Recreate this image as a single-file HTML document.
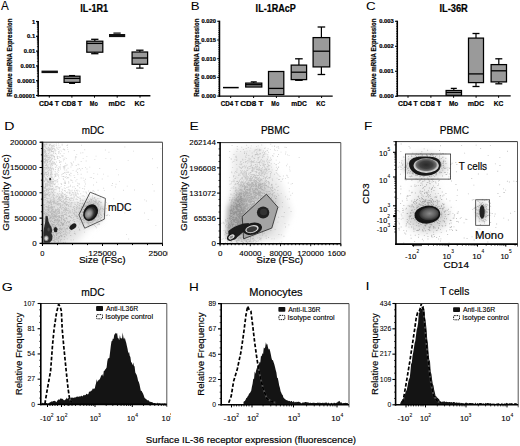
<!DOCTYPE html>
<html><head><meta charset="utf-8"><title>figure</title>
<style>
html,body{margin:0;padding:0;background:#fff;width:520px;height:446px;overflow:hidden}
svg{display:block}
text{font-family:"Liberation Sans",sans-serif;stroke:#000}
</style></head><body>
<svg width="520" height="446" viewBox="0 0 520 446">
<defs>
<radialGradient id="gD" cx="0.4" cy="0.6" r="0.5"><stop offset="0" stop-color="#b0b0b0"/><stop offset="0.5" stop-color="#8a8a8a"/><stop offset="0.85" stop-color="#4a4a4a"/><stop offset="1" stop-color="#2a2a2a"/></radialGradient><radialGradient id="gT" cx="0.5" cy="0.45" r="0.5"><stop offset="0" stop-color="#2a2a2a"/><stop offset="0.5" stop-color="#3e3e3e"/><stop offset="0.78" stop-color="#6a6a6a"/><stop offset="0.9" stop-color="#bdbdbd"/><stop offset="1" stop-color="#d6d6d6"/></radialGradient><radialGradient id="gN" cx="0.58" cy="0.45" r="0.5"><stop offset="0" stop-color="#8a8a8a"/><stop offset="0.6" stop-color="#5a5a5a"/><stop offset="0.9" stop-color="#333"/><stop offset="1" stop-color="#1a1a1a"/></radialGradient><clipPath id="hc3"><path d="M41.5 404.3L42.2 402.5L42.9 403.6L43.6 403.2L44.3 403.2L45.0 403.3L45.7 402.5L46.4 403.2L47.1 402.9L47.8 404.5L48.5 403.2L49.2 402.7L49.9 402.4L50.6 401.9L51.3 401.5L52.0 401.4L52.7 401.4L53.4 400.9L54.1 401.0L54.8 400.8L55.5 401.2L56.2 402.2L56.9 401.5L57.6 400.3L58.3 399.6L59.0 399.5L59.7 399.7L60.4 398.5L61.1 398.2L61.8 399.1L62.5 398.7L63.2 399.4L63.9 400.2L64.6 400.3L65.3 399.6L66.0 399.2L66.7 397.4L67.4 399.0L68.1 398.3L68.8 398.1L69.5 398.8L70.2 398.7L70.9 398.1L71.6 397.6L72.3 397.8L73.0 397.6L73.7 398.0L74.4 397.6L75.1 397.3L75.8 397.5L76.5 396.8L77.2 396.4L77.9 396.8L78.6 396.7L79.3 396.4L80.0 396.2L80.7 396.6L81.4 395.4L82.1 396.4L82.8 396.1L83.5 395.0L84.2 395.4L84.9 394.8L85.6 395.2L86.3 393.8L87.0 394.0L87.7 394.4L88.4 394.0L89.1 391.6L89.8 391.7L90.5 391.5L91.2 390.2L91.9 390.9L92.6 388.6L93.3 389.3L94.0 388.0L94.7 388.9L95.4 385.5L96.1 382.9L96.8 379.2L97.5 382.1L98.2 380.4L98.9 379.7L99.6 379.5L100.3 377.9L101.0 376.0L101.7 375.0L102.4 374.3L103.1 376.4L103.8 371.1L104.5 370.7L105.2 369.5L105.9 368.8L106.6 367.4L107.3 361.6L108.0 358.2L108.7 358.6L109.4 357.8L110.1 352.1L110.8 346.1L111.5 341.2L112.2 340.9L112.9 338.6L113.6 338.9L114.3 334.4L115.0 334.3L115.7 332.8L116.4 333.8L117.1 333.0L117.8 338.1L118.5 338.3L119.2 340.3L119.9 334.9L120.6 338.2L121.3 338.1L122.0 338.9L122.7 332.6L123.4 337.3L124.1 339.4L124.8 337.6L125.5 340.5L126.2 342.7L126.9 346.1L127.6 349.0L128.3 353.4L129.0 351.6L129.7 355.7L130.4 357.0L131.1 362.2L131.8 362.4L132.5 365.2L133.2 362.5L133.9 365.8L134.6 366.5L135.3 372.6L136.0 373.8L136.7 375.0L137.4 377.4L138.1 380.8L138.8 382.0L139.5 384.2L140.2 387.7L140.9 391.0L141.6 390.8L142.3 392.3L143.0 393.6L143.7 395.2L144.4 397.5L145.1 398.5L145.8 398.7L146.5 399.4L147.2 399.9L147.9 400.4L148.6 400.3L149.3 401.3L150.0 401.9L150.7 401.8L151.4 402.1L152.1 402.2L152.8 402.5L153.5 403.2L154.2 402.9L154.9 403.1L155.6 403.5L156.3 403.5L157.0 403.9L157.7 402.5L158.4 403.7L159.1 403.2L159.8 403.4L160.5 403.7L161.2 403.8L161.9 403.9L162.6 403.5L163.3 404.1L164.0 403.4L164.7 403.5L165.4 403.9L166.0 403.6L166.0 404.5L41.5 404.5Z"/></clipPath><clipPath id="hc4"><path d="M243.5 402.1L244.2 401.3L244.9 401.0L245.6 399.7L246.3 398.0L247.0 397.7L247.7 396.3L248.4 395.4L249.1 393.6L249.8 393.2L250.5 392.0L251.2 390.7L251.9 386.8L252.6 383.7L253.3 378.6L254.0 379.3L254.7 371.4L255.4 373.8L256.1 370.4L256.8 368.2L257.5 366.7L258.2 364.8L258.9 364.6L259.6 361.9L260.3 362.6L261.0 355.5L261.7 356.5L262.4 353.2L263.1 354.0L263.8 347.5L264.5 348.4L265.2 347.1L265.9 342.2L266.6 344.8L267.3 344.1L268.0 347.4L268.7 349.5L269.4 348.7L270.1 351.1L270.8 354.2L271.5 357.9L272.2 360.2L272.9 359.9L273.6 362.3L274.3 364.3L275.0 367.1L275.7 369.9L276.4 372.4L277.1 377.7L277.8 378.1L278.5 381.6L279.2 385.5L279.9 387.8L280.6 391.2L281.3 392.8L282.0 394.5L282.7 395.1L283.4 397.5L284.1 398.3L284.8 399.0L285.5 399.6L286.2 399.9L286.9 400.3L287.6 400.4L288.3 400.7L289.0 401.2L289.7 400.8L290.4 401.7L291.1 401.1L291.8 401.0L292.5 402.3L293.2 401.6L293.9 401.3L294.6 402.5L295.3 401.8L296.0 402.4L296.7 401.8L297.4 402.1L298.1 401.7L298.8 401.7L299.5 402.1L300.2 402.5L300.9 402.8L301.6 403.4L302.3 402.2L303.0 402.9L303.7 402.3L304.4 402.5L305.1 402.1L305.8 402.1L306.5 402.3L307.2 402.2L307.9 402.6L308.6 402.4L309.3 403.1L310.0 402.7L310.7 402.7L311.4 403.1L312.1 402.9L312.8 402.7L313.5 402.7L314.2 402.7L314.9 403.1L315.6 403.0L316.3 402.9L317.0 403.0L317.7 402.6L318.4 403.0L319.1 402.3L319.8 403.3L320.5 402.8L321.2 402.9L321.9 403.0L322.6 402.8L323.3 402.7L324.0 403.2L324.7 402.8L325.4 402.5L326.1 403.0L326.8 402.2L327.5 403.4L328.2 402.7L328.9 402.8L329.6 403.6L330.3 403.6L331.0 402.8L331.7 403.0L332.4 403.2L333.1 403.4L333.8 402.8L334.5 402.8L335.2 403.2L335.9 402.9L336.6 402.8L337.3 402.5L338.0 401.6L338.7 401.4L339.4 400.8L340.1 402.0L340.8 402.8L341.5 402.3L342.2 403.3L342.9 403.3L343.6 402.9L344.3 402.9L345.0 403.0L345.7 402.7L346.4 402.9L347.1 403.0L347.8 403.2L348.0 403.0L348.0 404.5L243.5 404.5Z"/></clipPath><clipPath id="hc5"><path d="M400.6 402.5L401.3 401.1L402.0 400.4L402.7 399.5L403.4 398.6L404.1 397.0L404.8 395.1L405.5 392.5L406.2 391.0L406.9 389.3L407.6 385.8L408.3 381.8L409.0 378.9L409.7 378.0L410.4 371.8L411.1 364.0L411.8 362.7L412.5 356.1L413.2 352.5L413.9 348.2L414.6 343.2L415.3 341.0L416.0 335.3L416.7 329.8L417.4 327.2L418.1 323.0L418.8 313.3L419.5 312.4L420.2 309.4L420.9 309.3L421.6 308.6L422.3 309.0L423.0 306.1L423.7 305.9L424.4 310.5L425.1 317.8L425.8 322.5L426.5 328.9L427.2 338.9L427.9 343.2L428.6 354.3L429.3 359.9L430.0 361.2L430.7 371.9L431.4 374.1L432.1 379.8L432.8 384.0L433.5 385.8L434.2 390.1L434.9 392.8L435.6 396.1L436.3 396.2L437.0 397.7L437.7 397.7L438.4 398.7L439.1 399.2L439.8 400.9L440.5 401.2L441.2 402.2L441.9 401.5L442.6 401.7L443.3 401.8L444.0 401.2L444.7 401.5L445.4 402.2L446.1 401.6L446.8 401.9L447.5 401.9L448.2 402.2L448.9 401.9L449.6 402.0L450.3 402.3L451.0 402.3L451.7 402.0L452.4 402.8L453.1 401.9L453.8 402.0L454.5 402.1L455.2 403.1L455.9 402.6L456.6 402.4L457.3 402.4L458.0 403.2L458.7 402.6L459.4 402.6L460.1 403.5L460.8 402.7L461.5 403.1L462.2 403.2L462.9 403.0L463.6 403.2L464.3 403.8L465.0 403.0L465.7 402.7L466.4 402.5L467.1 403.2L467.8 403.1L468.5 403.4L469.2 403.1L469.9 403.1L470.6 403.0L471.3 403.0L472.0 403.3L472.7 403.1L473.4 403.3L474.1 404.1L474.8 403.5L475.5 402.6L476.2 404.0L476.9 403.4L477.6 402.9L478.3 403.7L479.0 403.3L479.7 403.0L480.4 403.0L481.1 402.9L481.8 403.3L482.5 403.8L483.2 403.2L483.9 403.5L484.6 404.1L485.3 402.8L486.0 403.4L486.7 403.2L487.4 402.9L488.1 402.9L488.8 403.3L489.5 403.5L490.2 403.1L490.9 403.4L491.6 403.7L492.3 403.5L493.0 403.7L493.7 403.6L494.4 403.6L495.1 404.2L495.8 403.7L496.5 403.4L497.2 403.7L497.9 403.0L498.6 403.3L499.3 403.7L500.0 403.7L500.7 404.1L501.4 403.4L502.1 402.8L502.8 404.2L503.5 403.9L504.2 403.0L504.9 404.0L505.6 403.5L506.3 402.7L507.0 403.3L507.7 403.2L508.4 404.1L509.1 403.1L509.8 403.4L510.5 403.3L511.2 403.3L511.9 403.1L512.6 403.6L513.3 403.9L514.0 403.7L514.7 403.1L515.4 403.0L516.1 403.5L516.8 403.2L517.0 403.5L517.0 404.8L399.9 404.8Z"/></clipPath>
<filter id="bs" x="-5%" y="-5%" width="110%" height="110%"><feGaussianBlur stdDeviation="0.3"/></filter>
<filter id="bl2" x="-50%" y="-50%" width="200%" height="200%"><feGaussianBlur stdDeviation="2"/></filter>
<filter id="bl3" x="-50%" y="-50%" width="200%" height="200%"><feGaussianBlur stdDeviation="3"/></filter>
<filter id="bl4" x="-50%" y="-50%" width="200%" height="200%"><feGaussianBlur stdDeviation="4"/></filter>
<filter id="bl5" x="-50%" y="-50%" width="200%" height="200%"><feGaussianBlur stdDeviation="5"/></filter>
<clipPath id="cD"><rect x="42.5" y="142.2" width="120" height="101.3"/></clipPath>
<clipPath id="cE"><rect x="220.1" y="142.6" width="120.7" height="101.1"/></clipPath>
<clipPath id="cF"><rect x="396" y="141.6" width="121.5" height="102.5"/></clipPath>
<clipPath id="c3"><rect x="0" y="280" width="171" height="150"/></clipPath>
<clipPath id="c4"><rect x="172" y="280" width="178.5" height="150"/></clipPath>
<clipPath id="c1"><rect x="0" y="112" width="167.6" height="320"/></clipPath>
<clipPath id="c2"><rect x="172" y="112" width="174" height="320"/></clipPath>
</defs>
<text x="0.9" y="9.5" font-size="12" textLength="7.82" lengthAdjust="spacingAndGlyphs" fill="#000" stroke-width="0.02">A</text>
<text x="190.74" y="9.5" font-size="11.4" textLength="8.85" lengthAdjust="spacingAndGlyphs" fill="#000" stroke-width="0.02">B</text>
<text x="366.13" y="9.7" font-size="11.4" textLength="9.67" lengthAdjust="spacingAndGlyphs" fill="#000" stroke-width="0.02">C</text>
<text x="4.17" y="130.4" font-size="11.4" textLength="10.2" lengthAdjust="spacingAndGlyphs" fill="#000" stroke-width="0.02">D</text>
<text x="189.48" y="130.4" font-size="11.4" textLength="9.3" lengthAdjust="spacingAndGlyphs" fill="#000" stroke-width="0.02">E</text>
<text x="363.91" y="130.4" font-size="11.4" textLength="8.35" lengthAdjust="spacingAndGlyphs" fill="#000" stroke-width="0.02">F</text>
<text x="1.69" y="291.2" font-size="11.4" textLength="11.04" lengthAdjust="spacingAndGlyphs" fill="#000" stroke-width="0.02">G</text>
<text x="189.11" y="291.2" font-size="11.4" textLength="9.8" lengthAdjust="spacingAndGlyphs" fill="#000" stroke-width="0.02">H</text>
<text x="365.47" y="289.8" font-size="10.5" textLength="4.09" lengthAdjust="spacingAndGlyphs" fill="#000" stroke-width="0.02">I</text>
<line x1="38.2" y1="20.9" x2="38.2" y2="96.5" stroke="#000" stroke-width="1.5"/>
<line x1="37.5" y1="95.8" x2="150.4" y2="95.8" stroke="#000" stroke-width="1.4"/>
<line x1="36" y1="21.5" x2="38.2" y2="21.5" stroke="#000" stroke-width="1.2"/>
<text x="31.91" y="23.5" font-size="5.6" font-weight="bold" textLength="3.24" lengthAdjust="spacingAndGlyphs" fill="#000" stroke-width="0.2">1</text>
<line x1="36" y1="36.3" x2="38.2" y2="36.3" stroke="#000" stroke-width="1.2"/>
<text x="27.05" y="38.3" font-size="5.6" font-weight="bold" textLength="8.1" lengthAdjust="spacingAndGlyphs" fill="#000" stroke-width="0.2">0.1</text>
<line x1="36" y1="51.1" x2="38.2" y2="51.1" stroke="#000" stroke-width="1.2"/>
<text x="23.82" y="53.1" font-size="5.6" font-weight="bold" textLength="11.34" lengthAdjust="spacingAndGlyphs" fill="#000" stroke-width="0.2">0.01</text>
<line x1="36" y1="65.9" x2="38.2" y2="65.9" stroke="#000" stroke-width="1.2"/>
<text x="20.59" y="67.9" font-size="5.6" font-weight="bold" textLength="14.57" lengthAdjust="spacingAndGlyphs" fill="#000" stroke-width="0.2">0.001</text>
<line x1="36" y1="80.7" x2="38.2" y2="80.7" stroke="#000" stroke-width="1.2"/>
<text x="17.32" y="82.7" font-size="5.6" font-weight="bold" textLength="17.81" lengthAdjust="spacingAndGlyphs" fill="#000" stroke-width="0.2">0.0001</text>
<line x1="36" y1="95.5" x2="38.2" y2="95.5" stroke="#000" stroke-width="1.2"/>
<text x="14.09" y="97.5" font-size="5.6" font-weight="bold" textLength="21.05" lengthAdjust="spacingAndGlyphs" fill="#000" stroke-width="0.2">0.00001</text>
<line x1="36.9" y1="31.84" x2="38.2" y2="31.84" stroke="#000" stroke-width="0.7"/>
<line x1="36.9" y1="29.24" x2="38.2" y2="29.24" stroke="#000" stroke-width="0.7"/>
<line x1="36.9" y1="27.39" x2="38.2" y2="27.39" stroke="#000" stroke-width="0.7"/>
<line x1="36.9" y1="25.96" x2="38.2" y2="25.96" stroke="#000" stroke-width="0.7"/>
<line x1="36.9" y1="24.78" x2="38.2" y2="24.78" stroke="#000" stroke-width="0.7"/>
<line x1="36.9" y1="23.79" x2="38.2" y2="23.79" stroke="#000" stroke-width="0.7"/>
<line x1="36.9" y1="22.93" x2="38.2" y2="22.93" stroke="#000" stroke-width="0.7"/>
<line x1="36.9" y1="22.18" x2="38.2" y2="22.18" stroke="#000" stroke-width="0.7"/>
<line x1="36.9" y1="46.64" x2="38.2" y2="46.64" stroke="#000" stroke-width="0.7"/>
<line x1="36.9" y1="44.04" x2="38.2" y2="44.04" stroke="#000" stroke-width="0.7"/>
<line x1="36.9" y1="42.19" x2="38.2" y2="42.19" stroke="#000" stroke-width="0.7"/>
<line x1="36.9" y1="40.76" x2="38.2" y2="40.76" stroke="#000" stroke-width="0.7"/>
<line x1="36.9" y1="39.58" x2="38.2" y2="39.58" stroke="#000" stroke-width="0.7"/>
<line x1="36.9" y1="38.59" x2="38.2" y2="38.59" stroke="#000" stroke-width="0.7"/>
<line x1="36.9" y1="37.73" x2="38.2" y2="37.73" stroke="#000" stroke-width="0.7"/>
<line x1="36.9" y1="36.98" x2="38.2" y2="36.98" stroke="#000" stroke-width="0.7"/>
<line x1="36.9" y1="61.44" x2="38.2" y2="61.44" stroke="#000" stroke-width="0.7"/>
<line x1="36.9" y1="58.84" x2="38.2" y2="58.84" stroke="#000" stroke-width="0.7"/>
<line x1="36.9" y1="56.99" x2="38.2" y2="56.99" stroke="#000" stroke-width="0.7"/>
<line x1="36.9" y1="55.56" x2="38.2" y2="55.56" stroke="#000" stroke-width="0.7"/>
<line x1="36.9" y1="54.38" x2="38.2" y2="54.38" stroke="#000" stroke-width="0.7"/>
<line x1="36.9" y1="53.39" x2="38.2" y2="53.39" stroke="#000" stroke-width="0.7"/>
<line x1="36.9" y1="52.53" x2="38.2" y2="52.53" stroke="#000" stroke-width="0.7"/>
<line x1="36.9" y1="51.78" x2="38.2" y2="51.78" stroke="#000" stroke-width="0.7"/>
<line x1="36.9" y1="76.24" x2="38.2" y2="76.24" stroke="#000" stroke-width="0.7"/>
<line x1="36.9" y1="73.64" x2="38.2" y2="73.64" stroke="#000" stroke-width="0.7"/>
<line x1="36.9" y1="71.79" x2="38.2" y2="71.79" stroke="#000" stroke-width="0.7"/>
<line x1="36.9" y1="70.36" x2="38.2" y2="70.36" stroke="#000" stroke-width="0.7"/>
<line x1="36.9" y1="69.18" x2="38.2" y2="69.18" stroke="#000" stroke-width="0.7"/>
<line x1="36.9" y1="68.19" x2="38.2" y2="68.19" stroke="#000" stroke-width="0.7"/>
<line x1="36.9" y1="67.33" x2="38.2" y2="67.33" stroke="#000" stroke-width="0.7"/>
<line x1="36.9" y1="66.58" x2="38.2" y2="66.58" stroke="#000" stroke-width="0.7"/>
<line x1="36.9" y1="91.04" x2="38.2" y2="91.04" stroke="#000" stroke-width="0.7"/>
<line x1="36.9" y1="88.44" x2="38.2" y2="88.44" stroke="#000" stroke-width="0.7"/>
<line x1="36.9" y1="86.59" x2="38.2" y2="86.59" stroke="#000" stroke-width="0.7"/>
<line x1="36.9" y1="85.16" x2="38.2" y2="85.16" stroke="#000" stroke-width="0.7"/>
<line x1="36.9" y1="83.98" x2="38.2" y2="83.98" stroke="#000" stroke-width="0.7"/>
<line x1="36.9" y1="82.99" x2="38.2" y2="82.99" stroke="#000" stroke-width="0.7"/>
<line x1="36.9" y1="82.13" x2="38.2" y2="82.13" stroke="#000" stroke-width="0.7"/>
<line x1="36.9" y1="81.38" x2="38.2" y2="81.38" stroke="#000" stroke-width="0.7"/>
<line x1="49.3" y1="95.8" x2="49.3" y2="97.7" stroke="#000" stroke-width="1"/>
<line x1="71.9" y1="95.8" x2="71.9" y2="97.7" stroke="#000" stroke-width="1"/>
<line x1="94.5" y1="95.8" x2="94.5" y2="97.7" stroke="#000" stroke-width="1"/>
<line x1="117.2" y1="95.8" x2="117.2" y2="97.7" stroke="#000" stroke-width="1"/>
<line x1="140" y1="95.8" x2="140" y2="97.7" stroke="#000" stroke-width="1"/>
<text x="39.12" y="105.8" font-size="7.4" font-weight="bold" textLength="19.94" lengthAdjust="spacingAndGlyphs" fill="#000" stroke-width="0.2">CD4 T</text>
<text x="61.41" y="105.8" font-size="7.4" font-weight="bold" textLength="20.75" lengthAdjust="spacingAndGlyphs" fill="#000" stroke-width="0.2">CD8 T</text>
<text x="89.74" y="105.8" font-size="7.4" font-weight="bold" textLength="8.08" lengthAdjust="spacingAndGlyphs" fill="#000" stroke-width="0.2">Mo</text>
<text x="108.54" y="105.8" font-size="7.4" font-weight="bold" textLength="16.46" lengthAdjust="spacingAndGlyphs" fill="#000" stroke-width="0.2">mDC</text>
<text x="134.44" y="105.8" font-size="7.4" font-weight="bold" textLength="10.16" lengthAdjust="spacingAndGlyphs" fill="#000" stroke-width="0.2">KC</text>
<text x="80.31" y="11.8" font-size="10" font-weight="bold" textLength="27.83" lengthAdjust="spacingAndGlyphs" fill="#000" stroke-width="0.2">IL-1R1</text>
<text transform="translate(11.9 96.4) rotate(-90)" x="-0.4" y="0" font-size="6.5" font-weight="bold" textLength="78.17" lengthAdjust="spacingAndGlyphs" stroke-width="0.2">Relative mRNA Expression</text>
<rect x="41.5" y="70.6" width="16.4" height="2.5" fill="#111" stroke="none" stroke-width="1"/>
<line x1="72.05" y1="75.6" x2="72.05" y2="76.2" stroke="#000" stroke-width="1.2"/>
<line x1="69.05" y1="75.6" x2="75.05" y2="75.6" stroke="#000" stroke-width="1.3"/>
<line x1="72.05" y1="82.4" x2="72.05" y2="83.3" stroke="#000" stroke-width="1.2"/>
<line x1="69.05" y1="83.3" x2="75.05" y2="83.3" stroke="#000" stroke-width="1.3"/>
<rect x="64.1" y="76.2" width="15.9" height="6.2" fill="#9a9a9a" stroke="#000" stroke-width="1.25"/>
<line x1="64.1" y1="78.4" x2="80" y2="78.4" stroke="#000" stroke-width="1.3"/>
<line x1="94.8" y1="39.3" x2="94.8" y2="41.2" stroke="#000" stroke-width="1.2"/>
<line x1="91.15" y1="39.3" x2="98.45" y2="39.3" stroke="#000" stroke-width="1.3"/>
<line x1="94.8" y1="52.2" x2="94.8" y2="53.7" stroke="#000" stroke-width="1.2"/>
<line x1="91.15" y1="53.7" x2="98.45" y2="53.7" stroke="#000" stroke-width="1.3"/>
<rect x="86.8" y="41.2" width="16" height="11" fill="#9a9a9a" stroke="#000" stroke-width="1.25"/>
<line x1="86.8" y1="43.4" x2="102.8" y2="43.4" stroke="#000" stroke-width="1.3"/>
<rect x="109" y="34" width="16.2" height="3.1" fill="#111" stroke="none" stroke-width="1"/>
<line x1="139.85" y1="50.2" x2="139.85" y2="52" stroke="#000" stroke-width="1.2"/>
<line x1="136.15" y1="50.2" x2="143.55" y2="50.2" stroke="#000" stroke-width="1.3"/>
<line x1="139.85" y1="64.3" x2="139.85" y2="68.1" stroke="#000" stroke-width="1.2"/>
<line x1="136.15" y1="68.1" x2="143.55" y2="68.1" stroke="#000" stroke-width="1.3"/>
<rect x="132.1" y="52" width="15.5" height="12.3" fill="#9a9a9a" stroke="#000" stroke-width="1.25"/>
<line x1="132.1" y1="58" x2="147.6" y2="58" stroke="#000" stroke-width="1.3"/>
<line x1="113.4" y1="33.1" x2="120.7" y2="33.1" stroke="#000" stroke-width="1.2"/>
<line x1="219.5" y1="20.7" x2="219.5" y2="96.8" stroke="#000" stroke-width="1.5"/>
<line x1="218.8" y1="96.1" x2="332.7" y2="96.1" stroke="#000" stroke-width="1.4"/>
<line x1="217.3" y1="21.3" x2="219.5" y2="21.3" stroke="#000" stroke-width="1.2"/>
<text x="201.47" y="23.3" font-size="5.6" font-weight="bold" textLength="14.57" lengthAdjust="spacingAndGlyphs" fill="#000" stroke-width="0.2">0.020</text>
<line x1="217.3" y1="40" x2="219.5" y2="40" stroke="#000" stroke-width="1.2"/>
<text x="201.39" y="42" font-size="5.6" font-weight="bold" textLength="14.57" lengthAdjust="spacingAndGlyphs" fill="#000" stroke-width="0.2">0.015</text>
<line x1="217.3" y1="58.7" x2="219.5" y2="58.7" stroke="#000" stroke-width="1.2"/>
<text x="201.47" y="60.7" font-size="5.6" font-weight="bold" textLength="14.57" lengthAdjust="spacingAndGlyphs" fill="#000" stroke-width="0.2">0.010</text>
<line x1="217.3" y1="77.4" x2="219.5" y2="77.4" stroke="#000" stroke-width="1.2"/>
<text x="201.39" y="79.4" font-size="5.6" font-weight="bold" textLength="14.57" lengthAdjust="spacingAndGlyphs" fill="#000" stroke-width="0.2">0.005</text>
<line x1="217.3" y1="96.1" x2="219.5" y2="96.1" stroke="#000" stroke-width="1.2"/>
<text x="201.47" y="98.1" font-size="5.6" font-weight="bold" textLength="14.57" lengthAdjust="spacingAndGlyphs" fill="#000" stroke-width="0.2">0.000</text>
<line x1="218.2" y1="23.17" x2="219.5" y2="23.17" stroke="#000" stroke-width="0.7"/>
<line x1="218.2" y1="25.04" x2="219.5" y2="25.04" stroke="#000" stroke-width="0.7"/>
<line x1="218.2" y1="26.91" x2="219.5" y2="26.91" stroke="#000" stroke-width="0.7"/>
<line x1="218.2" y1="28.78" x2="219.5" y2="28.78" stroke="#000" stroke-width="0.7"/>
<line x1="218.2" y1="30.65" x2="219.5" y2="30.65" stroke="#000" stroke-width="0.7"/>
<line x1="218.2" y1="32.52" x2="219.5" y2="32.52" stroke="#000" stroke-width="0.7"/>
<line x1="218.2" y1="34.39" x2="219.5" y2="34.39" stroke="#000" stroke-width="0.7"/>
<line x1="218.2" y1="36.26" x2="219.5" y2="36.26" stroke="#000" stroke-width="0.7"/>
<line x1="218.2" y1="38.13" x2="219.5" y2="38.13" stroke="#000" stroke-width="0.7"/>
<line x1="218.2" y1="41.87" x2="219.5" y2="41.87" stroke="#000" stroke-width="0.7"/>
<line x1="218.2" y1="43.74" x2="219.5" y2="43.74" stroke="#000" stroke-width="0.7"/>
<line x1="218.2" y1="45.61" x2="219.5" y2="45.61" stroke="#000" stroke-width="0.7"/>
<line x1="218.2" y1="47.48" x2="219.5" y2="47.48" stroke="#000" stroke-width="0.7"/>
<line x1="218.2" y1="49.35" x2="219.5" y2="49.35" stroke="#000" stroke-width="0.7"/>
<line x1="218.2" y1="51.22" x2="219.5" y2="51.22" stroke="#000" stroke-width="0.7"/>
<line x1="218.2" y1="53.09" x2="219.5" y2="53.09" stroke="#000" stroke-width="0.7"/>
<line x1="218.2" y1="54.96" x2="219.5" y2="54.96" stroke="#000" stroke-width="0.7"/>
<line x1="218.2" y1="56.83" x2="219.5" y2="56.83" stroke="#000" stroke-width="0.7"/>
<line x1="218.2" y1="60.57" x2="219.5" y2="60.57" stroke="#000" stroke-width="0.7"/>
<line x1="218.2" y1="62.44" x2="219.5" y2="62.44" stroke="#000" stroke-width="0.7"/>
<line x1="218.2" y1="64.31" x2="219.5" y2="64.31" stroke="#000" stroke-width="0.7"/>
<line x1="218.2" y1="66.18" x2="219.5" y2="66.18" stroke="#000" stroke-width="0.7"/>
<line x1="218.2" y1="68.05" x2="219.5" y2="68.05" stroke="#000" stroke-width="0.7"/>
<line x1="218.2" y1="69.92" x2="219.5" y2="69.92" stroke="#000" stroke-width="0.7"/>
<line x1="218.2" y1="71.79" x2="219.5" y2="71.79" stroke="#000" stroke-width="0.7"/>
<line x1="218.2" y1="73.66" x2="219.5" y2="73.66" stroke="#000" stroke-width="0.7"/>
<line x1="218.2" y1="75.53" x2="219.5" y2="75.53" stroke="#000" stroke-width="0.7"/>
<line x1="218.2" y1="79.27" x2="219.5" y2="79.27" stroke="#000" stroke-width="0.7"/>
<line x1="218.2" y1="81.14" x2="219.5" y2="81.14" stroke="#000" stroke-width="0.7"/>
<line x1="218.2" y1="83.01" x2="219.5" y2="83.01" stroke="#000" stroke-width="0.7"/>
<line x1="218.2" y1="84.88" x2="219.5" y2="84.88" stroke="#000" stroke-width="0.7"/>
<line x1="218.2" y1="86.75" x2="219.5" y2="86.75" stroke="#000" stroke-width="0.7"/>
<line x1="218.2" y1="88.62" x2="219.5" y2="88.62" stroke="#000" stroke-width="0.7"/>
<line x1="218.2" y1="90.49" x2="219.5" y2="90.49" stroke="#000" stroke-width="0.7"/>
<line x1="218.2" y1="92.36" x2="219.5" y2="92.36" stroke="#000" stroke-width="0.7"/>
<line x1="218.2" y1="94.23" x2="219.5" y2="94.23" stroke="#000" stroke-width="0.7"/>
<line x1="230.7" y1="96.1" x2="230.7" y2="98" stroke="#000" stroke-width="1"/>
<line x1="253.6" y1="96.1" x2="253.6" y2="98" stroke="#000" stroke-width="1"/>
<line x1="276.4" y1="96.1" x2="276.4" y2="98" stroke="#000" stroke-width="1"/>
<line x1="299" y1="96.1" x2="299" y2="98" stroke="#000" stroke-width="1"/>
<line x1="321.6" y1="96.1" x2="321.6" y2="98" stroke="#000" stroke-width="1"/>
<text x="220.75" y="106.1" font-size="7.4" font-weight="bold" textLength="17.91" lengthAdjust="spacingAndGlyphs" fill="#000" stroke-width="0.2">CD4 T</text>
<text x="240.28" y="106.1" font-size="7.4" font-weight="bold" textLength="23.09" lengthAdjust="spacingAndGlyphs" fill="#000" stroke-width="0.2">CD8 T</text>
<text x="271.35" y="106.1" font-size="7.4" font-weight="bold" textLength="7.87" lengthAdjust="spacingAndGlyphs" fill="#000" stroke-width="0.2">Mo</text>
<text x="291.37" y="106.1" font-size="7.4" font-weight="bold" textLength="15.52" lengthAdjust="spacingAndGlyphs" fill="#000" stroke-width="0.2">mDC</text>
<text x="316.3" y="106.1" font-size="7.4" font-weight="bold" textLength="8.99" lengthAdjust="spacingAndGlyphs" fill="#000" stroke-width="0.2">KC</text>
<text x="255.61" y="11.8" font-size="10" font-weight="bold" textLength="40.26" lengthAdjust="spacingAndGlyphs" fill="#000" stroke-width="0.2">IL-1RAcP</text>
<text transform="translate(198.9 96.4) rotate(-90)" x="-0.4" y="0" font-size="6.5" font-weight="bold" textLength="78.17" lengthAdjust="spacingAndGlyphs" stroke-width="0.2">Relative mRNA Expression</text>
<line x1="223" y1="87.6" x2="238.7" y2="87.6" stroke="#000" stroke-width="1.5"/>
<line x1="253.75" y1="81.9" x2="253.75" y2="83.1" stroke="#000" stroke-width="1.2"/>
<line x1="250.75" y1="81.9" x2="256.75" y2="81.9" stroke="#000" stroke-width="1.3"/>
<rect x="245.7" y="83.1" width="16.1" height="3.9" fill="#9a9a9a" stroke="#000" stroke-width="1.25"/>
<line x1="245.7" y1="84.7" x2="261.8" y2="84.7" stroke="#000" stroke-width="1.3"/>
<rect x="268.5" y="71.5" width="15.3" height="23.1" fill="#9a9a9a" stroke="#000" stroke-width="1.25"/>
<line x1="268.5" y1="88.4" x2="283.8" y2="88.4" stroke="#000" stroke-width="1.3"/>
<line x1="298.9" y1="58.8" x2="298.9" y2="65.1" stroke="#000" stroke-width="1.2"/>
<line x1="295.1" y1="58.8" x2="302.7" y2="58.8" stroke="#000" stroke-width="1.3"/>
<line x1="298.9" y1="79.6" x2="298.9" y2="80.3" stroke="#000" stroke-width="1.2"/>
<line x1="295.1" y1="80.3" x2="302.7" y2="80.3" stroke="#000" stroke-width="1.3"/>
<rect x="291.2" y="65.1" width="15.4" height="14.5" fill="#9a9a9a" stroke="#000" stroke-width="1.25"/>
<line x1="291.2" y1="72.2" x2="306.6" y2="72.2" stroke="#000" stroke-width="1.3"/>
<line x1="321.4" y1="27" x2="321.4" y2="37.6" stroke="#000" stroke-width="1.2"/>
<line x1="317.6" y1="27" x2="325.2" y2="27" stroke="#000" stroke-width="1.3"/>
<line x1="321.4" y1="66.9" x2="321.4" y2="74.5" stroke="#000" stroke-width="1.2"/>
<line x1="317.6" y1="74.5" x2="325.2" y2="74.5" stroke="#000" stroke-width="1.3"/>
<rect x="313.1" y="37.6" width="16.6" height="29.3" fill="#9a9a9a" stroke="#000" stroke-width="1.25"/>
<line x1="313.1" y1="51.2" x2="329.7" y2="51.2" stroke="#000" stroke-width="1.3"/>
<line x1="397.3" y1="20.7" x2="397.3" y2="96.6" stroke="#000" stroke-width="1.5"/>
<line x1="396.6" y1="95.9" x2="510.7" y2="95.9" stroke="#000" stroke-width="1.4"/>
<line x1="395.1" y1="21.3" x2="397.3" y2="21.3" stroke="#000" stroke-width="1.2"/>
<text x="379.24" y="23.3" font-size="5.6" font-weight="bold" textLength="14.57" lengthAdjust="spacingAndGlyphs" fill="#000" stroke-width="0.2">0.003</text>
<line x1="395.1" y1="46.3" x2="397.3" y2="46.3" stroke="#000" stroke-width="1.2"/>
<text x="379.27" y="48.3" font-size="5.6" font-weight="bold" textLength="14.57" lengthAdjust="spacingAndGlyphs" fill="#000" stroke-width="0.2">0.002</text>
<line x1="395.1" y1="71.3" x2="397.3" y2="71.3" stroke="#000" stroke-width="1.2"/>
<text x="379.19" y="73.3" font-size="5.6" font-weight="bold" textLength="14.57" lengthAdjust="spacingAndGlyphs" fill="#000" stroke-width="0.2">0.001</text>
<line x1="395.1" y1="96.3" x2="397.3" y2="96.3" stroke="#000" stroke-width="1.2"/>
<text x="379.27" y="98.3" font-size="5.6" font-weight="bold" textLength="14.57" lengthAdjust="spacingAndGlyphs" fill="#000" stroke-width="0.2">0.000</text>
<line x1="396" y1="23.8" x2="397.3" y2="23.8" stroke="#000" stroke-width="0.7"/>
<line x1="396" y1="26.3" x2="397.3" y2="26.3" stroke="#000" stroke-width="0.7"/>
<line x1="396" y1="28.8" x2="397.3" y2="28.8" stroke="#000" stroke-width="0.7"/>
<line x1="396" y1="31.3" x2="397.3" y2="31.3" stroke="#000" stroke-width="0.7"/>
<line x1="396" y1="33.8" x2="397.3" y2="33.8" stroke="#000" stroke-width="0.7"/>
<line x1="396" y1="36.3" x2="397.3" y2="36.3" stroke="#000" stroke-width="0.7"/>
<line x1="396" y1="38.8" x2="397.3" y2="38.8" stroke="#000" stroke-width="0.7"/>
<line x1="396" y1="41.3" x2="397.3" y2="41.3" stroke="#000" stroke-width="0.7"/>
<line x1="396" y1="43.8" x2="397.3" y2="43.8" stroke="#000" stroke-width="0.7"/>
<line x1="396" y1="48.8" x2="397.3" y2="48.8" stroke="#000" stroke-width="0.7"/>
<line x1="396" y1="51.3" x2="397.3" y2="51.3" stroke="#000" stroke-width="0.7"/>
<line x1="396" y1="53.8" x2="397.3" y2="53.8" stroke="#000" stroke-width="0.7"/>
<line x1="396" y1="56.3" x2="397.3" y2="56.3" stroke="#000" stroke-width="0.7"/>
<line x1="396" y1="58.8" x2="397.3" y2="58.8" stroke="#000" stroke-width="0.7"/>
<line x1="396" y1="61.3" x2="397.3" y2="61.3" stroke="#000" stroke-width="0.7"/>
<line x1="396" y1="63.8" x2="397.3" y2="63.8" stroke="#000" stroke-width="0.7"/>
<line x1="396" y1="66.3" x2="397.3" y2="66.3" stroke="#000" stroke-width="0.7"/>
<line x1="396" y1="68.8" x2="397.3" y2="68.8" stroke="#000" stroke-width="0.7"/>
<line x1="396" y1="73.8" x2="397.3" y2="73.8" stroke="#000" stroke-width="0.7"/>
<line x1="396" y1="76.3" x2="397.3" y2="76.3" stroke="#000" stroke-width="0.7"/>
<line x1="396" y1="78.8" x2="397.3" y2="78.8" stroke="#000" stroke-width="0.7"/>
<line x1="396" y1="81.3" x2="397.3" y2="81.3" stroke="#000" stroke-width="0.7"/>
<line x1="396" y1="83.8" x2="397.3" y2="83.8" stroke="#000" stroke-width="0.7"/>
<line x1="396" y1="86.3" x2="397.3" y2="86.3" stroke="#000" stroke-width="0.7"/>
<line x1="396" y1="88.8" x2="397.3" y2="88.8" stroke="#000" stroke-width="0.7"/>
<line x1="396" y1="91.3" x2="397.3" y2="91.3" stroke="#000" stroke-width="0.7"/>
<line x1="396" y1="93.8" x2="397.3" y2="93.8" stroke="#000" stroke-width="0.7"/>
<line x1="408" y1="95.9" x2="408" y2="97.8" stroke="#000" stroke-width="1"/>
<line x1="430.9" y1="95.9" x2="430.9" y2="97.8" stroke="#000" stroke-width="1"/>
<line x1="453.6" y1="95.9" x2="453.6" y2="97.8" stroke="#000" stroke-width="1"/>
<line x1="476.1" y1="95.9" x2="476.1" y2="97.8" stroke="#000" stroke-width="1"/>
<line x1="498.6" y1="95.9" x2="498.6" y2="97.8" stroke="#000" stroke-width="1"/>
<text x="398.03" y="106.4" font-size="7.4" font-weight="bold" textLength="19.74" lengthAdjust="spacingAndGlyphs" fill="#000" stroke-width="0.2">CD4 T</text>
<text x="420.11" y="106.4" font-size="7.4" font-weight="bold" textLength="21.26" lengthAdjust="spacingAndGlyphs" fill="#000" stroke-width="0.2">CD8 T</text>
<text x="448.88" y="106.4" font-size="7.4" font-weight="bold" textLength="9.27" lengthAdjust="spacingAndGlyphs" fill="#000" stroke-width="0.2">Mo</text>
<text x="467.74" y="106.4" font-size="7.4" font-weight="bold" textLength="16.46" lengthAdjust="spacingAndGlyphs" fill="#000" stroke-width="0.2">mDC</text>
<text x="493.67" y="106.4" font-size="7.4" font-weight="bold" textLength="9.63" lengthAdjust="spacingAndGlyphs" fill="#000" stroke-width="0.2">KC</text>
<text x="439.4" y="11.8" font-size="10" font-weight="bold" textLength="28.4" lengthAdjust="spacingAndGlyphs" fill="#000" stroke-width="0.2">IL-36R</text>
<text transform="translate(375.8 96.4) rotate(-90)" x="-0.4" y="0" font-size="6.5" font-weight="bold" textLength="78.17" lengthAdjust="spacingAndGlyphs" stroke-width="0.2">Relative mRNA Expression</text>
<line x1="453.8" y1="88.4" x2="453.8" y2="90.5" stroke="#000" stroke-width="1.2"/>
<line x1="450.8" y1="88.4" x2="456.8" y2="88.4" stroke="#000" stroke-width="1.3"/>
<rect x="446.1" y="90.5" width="15.4" height="4.8" fill="#9a9a9a" stroke="#000" stroke-width="1.25"/>
<line x1="446.1" y1="92.5" x2="461.5" y2="92.5" stroke="#000" stroke-width="1.3"/>
<line x1="476" y1="33.5" x2="476" y2="38.1" stroke="#000" stroke-width="1.2"/>
<line x1="472.5" y1="33.5" x2="479.5" y2="33.5" stroke="#000" stroke-width="1.3"/>
<line x1="476" y1="82.6" x2="476" y2="86.5" stroke="#000" stroke-width="1.2"/>
<line x1="472.5" y1="86.5" x2="479.5" y2="86.5" stroke="#000" stroke-width="1.3"/>
<rect x="468.5" y="38.1" width="15" height="44.5" fill="#9a9a9a" stroke="#000" stroke-width="1.25"/>
<line x1="468.5" y1="73.9" x2="483.5" y2="73.9" stroke="#000" stroke-width="1.3"/>
<line x1="498.8" y1="58.8" x2="498.8" y2="64.6" stroke="#000" stroke-width="1.2"/>
<line x1="495.3" y1="58.8" x2="502.3" y2="58.8" stroke="#000" stroke-width="1.3"/>
<line x1="498.8" y1="81.9" x2="498.8" y2="83.8" stroke="#000" stroke-width="1.2"/>
<line x1="495.3" y1="83.8" x2="502.3" y2="83.8" stroke="#000" stroke-width="1.3"/>
<rect x="491.1" y="64.6" width="15.4" height="17.3" fill="#9a9a9a" stroke="#000" stroke-width="1.25"/>
<line x1="491.1" y1="70.8" x2="506.5" y2="70.8" stroke="#000" stroke-width="1.3"/>
<g clip-path="url(#c1)">
<g clip-path="url(#cD)">
<g filter="url(#bl3)"><rect x="40" y="140" width="12" height="110" fill="#ebebeb"/></g>
<g filter="url(#bl4)"><polygon points="43,243 43,190 60,195 80,205 96,198 102,212 88,226 75,243" fill="#e2e2e2"/></g>
<g filter="url(#bl3)"><polygon points="43,243 43,205 55,215 70,225 62,243" fill="#d2d2d2"/></g>
<g filter="url(#bl3)"><ellipse cx="91" cy="212" rx="12" ry="13" fill="#c8c8c8" transform="rotate(30 91 212)"/></g>
<path d="M45.5 165.0h0.9v0.9h-0.9zM47.5 230.7h0.9v0.9h-0.9zM47.9 189.6h0.9v0.9h-0.9zM47.9 170.4h0.9v0.9h-0.9zM43.7 187.3h0.9v0.9h-0.9zM57.3 222.5h0.9v0.9h-0.9zM63.4 242.4h0.9v0.9h-0.9zM62.8 158.4h0.9v0.9h-0.9zM56.4 146.7h0.9v0.9h-0.9zM44.2 194.4h0.9v0.9h-0.9zM70.2 235.1h0.9v0.9h-0.9zM59.3 167.3h0.9v0.9h-0.9zM44.1 161.7h0.9v0.9h-0.9zM51.4 162.5h0.9v0.9h-0.9zM52.2 157.8h0.9v0.9h-0.9zM43.7 231.4h0.9v0.9h-0.9zM59.5 197.0h0.9v0.9h-0.9zM43.8 230.5h0.9v0.9h-0.9zM64.5 202.8h0.9v0.9h-0.9zM55.7 181.5h0.9v0.9h-0.9zM48.8 157.4h0.9v0.9h-0.9zM50.0 180.6h0.9v0.9h-0.9zM49.8 202.0h0.9v0.9h-0.9zM49.9 206.8h0.9v0.9h-0.9zM47.6 157.5h0.9v0.9h-0.9zM55.6 166.5h0.9v0.9h-0.9zM44.7 152.0h0.9v0.9h-0.9zM55.1 164.0h0.9v0.9h-0.9zM51.2 172.6h0.9v0.9h-0.9zM64.4 209.3h0.9v0.9h-0.9zM43.6 227.8h0.9v0.9h-0.9zM50.1 233.8h0.9v0.9h-0.9zM46.6 156.9h0.9v0.9h-0.9zM59.3 236.2h0.9v0.9h-0.9zM45.8 160.5h0.9v0.9h-0.9zM43.8 207.2h0.9v0.9h-0.9zM54.8 180.3h0.9v0.9h-0.9zM47.4 166.5h0.9v0.9h-0.9zM49.7 231.0h0.9v0.9h-0.9zM49.9 197.7h0.9v0.9h-0.9zM54.1 218.3h0.9v0.9h-0.9zM48.9 179.9h0.9v0.9h-0.9zM46.3 154.6h0.9v0.9h-0.9zM64.9 208.8h0.9v0.9h-0.9zM52.4 195.3h0.9v0.9h-0.9zM67.2 177.1h0.9v0.9h-0.9zM49.4 211.5h0.9v0.9h-0.9zM47.9 194.8h0.9v0.9h-0.9zM44.8 234.3h0.9v0.9h-0.9zM48.2 236.8h0.9v0.9h-0.9zM54.1 156.1h0.9v0.9h-0.9zM51.9 224.8h0.9v0.9h-0.9zM44.6 205.9h0.9v0.9h-0.9zM49.0 194.2h0.9v0.9h-0.9zM64.5 165.1h0.9v0.9h-0.9zM46.5 179.0h0.9v0.9h-0.9zM51.8 177.3h0.9v0.9h-0.9zM50.8 200.3h0.9v0.9h-0.9zM51.1 169.7h0.9v0.9h-0.9zM59.4 187.2h0.9v0.9h-0.9zM58.4 194.4h0.9v0.9h-0.9zM45.5 233.0h0.9v0.9h-0.9zM53.2 201.0h0.9v0.9h-0.9zM48.5 231.2h0.9v0.9h-0.9zM51.2 235.7h0.9v0.9h-0.9zM56.6 185.8h0.9v0.9h-0.9zM44.2 238.5h0.9v0.9h-0.9zM46.1 214.8h0.9v0.9h-0.9zM45.8 162.8h0.9v0.9h-0.9zM51.4 163.8h0.9v0.9h-0.9zM49.9 227.3h0.9v0.9h-0.9zM46.2 190.7h0.9v0.9h-0.9zM58.5 209.0h0.9v0.9h-0.9zM49.5 239.6h0.9v0.9h-0.9zM50.6 205.8h0.9v0.9h-0.9zM47.5 183.9h0.9v0.9h-0.9zM44.1 224.8h0.9v0.9h-0.9zM55.9 153.7h0.9v0.9h-0.9zM48.1 223.4h0.9v0.9h-0.9zM48.1 146.9h0.9v0.9h-0.9zM45.8 144.2h0.9v0.9h-0.9zM50.0 199.6h0.9v0.9h-0.9zM48.7 202.0h0.9v0.9h-0.9zM52.9 210.9h0.9v0.9h-0.9zM44.0 173.7h0.9v0.9h-0.9zM51.1 196.7h0.9v0.9h-0.9zM52.6 208.9h0.9v0.9h-0.9zM59.2 161.6h0.9v0.9h-0.9zM52.0 146.2h0.9v0.9h-0.9zM52.1 239.5h0.9v0.9h-0.9zM58.8 147.3h0.9v0.9h-0.9zM61.1 174.4h0.9v0.9h-0.9zM53.7 205.7h0.9v0.9h-0.9zM51.7 174.0h0.9v0.9h-0.9zM65.7 222.9h0.9v0.9h-0.9zM59.1 206.9h0.9v0.9h-0.9zM53.2 151.9h0.9v0.9h-0.9zM48.1 206.2h0.9v0.9h-0.9zM47.0 223.6h0.9v0.9h-0.9zM49.7 215.3h0.9v0.9h-0.9zM52.3 232.7h0.9v0.9h-0.9zM51.1 144.9h0.9v0.9h-0.9zM46.2 163.9h0.9v0.9h-0.9zM57.8 237.9h0.9v0.9h-0.9zM58.4 208.8h0.9v0.9h-0.9zM50.7 180.8h0.9v0.9h-0.9zM55.2 180.4h0.9v0.9h-0.9zM66.7 196.9h0.9v0.9h-0.9zM64.2 167.3h0.9v0.9h-0.9zM50.0 188.5h0.9v0.9h-0.9zM57.2 218.5h0.9v0.9h-0.9zM55.4 172.6h0.9v0.9h-0.9zM54.9 219.5h0.9v0.9h-0.9zM48.6 169.5h0.9v0.9h-0.9zM54.0 226.6h0.9v0.9h-0.9zM50.0 161.2h0.9v0.9h-0.9zM56.5 231.7h0.9v0.9h-0.9zM61.4 215.9h0.9v0.9h-0.9zM47.6 225.9h0.9v0.9h-0.9zM46.7 179.8h0.9v0.9h-0.9zM45.3 194.8h0.9v0.9h-0.9zM45.5 196.5h0.9v0.9h-0.9zM55.6 233.0h0.9v0.9h-0.9zM48.6 207.5h0.9v0.9h-0.9zM53.1 227.6h0.9v0.9h-0.9zM49.9 182.2h0.9v0.9h-0.9zM44.9 160.9h0.9v0.9h-0.9zM44.7 219.0h0.9v0.9h-0.9zM59.1 187.3h0.9v0.9h-0.9zM49.5 227.7h0.9v0.9h-0.9zM48.1 181.5h0.9v0.9h-0.9zM46.3 215.3h0.9v0.9h-0.9zM46.8 181.4h0.9v0.9h-0.9zM44.9 219.2h0.9v0.9h-0.9zM60.0 157.2h0.9v0.9h-0.9zM51.9 225.8h0.9v0.9h-0.9zM51.0 154.7h0.9v0.9h-0.9zM57.6 242.3h0.9v0.9h-0.9zM45.9 200.4h0.9v0.9h-0.9zM44.6 218.2h0.9v0.9h-0.9zM53.4 234.8h0.9v0.9h-0.9zM64.7 220.1h0.9v0.9h-0.9zM44.7 190.2h0.9v0.9h-0.9zM46.0 174.0h0.9v0.9h-0.9zM54.7 215.1h0.9v0.9h-0.9zM52.5 148.0h0.9v0.9h-0.9zM59.3 232.2h0.9v0.9h-0.9zM48.6 167.2h0.9v0.9h-0.9zM44.7 165.2h0.9v0.9h-0.9zM57.4 193.2h0.9v0.9h-0.9zM58.8 160.1h0.9v0.9h-0.9zM52.9 191.3h0.9v0.9h-0.9zM48.0 210.1h0.9v0.9h-0.9zM44.8 195.6h0.9v0.9h-0.9zM45.8 194.5h0.9v0.9h-0.9zM63.1 160.4h0.9v0.9h-0.9zM46.8 237.6h0.9v0.9h-0.9zM58.0 240.5h0.9v0.9h-0.9zM50.3 193.5h0.9v0.9h-0.9zM61.3 234.9h0.9v0.9h-0.9zM50.0 174.1h0.9v0.9h-0.9zM67.3 148.9h0.9v0.9h-0.9zM51.1 189.3h0.9v0.9h-0.9zM55.2 219.3h0.9v0.9h-0.9zM55.2 228.3h0.9v0.9h-0.9zM54.2 216.7h0.9v0.9h-0.9zM47.7 159.2h0.9v0.9h-0.9zM44.0 159.0h0.9v0.9h-0.9zM46.2 202.6h0.9v0.9h-0.9zM58.4 237.1h0.9v0.9h-0.9zM44.6 194.3h0.9v0.9h-0.9zM53.5 240.0h0.9v0.9h-0.9zM51.1 223.6h0.9v0.9h-0.9zM46.8 223.4h0.9v0.9h-0.9zM53.8 207.4h0.9v0.9h-0.9zM55.8 186.1h0.9v0.9h-0.9zM51.4 212.3h0.9v0.9h-0.9zM63.4 176.1h0.9v0.9h-0.9zM49.1 163.4h0.9v0.9h-0.9zM46.7 220.1h0.9v0.9h-0.9zM54.9 215.9h0.9v0.9h-0.9zM44.4 239.3h0.9v0.9h-0.9zM49.6 183.6h0.9v0.9h-0.9zM60.9 195.2h0.9v0.9h-0.9zM53.3 150.8h0.9v0.9h-0.9zM54.3 198.7h0.9v0.9h-0.9zM54.0 146.2h0.9v0.9h-0.9zM47.5 206.1h0.9v0.9h-0.9zM48.4 149.7h0.9v0.9h-0.9zM45.9 164.7h0.9v0.9h-0.9zM56.7 231.2h0.9v0.9h-0.9zM52.2 188.2h0.9v0.9h-0.9zM53.2 224.0h0.9v0.9h-0.9zM48.2 205.0h0.9v0.9h-0.9zM51.1 210.9h0.9v0.9h-0.9zM45.0 183.3h0.9v0.9h-0.9zM49.0 182.3h0.9v0.9h-0.9zM49.1 180.7h0.9v0.9h-0.9zM54.4 218.7h0.9v0.9h-0.9zM52.5 180.8h0.9v0.9h-0.9zM61.4 221.7h0.9v0.9h-0.9zM54.4 214.4h0.9v0.9h-0.9zM59.3 198.7h0.9v0.9h-0.9zM50.7 210.8h0.9v0.9h-0.9zM46.7 184.8h0.9v0.9h-0.9zM50.4 171.8h0.9v0.9h-0.9zM50.8 185.8h0.9v0.9h-0.9zM53.2 187.5h0.9v0.9h-0.9zM62.7 201.1h0.9v0.9h-0.9zM46.0 232.3h0.9v0.9h-0.9zM53.9 149.6h0.9v0.9h-0.9zM53.6 162.3h0.9v0.9h-0.9zM50.7 226.1h0.9v0.9h-0.9zM53.1 190.2h0.9v0.9h-0.9zM46.4 188.6h0.9v0.9h-0.9zM73.5 197.5h0.9v0.9h-0.9zM54.3 174.3h0.9v0.9h-0.9zM54.4 220.3h0.9v0.9h-0.9zM59.1 216.4h0.9v0.9h-0.9zM57.7 187.3h0.9v0.9h-0.9zM46.9 211.4h0.9v0.9h-0.9zM63.3 207.4h0.9v0.9h-0.9zM43.5 190.5h0.9v0.9h-0.9zM56.7 239.7h0.9v0.9h-0.9zM44.0 173.2h0.9v0.9h-0.9zM50.7 220.4h0.9v0.9h-0.9zM54.0 162.0h0.9v0.9h-0.9zM43.6 174.8h0.9v0.9h-0.9zM44.5 191.6h0.9v0.9h-0.9zM52.9 208.7h0.9v0.9h-0.9zM48.5 220.0h0.9v0.9h-0.9zM49.3 156.6h0.9v0.9h-0.9zM65.3 207.0h0.9v0.9h-0.9zM44.2 156.2h0.9v0.9h-0.9zM47.2 170.9h0.9v0.9h-0.9zM53.2 144.8h0.9v0.9h-0.9zM48.6 158.9h0.9v0.9h-0.9zM55.7 143.7h0.9v0.9h-0.9zM44.1 169.5h0.9v0.9h-0.9zM47.3 160.8h0.9v0.9h-0.9zM60.8 183.4h0.9v0.9h-0.9zM45.2 224.9h0.9v0.9h-0.9zM46.7 235.8h0.9v0.9h-0.9zM45.4 209.9h0.9v0.9h-0.9zM47.2 209.4h0.9v0.9h-0.9zM59.2 220.4h0.9v0.9h-0.9zM55.4 238.8h0.9v0.9h-0.9zM45.1 153.8h0.9v0.9h-0.9zM52.9 145.5h0.9v0.9h-0.9zM70.4 234.9h0.9v0.9h-0.9zM58.9 204.2h0.9v0.9h-0.9zM49.5 210.9h0.9v0.9h-0.9zM46.6 238.7h0.9v0.9h-0.9zM61.7 176.2h0.9v0.9h-0.9zM43.6 144.1h0.9v0.9h-0.9zM56.4 212.5h0.9v0.9h-0.9zM47.2 228.5h0.9v0.9h-0.9zM43.7 176.3h0.9v0.9h-0.9zM51.0 155.6h0.9v0.9h-0.9zM50.5 173.0h0.9v0.9h-0.9zM54.3 236.2h0.9v0.9h-0.9zM45.9 233.2h0.9v0.9h-0.9zM53.5 228.7h0.9v0.9h-0.9zM45.9 167.1h0.9v0.9h-0.9zM46.5 223.2h0.9v0.9h-0.9zM52.0 163.7h0.9v0.9h-0.9zM46.2 237.3h0.9v0.9h-0.9zM46.7 213.4h0.9v0.9h-0.9zM72.9 194.5h0.9v0.9h-0.9zM48.5 197.9h0.9v0.9h-0.9zM61.2 150.7h0.9v0.9h-0.9zM45.9 219.7h0.9v0.9h-0.9zM51.2 173.9h0.9v0.9h-0.9zM64.0 171.9h0.9v0.9h-0.9zM57.3 180.5h0.9v0.9h-0.9zM58.7 213.0h0.9v0.9h-0.9zM44.5 144.9h0.9v0.9h-0.9zM51.2 214.5h0.9v0.9h-0.9zM59.1 216.2h0.9v0.9h-0.9zM46.2 189.7h0.9v0.9h-0.9zM59.2 187.6h0.9v0.9h-0.9zM47.9 173.1h0.9v0.9h-0.9zM47.7 164.4h0.9v0.9h-0.9zM45.1 159.7h0.9v0.9h-0.9zM52.5 189.4h0.9v0.9h-0.9zM44.8 217.0h0.9v0.9h-0.9zM49.9 169.9h0.9v0.9h-0.9zM52.7 193.5h0.9v0.9h-0.9zM46.4 154.8h0.9v0.9h-0.9zM44.9 190.2h0.9v0.9h-0.9zM49.5 148.9h0.9v0.9h-0.9zM55.8 229.9h0.9v0.9h-0.9zM44.9 179.6h0.9v0.9h-0.9zM43.9 149.6h0.9v0.9h-0.9zM43.8 224.5h0.9v0.9h-0.9zM51.6 188.1h0.9v0.9h-0.9zM58.3 174.6h0.9v0.9h-0.9zM50.8 181.9h0.9v0.9h-0.9zM44.8 150.5h0.9v0.9h-0.9zM46.2 238.8h0.9v0.9h-0.9zM52.3 207.8h0.9v0.9h-0.9zM53.8 200.1h0.9v0.9h-0.9zM46.4 198.0h0.9v0.9h-0.9zM50.2 201.2h0.9v0.9h-0.9zM53.9 159.0h0.9v0.9h-0.9zM70.4 225.0h0.9v0.9h-0.9zM43.7 197.4h0.9v0.9h-0.9zM65.1 183.0h0.9v0.9h-0.9zM46.5 179.9h0.9v0.9h-0.9zM47.9 211.8h0.9v0.9h-0.9zM48.1 153.0h0.9v0.9h-0.9zM61.3 235.8h0.9v0.9h-0.9zM50.0 167.5h0.9v0.9h-0.9zM50.4 228.2h0.9v0.9h-0.9zM44.6 146.7h0.9v0.9h-0.9zM50.0 161.7h0.9v0.9h-0.9zM61.1 235.6h0.9v0.9h-0.9zM50.7 159.6h0.9v0.9h-0.9zM49.1 195.3h0.9v0.9h-0.9zM67.9 186.5h0.9v0.9h-0.9zM45.3 178.0h0.9v0.9h-0.9zM64.3 218.2h0.9v0.9h-0.9zM62.3 224.1h0.9v0.9h-0.9zM55.8 221.4h0.9v0.9h-0.9zM46.3 188.4h0.9v0.9h-0.9zM45.8 193.6h0.9v0.9h-0.9zM45.9 156.3h0.9v0.9h-0.9zM48.4 147.5h0.9v0.9h-0.9zM61.0 155.4h0.9v0.9h-0.9zM62.8 178.3h0.9v0.9h-0.9zM57.0 170.7h0.9v0.9h-0.9zM49.9 175.7h0.9v0.9h-0.9zM45.7 218.7h0.9v0.9h-0.9zM47.3 232.1h0.9v0.9h-0.9zM54.4 173.7h0.9v0.9h-0.9zM67.6 167.8h0.9v0.9h-0.9zM45.1 186.6h0.9v0.9h-0.9zM50.3 237.0h0.9v0.9h-0.9zM44.8 214.4h0.9v0.9h-0.9zM45.5 155.5h0.9v0.9h-0.9zM59.6 212.7h0.9v0.9h-0.9zM58.9 151.6h0.9v0.9h-0.9zM49.9 237.2h0.9v0.9h-0.9zM49.8 235.2h0.9v0.9h-0.9zM57.8 149.0h0.9v0.9h-0.9zM50.8 188.7h0.9v0.9h-0.9zM49.8 216.9h0.9v0.9h-0.9zM46.6 224.5h0.9v0.9h-0.9zM49.6 221.5h0.9v0.9h-0.9zM44.7 188.1h0.9v0.9h-0.9zM50.8 238.0h0.9v0.9h-0.9zM55.9 237.4h0.9v0.9h-0.9zM49.6 180.2h0.9v0.9h-0.9zM50.2 181.3h0.9v0.9h-0.9zM46.4 156.4h0.9v0.9h-0.9zM49.4 218.6h0.9v0.9h-0.9zM56.1 210.3h0.9v0.9h-0.9zM46.8 165.5h0.9v0.9h-0.9zM58.5 170.4h0.9v0.9h-0.9zM45.4 219.3h0.9v0.9h-0.9zM57.4 174.9h0.9v0.9h-0.9zM43.6 161.1h0.9v0.9h-0.9zM61.3 212.8h0.9v0.9h-0.9zM43.5 145.7h0.9v0.9h-0.9zM48.6 200.7h0.9v0.9h-0.9zM70.8 202.0h0.9v0.9h-0.9zM47.6 213.8h0.9v0.9h-0.9zM51.1 240.4h0.9v0.9h-0.9zM47.8 167.9h0.9v0.9h-0.9zM47.7 203.5h0.9v0.9h-0.9zM58.4 238.4h0.9v0.9h-0.9zM44.1 195.0h0.9v0.9h-0.9zM62.0 213.4h0.9v0.9h-0.9zM51.3 175.4h0.9v0.9h-0.9zM49.4 149.9h0.9v0.9h-0.9zM55.4 176.0h0.9v0.9h-0.9zM58.4 145.3h0.9v0.9h-0.9zM55.3 186.3h0.9v0.9h-0.9zM52.8 214.0h0.9v0.9h-0.9zM44.2 167.0h0.9v0.9h-0.9zM50.9 233.1h0.9v0.9h-0.9zM55.8 145.0h0.9v0.9h-0.9zM61.7 144.8h0.9v0.9h-0.9zM57.0 158.0h0.9v0.9h-0.9zM51.4 176.2h0.9v0.9h-0.9zM52.0 151.0h0.9v0.9h-0.9zM51.0 210.7h0.9v0.9h-0.9zM44.2 204.8h0.9v0.9h-0.9zM52.7 168.6h0.9v0.9h-0.9zM47.6 238.7h0.9v0.9h-0.9zM47.3 207.1h0.9v0.9h-0.9zM45.6 143.7h0.9v0.9h-0.9zM44.0 149.0h0.9v0.9h-0.9zM53.1 221.9h0.9v0.9h-0.9zM49.8 160.1h0.9v0.9h-0.9zM44.5 228.4h0.9v0.9h-0.9zM55.0 166.9h0.9v0.9h-0.9zM64.7 183.0h0.9v0.9h-0.9zM50.6 193.4h0.9v0.9h-0.9zM43.6 187.0h0.9v0.9h-0.9zM57.0 214.4h0.9v0.9h-0.9zM44.6 174.3h0.9v0.9h-0.9zM45.5 237.3h0.9v0.9h-0.9zM52.4 147.7h0.9v0.9h-0.9zM44.1 193.3h0.9v0.9h-0.9zM53.9 238.6h0.9v0.9h-0.9zM50.3 154.9h0.9v0.9h-0.9zM45.9 183.5h0.9v0.9h-0.9zM55.6 205.4h0.9v0.9h-0.9zM55.6 200.6h0.9v0.9h-0.9zM54.6 225.0h0.9v0.9h-0.9zM43.6 213.0h0.9v0.9h-0.9zM46.4 189.9h0.9v0.9h-0.9zM55.6 196.8h0.9v0.9h-0.9zM47.0 185.6h0.9v0.9h-0.9zM49.6 147.9h0.9v0.9h-0.9zM47.9 180.8h0.9v0.9h-0.9zM47.2 159.7h0.9v0.9h-0.9zM44.9 239.5h0.9v0.9h-0.9zM55.7 189.3h0.9v0.9h-0.9zM67.5 171.6h0.9v0.9h-0.9zM51.4 171.3h0.9v0.9h-0.9zM62.9 176.0h0.9v0.9h-0.9zM64.0 236.0h0.9v0.9h-0.9zM49.8 224.0h0.9v0.9h-0.9zM50.6 180.6h0.9v0.9h-0.9zM47.5 149.2h0.9v0.9h-0.9zM67.4 210.0h0.9v0.9h-0.9zM53.9 241.6h0.9v0.9h-0.9zM45.0 223.9h0.9v0.9h-0.9zM46.6 240.5h0.9v0.9h-0.9zM52.5 230.2h0.9v0.9h-0.9zM44.2 162.5h0.9v0.9h-0.9zM44.1 171.6h0.9v0.9h-0.9zM48.8 235.6h0.9v0.9h-0.9zM46.3 143.5h0.9v0.9h-0.9zM44.3 155.8h0.9v0.9h-0.9zM52.4 201.3h0.9v0.9h-0.9zM46.9 185.7h0.9v0.9h-0.9zM51.6 209.5h0.9v0.9h-0.9zM46.8 182.6h0.9v0.9h-0.9zM64.7 233.8h0.9v0.9h-0.9zM62.0 215.0h0.9v0.9h-0.9zM49.8 232.8h0.9v0.9h-0.9zM47.3 193.4h0.9v0.9h-0.9zM62.4 156.1h0.9v0.9h-0.9zM66.9 145.1h0.9v0.9h-0.9zM50.5 239.3h0.9v0.9h-0.9zM44.9 158.5h0.9v0.9h-0.9zM58.3 151.0h0.9v0.9h-0.9zM54.2 202.2h0.9v0.9h-0.9zM53.1 153.2h0.9v0.9h-0.9zM54.1 223.7h0.9v0.9h-0.9zM57.6 156.2h0.9v0.9h-0.9zM46.0 206.0h0.9v0.9h-0.9zM48.8 229.7h0.9v0.9h-0.9zM44.6 194.0h0.9v0.9h-0.9zM53.2 199.3h0.9v0.9h-0.9zM45.2 216.3h0.9v0.9h-0.9zM64.3 185.1h0.9v0.9h-0.9zM52.2 221.1h0.9v0.9h-0.9zM51.2 207.0h0.9v0.9h-0.9zM57.7 194.5h0.9v0.9h-0.9zM69.3 189.7h0.9v0.9h-0.9zM54.7 171.0h0.9v0.9h-0.9zM47.0 174.2h0.9v0.9h-0.9zM51.5 183.7h0.9v0.9h-0.9zM52.2 238.2h0.9v0.9h-0.9zM59.5 149.7h0.9v0.9h-0.9zM67.0 147.2h0.9v0.9h-0.9zM49.4 161.0h0.9v0.9h-0.9zM63.1 173.1h0.9v0.9h-0.9zM55.2 225.5h0.9v0.9h-0.9zM55.2 175.5h0.9v0.9h-0.9zM60.1 239.5h0.9v0.9h-0.9zM69.0 230.3h0.9v0.9h-0.9zM45.5 172.0h0.9v0.9h-0.9zM44.3 171.5h0.9v0.9h-0.9zM44.8 150.6h0.9v0.9h-0.9zM66.0 218.2h0.9v0.9h-0.9zM50.4 157.1h0.9v0.9h-0.9zM44.9 172.3h0.9v0.9h-0.9zM49.6 217.5h0.9v0.9h-0.9zM46.3 148.2h0.9v0.9h-0.9zM64.9 241.8h0.9v0.9h-0.9zM58.6 220.2h0.9v0.9h-0.9zM70.1 230.7h0.9v0.9h-0.9zM55.5 232.2h0.9v0.9h-0.9zM44.8 230.3h0.9v0.9h-0.9zM44.8 214.7h0.9v0.9h-0.9zM50.7 169.1h0.9v0.9h-0.9zM47.4 202.1h0.9v0.9h-0.9zM44.5 161.8h0.9v0.9h-0.9zM46.5 225.1h0.9v0.9h-0.9zM46.4 194.1h0.9v0.9h-0.9zM43.9 208.6h0.9v0.9h-0.9zM50.9 151.0h0.9v0.9h-0.9zM57.2 231.4h0.9v0.9h-0.9zM50.7 147.6h0.9v0.9h-0.9zM49.9 181.2h0.9v0.9h-0.9zM50.4 201.7h0.9v0.9h-0.9zM51.1 176.4h0.9v0.9h-0.9zM50.5 204.3h0.9v0.9h-0.9zM49.6 224.7h0.9v0.9h-0.9zM50.9 239.8h0.9v0.9h-0.9zM46.0 155.1h0.9v0.9h-0.9zM48.1 172.3h0.9v0.9h-0.9zM69.5 203.9h0.9v0.9h-0.9zM44.0 151.0h0.9v0.9h-0.9zM49.3 148.9h0.9v0.9h-0.9zM54.1 231.0h0.9v0.9h-0.9zM52.9 155.2h0.9v0.9h-0.9zM43.6 190.8h0.9v0.9h-0.9zM51.9 183.5h0.9v0.9h-0.9zM44.3 234.9h0.9v0.9h-0.9zM54.0 158.5h0.9v0.9h-0.9zM51.5 192.0h0.9v0.9h-0.9zM52.7 151.0h0.9v0.9h-0.9zM46.6 168.7h0.9v0.9h-0.9zM48.0 174.6h0.9v0.9h-0.9zM45.3 150.8h0.9v0.9h-0.9zM55.2 150.7h0.9v0.9h-0.9zM66.6 171.9h0.9v0.9h-0.9zM44.9 232.7h0.9v0.9h-0.9zM51.4 168.1h0.9v0.9h-0.9zM63.2 219.6h0.9v0.9h-0.9zM51.9 213.4h0.9v0.9h-0.9zM45.0 240.2h0.9v0.9h-0.9zM52.4 229.6h0.9v0.9h-0.9zM52.7 178.5h0.9v0.9h-0.9zM55.0 215.9h0.9v0.9h-0.9zM44.1 181.1h0.9v0.9h-0.9zM51.6 198.9h0.9v0.9h-0.9zM44.8 238.2h0.9v0.9h-0.9zM48.9 179.1h0.9v0.9h-0.9zM52.3 155.0h0.9v0.9h-0.9zM52.3 161.0h0.9v0.9h-0.9zM51.6 210.3h0.9v0.9h-0.9zM45.2 151.5h0.9v0.9h-0.9zM61.8 193.3h0.9v0.9h-0.9zM59.0 208.8h0.9v0.9h-0.9zM58.5 146.9h0.9v0.9h-0.9zM56.9 233.1h0.9v0.9h-0.9zM59.2 196.2h0.9v0.9h-0.9zM56.4 237.3h0.9v0.9h-0.9zM49.9 183.7h0.9v0.9h-0.9zM45.6 215.0h0.9v0.9h-0.9zM55.5 216.8h0.9v0.9h-0.9zM55.5 149.8h0.9v0.9h-0.9zM49.8 240.7h0.9v0.9h-0.9zM43.9 220.7h0.9v0.9h-0.9zM46.7 188.8h0.9v0.9h-0.9zM46.5 204.4h0.9v0.9h-0.9zM58.4 211.8h0.9v0.9h-0.9zM44.9 214.6h0.9v0.9h-0.9zM54.2 184.0h0.9v0.9h-0.9zM69.5 192.2h0.9v0.9h-0.9zM47.5 166.7h0.9v0.9h-0.9zM44.7 186.8h0.9v0.9h-0.9zM47.8 227.0h0.9v0.9h-0.9zM64.8 177.0h0.9v0.9h-0.9zM56.1 233.6h0.9v0.9h-0.9zM47.2 198.4h0.9v0.9h-0.9zM51.2 208.1h0.9v0.9h-0.9zM52.7 156.2h0.9v0.9h-0.9zM51.0 209.6h0.9v0.9h-0.9zM46.1 206.5h0.9v0.9h-0.9zM73.6 175.2h0.9v0.9h-0.9zM57.7 169.0h0.9v0.9h-0.9zM43.9 211.2h0.9v0.9h-0.9zM52.3 148.4h0.9v0.9h-0.9zM46.1 224.1h0.9v0.9h-0.9zM48.4 174.8h0.9v0.9h-0.9zM48.9 150.7h0.9v0.9h-0.9zM47.1 200.6h0.9v0.9h-0.9zM59.2 187.5h0.9v0.9h-0.9zM58.8 215.7h0.9v0.9h-0.9zM58.3 217.7h0.9v0.9h-0.9zM51.8 151.1h0.9v0.9h-0.9zM48.9 205.3h0.9v0.9h-0.9zM53.5 232.1h0.9v0.9h-0.9zM44.7 220.4h0.9v0.9h-0.9zM44.4 212.8h0.9v0.9h-0.9zM61.2 195.9h0.9v0.9h-0.9zM52.5 206.8h0.9v0.9h-0.9zM51.7 181.1h0.9v0.9h-0.9zM51.0 177.2h0.9v0.9h-0.9zM54.7 188.8h0.9v0.9h-0.9zM49.3 144.0h0.9v0.9h-0.9zM70.9 164.5h0.9v0.9h-0.9zM44.9 149.7h0.9v0.9h-0.9zM45.7 232.7h0.9v0.9h-0.9zM58.0 152.8h0.9v0.9h-0.9zM62.4 155.1h0.9v0.9h-0.9zM44.9 154.6h0.9v0.9h-0.9zM52.2 192.3h0.9v0.9h-0.9zM50.4 174.5h0.9v0.9h-0.9zM48.5 214.5h0.9v0.9h-0.9zM57.2 179.0h0.9v0.9h-0.9zM44.8 156.4h0.9v0.9h-0.9zM52.2 186.0h0.9v0.9h-0.9zM46.8 225.4h0.9v0.9h-0.9zM56.7 155.8h0.9v0.9h-0.9zM50.3 225.2h0.9v0.9h-0.9zM56.4 204.2h0.9v0.9h-0.9zM62.9 241.9h0.9v0.9h-0.9zM60.5 207.5h0.9v0.9h-0.9zM47.0 179.7h0.9v0.9h-0.9zM59.0 236.0h0.9v0.9h-0.9zM52.5 182.2h0.9v0.9h-0.9zM46.1 212.8h0.9v0.9h-0.9zM46.2 223.0h0.9v0.9h-0.9zM57.0 209.0h0.9v0.9h-0.9zM45.9 189.2h0.9v0.9h-0.9zM53.3 183.0h0.9v0.9h-0.9zM48.8 161.4h0.9v0.9h-0.9zM49.3 189.1h0.9v0.9h-0.9zM62.1 223.3h0.9v0.9h-0.9zM47.1 238.0h0.9v0.9h-0.9zM66.0 207.8h0.9v0.9h-0.9zM50.8 225.6h0.9v0.9h-0.9zM66.6 217.9h0.9v0.9h-0.9zM54.9 226.3h0.9v0.9h-0.9zM56.1 210.3h0.9v0.9h-0.9zM44.1 176.4h0.9v0.9h-0.9zM49.4 157.9h0.9v0.9h-0.9zM70.2 179.6h0.9v0.9h-0.9zM50.3 228.5h0.9v0.9h-0.9zM52.5 211.1h0.9v0.9h-0.9zM60.0 164.3h0.9v0.9h-0.9zM44.5 238.5h0.9v0.9h-0.9zM61.2 219.0h0.9v0.9h-0.9zM53.4 193.8h0.9v0.9h-0.9zM43.7 186.9h0.9v0.9h-0.9zM56.8 193.4h0.9v0.9h-0.9zM55.8 173.3h0.9v0.9h-0.9zM46.2 242.3h0.9v0.9h-0.9zM56.2 165.4h0.9v0.9h-0.9zM57.0 156.2h0.9v0.9h-0.9zM60.5 228.6h0.9v0.9h-0.9zM45.0 185.5h0.9v0.9h-0.9zM55.1 153.0h0.9v0.9h-0.9zM58.5 177.6h0.9v0.9h-0.9zM47.8 235.8h0.9v0.9h-0.9zM50.3 157.0h0.9v0.9h-0.9zM51.3 158.3h0.9v0.9h-0.9zM45.6 237.8h0.9v0.9h-0.9zM48.9 161.4h0.9v0.9h-0.9zM61.4 208.3h0.9v0.9h-0.9zM58.1 143.4h0.9v0.9h-0.9zM53.0 168.2h0.9v0.9h-0.9zM47.5 191.7h0.9v0.9h-0.9zM51.4 188.5h0.9v0.9h-0.9zM50.7 242.5h0.9v0.9h-0.9zM51.9 149.2h0.9v0.9h-0.9zM58.6 165.9h0.9v0.9h-0.9zM59.0 162.0h0.9v0.9h-0.9zM73.1 239.4h0.9v0.9h-0.9zM59.9 228.6h0.9v0.9h-0.9zM44.4 174.2h0.9v0.9h-0.9zM43.6 186.8h0.9v0.9h-0.9zM50.0 184.9h0.9v0.9h-0.9zM44.9 149.9h0.9v0.9h-0.9zM50.4 207.6h0.9v0.9h-0.9zM63.6 152.9h0.9v0.9h-0.9zM57.1 173.5h0.9v0.9h-0.9zM48.3 218.7h0.9v0.9h-0.9zM54.0 211.4h0.9v0.9h-0.9zM48.2 172.3h0.9v0.9h-0.9zM50.8 235.8h0.9v0.9h-0.9zM48.9 177.5h0.9v0.9h-0.9zM45.6 206.4h0.9v0.9h-0.9zM53.8 176.7h0.9v0.9h-0.9zM44.4 228.4h0.9v0.9h-0.9zM52.5 179.3h0.9v0.9h-0.9zM46.8 209.2h0.9v0.9h-0.9zM50.7 182.9h0.9v0.9h-0.9zM44.7 211.9h0.9v0.9h-0.9zM60.6 161.3h0.9v0.9h-0.9zM62.2 189.5h0.9v0.9h-0.9zM58.9 196.4h0.9v0.9h-0.9zM50.4 166.2h0.9v0.9h-0.9zM56.0 161.5h0.9v0.9h-0.9zM61.2 184.2h0.9v0.9h-0.9zM50.9 178.9h0.9v0.9h-0.9zM49.9 144.4h0.9v0.9h-0.9zM52.3 224.0h0.9v0.9h-0.9zM49.4 186.7h0.9v0.9h-0.9zM44.1 197.1h0.9v0.9h-0.9zM58.5 229.2h0.9v0.9h-0.9zM55.5 174.8h0.9v0.9h-0.9zM46.5 232.1h0.9v0.9h-0.9zM48.7 208.7h0.9v0.9h-0.9zM61.4 223.1h0.9v0.9h-0.9zM75.4 191.7h0.9v0.9h-0.9zM53.7 188.9h0.9v0.9h-0.9zM43.8 190.9h0.9v0.9h-0.9zM55.8 219.9h0.9v0.9h-0.9zM59.0 156.5h0.9v0.9h-0.9zM47.2 181.1h0.9v0.9h-0.9zM47.5 239.1h0.9v0.9h-0.9zM52.8 240.2h0.9v0.9h-0.9zM56.7 210.8h0.9v0.9h-0.9zM43.7 179.9h0.9v0.9h-0.9zM47.5 150.2h0.9v0.9h-0.9zM55.1 174.9h0.9v0.9h-0.9zM59.9 233.0h0.9v0.9h-0.9zM52.5 205.9h0.9v0.9h-0.9zM56.4 164.8h0.9v0.9h-0.9zM43.8 158.5h0.9v0.9h-0.9zM64.3 180.6h0.9v0.9h-0.9zM63.2 148.4h0.9v0.9h-0.9zM47.9 187.7h0.9v0.9h-0.9zM49.8 181.1h0.9v0.9h-0.9zM50.1 180.4h0.9v0.9h-0.9zM61.4 192.6h0.9v0.9h-0.9zM51.5 222.8h0.9v0.9h-0.9zM66.6 209.7h0.9v0.9h-0.9zM77.0 206.2h0.9v0.9h-0.9zM70.0 199.9h0.9v0.9h-0.9zM62.3 204.9h0.9v0.9h-0.9zM88.3 223.6h0.9v0.9h-0.9zM70.2 192.7h0.9v0.9h-0.9zM57.6 203.4h0.9v0.9h-0.9zM71.0 197.8h0.9v0.9h-0.9zM67.0 228.3h0.9v0.9h-0.9zM62.9 219.0h0.9v0.9h-0.9zM60.0 206.4h0.9v0.9h-0.9zM59.9 231.2h0.9v0.9h-0.9zM58.5 204.7h0.9v0.9h-0.9zM56.6 238.7h0.9v0.9h-0.9zM57.6 218.9h0.9v0.9h-0.9zM61.5 224.3h0.9v0.9h-0.9zM63.3 224.6h0.9v0.9h-0.9zM69.8 195.2h0.9v0.9h-0.9zM47.0 241.4h0.9v0.9h-0.9zM59.2 211.6h0.9v0.9h-0.9zM78.1 193.6h0.9v0.9h-0.9zM53.5 222.1h0.9v0.9h-0.9zM55.7 216.2h0.9v0.9h-0.9zM75.2 192.5h0.9v0.9h-0.9zM57.3 196.0h0.9v0.9h-0.9zM58.3 204.4h0.9v0.9h-0.9zM64.7 233.3h0.9v0.9h-0.9zM74.9 233.6h0.9v0.9h-0.9zM51.8 238.2h0.9v0.9h-0.9zM49.6 216.1h0.9v0.9h-0.9zM48.6 222.8h0.9v0.9h-0.9zM51.5 225.9h0.9v0.9h-0.9zM51.7 206.9h0.9v0.9h-0.9zM65.7 198.8h0.9v0.9h-0.9zM51.1 223.6h0.9v0.9h-0.9zM63.5 209.6h0.9v0.9h-0.9zM66.9 197.0h0.9v0.9h-0.9zM53.0 226.3h0.9v0.9h-0.9zM63.6 210.3h0.9v0.9h-0.9zM82.1 215.7h0.9v0.9h-0.9zM66.0 212.3h0.9v0.9h-0.9zM54.2 216.1h0.9v0.9h-0.9zM61.2 217.3h0.9v0.9h-0.9zM50.7 220.1h0.9v0.9h-0.9zM65.3 203.5h0.9v0.9h-0.9zM72.6 202.4h0.9v0.9h-0.9zM51.9 232.1h0.9v0.9h-0.9zM59.4 225.7h0.9v0.9h-0.9zM75.6 223.7h0.9v0.9h-0.9zM55.9 195.6h0.9v0.9h-0.9zM64.3 208.0h0.9v0.9h-0.9zM49.4 217.6h0.9v0.9h-0.9zM52.0 224.1h0.9v0.9h-0.9zM55.7 212.9h0.9v0.9h-0.9zM88.1 190.5h0.9v0.9h-0.9zM57.1 229.1h0.9v0.9h-0.9zM55.6 221.7h0.9v0.9h-0.9zM55.2 203.3h0.9v0.9h-0.9zM60.0 234.8h0.9v0.9h-0.9zM69.9 223.6h0.9v0.9h-0.9zM64.3 205.5h0.9v0.9h-0.9zM86.7 210.1h0.9v0.9h-0.9zM64.6 203.1h0.9v0.9h-0.9zM79.4 219.0h0.9v0.9h-0.9zM65.3 209.8h0.9v0.9h-0.9zM69.3 199.0h0.9v0.9h-0.9zM44.7 221.4h0.9v0.9h-0.9zM60.5 205.4h0.9v0.9h-0.9zM61.2 218.2h0.9v0.9h-0.9zM59.1 219.4h0.9v0.9h-0.9zM72.6 200.2h0.9v0.9h-0.9zM57.4 167.4h0.9v0.9h-0.9zM56.7 219.8h0.9v0.9h-0.9zM58.9 190.8h0.9v0.9h-0.9zM59.3 220.2h0.9v0.9h-0.9zM66.9 227.4h0.9v0.9h-0.9zM46.7 229.0h0.9v0.9h-0.9zM50.8 217.1h0.9v0.9h-0.9zM65.5 210.2h0.9v0.9h-0.9zM63.7 212.0h0.9v0.9h-0.9zM57.5 210.4h0.9v0.9h-0.9zM55.1 211.5h0.9v0.9h-0.9zM52.0 208.9h0.9v0.9h-0.9zM61.3 231.9h0.9v0.9h-0.9zM76.2 205.3h0.9v0.9h-0.9zM49.3 236.7h0.9v0.9h-0.9zM80.3 199.3h0.9v0.9h-0.9zM72.1 209.2h0.9v0.9h-0.9zM56.6 216.3h0.9v0.9h-0.9zM71.4 215.1h0.9v0.9h-0.9zM44.4 238.2h0.9v0.9h-0.9zM46.5 216.0h0.9v0.9h-0.9zM57.1 207.5h0.9v0.9h-0.9zM58.1 240.6h0.9v0.9h-0.9zM55.8 215.2h0.9v0.9h-0.9zM63.2 210.2h0.9v0.9h-0.9zM67.9 226.1h0.9v0.9h-0.9zM45.0 233.8h0.9v0.9h-0.9zM54.1 214.8h0.9v0.9h-0.9zM48.1 229.7h0.9v0.9h-0.9zM45.5 233.5h0.9v0.9h-0.9zM49.9 220.7h0.9v0.9h-0.9zM61.9 195.5h0.9v0.9h-0.9zM69.1 191.8h0.9v0.9h-0.9zM68.8 216.1h0.9v0.9h-0.9zM50.1 228.4h0.9v0.9h-0.9zM52.5 218.0h0.9v0.9h-0.9zM51.0 206.1h0.9v0.9h-0.9zM67.4 191.4h0.9v0.9h-0.9zM76.9 184.9h0.9v0.9h-0.9zM56.2 231.3h0.9v0.9h-0.9zM52.6 237.2h0.9v0.9h-0.9zM74.4 218.9h0.9v0.9h-0.9zM66.1 204.0h0.9v0.9h-0.9zM74.6 194.5h0.9v0.9h-0.9zM63.6 166.1h0.9v0.9h-0.9zM76.8 196.9h0.9v0.9h-0.9zM76.9 202.6h0.9v0.9h-0.9zM60.8 229.2h0.9v0.9h-0.9zM79.3 212.0h0.9v0.9h-0.9zM64.0 221.8h0.9v0.9h-0.9zM63.0 217.3h0.9v0.9h-0.9zM50.9 231.5h0.9v0.9h-0.9zM58.5 237.4h0.9v0.9h-0.9zM71.3 194.0h0.9v0.9h-0.9zM46.2 219.2h0.9v0.9h-0.9zM69.8 190.6h0.9v0.9h-0.9zM66.2 234.6h0.9v0.9h-0.9zM65.3 230.7h0.9v0.9h-0.9zM60.8 199.2h0.9v0.9h-0.9zM69.8 212.2h0.9v0.9h-0.9zM52.8 217.9h0.9v0.9h-0.9zM63.1 215.4h0.9v0.9h-0.9zM70.1 216.8h0.9v0.9h-0.9zM54.1 214.8h0.9v0.9h-0.9zM72.5 219.9h0.9v0.9h-0.9zM70.3 205.4h0.9v0.9h-0.9zM59.2 215.3h0.9v0.9h-0.9zM71.7 202.4h0.9v0.9h-0.9zM50.9 233.7h0.9v0.9h-0.9zM54.6 216.2h0.9v0.9h-0.9zM88.9 201.1h0.9v0.9h-0.9zM52.0 216.2h0.9v0.9h-0.9zM53.5 200.1h0.9v0.9h-0.9zM58.7 229.8h0.9v0.9h-0.9zM49.7 208.5h0.9v0.9h-0.9zM76.3 214.9h0.9v0.9h-0.9zM82.7 207.0h0.9v0.9h-0.9zM53.6 197.7h0.9v0.9h-0.9zM76.1 198.5h0.9v0.9h-0.9zM75.3 194.8h0.9v0.9h-0.9zM71.9 192.0h0.9v0.9h-0.9zM75.9 216.0h0.9v0.9h-0.9zM51.6 218.6h0.9v0.9h-0.9zM60.0 221.7h0.9v0.9h-0.9zM45.4 220.1h0.9v0.9h-0.9zM45.0 230.6h0.9v0.9h-0.9zM73.8 196.7h0.9v0.9h-0.9zM53.9 220.0h0.9v0.9h-0.9zM89.4 204.8h0.9v0.9h-0.9zM62.9 215.0h0.9v0.9h-0.9zM54.3 213.8h0.9v0.9h-0.9zM71.6 193.6h0.9v0.9h-0.9zM83.6 202.9h0.9v0.9h-0.9zM67.8 215.9h0.9v0.9h-0.9zM47.4 221.2h0.9v0.9h-0.9zM66.5 201.4h0.9v0.9h-0.9zM78.5 211.5h0.9v0.9h-0.9zM52.7 217.0h0.9v0.9h-0.9zM74.2 211.5h0.9v0.9h-0.9zM63.7 219.1h0.9v0.9h-0.9zM48.8 188.3h0.9v0.9h-0.9zM57.4 219.8h0.9v0.9h-0.9zM52.9 211.3h0.9v0.9h-0.9zM65.6 231.8h0.9v0.9h-0.9zM63.3 210.6h0.9v0.9h-0.9zM75.8 195.0h0.9v0.9h-0.9zM70.5 206.3h0.9v0.9h-0.9zM66.9 204.0h0.9v0.9h-0.9zM72.8 207.1h0.9v0.9h-0.9zM67.5 192.6h0.9v0.9h-0.9zM74.4 203.6h0.9v0.9h-0.9zM55.4 230.1h0.9v0.9h-0.9zM73.2 217.3h0.9v0.9h-0.9zM49.2 227.3h0.9v0.9h-0.9zM74.3 220.9h0.9v0.9h-0.9zM58.3 232.5h0.9v0.9h-0.9zM45.2 224.6h0.9v0.9h-0.9zM46.1 229.2h0.9v0.9h-0.9zM48.1 226.7h0.9v0.9h-0.9zM57.7 222.1h0.9v0.9h-0.9zM66.4 214.8h0.9v0.9h-0.9zM71.0 179.8h0.9v0.9h-0.9zM47.8 215.1h0.9v0.9h-0.9zM49.2 195.5h0.9v0.9h-0.9zM70.1 210.5h0.9v0.9h-0.9zM61.1 215.7h0.9v0.9h-0.9zM43.6 204.1h0.9v0.9h-0.9zM84.1 209.8h0.9v0.9h-0.9zM51.7 233.9h0.9v0.9h-0.9zM65.0 214.3h0.9v0.9h-0.9zM64.4 236.5h0.9v0.9h-0.9zM78.9 229.6h0.9v0.9h-0.9zM56.5 201.9h0.9v0.9h-0.9zM74.1 221.3h0.9v0.9h-0.9zM53.1 227.0h0.9v0.9h-0.9zM75.5 211.8h0.9v0.9h-0.9zM52.8 234.1h0.9v0.9h-0.9zM57.7 207.9h0.9v0.9h-0.9zM84.8 191.6h0.9v0.9h-0.9zM65.8 201.0h0.9v0.9h-0.9zM63.3 203.7h0.9v0.9h-0.9zM88.9 195.7h0.9v0.9h-0.9zM66.3 192.0h0.9v0.9h-0.9zM52.2 207.0h0.9v0.9h-0.9zM70.8 217.1h0.9v0.9h-0.9zM47.8 223.5h0.9v0.9h-0.9zM75.5 211.3h0.9v0.9h-0.9zM76.5 179.2h0.9v0.9h-0.9zM55.1 208.7h0.9v0.9h-0.9zM54.5 212.3h0.9v0.9h-0.9zM64.1 214.0h0.9v0.9h-0.9zM62.2 206.8h0.9v0.9h-0.9zM50.3 235.8h0.9v0.9h-0.9zM68.8 209.6h0.9v0.9h-0.9zM56.8 218.7h0.9v0.9h-0.9zM57.2 228.0h0.9v0.9h-0.9zM58.7 210.7h0.9v0.9h-0.9zM65.7 228.1h0.9v0.9h-0.9zM47.3 231.2h0.9v0.9h-0.9zM69.1 212.4h0.9v0.9h-0.9zM59.8 217.0h0.9v0.9h-0.9zM54.2 227.4h0.9v0.9h-0.9zM45.6 240.0h0.9v0.9h-0.9zM47.8 237.6h0.9v0.9h-0.9zM66.3 217.3h0.9v0.9h-0.9zM50.4 234.9h0.9v0.9h-0.9zM62.8 216.1h0.9v0.9h-0.9zM74.7 223.9h0.9v0.9h-0.9zM74.4 206.4h0.9v0.9h-0.9zM80.7 173.8h0.9v0.9h-0.9zM58.4 235.9h0.9v0.9h-0.9zM49.0 225.2h0.9v0.9h-0.9zM74.2 190.6h0.9v0.9h-0.9zM65.7 209.8h0.9v0.9h-0.9zM75.5 193.8h0.9v0.9h-0.9zM76.3 212.3h0.9v0.9h-0.9zM72.2 186.5h0.9v0.9h-0.9zM70.6 216.8h0.9v0.9h-0.9zM68.0 205.4h0.9v0.9h-0.9zM66.8 238.4h0.9v0.9h-0.9zM64.8 198.5h0.9v0.9h-0.9zM64.7 182.1h0.9v0.9h-0.9zM73.9 208.0h0.9v0.9h-0.9zM55.9 214.3h0.9v0.9h-0.9zM82.8 195.3h0.9v0.9h-0.9zM60.7 186.2h0.9v0.9h-0.9zM73.8 213.0h0.9v0.9h-0.9zM60.9 238.9h0.9v0.9h-0.9zM59.0 190.5h0.9v0.9h-0.9zM86.4 215.0h0.9v0.9h-0.9zM58.3 209.6h0.9v0.9h-0.9zM53.4 226.8h0.9v0.9h-0.9zM58.2 214.9h0.9v0.9h-0.9zM87.9 213.1h0.9v0.9h-0.9zM64.5 220.6h0.9v0.9h-0.9zM73.2 199.3h0.9v0.9h-0.9zM50.0 232.9h0.9v0.9h-0.9zM66.2 205.1h0.9v0.9h-0.9zM70.1 184.8h0.9v0.9h-0.9zM83.6 228.7h0.9v0.9h-0.9zM53.6 215.7h0.9v0.9h-0.9zM69.2 201.7h0.9v0.9h-0.9zM65.6 217.3h0.9v0.9h-0.9zM49.7 201.6h0.9v0.9h-0.9zM61.8 196.4h0.9v0.9h-0.9zM58.8 210.2h0.9v0.9h-0.9zM69.2 211.2h0.9v0.9h-0.9zM68.5 226.2h0.9v0.9h-0.9zM56.7 211.9h0.9v0.9h-0.9zM45.9 232.5h0.9v0.9h-0.9zM79.8 211.5h0.9v0.9h-0.9zM65.2 197.9h0.9v0.9h-0.9zM74.2 210.0h0.9v0.9h-0.9zM78.9 190.7h0.9v0.9h-0.9zM55.7 233.9h0.9v0.9h-0.9zM71.7 214.8h0.9v0.9h-0.9zM59.1 217.2h0.9v0.9h-0.9zM61.2 196.9h0.9v0.9h-0.9zM61.0 217.3h0.9v0.9h-0.9zM62.0 204.4h0.9v0.9h-0.9zM75.4 215.9h0.9v0.9h-0.9zM63.5 212.4h0.9v0.9h-0.9zM60.2 205.0h0.9v0.9h-0.9zM58.7 230.0h0.9v0.9h-0.9zM66.1 222.3h0.9v0.9h-0.9zM51.3 213.9h0.9v0.9h-0.9zM56.0 235.1h0.9v0.9h-0.9zM61.4 211.3h0.9v0.9h-0.9zM55.2 215.2h0.9v0.9h-0.9zM60.6 217.7h0.9v0.9h-0.9zM54.7 209.5h0.9v0.9h-0.9zM86.0 192.8h0.9v0.9h-0.9zM77.9 202.1h0.9v0.9h-0.9zM67.4 232.6h0.9v0.9h-0.9zM61.4 236.2h0.9v0.9h-0.9zM88.3 193.9h0.9v0.9h-0.9zM65.9 234.7h0.9v0.9h-0.9zM61.0 215.1h0.9v0.9h-0.9zM65.6 217.8h0.9v0.9h-0.9zM65.7 224.8h0.9v0.9h-0.9zM78.9 207.8h0.9v0.9h-0.9zM87.2 201.6h0.9v0.9h-0.9zM51.4 205.5h0.9v0.9h-0.9zM70.3 227.5h0.9v0.9h-0.9zM50.0 217.3h0.9v0.9h-0.9zM83.8 196.2h0.9v0.9h-0.9zM58.0 176.2h0.9v0.9h-0.9zM61.3 229.3h0.9v0.9h-0.9zM73.1 218.9h0.9v0.9h-0.9zM77.1 216.0h0.9v0.9h-0.9zM48.7 237.5h0.9v0.9h-0.9zM57.8 241.2h0.9v0.9h-0.9zM45.3 225.5h0.9v0.9h-0.9zM63.6 226.9h0.9v0.9h-0.9zM60.8 205.5h0.9v0.9h-0.9zM57.8 212.9h0.9v0.9h-0.9zM53.8 235.1h0.9v0.9h-0.9zM57.4 223.5h0.9v0.9h-0.9zM53.0 202.5h0.9v0.9h-0.9zM68.3 215.8h0.9v0.9h-0.9zM80.2 200.3h0.9v0.9h-0.9zM60.6 221.9h0.9v0.9h-0.9zM57.0 212.7h0.9v0.9h-0.9zM67.9 189.3h0.9v0.9h-0.9zM50.6 207.2h0.9v0.9h-0.9zM60.2 240.7h0.9v0.9h-0.9zM49.5 202.3h0.9v0.9h-0.9zM70.4 212.5h0.9v0.9h-0.9zM63.2 222.7h0.9v0.9h-0.9zM60.1 225.1h0.9v0.9h-0.9zM66.4 195.1h0.9v0.9h-0.9zM59.0 212.5h0.9v0.9h-0.9zM69.1 221.3h0.9v0.9h-0.9zM65.5 203.8h0.9v0.9h-0.9zM60.2 200.1h0.9v0.9h-0.9zM73.8 221.0h0.9v0.9h-0.9zM76.6 220.6h0.9v0.9h-0.9zM48.9 228.9h0.9v0.9h-0.9zM52.6 212.8h0.9v0.9h-0.9zM80.6 208.3h0.9v0.9h-0.9zM79.0 205.2h0.9v0.9h-0.9zM53.1 232.5h0.9v0.9h-0.9zM47.8 207.1h0.9v0.9h-0.9zM54.3 221.7h0.9v0.9h-0.9zM56.0 216.8h0.9v0.9h-0.9zM62.4 217.7h0.9v0.9h-0.9zM46.6 225.7h0.9v0.9h-0.9zM47.5 219.0h0.9v0.9h-0.9zM73.0 213.2h0.9v0.9h-0.9zM53.8 200.8h0.9v0.9h-0.9zM61.1 214.8h0.9v0.9h-0.9zM69.5 215.9h0.9v0.9h-0.9zM71.8 212.4h0.9v0.9h-0.9zM58.0 232.6h0.9v0.9h-0.9zM62.5 198.0h0.9v0.9h-0.9zM52.1 200.7h0.9v0.9h-0.9zM83.0 204.3h0.9v0.9h-0.9zM69.8 216.1h0.9v0.9h-0.9zM62.0 223.5h0.9v0.9h-0.9zM70.6 197.2h0.9v0.9h-0.9zM67.8 222.3h0.9v0.9h-0.9zM84.0 188.6h0.9v0.9h-0.9zM78.5 183.4h0.9v0.9h-0.9zM60.9 220.2h0.9v0.9h-0.9zM46.6 235.2h0.9v0.9h-0.9zM65.0 220.8h0.9v0.9h-0.9zM63.8 238.9h0.9v0.9h-0.9zM94.4 197.3h0.9v0.9h-0.9zM63.2 231.1h0.9v0.9h-0.9zM53.9 201.1h0.9v0.9h-0.9zM63.3 233.9h0.9v0.9h-0.9zM51.6 229.0h0.9v0.9h-0.9zM57.6 221.1h0.9v0.9h-0.9zM66.1 214.6h0.9v0.9h-0.9zM60.0 206.8h0.9v0.9h-0.9zM71.5 217.8h0.9v0.9h-0.9zM55.5 226.3h0.9v0.9h-0.9zM56.0 224.2h0.9v0.9h-0.9zM45.4 240.6h0.9v0.9h-0.9zM52.6 228.3h0.9v0.9h-0.9zM69.8 220.1h0.9v0.9h-0.9zM61.1 222.6h0.9v0.9h-0.9zM70.6 239.6h0.9v0.9h-0.9zM57.5 210.8h0.9v0.9h-0.9zM64.9 211.3h0.9v0.9h-0.9zM48.6 236.3h0.9v0.9h-0.9zM77.7 217.8h0.9v0.9h-0.9zM75.2 214.8h0.9v0.9h-0.9zM64.8 190.7h0.9v0.9h-0.9zM49.4 207.0h0.9v0.9h-0.9zM73.7 195.8h0.9v0.9h-0.9zM82.6 208.9h0.9v0.9h-0.9zM65.6 208.5h0.9v0.9h-0.9zM77.0 216.2h0.9v0.9h-0.9zM59.7 227.3h0.9v0.9h-0.9zM62.0 225.0h0.9v0.9h-0.9zM67.1 199.2h0.9v0.9h-0.9zM43.7 218.3h0.9v0.9h-0.9zM73.3 192.7h0.9v0.9h-0.9zM77.9 197.0h0.9v0.9h-0.9zM48.2 209.1h0.9v0.9h-0.9zM45.7 216.7h0.9v0.9h-0.9zM66.2 209.3h0.9v0.9h-0.9zM54.1 206.4h0.9v0.9h-0.9zM71.7 189.7h0.9v0.9h-0.9zM63.9 220.0h0.9v0.9h-0.9zM56.3 219.6h0.9v0.9h-0.9zM87.4 212.3h0.9v0.9h-0.9zM63.7 228.4h0.9v0.9h-0.9zM53.0 216.3h0.9v0.9h-0.9zM63.2 223.5h0.9v0.9h-0.9zM49.5 203.4h0.9v0.9h-0.9zM66.6 228.5h0.9v0.9h-0.9zM55.3 216.5h0.9v0.9h-0.9zM56.6 202.5h0.9v0.9h-0.9zM82.0 206.9h0.9v0.9h-0.9zM72.3 182.2h0.9v0.9h-0.9zM71.6 197.8h0.9v0.9h-0.9zM68.3 221.1h0.9v0.9h-0.9zM67.8 212.2h0.9v0.9h-0.9zM79.5 196.5h0.9v0.9h-0.9zM61.8 228.3h0.9v0.9h-0.9zM84.3 185.8h0.9v0.9h-0.9zM50.6 226.6h0.9v0.9h-0.9zM58.9 210.1h0.9v0.9h-0.9zM45.5 214.3h0.9v0.9h-0.9zM57.9 224.2h0.9v0.9h-0.9zM68.2 197.1h0.9v0.9h-0.9zM79.4 229.7h0.9v0.9h-0.9zM54.0 212.2h0.9v0.9h-0.9zM57.7 202.7h0.9v0.9h-0.9zM53.1 229.3h0.9v0.9h-0.9zM47.7 207.9h0.9v0.9h-0.9zM62.7 195.9h0.9v0.9h-0.9zM63.3 223.5h0.9v0.9h-0.9zM62.3 197.2h0.9v0.9h-0.9zM54.1 236.7h0.9v0.9h-0.9zM49.9 212.0h0.9v0.9h-0.9zM45.4 227.9h0.9v0.9h-0.9zM84.5 205.3h0.9v0.9h-0.9zM45.9 234.0h0.9v0.9h-0.9zM80.7 177.6h0.9v0.9h-0.9zM69.2 232.6h0.9v0.9h-0.9zM57.6 225.7h0.9v0.9h-0.9zM48.1 218.4h0.9v0.9h-0.9zM74.5 192.5h0.9v0.9h-0.9zM82.8 177.7h0.9v0.9h-0.9zM50.8 203.6h0.9v0.9h-0.9zM58.4 224.9h0.9v0.9h-0.9zM74.6 201.9h0.9v0.9h-0.9zM66.0 196.6h0.9v0.9h-0.9zM86.0 191.7h0.9v0.9h-0.9zM55.2 241.2h0.9v0.9h-0.9zM68.5 206.1h0.9v0.9h-0.9zM47.0 216.9h0.9v0.9h-0.9zM87.2 216.9h0.9v0.9h-0.9zM53.2 227.2h0.9v0.9h-0.9zM60.5 207.6h0.9v0.9h-0.9zM60.3 194.6h0.9v0.9h-0.9zM85.0 183.5h0.9v0.9h-0.9zM57.9 211.1h0.9v0.9h-0.9zM61.8 212.1h0.9v0.9h-0.9zM69.1 215.2h0.9v0.9h-0.9zM81.0 210.0h0.9v0.9h-0.9zM61.2 218.6h0.9v0.9h-0.9zM74.5 209.7h0.9v0.9h-0.9zM68.2 196.9h0.9v0.9h-0.9zM58.4 187.5h0.9v0.9h-0.9zM62.9 207.2h0.9v0.9h-0.9zM62.3 201.5h0.9v0.9h-0.9zM51.0 213.3h0.9v0.9h-0.9zM76.6 201.5h0.9v0.9h-0.9zM45.4 208.9h0.9v0.9h-0.9zM76.1 190.2h0.9v0.9h-0.9zM73.5 206.0h0.9v0.9h-0.9zM60.9 217.3h0.9v0.9h-0.9zM52.8 212.0h0.9v0.9h-0.9zM59.3 223.7h0.9v0.9h-0.9zM67.7 208.2h0.9v0.9h-0.9zM70.9 194.9h0.9v0.9h-0.9zM65.4 213.3h0.9v0.9h-0.9zM73.9 233.1h0.9v0.9h-0.9zM55.3 210.1h0.9v0.9h-0.9zM64.8 229.3h0.9v0.9h-0.9zM71.2 229.7h0.9v0.9h-0.9zM63.8 202.4h0.9v0.9h-0.9zM75.9 207.3h0.9v0.9h-0.9zM70.3 206.0h0.9v0.9h-0.9zM62.5 223.0h0.9v0.9h-0.9zM44.5 227.3h0.9v0.9h-0.9zM74.8 204.0h0.9v0.9h-0.9zM91.9 212.9h0.9v0.9h-0.9zM55.8 209.1h0.9v0.9h-0.9zM62.9 199.9h0.9v0.9h-0.9zM59.0 228.0h0.9v0.9h-0.9zM66.2 221.9h0.9v0.9h-0.9zM69.7 225.0h0.9v0.9h-0.9zM77.4 189.8h0.9v0.9h-0.9zM50.2 237.9h0.9v0.9h-0.9zM80.9 209.1h0.9v0.9h-0.9zM65.3 195.5h0.9v0.9h-0.9zM75.9 208.8h0.9v0.9h-0.9zM70.6 205.4h0.9v0.9h-0.9zM50.7 200.5h0.9v0.9h-0.9zM53.6 210.7h0.9v0.9h-0.9zM56.5 234.3h0.9v0.9h-0.9zM61.4 208.9h0.9v0.9h-0.9zM75.8 195.8h0.9v0.9h-0.9zM46.5 237.4h0.9v0.9h-0.9zM67.6 225.0h0.9v0.9h-0.9zM69.3 223.8h0.9v0.9h-0.9zM68.7 199.6h0.9v0.9h-0.9zM67.6 210.5h0.9v0.9h-0.9zM80.2 217.1h0.9v0.9h-0.9zM67.9 202.0h0.9v0.9h-0.9zM72.3 197.8h0.9v0.9h-0.9zM68.8 222.0h0.9v0.9h-0.9zM83.5 222.3h0.9v0.9h-0.9zM77.4 168.8h0.9v0.9h-0.9zM58.9 197.0h0.9v0.9h-0.9zM58.6 203.2h0.9v0.9h-0.9zM50.4 220.8h0.9v0.9h-0.9zM57.4 216.0h0.9v0.9h-0.9zM53.8 210.8h0.9v0.9h-0.9zM67.9 213.2h0.9v0.9h-0.9zM44.3 213.5h0.9v0.9h-0.9zM79.2 202.9h0.9v0.9h-0.9zM65.3 203.9h0.9v0.9h-0.9zM53.5 232.0h0.9v0.9h-0.9zM52.6 209.7h0.9v0.9h-0.9zM48.4 210.2h0.9v0.9h-0.9zM55.5 213.3h0.9v0.9h-0.9zM62.1 192.2h0.9v0.9h-0.9zM59.9 206.3h0.9v0.9h-0.9zM45.0 216.1h0.9v0.9h-0.9zM58.8 229.4h0.9v0.9h-0.9zM51.3 216.2h0.9v0.9h-0.9zM63.9 202.8h0.9v0.9h-0.9zM84.4 181.5h0.9v0.9h-0.9zM69.5 193.7h0.9v0.9h-0.9zM58.2 216.6h0.9v0.9h-0.9zM45.0 242.0h0.9v0.9h-0.9zM70.7 223.9h0.9v0.9h-0.9zM52.8 224.7h0.9v0.9h-0.9zM62.8 214.4h0.9v0.9h-0.9zM54.5 192.1h0.9v0.9h-0.9zM63.1 196.4h0.9v0.9h-0.9zM78.8 214.1h0.9v0.9h-0.9zM53.8 239.8h0.9v0.9h-0.9zM57.9 220.6h0.9v0.9h-0.9zM52.3 232.0h0.9v0.9h-0.9zM72.5 202.4h0.9v0.9h-0.9zM49.7 218.1h0.9v0.9h-0.9zM48.4 214.9h0.9v0.9h-0.9zM45.3 239.6h0.9v0.9h-0.9zM45.1 231.0h0.9v0.9h-0.9zM67.7 208.0h0.9v0.9h-0.9zM92.8 189.9h0.9v0.9h-0.9zM50.1 230.7h0.9v0.9h-0.9zM73.4 211.9h0.9v0.9h-0.9zM65.0 201.5h0.9v0.9h-0.9zM58.7 220.8h0.9v0.9h-0.9zM59.2 217.0h0.9v0.9h-0.9zM53.7 241.0h0.9v0.9h-0.9zM85.2 213.7h0.9v0.9h-0.9zM66.6 219.4h0.9v0.9h-0.9zM66.0 197.5h0.9v0.9h-0.9zM55.0 210.8h0.9v0.9h-0.9zM63.8 182.5h0.9v0.9h-0.9zM72.5 224.9h0.9v0.9h-0.9zM63.8 187.5h0.9v0.9h-0.9zM67.0 221.1h0.9v0.9h-0.9zM70.3 197.9h0.9v0.9h-0.9zM79.7 200.5h0.9v0.9h-0.9zM89.3 200.5h0.9v0.9h-0.9zM73.8 215.6h0.9v0.9h-0.9zM74.2 231.4h0.9v0.9h-0.9zM45.1 231.2h0.9v0.9h-0.9zM60.6 228.2h0.9v0.9h-0.9zM52.3 213.2h0.9v0.9h-0.9zM55.0 229.6h0.9v0.9h-0.9zM73.6 209.4h0.9v0.9h-0.9zM52.4 215.0h0.9v0.9h-0.9zM60.4 214.7h0.9v0.9h-0.9zM47.1 160.9h0.9v0.9h-0.9zM54.7 175.9h0.9v0.9h-0.9zM60.4 203.9h0.9v0.9h-0.9zM57.3 148.4h0.9v0.9h-0.9zM107.5 175.7h0.9v0.9h-0.9zM59.0 188.5h0.9v0.9h-0.9zM104.9 149.6h0.9v0.9h-0.9zM77.0 172.1h0.9v0.9h-0.9zM64.5 165.7h0.9v0.9h-0.9zM113.3 198.4h0.9v0.9h-0.9zM51.1 146.4h0.9v0.9h-0.9zM61.9 173.5h0.9v0.9h-0.9zM49.1 145.1h0.9v0.9h-0.9zM69.2 198.3h0.9v0.9h-0.9zM46.4 172.2h0.9v0.9h-0.9zM70.4 175.4h0.9v0.9h-0.9zM78.9 197.9h0.9v0.9h-0.9zM61.1 184.2h0.9v0.9h-0.9zM44.3 162.3h0.9v0.9h-0.9zM65.6 199.7h0.9v0.9h-0.9zM66.1 158.2h0.9v0.9h-0.9zM63.0 178.9h0.9v0.9h-0.9zM54.6 149.2h0.9v0.9h-0.9zM56.4 187.7h0.9v0.9h-0.9zM93.4 172.9h0.9v0.9h-0.9zM51.8 181.7h0.9v0.9h-0.9zM77.6 202.4h0.9v0.9h-0.9zM62.6 193.3h0.9v0.9h-0.9zM75.3 198.7h0.9v0.9h-0.9zM48.1 157.1h0.9v0.9h-0.9zM51.8 167.5h0.9v0.9h-0.9zM53.6 202.0h0.9v0.9h-0.9zM63.2 178.8h0.9v0.9h-0.9zM56.1 179.7h0.9v0.9h-0.9zM59.9 166.6h0.9v0.9h-0.9zM44.6 187.7h0.9v0.9h-0.9zM49.9 161.3h0.9v0.9h-0.9zM55.2 169.0h0.9v0.9h-0.9zM45.9 174.5h0.9v0.9h-0.9zM65.7 171.7h0.9v0.9h-0.9zM73.7 186.3h0.9v0.9h-0.9zM54.8 152.7h0.9v0.9h-0.9zM53.7 147.7h0.9v0.9h-0.9zM70.6 173.2h0.9v0.9h-0.9zM48.6 149.0h0.9v0.9h-0.9zM50.9 191.2h0.9v0.9h-0.9zM86.7 194.7h0.9v0.9h-0.9zM81.0 144.8h0.9v0.9h-0.9zM43.7 190.3h0.9v0.9h-0.9zM49.3 184.5h0.9v0.9h-0.9zM93.0 184.6h0.9v0.9h-0.9zM62.4 195.3h0.9v0.9h-0.9zM48.9 179.5h0.9v0.9h-0.9zM54.1 180.3h0.9v0.9h-0.9zM67.8 204.6h0.9v0.9h-0.9zM49.1 156.5h0.9v0.9h-0.9zM53.6 163.8h0.9v0.9h-0.9zM66.5 187.0h0.9v0.9h-0.9zM69.7 203.3h0.9v0.9h-0.9zM45.1 199.4h0.9v0.9h-0.9zM57.5 158.1h0.9v0.9h-0.9zM64.9 181.8h0.9v0.9h-0.9zM64.0 149.0h0.9v0.9h-0.9zM80.3 152.5h0.9v0.9h-0.9zM75.9 169.7h0.9v0.9h-0.9zM44.9 177.3h0.9v0.9h-0.9zM53.4 203.5h0.9v0.9h-0.9zM103.2 187.8h0.9v0.9h-0.9zM97.6 189.8h0.9v0.9h-0.9zM86.4 156.2h0.9v0.9h-0.9zM44.6 199.4h0.9v0.9h-0.9zM55.9 143.5h0.9v0.9h-0.9zM58.3 200.8h0.9v0.9h-0.9zM43.7 145.6h0.9v0.9h-0.9zM58.4 198.2h0.9v0.9h-0.9zM45.9 185.6h0.9v0.9h-0.9zM80.2 169.5h0.9v0.9h-0.9zM75.7 171.2h0.9v0.9h-0.9zM60.5 161.5h0.9v0.9h-0.9zM46.6 159.5h0.9v0.9h-0.9zM96.2 181.8h0.9v0.9h-0.9zM52.9 145.8h0.9v0.9h-0.9zM75.4 180.6h0.9v0.9h-0.9zM51.4 204.1h0.9v0.9h-0.9zM55.4 173.9h0.9v0.9h-0.9zM53.9 144.4h0.9v0.9h-0.9zM70.8 199.7h0.9v0.9h-0.9zM46.0 152.9h0.9v0.9h-0.9zM74.9 188.1h0.9v0.9h-0.9zM66.5 145.1h0.9v0.9h-0.9zM50.4 167.8h0.9v0.9h-0.9zM51.5 147.5h0.9v0.9h-0.9zM48.8 169.7h0.9v0.9h-0.9zM66.4 197.2h0.9v0.9h-0.9zM92.3 197.7h0.9v0.9h-0.9zM119.1 181.2h0.9v0.9h-0.9zM54.4 184.4h0.9v0.9h-0.9zM110.3 158.4h0.9v0.9h-0.9zM46.8 189.0h0.9v0.9h-0.9zM75.6 165.2h0.9v0.9h-0.9zM48.5 155.2h0.9v0.9h-0.9zM103.5 197.9h0.9v0.9h-0.9zM50.7 163.0h0.9v0.9h-0.9zM44.7 162.4h0.9v0.9h-0.9zM65.2 193.8h0.9v0.9h-0.9zM56.8 156.4h0.9v0.9h-0.9zM68.9 189.5h0.9v0.9h-0.9zM75.1 156.3h0.9v0.9h-0.9zM74.9 157.5h0.9v0.9h-0.9zM44.9 168.7h0.9v0.9h-0.9zM50.6 154.3h0.9v0.9h-0.9zM94.4 159.2h0.9v0.9h-0.9zM57.0 201.0h0.9v0.9h-0.9zM59.9 203.3h0.9v0.9h-0.9zM60.7 182.9h0.9v0.9h-0.9zM43.7 167.5h0.9v0.9h-0.9zM69.1 192.8h0.9v0.9h-0.9zM51.4 172.9h0.9v0.9h-0.9zM60.6 183.2h0.9v0.9h-0.9zM63.7 159.1h0.9v0.9h-0.9zM75.8 156.5h0.9v0.9h-0.9zM44.9 192.5h0.9v0.9h-0.9zM44.8 193.9h0.9v0.9h-0.9zM66.3 169.6h0.9v0.9h-0.9zM55.7 202.9h0.9v0.9h-0.9zM44.0 152.6h0.9v0.9h-0.9zM50.3 193.9h0.9v0.9h-0.9zM66.5 177.8h0.9v0.9h-0.9zM53.2 181.1h0.9v0.9h-0.9zM43.8 187.6h0.9v0.9h-0.9zM74.3 177.0h0.9v0.9h-0.9zM45.6 164.8h0.9v0.9h-0.9zM53.9 157.1h0.9v0.9h-0.9zM54.0 202.6h0.9v0.9h-0.9zM49.5 182.8h0.9v0.9h-0.9zM48.2 184.5h0.9v0.9h-0.9zM82.4 152.3h0.9v0.9h-0.9zM55.4 174.2h0.9v0.9h-0.9zM76.4 189.7h0.9v0.9h-0.9zM62.9 201.6h0.9v0.9h-0.9zM60.1 146.7h0.9v0.9h-0.9zM48.0 182.4h0.9v0.9h-0.9zM58.2 169.9h0.9v0.9h-0.9zM59.6 153.4h0.9v0.9h-0.9zM105.4 158.2h0.9v0.9h-0.9zM48.6 153.4h0.9v0.9h-0.9zM77.3 196.2h0.9v0.9h-0.9zM44.0 190.7h0.9v0.9h-0.9zM86.8 171.5h0.9v0.9h-0.9zM63.8 194.4h0.9v0.9h-0.9zM57.5 199.1h0.9v0.9h-0.9zM80.7 161.1h0.9v0.9h-0.9zM50.8 172.3h0.9v0.9h-0.9zM64.1 199.2h0.9v0.9h-0.9zM50.4 163.9h0.9v0.9h-0.9zM54.8 183.3h0.9v0.9h-0.9zM63.0 167.4h0.9v0.9h-0.9zM48.7 188.3h0.9v0.9h-0.9zM46.6 193.8h0.9v0.9h-0.9zM73.0 161.5h0.9v0.9h-0.9zM71.9 180.4h0.9v0.9h-0.9zM70.5 162.3h0.9v0.9h-0.9zM71.1 203.5h0.9v0.9h-0.9zM64.0 194.1h0.9v0.9h-0.9zM85.0 166.9h0.9v0.9h-0.9zM58.0 197.7h0.9v0.9h-0.9zM53.6 155.9h0.9v0.9h-0.9zM77.4 168.6h0.9v0.9h-0.9zM70.3 172.7h0.9v0.9h-0.9zM53.4 161.7h0.9v0.9h-0.9zM50.3 164.9h0.9v0.9h-0.9zM54.1 195.2h0.9v0.9h-0.9zM61.6 188.7h0.9v0.9h-0.9zM64.9 187.9h0.9v0.9h-0.9zM48.7 150.7h0.9v0.9h-0.9zM44.4 201.6h0.9v0.9h-0.9zM77.0 182.7h0.9v0.9h-0.9zM59.9 153.2h0.9v0.9h-0.9zM76.6 193.7h0.9v0.9h-0.9zM84.3 149.3h0.9v0.9h-0.9zM57.2 181.5h0.9v0.9h-0.9zM79.8 202.7h0.9v0.9h-0.9zM58.8 199.7h0.9v0.9h-0.9zM74.3 189.7h0.9v0.9h-0.9zM67.2 144.4h0.9v0.9h-0.9zM76.3 153.9h0.9v0.9h-0.9zM57.1 156.8h0.9v0.9h-0.9zM71.3 163.1h0.9v0.9h-0.9zM49.1 184.8h0.9v0.9h-0.9zM45.3 197.0h0.9v0.9h-0.9zM77.4 185.5h0.9v0.9h-0.9zM54.2 148.4h0.9v0.9h-0.9zM90.8 199.1h0.9v0.9h-0.9zM69.3 174.7h0.9v0.9h-0.9zM44.8 188.0h0.9v0.9h-0.9zM51.8 165.0h0.9v0.9h-0.9zM65.5 165.4h0.9v0.9h-0.9zM48.0 192.4h0.9v0.9h-0.9zM52.8 194.6h0.9v0.9h-0.9zM84.1 204.4h0.9v0.9h-0.9zM44.5 143.8h0.9v0.9h-0.9zM50.7 171.3h0.9v0.9h-0.9zM53.7 197.9h0.9v0.9h-0.9zM46.6 148.1h0.9v0.9h-0.9zM43.7 196.4h0.9v0.9h-0.9zM62.4 195.7h0.9v0.9h-0.9zM47.1 176.1h0.9v0.9h-0.9zM68.0 151.3h0.9v0.9h-0.9zM55.1 202.4h0.9v0.9h-0.9zM45.0 184.3h0.9v0.9h-0.9zM44.2 154.9h0.9v0.9h-0.9zM95.2 193.0h0.9v0.9h-0.9zM44.8 146.3h0.9v0.9h-0.9zM68.2 182.7h0.9v0.9h-0.9zM51.8 189.2h0.9v0.9h-0.9zM58.3 197.4h0.9v0.9h-0.9zM71.4 190.5h0.9v0.9h-0.9zM45.1 157.8h0.9v0.9h-0.9zM49.2 168.6h0.9v0.9h-0.9zM69.7 186.1h0.9v0.9h-0.9zM52.3 185.7h0.9v0.9h-0.9zM68.9 174.1h0.9v0.9h-0.9zM47.8 167.1h0.9v0.9h-0.9zM44.8 199.3h0.9v0.9h-0.9zM79.3 187.3h0.9v0.9h-0.9zM51.8 145.1h0.9v0.9h-0.9zM48.1 201.4h0.9v0.9h-0.9zM52.9 181.7h0.9v0.9h-0.9zM47.9 166.9h0.9v0.9h-0.9zM66.5 164.9h0.9v0.9h-0.9zM59.6 199.5h0.9v0.9h-0.9zM45.6 185.4h0.9v0.9h-0.9zM64.6 172.5h0.9v0.9h-0.9zM47.9 190.3h0.9v0.9h-0.9zM44.2 145.7h0.9v0.9h-0.9zM91.0 177.2h0.9v0.9h-0.9zM78.4 164.4h0.9v0.9h-0.9zM89.8 177.2h0.9v0.9h-0.9zM82.7 157.9h0.9v0.9h-0.9zM47.3 155.6h0.9v0.9h-0.9zM45.2 179.7h0.9v0.9h-0.9zM85.7 160.6h0.9v0.9h-0.9zM58.4 151.6h0.9v0.9h-0.9zM65.1 190.6h0.9v0.9h-0.9zM50.7 148.9h0.9v0.9h-0.9zM51.2 159.3h0.9v0.9h-0.9zM57.3 204.1h0.9v0.9h-0.9zM77.6 163.8h0.9v0.9h-0.9zM64.4 167.6h0.9v0.9h-0.9zM52.7 196.6h0.9v0.9h-0.9zM99.3 168.1h0.9v0.9h-0.9zM59.6 203.1h0.9v0.9h-0.9zM58.0 168.0h0.9v0.9h-0.9zM81.6 195.5h0.9v0.9h-0.9zM80.4 203.1h0.9v0.9h-0.9zM79.1 183.5h0.9v0.9h-0.9zM95.6 155.7h0.9v0.9h-0.9zM47.3 201.4h0.9v0.9h-0.9zM43.5 199.5h0.9v0.9h-0.9zM53.3 162.9h0.9v0.9h-0.9zM76.9 204.2h0.9v0.9h-0.9zM65.0 196.3h0.9v0.9h-0.9zM51.3 202.0h0.9v0.9h-0.9zM44.8 152.3h0.9v0.9h-0.9zM49.9 143.9h0.9v0.9h-0.9zM50.5 179.5h0.9v0.9h-0.9zM73.8 150.0h0.9v0.9h-0.9zM61.7 143.8h0.9v0.9h-0.9zM45.1 167.4h0.9v0.9h-0.9zM52.2 162.5h0.9v0.9h-0.9zM54.7 163.1h0.9v0.9h-0.9zM74.8 159.4h0.9v0.9h-0.9zM56.4 147.5h0.9v0.9h-0.9zM63.7 168.6h0.9v0.9h-0.9zM44.8 194.9h0.9v0.9h-0.9zM86.5 168.6h0.9v0.9h-0.9zM61.0 194.3h0.9v0.9h-0.9zM73.4 194.2h0.9v0.9h-0.9zM55.3 158.9h0.9v0.9h-0.9zM52.5 191.7h0.9v0.9h-0.9zM56.7 156.5h0.9v0.9h-0.9zM64.5 180.7h0.9v0.9h-0.9zM53.0 197.5h0.9v0.9h-0.9zM64.4 169.7h0.9v0.9h-0.9zM57.7 183.7h0.9v0.9h-0.9zM51.9 185.4h0.9v0.9h-0.9zM50.1 186.2h0.9v0.9h-0.9zM49.9 200.8h0.9v0.9h-0.9zM83.6 180.2h0.9v0.9h-0.9zM50.9 150.0h0.9v0.9h-0.9zM64.2 166.7h0.9v0.9h-0.9zM53.0 147.8h0.9v0.9h-0.9zM49.4 192.0h0.9v0.9h-0.9zM60.1 161.6h0.9v0.9h-0.9zM65.7 176.2h0.9v0.9h-0.9zM78.9 168.0h0.9v0.9h-0.9zM89.3 166.7h0.9v0.9h-0.9zM53.7 190.4h0.9v0.9h-0.9zM70.7 197.3h0.9v0.9h-0.9zM52.3 154.6h0.9v0.9h-0.9zM50.7 203.0h0.9v0.9h-0.9zM68.2 181.3h0.9v0.9h-0.9zM65.9 204.4h0.9v0.9h-0.9zM68.2 177.3h0.9v0.9h-0.9zM59.4 193.1h0.9v0.9h-0.9zM70.5 166.5h0.9v0.9h-0.9zM44.9 203.7h0.9v0.9h-0.9zM45.9 159.9h0.9v0.9h-0.9zM48.0 192.6h0.9v0.9h-0.9zM93.2 178.0h0.9v0.9h-0.9zM46.4 183.6h0.9v0.9h-0.9zM52.8 178.5h0.9v0.9h-0.9zM59.7 197.6h0.9v0.9h-0.9zM45.5 172.8h0.9v0.9h-0.9zM57.4 185.9h0.9v0.9h-0.9zM66.6 202.7h0.9v0.9h-0.9zM50.4 149.3h0.9v0.9h-0.9zM47.1 194.1h0.9v0.9h-0.9zM45.7 158.9h0.9v0.9h-0.9zM75.9 164.9h0.9v0.9h-0.9zM76.9 191.4h0.9v0.9h-0.9zM60.1 168.5h0.9v0.9h-0.9zM45.4 178.5h0.9v0.9h-0.9zM53.5 184.1h0.9v0.9h-0.9zM46.2 178.4h0.9v0.9h-0.9zM48.8 202.5h0.9v0.9h-0.9zM66.6 163.9h0.9v0.9h-0.9zM47.7 181.1h0.9v0.9h-0.9zM50.7 169.9h0.9v0.9h-0.9zM46.4 168.0h0.9v0.9h-0.9zM44.9 160.5h0.9v0.9h-0.9zM118.1 174.4h0.9v0.9h-0.9zM55.4 186.8h0.9v0.9h-0.9zM51.6 182.9h0.9v0.9h-0.9zM61.0 201.0h0.9v0.9h-0.9zM76.9 192.8h0.9v0.9h-0.9zM49.9 167.1h0.9v0.9h-0.9zM78.1 183.4h0.9v0.9h-0.9zM59.9 197.3h0.9v0.9h-0.9zM77.4 173.8h0.9v0.9h-0.9zM45.5 147.4h0.9v0.9h-0.9zM57.5 204.5h0.9v0.9h-0.9zM64.3 149.5h0.9v0.9h-0.9zM50.7 163.8h0.9v0.9h-0.9zM52.9 169.3h0.9v0.9h-0.9zM57.6 174.7h0.9v0.9h-0.9zM62.8 149.0h0.9v0.9h-0.9zM64.4 201.9h0.9v0.9h-0.9zM74.4 201.7h0.9v0.9h-0.9zM68.4 182.4h0.9v0.9h-0.9zM48.7 147.9h0.9v0.9h-0.9zM72.6 169.9h0.9v0.9h-0.9zM57.8 172.2h0.9v0.9h-0.9zM66.0 173.9h0.9v0.9h-0.9zM97.2 173.7h0.9v0.9h-0.9zM82.8 191.4h0.9v0.9h-0.9zM124.4 146.5h0.9v0.9h-0.9zM49.4 152.2h0.9v0.9h-0.9zM152.0 183.9h0.9v0.9h-0.9zM144.1 212.6h0.9v0.9h-0.9zM53.0 178.8h0.9v0.9h-0.9zM82.3 188.1h0.9v0.9h-0.9zM133.0 150.7h0.9v0.9h-0.9zM153.7 190.5h0.9v0.9h-0.9zM86.4 212.9h0.9v0.9h-0.9zM75.7 214.4h0.9v0.9h-0.9zM92.4 190.6h0.9v0.9h-0.9zM65.2 162.8h0.9v0.9h-0.9zM145.9 200.6h0.9v0.9h-0.9zM93.2 220.7h0.9v0.9h-0.9zM152.0 158.3h0.9v0.9h-0.9zM116.2 168.9h0.9v0.9h-0.9zM72.8 192.3h0.9v0.9h-0.9zM115.0 186.5h0.9v0.9h-0.9zM128.2 238.5h0.9v0.9h-0.9zM62.8 166.3h0.9v0.9h-0.9zM115.6 183.8h0.9v0.9h-0.9zM80.3 193.3h0.9v0.9h-0.9zM126.1 234.2h0.9v0.9h-0.9zM155.4 225.2h0.9v0.9h-0.9zM84.1 231.7h0.9v0.9h-0.9zM127.7 159.9h0.9v0.9h-0.9zM156.9 167.3h0.9v0.9h-0.9zM124.4 212.6h0.9v0.9h-0.9zM151.5 209.7h0.9v0.9h-0.9zM160.5 148.3h0.9v0.9h-0.9zM47.0 162.0h0.9v0.9h-0.9zM111.5 185.1h0.9v0.9h-0.9zM52.4 162.7h0.9v0.9h-0.9zM112.0 183.0h0.9v0.9h-0.9zM134.1 189.5h0.9v0.9h-0.9zM147.8 219.1h0.9v0.9h-0.9zM101.8 178.5h0.9v0.9h-0.9zM68.2 171.8h0.9v0.9h-0.9zM85.1 178.8h0.9v0.9h-0.9zM64.0 190.1h0.9v0.9h-0.9zM55.9 230.2h0.9v0.9h-0.9zM108.5 151.8h0.9v0.9h-0.9zM81.8 168.1h0.9v0.9h-0.9zM61.2 190.9h0.9v0.9h-0.9zM64.5 157.6h0.9v0.9h-0.9zM126.8 185.7h0.9v0.9h-0.9zM123.1 189.8h0.9v0.9h-0.9zM103.0 173.7h0.9v0.9h-0.9zM93.7 190.9h0.9v0.9h-0.9zM83.6 225.9h0.9v0.9h-0.9zM72.1 164.5h0.9v0.9h-0.9zM83.8 221.7h0.9v0.9h-0.9zM144.2 199.4h0.9v0.9h-0.9zM99.0 224.2h0.9v0.9h-0.9zM88.4 222.6h0.9v0.9h-0.9zM83.6 217.4h0.9v0.9h-0.9zM71.9 209.3h0.9v0.9h-0.9zM92.4 216.3h0.9v0.9h-0.9zM84.5 217.7h0.9v0.9h-0.9zM93.2 204.5h0.9v0.9h-0.9zM92.6 214.4h0.9v0.9h-0.9zM81.3 216.9h0.9v0.9h-0.9zM103.1 213.5h0.9v0.9h-0.9zM98.6 223.0h0.9v0.9h-0.9zM96.9 220.5h0.9v0.9h-0.9zM82.7 206.2h0.9v0.9h-0.9zM88.1 212.9h0.9v0.9h-0.9zM87.2 206.2h0.9v0.9h-0.9zM88.1 216.1h0.9v0.9h-0.9zM83.1 205.9h0.9v0.9h-0.9zM94.0 218.5h0.9v0.9h-0.9zM92.6 214.7h0.9v0.9h-0.9zM93.6 218.8h0.9v0.9h-0.9zM87.5 211.0h0.9v0.9h-0.9zM100.0 201.8h0.9v0.9h-0.9zM92.3 224.4h0.9v0.9h-0.9zM71.8 210.8h0.9v0.9h-0.9zM86.5 221.6h0.9v0.9h-0.9zM90.6 215.0h0.9v0.9h-0.9zM97.8 216.7h0.9v0.9h-0.9zM88.9 224.8h0.9v0.9h-0.9zM89.2 214.4h0.9v0.9h-0.9zM86.4 221.8h0.9v0.9h-0.9zM95.7 201.6h0.9v0.9h-0.9zM87.9 218.1h0.9v0.9h-0.9zM86.8 210.3h0.9v0.9h-0.9zM85.8 211.1h0.9v0.9h-0.9zM94.9 212.1h0.9v0.9h-0.9zM87.3 214.4h0.9v0.9h-0.9zM79.3 223.6h0.9v0.9h-0.9zM95.4 199.0h0.9v0.9h-0.9zM86.1 212.3h0.9v0.9h-0.9zM93.5 207.0h0.9v0.9h-0.9zM93.6 220.2h0.9v0.9h-0.9zM99.4 209.0h0.9v0.9h-0.9zM98.3 215.2h0.9v0.9h-0.9zM87.0 209.2h0.9v0.9h-0.9zM89.8 216.7h0.9v0.9h-0.9zM82.0 219.1h0.9v0.9h-0.9zM102.7 209.2h0.9v0.9h-0.9zM94.1 212.3h0.9v0.9h-0.9zM100.8 202.1h0.9v0.9h-0.9zM88.8 214.1h0.9v0.9h-0.9zM76.7 218.0h0.9v0.9h-0.9zM101.7 208.1h0.9v0.9h-0.9zM91.7 219.8h0.9v0.9h-0.9zM91.9 197.5h0.9v0.9h-0.9zM91.4 199.0h0.9v0.9h-0.9zM95.5 202.3h0.9v0.9h-0.9zM94.7 208.6h0.9v0.9h-0.9zM79.9 212.1h0.9v0.9h-0.9zM98.6 211.4h0.9v0.9h-0.9zM87.3 211.5h0.9v0.9h-0.9zM87.7 217.1h0.9v0.9h-0.9zM103.1 208.7h0.9v0.9h-0.9zM97.4 203.2h0.9v0.9h-0.9zM88.6 203.3h0.9v0.9h-0.9zM78.0 226.8h0.9v0.9h-0.9zM92.1 195.5h0.9v0.9h-0.9zM94.8 210.8h0.9v0.9h-0.9zM90.4 222.2h0.9v0.9h-0.9zM82.3 215.4h0.9v0.9h-0.9zM85.5 206.2h0.9v0.9h-0.9zM82.2 212.0h0.9v0.9h-0.9zM92.5 218.0h0.9v0.9h-0.9zM96.7 220.5h0.9v0.9h-0.9zM98.2 205.7h0.9v0.9h-0.9zM85.9 217.3h0.9v0.9h-0.9zM92.6 213.8h0.9v0.9h-0.9zM94.9 219.7h0.9v0.9h-0.9zM87.4 221.7h0.9v0.9h-0.9zM90.0 209.6h0.9v0.9h-0.9zM105.9 201.9h0.9v0.9h-0.9zM92.4 214.8h0.9v0.9h-0.9zM97.2 224.4h0.9v0.9h-0.9zM88.0 216.8h0.9v0.9h-0.9zM91.3 213.6h0.9v0.9h-0.9zM79.0 228.8h0.9v0.9h-0.9zM90.8 204.7h0.9v0.9h-0.9zM99.3 218.3h0.9v0.9h-0.9zM105.7 208.0h0.9v0.9h-0.9zM99.4 212.3h0.9v0.9h-0.9zM95.8 212.6h0.9v0.9h-0.9zM91.4 222.6h0.9v0.9h-0.9zM86.8 205.4h0.9v0.9h-0.9zM89.9 208.3h0.9v0.9h-0.9zM95.3 200.8h0.9v0.9h-0.9zM85.5 215.4h0.9v0.9h-0.9zM97.5 208.8h0.9v0.9h-0.9zM84.1 215.0h0.9v0.9h-0.9zM78.5 204.5h0.9v0.9h-0.9zM83.9 209.5h0.9v0.9h-0.9zM79.3 219.3h0.9v0.9h-0.9zM81.4 210.8h0.9v0.9h-0.9zM98.9 216.4h0.9v0.9h-0.9zM89.6 215.7h0.9v0.9h-0.9zM92.5 209.5h0.9v0.9h-0.9zM99.1 201.1h0.9v0.9h-0.9zM99.8 218.9h0.9v0.9h-0.9zM87.5 213.2h0.9v0.9h-0.9zM100.3 218.9h0.9v0.9h-0.9zM93.7 197.9h0.9v0.9h-0.9zM91.0 200.4h0.9v0.9h-0.9zM94.1 197.0h0.9v0.9h-0.9zM81.0 205.9h0.9v0.9h-0.9zM85.5 219.3h0.9v0.9h-0.9zM90.2 216.0h0.9v0.9h-0.9zM95.3 211.8h0.9v0.9h-0.9zM88.4 212.9h0.9v0.9h-0.9zM90.1 217.3h0.9v0.9h-0.9zM97.8 209.9h0.9v0.9h-0.9zM100.9 214.8h0.9v0.9h-0.9zM96.4 213.0h0.9v0.9h-0.9zM99.9 196.7h0.9v0.9h-0.9zM88.2 209.3h0.9v0.9h-0.9zM88.9 221.5h0.9v0.9h-0.9zM93.2 209.2h0.9v0.9h-0.9zM88.9 211.0h0.9v0.9h-0.9zM87.5 207.8h0.9v0.9h-0.9zM102.6 208.6h0.9v0.9h-0.9zM89.6 219.9h0.9v0.9h-0.9zM84.2 210.1h0.9v0.9h-0.9zM94.4 204.8h0.9v0.9h-0.9zM103.9 190.2h0.9v0.9h-0.9zM91.6 208.0h0.9v0.9h-0.9zM99.6 198.2h0.9v0.9h-0.9zM87.9 199.2h0.9v0.9h-0.9zM87.6 217.6h0.9v0.9h-0.9zM86.2 217.0h0.9v0.9h-0.9zM90.0 198.6h0.9v0.9h-0.9zM103.9 218.0h0.9v0.9h-0.9zM82.9 215.2h0.9v0.9h-0.9zM102.5 206.5h0.9v0.9h-0.9zM83.9 217.1h0.9v0.9h-0.9zM89.4 200.6h0.9v0.9h-0.9zM96.9 203.6h0.9v0.9h-0.9zM95.4 201.9h0.9v0.9h-0.9zM93.0 204.2h0.9v0.9h-0.9zM79.5 218.2h0.9v0.9h-0.9zM93.5 202.7h0.9v0.9h-0.9zM83.8 203.9h0.9v0.9h-0.9zM109.0 205.3h0.9v0.9h-0.9zM89.5 213.4h0.9v0.9h-0.9zM92.3 209.6h0.9v0.9h-0.9zM83.0 218.0h0.9v0.9h-0.9zM87.6 207.0h0.9v0.9h-0.9zM82.0 203.0h0.9v0.9h-0.9zM97.9 208.5h0.9v0.9h-0.9zM89.2 212.2h0.9v0.9h-0.9zM94.9 205.5h0.9v0.9h-0.9zM86.2 213.9h0.9v0.9h-0.9zM87.5 224.7h0.9v0.9h-0.9zM100.0 207.9h0.9v0.9h-0.9zM84.2 212.3h0.9v0.9h-0.9zM78.4 221.4h0.9v0.9h-0.9zM93.8 207.4h0.9v0.9h-0.9zM83.0 206.0h0.9v0.9h-0.9zM87.9 204.3h0.9v0.9h-0.9zM97.4 214.7h0.9v0.9h-0.9zM85.3 215.5h0.9v0.9h-0.9zM97.1 210.9h0.9v0.9h-0.9zM86.2 212.2h0.9v0.9h-0.9zM101.4 220.8h0.9v0.9h-0.9zM100.3 217.9h0.9v0.9h-0.9zM87.7 202.1h0.9v0.9h-0.9zM89.5 211.8h0.9v0.9h-0.9zM85.2 212.6h0.9v0.9h-0.9zM92.4 216.9h0.9v0.9h-0.9zM99.0 210.3h0.9v0.9h-0.9zM80.9 207.3h0.9v0.9h-0.9zM97.4 208.6h0.9v0.9h-0.9zM81.7 199.4h0.9v0.9h-0.9zM85.0 211.6h0.9v0.9h-0.9zM78.5 207.6h0.9v0.9h-0.9zM105.7 215.1h0.9v0.9h-0.9zM91.4 204.6h0.9v0.9h-0.9zM92.7 208.7h0.9v0.9h-0.9zM86.3 204.9h0.9v0.9h-0.9zM98.5 204.3h0.9v0.9h-0.9zM76.3 216.7h0.9v0.9h-0.9zM91.2 208.5h0.9v0.9h-0.9zM106.4 214.9h0.9v0.9h-0.9zM88.3 203.9h0.9v0.9h-0.9zM91.1 212.4h0.9v0.9h-0.9zM95.7 199.9h0.9v0.9h-0.9zM85.3 208.4h0.9v0.9h-0.9zM91.2 208.2h0.9v0.9h-0.9zM97.7 215.8h0.9v0.9h-0.9zM92.4 213.0h0.9v0.9h-0.9zM93.6 210.5h0.9v0.9h-0.9zM88.6 217.6h0.9v0.9h-0.9zM93.2 213.0h0.9v0.9h-0.9zM91.4 215.5h0.9v0.9h-0.9zM101.2 217.1h0.9v0.9h-0.9zM96.1 211.2h0.9v0.9h-0.9zM89.3 209.6h0.9v0.9h-0.9zM73.9 214.0h0.9v0.9h-0.9zM96.0 208.8h0.9v0.9h-0.9zM96.3 214.4h0.9v0.9h-0.9zM84.6 219.4h0.9v0.9h-0.9zM77.0 217.7h0.9v0.9h-0.9zM83.0 209.0h0.9v0.9h-0.9zM97.5 202.7h0.9v0.9h-0.9zM83.5 211.3h0.9v0.9h-0.9zM87.8 210.8h0.9v0.9h-0.9zM92.5 219.4h0.9v0.9h-0.9zM99.6 209.0h0.9v0.9h-0.9zM90.9 210.2h0.9v0.9h-0.9zM90.3 216.8h0.9v0.9h-0.9zM87.2 208.3h0.9v0.9h-0.9zM102.4 210.6h0.9v0.9h-0.9zM98.5 223.7h0.9v0.9h-0.9zM90.3 222.1h0.9v0.9h-0.9zM81.2 216.1h0.9v0.9h-0.9zM85.5 213.5h0.9v0.9h-0.9zM95.1 204.9h0.9v0.9h-0.9zM85.9 215.6h0.9v0.9h-0.9zM97.2 212.1h0.9v0.9h-0.9zM93.5 213.2h0.9v0.9h-0.9zM93.0 208.0h0.9v0.9h-0.9zM95.6 211.6h0.9v0.9h-0.9zM94.5 210.4h0.9v0.9h-0.9zM85.0 213.9h0.9v0.9h-0.9zM88.7 221.6h0.9v0.9h-0.9zM107.4 214.2h0.9v0.9h-0.9zM82.5 200.1h0.9v0.9h-0.9zM87.7 204.9h0.9v0.9h-0.9zM98.5 200.6h0.9v0.9h-0.9zM89.9 206.1h0.9v0.9h-0.9zM85.3 215.6h0.9v0.9h-0.9zM81.7 214.5h0.9v0.9h-0.9zM94.8 207.5h0.9v0.9h-0.9zM98.1 213.5h0.9v0.9h-0.9zM100.8 206.4h0.9v0.9h-0.9zM91.4 201.7h0.9v0.9h-0.9zM98.3 201.8h0.9v0.9h-0.9zM83.8 205.7h0.9v0.9h-0.9zM92.2 221.6h0.9v0.9h-0.9zM86.3 202.3h0.9v0.9h-0.9zM92.2 220.3h0.9v0.9h-0.9zM96.3 220.9h0.9v0.9h-0.9zM98.5 210.4h0.9v0.9h-0.9zM84.1 211.3h0.9v0.9h-0.9zM99.9 207.4h0.9v0.9h-0.9zM87.7 211.5h0.9v0.9h-0.9zM83.8 216.3h0.9v0.9h-0.9zM89.8 211.7h0.9v0.9h-0.9zM80.8 218.6h0.9v0.9h-0.9zM91.0 219.9h0.9v0.9h-0.9zM93.0 214.0h0.9v0.9h-0.9zM89.6 213.9h0.9v0.9h-0.9zM94.8 211.2h0.9v0.9h-0.9zM88.8 214.1h0.9v0.9h-0.9zM91.0 203.9h0.9v0.9h-0.9zM80.9 214.5h0.9v0.9h-0.9zM91.3 213.1h0.9v0.9h-0.9zM85.0 205.6h0.9v0.9h-0.9zM87.9 226.7h0.9v0.9h-0.9zM90.3 204.8h0.9v0.9h-0.9zM92.3 205.6h0.9v0.9h-0.9zM79.5 213.6h0.9v0.9h-0.9zM80.1 198.1h0.9v0.9h-0.9zM88.9 206.1h0.9v0.9h-0.9zM94.3 201.0h0.9v0.9h-0.9zM93.5 204.9h0.9v0.9h-0.9zM97.2 210.7h0.9v0.9h-0.9zM100.1 213.9h0.9v0.9h-0.9zM94.5 219.3h0.9v0.9h-0.9zM90.9 217.3h0.9v0.9h-0.9zM83.8 219.9h0.9v0.9h-0.9zM84.4 215.7h0.9v0.9h-0.9zM87.7 208.4h0.9v0.9h-0.9zM92.9 219.4h0.9v0.9h-0.9zM92.5 208.2h0.9v0.9h-0.9zM91.0 207.3h0.9v0.9h-0.9zM89.9 222.3h0.9v0.9h-0.9zM95.4 217.1h0.9v0.9h-0.9zM92.5 213.2h0.9v0.9h-0.9zM93.1 216.9h0.9v0.9h-0.9zM93.2 217.8h0.9v0.9h-0.9zM87.2 202.1h0.9v0.9h-0.9zM83.8 211.0h0.9v0.9h-0.9zM94.4 203.4h0.9v0.9h-0.9zM93.9 212.5h0.9v0.9h-0.9zM89.5 206.9h0.9v0.9h-0.9zM88.1 221.1h0.9v0.9h-0.9zM106.9 215.2h0.9v0.9h-0.9zM85.7 205.9h0.9v0.9h-0.9zM89.5 211.5h0.9v0.9h-0.9zM92.9 203.1h0.9v0.9h-0.9zM82.9 211.9h0.9v0.9h-0.9zM91.8 215.4h0.9v0.9h-0.9zM103.6 213.5h0.9v0.9h-0.9zM97.5 198.1h0.9v0.9h-0.9zM95.4 209.3h0.9v0.9h-0.9zM95.1 215.2h0.9v0.9h-0.9zM91.8 213.7h0.9v0.9h-0.9zM97.7 219.7h0.9v0.9h-0.9zM89.9 202.6h0.9v0.9h-0.9zM88.0 215.3h0.9v0.9h-0.9zM91.7 207.1h0.9v0.9h-0.9zM97.3 213.0h0.9v0.9h-0.9zM93.3 214.4h0.9v0.9h-0.9zM95.7 216.4h0.9v0.9h-0.9zM76.8 207.6h0.9v0.9h-0.9zM99.4 212.9h0.9v0.9h-0.9zM107.4 203.4h0.9v0.9h-0.9zM100.3 201.7h0.9v0.9h-0.9zM88.8 215.5h0.9v0.9h-0.9zM85.1 211.2h0.9v0.9h-0.9zM92.9 200.3h0.9v0.9h-0.9zM84.1 205.7h0.9v0.9h-0.9zM96.1 211.7h0.9v0.9h-0.9zM87.3 222.5h0.9v0.9h-0.9zM97.7 218.9h0.9v0.9h-0.9zM100.5 217.2h0.9v0.9h-0.9zM76.8 199.1h0.9v0.9h-0.9zM93.0 210.9h0.9v0.9h-0.9zM86.1 214.9h0.9v0.9h-0.9zM81.1 214.3h0.9v0.9h-0.9zM86.7 214.5h0.9v0.9h-0.9zM89.5 210.0h0.9v0.9h-0.9zM98.2 223.9h0.9v0.9h-0.9zM80.4 221.9h0.9v0.9h-0.9zM98.4 210.9h0.9v0.9h-0.9zM105.1 204.7h0.9v0.9h-0.9zM95.2 226.0h0.9v0.9h-0.9zM94.8 207.7h0.9v0.9h-0.9zM90.9 220.0h0.9v0.9h-0.9zM82.8 225.0h0.9v0.9h-0.9zM94.7 205.0h0.9v0.9h-0.9zM93.7 213.6h0.9v0.9h-0.9zM96.1 209.2h0.9v0.9h-0.9zM109.0 215.2h0.9v0.9h-0.9zM96.1 213.8h0.9v0.9h-0.9zM94.0 225.2h0.9v0.9h-0.9zM101.9 215.7h0.9v0.9h-0.9zM81.6 211.5h0.9v0.9h-0.9zM83.0 219.5h0.9v0.9h-0.9zM88.4 209.7h0.9v0.9h-0.9zM86.4 209.0h0.9v0.9h-0.9zM95.9 227.3h0.9v0.9h-0.9zM88.8 205.8h0.9v0.9h-0.9z" fill="#000" fill-opacity="0.17" filter="url(#bs)"/>
<ellipse cx="50.2" cy="179" rx="1" ry="1.2" fill="#333" transform="rotate(0 50.2 179)"/>
<ellipse cx="90.6" cy="212.6" rx="6.9" ry="8.8" fill="#141414" transform="rotate(32 90.6 212.6)"/>
<ellipse cx="90.2" cy="213.2" rx="5" ry="6.7" fill="url(#gD)" transform="rotate(32 90.2 213.2)"/>
<ellipse cx="72.9" cy="226.6" rx="4" ry="2.4" fill="#1e1e1e" transform="rotate(-38 72.9 226.6)"/>
<ellipse cx="55.6" cy="229.6" rx="1.9" ry="2.7" fill="#222" transform="rotate(0 55.6 229.6)"/>
<path d="M45.6 216.2 L47.6 216.0 L48.4 221 L49.8 224.5 L51.6 227.5 L52.2 231 L51.4 233.5 L52.6 236 L52.0 240 L49.6 242.8 L43.6 242.8 L43.4 233 L44.2 227 L45.2 222 Z" fill="#2c2c2c"/>
<ellipse cx="48.6" cy="229.5" rx="1.2" ry="2" fill="#4a4a4a" transform="rotate(0 48.6 229.5)"/>
<ellipse cx="46.3" cy="238.3" rx="2.3" ry="2.8" fill="#8a8a8a" transform="rotate(0 46.3 238.3)"/>
<ellipse cx="46.3" cy="238.3" rx="1.4" ry="1.9" fill="#d8d8d8" transform="rotate(0 46.3 238.3)"/>
</g>
<line x1="39.9" y1="142.2" x2="162.5" y2="142.2" stroke="#333" stroke-width="1"/>
<line x1="162.5" y1="142.2" x2="162.5" y2="246" stroke="#555" stroke-width="1"/>
<line x1="42.5" y1="141.7" x2="42.5" y2="244.3" stroke="#000" stroke-width="1.6"/>
<line x1="41.7" y1="243.5" x2="162.5" y2="243.5" stroke="#000" stroke-width="1.6"/>
<polygon points="90.2,192.2 105.4,198.4 104.3,219.2 84.7,228.2 78.9,214.8" fill="none" stroke="#333" stroke-width="0.8"/>
<line x1="39.5" y1="142.2" x2="42.5" y2="142.2" stroke="#000" stroke-width="1.1"/>
<text x="10.07" y="145" font-size="7.9" textLength="26.63" lengthAdjust="spacingAndGlyphs" fill="#000" stroke-width="0.12">200000</text>
<line x1="39.5" y1="167.5" x2="42.5" y2="167.5" stroke="#000" stroke-width="1.1"/>
<text x="10.07" y="170.3" font-size="7.9" textLength="26.63" lengthAdjust="spacingAndGlyphs" fill="#000" stroke-width="0.12">150000</text>
<line x1="39.5" y1="192.8" x2="42.5" y2="192.8" stroke="#000" stroke-width="1.1"/>
<text x="10.07" y="195.6" font-size="7.9" textLength="26.63" lengthAdjust="spacingAndGlyphs" fill="#000" stroke-width="0.12">100000</text>
<line x1="39.5" y1="218.1" x2="42.5" y2="218.1" stroke="#000" stroke-width="1.1"/>
<text x="14.5" y="220.9" font-size="7.9" textLength="22.19" lengthAdjust="spacingAndGlyphs" fill="#000" stroke-width="0.12">50000</text>
<line x1="39.5" y1="243.4" x2="42.5" y2="243.4" stroke="#000" stroke-width="1.1"/>
<text x="32.25" y="246.2" font-size="7.9" textLength="4.44" lengthAdjust="spacingAndGlyphs" fill="#000" stroke-width="0.12">0</text>
<line x1="40.9" y1="148.52" x2="42.5" y2="148.52" stroke="#000" stroke-width="0.8"/>
<line x1="40.9" y1="154.85" x2="42.5" y2="154.85" stroke="#000" stroke-width="0.8"/>
<line x1="40.9" y1="161.17" x2="42.5" y2="161.17" stroke="#000" stroke-width="0.8"/>
<line x1="40.9" y1="173.82" x2="42.5" y2="173.82" stroke="#000" stroke-width="0.8"/>
<line x1="40.9" y1="180.15" x2="42.5" y2="180.15" stroke="#000" stroke-width="0.8"/>
<line x1="40.9" y1="186.47" x2="42.5" y2="186.47" stroke="#000" stroke-width="0.8"/>
<line x1="40.9" y1="199.12" x2="42.5" y2="199.12" stroke="#000" stroke-width="0.8"/>
<line x1="40.9" y1="205.45" x2="42.5" y2="205.45" stroke="#000" stroke-width="0.8"/>
<line x1="40.9" y1="211.77" x2="42.5" y2="211.77" stroke="#000" stroke-width="0.8"/>
<line x1="40.9" y1="224.43" x2="42.5" y2="224.43" stroke="#000" stroke-width="0.8"/>
<line x1="40.9" y1="230.75" x2="42.5" y2="230.75" stroke="#000" stroke-width="0.8"/>
<line x1="40.9" y1="237.07" x2="42.5" y2="237.07" stroke="#000" stroke-width="0.8"/>
<line x1="42.5" y1="243.5" x2="42.5" y2="246" stroke="#000" stroke-width="1"/>
<line x1="57.5" y1="243.5" x2="57.5" y2="245.1" stroke="#000" stroke-width="1"/>
<line x1="72.5" y1="243.5" x2="72.5" y2="245.1" stroke="#000" stroke-width="1"/>
<line x1="87.5" y1="243.5" x2="87.5" y2="245.1" stroke="#000" stroke-width="1"/>
<line x1="102.5" y1="243.5" x2="102.5" y2="246" stroke="#000" stroke-width="1"/>
<line x1="117.5" y1="243.5" x2="117.5" y2="245.1" stroke="#000" stroke-width="1"/>
<line x1="132.5" y1="243.5" x2="132.5" y2="245.1" stroke="#000" stroke-width="1"/>
<line x1="147.5" y1="243.5" x2="147.5" y2="245.1" stroke="#000" stroke-width="1"/>
<line x1="162.5" y1="243.5" x2="162.5" y2="246" stroke="#000" stroke-width="1"/>
<text x="40.3" y="255.7" font-size="7.9" textLength="4.17" lengthAdjust="spacingAndGlyphs" fill="#000" stroke-width="0.12">0</text>
<text x="88.27" y="255.7" font-size="7.9" textLength="28.25" lengthAdjust="spacingAndGlyphs" fill="#000" stroke-width="0.12">125000</text>
<text x="148.58" y="255.7" font-size="7.9" textLength="27.72" lengthAdjust="spacingAndGlyphs" fill="#000" stroke-width="0.12">250000</text>
<text x="78.95" y="263.4" font-size="9.3" textLength="46.67" lengthAdjust="spacingAndGlyphs" fill="#000" stroke-width="0.18">Size (FSc)</text>
<text transform="translate(9.3 230.3) rotate(-90)" x="-0.5" y="0" font-size="9.5" textLength="76.64" lengthAdjust="spacingAndGlyphs" stroke-width="0.15">Granularity (SSc)</text>
<text x="81.66" y="134" font-size="10.2" textLength="22.51" lengthAdjust="spacingAndGlyphs" fill="#000" stroke-width="0.18">mDC</text>
<text x="107.93" y="210.9" font-size="10.5" textLength="23.56" lengthAdjust="spacingAndGlyphs" fill="#000" stroke-width="0.18">mDC</text>
</g>
<g clip-path="url(#c2)">
<g clip-path="url(#cE)">
<g filter="url(#bl3)"><polygon points="233,150 262,146 282,185 292,212 280,240 236,243 228,226 231,190" fill="#ebebeb"/></g>
<g filter="url(#bl3)"><polygon points="228,240 228,205 240,185 262,180 280,200 272,232 248,243" fill="#cecece"/></g>
<g filter="url(#bl2)"><polygon points="226,238 228,208 243,192 246,232" fill="#b0b0b0"/></g>
<path d="M243.4 206.5h0.9v0.9h-0.9zM249.8 184.7h0.9v0.9h-0.9zM236.6 168.5h0.9v0.9h-0.9zM262.0 207.8h0.9v0.9h-0.9zM239.9 196.7h0.9v0.9h-0.9zM242.8 191.4h0.9v0.9h-0.9zM244.8 214.0h0.9v0.9h-0.9zM237.5 177.4h0.9v0.9h-0.9zM236.4 207.6h0.9v0.9h-0.9zM251.2 207.7h0.9v0.9h-0.9zM278.1 154.0h0.9v0.9h-0.9zM258.1 169.4h0.9v0.9h-0.9zM258.3 193.8h0.9v0.9h-0.9zM231.2 208.5h0.9v0.9h-0.9zM249.0 190.6h0.9v0.9h-0.9zM235.1 212.2h0.9v0.9h-0.9zM258.6 193.0h0.9v0.9h-0.9zM246.6 176.9h0.9v0.9h-0.9zM249.8 180.2h0.9v0.9h-0.9zM248.2 206.8h0.9v0.9h-0.9zM242.3 227.1h0.9v0.9h-0.9zM231.0 241.7h0.9v0.9h-0.9zM256.2 170.7h0.9v0.9h-0.9zM232.7 234.5h0.9v0.9h-0.9zM235.1 224.8h0.9v0.9h-0.9zM245.7 198.0h0.9v0.9h-0.9zM240.8 213.9h0.9v0.9h-0.9zM252.4 212.0h0.9v0.9h-0.9zM261.4 226.3h0.9v0.9h-0.9zM252.3 169.3h0.9v0.9h-0.9zM251.7 207.5h0.9v0.9h-0.9zM249.6 192.4h0.9v0.9h-0.9zM259.6 182.5h0.9v0.9h-0.9zM227.1 240.3h0.9v0.9h-0.9zM253.7 210.7h0.9v0.9h-0.9zM238.1 182.1h0.9v0.9h-0.9zM234.5 201.7h0.9v0.9h-0.9zM249.3 201.0h0.9v0.9h-0.9zM244.6 167.6h0.9v0.9h-0.9zM256.3 209.6h0.9v0.9h-0.9zM262.5 183.1h0.9v0.9h-0.9zM221.4 222.8h0.9v0.9h-0.9zM248.4 204.2h0.9v0.9h-0.9zM272.8 217.3h0.9v0.9h-0.9zM259.7 188.0h0.9v0.9h-0.9zM266.6 173.3h0.9v0.9h-0.9zM250.5 234.3h0.9v0.9h-0.9zM232.1 198.8h0.9v0.9h-0.9zM235.8 195.2h0.9v0.9h-0.9zM257.8 157.3h0.9v0.9h-0.9zM260.8 210.8h0.9v0.9h-0.9zM240.5 209.4h0.9v0.9h-0.9zM246.1 209.3h0.9v0.9h-0.9zM252.4 197.0h0.9v0.9h-0.9zM245.1 181.6h0.9v0.9h-0.9zM268.7 162.0h0.9v0.9h-0.9zM275.5 183.8h0.9v0.9h-0.9zM248.0 199.8h0.9v0.9h-0.9zM271.3 214.6h0.9v0.9h-0.9zM243.0 183.9h0.9v0.9h-0.9zM239.6 193.0h0.9v0.9h-0.9zM260.8 217.6h0.9v0.9h-0.9zM244.8 171.7h0.9v0.9h-0.9zM277.4 190.0h0.9v0.9h-0.9zM253.3 225.2h0.9v0.9h-0.9zM251.6 190.9h0.9v0.9h-0.9zM227.6 230.4h0.9v0.9h-0.9zM244.9 190.8h0.9v0.9h-0.9zM247.4 160.0h0.9v0.9h-0.9zM222.8 221.9h0.9v0.9h-0.9zM260.4 186.9h0.9v0.9h-0.9zM261.2 168.6h0.9v0.9h-0.9zM242.0 223.4h0.9v0.9h-0.9zM250.4 203.1h0.9v0.9h-0.9zM254.0 180.2h0.9v0.9h-0.9zM260.9 174.7h0.9v0.9h-0.9zM250.6 161.6h0.9v0.9h-0.9zM270.0 174.5h0.9v0.9h-0.9zM242.0 185.9h0.9v0.9h-0.9zM243.7 210.2h0.9v0.9h-0.9zM239.6 222.2h0.9v0.9h-0.9zM261.4 195.9h0.9v0.9h-0.9zM252.5 188.0h0.9v0.9h-0.9zM239.5 163.8h0.9v0.9h-0.9zM253.5 180.8h0.9v0.9h-0.9zM245.9 193.3h0.9v0.9h-0.9zM255.6 205.0h0.9v0.9h-0.9zM257.7 178.1h0.9v0.9h-0.9zM240.0 161.5h0.9v0.9h-0.9zM260.3 196.5h0.9v0.9h-0.9zM271.8 184.5h0.9v0.9h-0.9zM244.2 187.1h0.9v0.9h-0.9zM258.2 180.2h0.9v0.9h-0.9zM230.7 218.1h0.9v0.9h-0.9zM256.7 197.7h0.9v0.9h-0.9zM249.9 190.9h0.9v0.9h-0.9zM242.4 198.5h0.9v0.9h-0.9zM245.8 185.4h0.9v0.9h-0.9zM259.1 168.9h0.9v0.9h-0.9zM270.0 187.9h0.9v0.9h-0.9zM246.8 187.1h0.9v0.9h-0.9zM229.6 224.7h0.9v0.9h-0.9zM264.7 208.0h0.9v0.9h-0.9zM256.6 193.2h0.9v0.9h-0.9zM257.6 154.1h0.9v0.9h-0.9zM251.6 177.6h0.9v0.9h-0.9zM277.3 193.4h0.9v0.9h-0.9zM250.3 189.4h0.9v0.9h-0.9zM255.6 172.6h0.9v0.9h-0.9zM242.4 213.2h0.9v0.9h-0.9zM241.1 208.7h0.9v0.9h-0.9zM249.0 210.9h0.9v0.9h-0.9zM253.6 173.9h0.9v0.9h-0.9zM240.4 197.3h0.9v0.9h-0.9zM270.2 173.0h0.9v0.9h-0.9zM236.6 206.2h0.9v0.9h-0.9zM244.0 153.1h0.9v0.9h-0.9zM252.2 188.3h0.9v0.9h-0.9zM234.4 178.2h0.9v0.9h-0.9zM256.2 221.8h0.9v0.9h-0.9zM257.0 225.0h0.9v0.9h-0.9zM245.9 237.0h0.9v0.9h-0.9zM272.3 195.3h0.9v0.9h-0.9zM250.4 184.2h0.9v0.9h-0.9zM252.8 215.0h0.9v0.9h-0.9zM237.9 201.1h0.9v0.9h-0.9zM229.3 226.7h0.9v0.9h-0.9zM241.8 181.9h0.9v0.9h-0.9zM245.5 186.0h0.9v0.9h-0.9zM243.9 211.2h0.9v0.9h-0.9zM258.6 228.5h0.9v0.9h-0.9zM265.5 153.6h0.9v0.9h-0.9zM242.6 201.1h0.9v0.9h-0.9zM243.2 179.7h0.9v0.9h-0.9zM236.2 204.0h0.9v0.9h-0.9zM260.2 175.0h0.9v0.9h-0.9zM244.4 198.7h0.9v0.9h-0.9zM252.1 215.7h0.9v0.9h-0.9zM225.0 237.8h0.9v0.9h-0.9zM263.5 190.3h0.9v0.9h-0.9zM254.1 192.2h0.9v0.9h-0.9zM256.0 193.3h0.9v0.9h-0.9zM264.2 186.6h0.9v0.9h-0.9zM247.1 211.1h0.9v0.9h-0.9zM247.4 197.9h0.9v0.9h-0.9zM258.0 200.3h0.9v0.9h-0.9zM254.5 162.2h0.9v0.9h-0.9zM246.5 216.6h0.9v0.9h-0.9zM249.9 235.3h0.9v0.9h-0.9zM243.3 205.4h0.9v0.9h-0.9zM258.0 157.0h0.9v0.9h-0.9zM260.6 217.4h0.9v0.9h-0.9zM249.5 188.6h0.9v0.9h-0.9zM230.9 206.6h0.9v0.9h-0.9zM246.6 212.2h0.9v0.9h-0.9zM270.0 187.7h0.9v0.9h-0.9zM244.3 228.5h0.9v0.9h-0.9zM230.2 226.3h0.9v0.9h-0.9zM266.2 185.0h0.9v0.9h-0.9zM256.0 145.9h0.9v0.9h-0.9zM235.1 182.9h0.9v0.9h-0.9zM258.7 192.5h0.9v0.9h-0.9zM237.1 221.8h0.9v0.9h-0.9zM233.3 186.3h0.9v0.9h-0.9zM247.6 183.8h0.9v0.9h-0.9zM243.6 211.7h0.9v0.9h-0.9zM236.2 163.9h0.9v0.9h-0.9zM245.0 155.7h0.9v0.9h-0.9zM237.3 201.0h0.9v0.9h-0.9zM250.1 201.3h0.9v0.9h-0.9zM249.2 185.6h0.9v0.9h-0.9zM244.0 201.3h0.9v0.9h-0.9zM233.4 179.4h0.9v0.9h-0.9zM233.6 224.2h0.9v0.9h-0.9zM246.5 196.4h0.9v0.9h-0.9zM267.9 186.8h0.9v0.9h-0.9zM259.6 202.2h0.9v0.9h-0.9zM241.7 190.7h0.9v0.9h-0.9zM260.8 205.5h0.9v0.9h-0.9zM235.5 236.0h0.9v0.9h-0.9zM261.6 195.0h0.9v0.9h-0.9zM244.8 230.2h0.9v0.9h-0.9zM258.7 174.3h0.9v0.9h-0.9zM256.9 210.7h0.9v0.9h-0.9zM246.1 205.1h0.9v0.9h-0.9zM253.4 170.5h0.9v0.9h-0.9zM236.6 205.1h0.9v0.9h-0.9zM248.5 184.9h0.9v0.9h-0.9zM262.5 172.8h0.9v0.9h-0.9zM298.7 157.1h0.9v0.9h-0.9zM257.9 213.2h0.9v0.9h-0.9zM250.5 188.1h0.9v0.9h-0.9zM237.3 209.2h0.9v0.9h-0.9zM262.2 152.3h0.9v0.9h-0.9zM229.5 215.2h0.9v0.9h-0.9zM239.8 230.4h0.9v0.9h-0.9zM253.8 211.0h0.9v0.9h-0.9zM234.9 219.1h0.9v0.9h-0.9zM268.0 168.8h0.9v0.9h-0.9zM262.6 163.1h0.9v0.9h-0.9zM242.6 199.8h0.9v0.9h-0.9zM242.8 171.4h0.9v0.9h-0.9zM233.6 181.4h0.9v0.9h-0.9zM232.6 231.6h0.9v0.9h-0.9zM254.8 171.0h0.9v0.9h-0.9zM257.0 230.7h0.9v0.9h-0.9zM253.7 160.3h0.9v0.9h-0.9zM252.6 203.3h0.9v0.9h-0.9zM242.7 175.2h0.9v0.9h-0.9zM253.8 196.5h0.9v0.9h-0.9zM231.7 187.4h0.9v0.9h-0.9zM249.5 197.0h0.9v0.9h-0.9zM267.2 177.9h0.9v0.9h-0.9zM265.4 172.7h0.9v0.9h-0.9zM243.9 212.5h0.9v0.9h-0.9zM245.4 233.8h0.9v0.9h-0.9zM266.0 169.0h0.9v0.9h-0.9zM271.0 198.3h0.9v0.9h-0.9zM231.4 213.1h0.9v0.9h-0.9zM244.3 199.8h0.9v0.9h-0.9zM239.4 189.2h0.9v0.9h-0.9zM257.2 148.7h0.9v0.9h-0.9zM245.8 192.1h0.9v0.9h-0.9zM278.1 167.1h0.9v0.9h-0.9zM247.8 205.4h0.9v0.9h-0.9zM245.4 240.3h0.9v0.9h-0.9zM262.2 215.1h0.9v0.9h-0.9zM257.6 179.4h0.9v0.9h-0.9zM236.4 217.9h0.9v0.9h-0.9zM252.1 231.9h0.9v0.9h-0.9zM233.3 213.6h0.9v0.9h-0.9zM240.4 208.5h0.9v0.9h-0.9zM233.9 220.6h0.9v0.9h-0.9zM233.5 175.3h0.9v0.9h-0.9zM241.2 184.6h0.9v0.9h-0.9zM237.7 213.7h0.9v0.9h-0.9zM255.8 203.3h0.9v0.9h-0.9zM259.1 167.3h0.9v0.9h-0.9zM246.6 191.2h0.9v0.9h-0.9zM236.0 204.6h0.9v0.9h-0.9zM259.2 184.7h0.9v0.9h-0.9zM225.1 232.2h0.9v0.9h-0.9zM258.2 192.6h0.9v0.9h-0.9zM257.4 157.4h0.9v0.9h-0.9zM261.2 162.4h0.9v0.9h-0.9zM246.9 205.6h0.9v0.9h-0.9zM234.3 172.6h0.9v0.9h-0.9zM243.3 207.4h0.9v0.9h-0.9zM256.3 175.4h0.9v0.9h-0.9zM240.2 185.4h0.9v0.9h-0.9zM241.0 217.9h0.9v0.9h-0.9zM232.7 194.7h0.9v0.9h-0.9zM235.4 188.3h0.9v0.9h-0.9zM259.6 172.3h0.9v0.9h-0.9zM254.9 192.8h0.9v0.9h-0.9zM236.4 158.8h0.9v0.9h-0.9zM242.7 201.3h0.9v0.9h-0.9zM256.1 185.1h0.9v0.9h-0.9zM235.4 229.4h0.9v0.9h-0.9zM247.4 189.3h0.9v0.9h-0.9zM234.3 238.8h0.9v0.9h-0.9zM254.5 167.0h0.9v0.9h-0.9zM260.3 185.6h0.9v0.9h-0.9zM235.5 176.5h0.9v0.9h-0.9zM240.1 178.8h0.9v0.9h-0.9zM259.1 176.7h0.9v0.9h-0.9zM244.8 219.4h0.9v0.9h-0.9zM242.9 220.6h0.9v0.9h-0.9zM255.7 177.1h0.9v0.9h-0.9zM251.8 205.4h0.9v0.9h-0.9zM262.9 176.3h0.9v0.9h-0.9zM259.0 190.5h0.9v0.9h-0.9zM242.5 205.2h0.9v0.9h-0.9zM248.0 211.2h0.9v0.9h-0.9zM248.7 182.5h0.9v0.9h-0.9zM233.1 206.5h0.9v0.9h-0.9zM237.7 210.6h0.9v0.9h-0.9zM261.2 188.2h0.9v0.9h-0.9zM230.4 193.6h0.9v0.9h-0.9zM261.5 225.0h0.9v0.9h-0.9zM252.9 182.5h0.9v0.9h-0.9zM247.8 214.5h0.9v0.9h-0.9zM256.0 195.1h0.9v0.9h-0.9zM255.2 218.8h0.9v0.9h-0.9zM246.7 193.2h0.9v0.9h-0.9zM246.5 170.2h0.9v0.9h-0.9zM272.2 179.8h0.9v0.9h-0.9zM260.9 237.7h0.9v0.9h-0.9zM238.4 216.6h0.9v0.9h-0.9zM245.5 171.1h0.9v0.9h-0.9zM241.0 192.3h0.9v0.9h-0.9zM249.7 226.0h0.9v0.9h-0.9zM252.1 161.6h0.9v0.9h-0.9zM277.1 168.6h0.9v0.9h-0.9zM261.9 234.7h0.9v0.9h-0.9zM254.8 184.7h0.9v0.9h-0.9zM241.1 232.7h0.9v0.9h-0.9zM247.7 181.8h0.9v0.9h-0.9zM243.6 182.4h0.9v0.9h-0.9zM250.1 218.1h0.9v0.9h-0.9zM261.6 199.8h0.9v0.9h-0.9zM231.2 171.6h0.9v0.9h-0.9zM265.3 197.1h0.9v0.9h-0.9zM245.0 214.1h0.9v0.9h-0.9zM267.6 166.6h0.9v0.9h-0.9zM254.5 196.6h0.9v0.9h-0.9zM264.4 189.4h0.9v0.9h-0.9zM256.4 178.9h0.9v0.9h-0.9zM262.6 171.5h0.9v0.9h-0.9zM250.2 179.8h0.9v0.9h-0.9zM239.6 197.8h0.9v0.9h-0.9zM257.7 158.6h0.9v0.9h-0.9zM258.1 187.5h0.9v0.9h-0.9zM247.2 195.7h0.9v0.9h-0.9zM262.4 161.4h0.9v0.9h-0.9zM234.5 227.6h0.9v0.9h-0.9zM246.8 241.9h0.9v0.9h-0.9zM275.1 204.5h0.9v0.9h-0.9zM266.6 150.3h0.9v0.9h-0.9zM239.0 233.4h0.9v0.9h-0.9zM266.8 186.3h0.9v0.9h-0.9zM263.8 182.5h0.9v0.9h-0.9zM259.0 174.2h0.9v0.9h-0.9zM254.2 191.6h0.9v0.9h-0.9zM252.5 224.8h0.9v0.9h-0.9zM239.2 216.6h0.9v0.9h-0.9zM243.4 191.3h0.9v0.9h-0.9zM258.4 173.0h0.9v0.9h-0.9zM251.3 184.7h0.9v0.9h-0.9zM271.9 190.3h0.9v0.9h-0.9zM245.6 241.3h0.9v0.9h-0.9zM245.6 198.8h0.9v0.9h-0.9zM253.0 184.0h0.9v0.9h-0.9zM254.2 174.6h0.9v0.9h-0.9zM250.5 203.9h0.9v0.9h-0.9zM239.8 216.3h0.9v0.9h-0.9zM267.6 148.3h0.9v0.9h-0.9zM241.7 178.6h0.9v0.9h-0.9zM258.2 215.5h0.9v0.9h-0.9zM246.2 205.6h0.9v0.9h-0.9zM235.3 219.3h0.9v0.9h-0.9zM266.7 169.9h0.9v0.9h-0.9zM239.4 214.4h0.9v0.9h-0.9zM254.9 179.9h0.9v0.9h-0.9zM245.4 173.8h0.9v0.9h-0.9zM258.7 188.0h0.9v0.9h-0.9zM248.5 217.0h0.9v0.9h-0.9zM244.3 176.6h0.9v0.9h-0.9zM275.7 197.8h0.9v0.9h-0.9zM247.1 213.6h0.9v0.9h-0.9zM247.8 177.4h0.9v0.9h-0.9zM236.7 206.5h0.9v0.9h-0.9zM240.7 202.0h0.9v0.9h-0.9zM257.5 203.3h0.9v0.9h-0.9zM256.5 204.9h0.9v0.9h-0.9zM249.8 165.9h0.9v0.9h-0.9zM241.3 171.8h0.9v0.9h-0.9zM258.0 211.9h0.9v0.9h-0.9zM229.3 215.0h0.9v0.9h-0.9zM245.7 208.3h0.9v0.9h-0.9zM246.7 205.5h0.9v0.9h-0.9zM239.6 238.6h0.9v0.9h-0.9zM251.6 166.5h0.9v0.9h-0.9zM241.8 226.8h0.9v0.9h-0.9zM240.1 184.9h0.9v0.9h-0.9zM271.4 193.9h0.9v0.9h-0.9zM258.7 218.4h0.9v0.9h-0.9zM264.2 152.0h0.9v0.9h-0.9zM250.4 204.0h0.9v0.9h-0.9zM261.4 179.4h0.9v0.9h-0.9zM259.2 181.0h0.9v0.9h-0.9zM264.4 184.2h0.9v0.9h-0.9zM278.3 147.8h0.9v0.9h-0.9zM247.1 175.8h0.9v0.9h-0.9zM253.0 207.7h0.9v0.9h-0.9zM249.2 215.0h0.9v0.9h-0.9zM233.1 176.3h0.9v0.9h-0.9zM257.5 213.9h0.9v0.9h-0.9zM243.0 209.2h0.9v0.9h-0.9zM263.5 160.6h0.9v0.9h-0.9zM265.3 169.3h0.9v0.9h-0.9zM245.0 204.9h0.9v0.9h-0.9zM267.0 159.3h0.9v0.9h-0.9zM271.0 214.0h0.9v0.9h-0.9zM255.5 193.7h0.9v0.9h-0.9zM238.2 214.0h0.9v0.9h-0.9zM267.6 157.3h0.9v0.9h-0.9zM248.0 176.4h0.9v0.9h-0.9zM245.4 181.2h0.9v0.9h-0.9zM251.4 200.3h0.9v0.9h-0.9zM243.5 194.6h0.9v0.9h-0.9zM262.8 178.0h0.9v0.9h-0.9zM259.3 194.6h0.9v0.9h-0.9zM264.6 188.1h0.9v0.9h-0.9zM257.0 222.9h0.9v0.9h-0.9zM240.5 198.7h0.9v0.9h-0.9zM248.1 173.9h0.9v0.9h-0.9zM260.5 186.2h0.9v0.9h-0.9zM245.1 232.3h0.9v0.9h-0.9zM285.0 153.5h0.9v0.9h-0.9zM247.1 198.7h0.9v0.9h-0.9zM243.0 193.0h0.9v0.9h-0.9zM263.8 192.9h0.9v0.9h-0.9zM259.0 193.5h0.9v0.9h-0.9zM249.7 177.2h0.9v0.9h-0.9zM247.2 192.4h0.9v0.9h-0.9zM255.1 212.2h0.9v0.9h-0.9zM260.0 211.6h0.9v0.9h-0.9zM259.2 208.4h0.9v0.9h-0.9zM246.4 217.7h0.9v0.9h-0.9zM255.2 183.4h0.9v0.9h-0.9zM260.1 178.6h0.9v0.9h-0.9zM259.2 208.5h0.9v0.9h-0.9zM239.3 202.8h0.9v0.9h-0.9zM240.7 161.2h0.9v0.9h-0.9zM247.2 189.0h0.9v0.9h-0.9zM252.1 177.5h0.9v0.9h-0.9zM261.1 158.9h0.9v0.9h-0.9zM257.4 202.1h0.9v0.9h-0.9zM248.5 179.9h0.9v0.9h-0.9zM250.3 186.7h0.9v0.9h-0.9zM271.1 171.8h0.9v0.9h-0.9zM242.6 184.8h0.9v0.9h-0.9zM253.7 224.2h0.9v0.9h-0.9zM268.8 168.5h0.9v0.9h-0.9zM254.2 196.2h0.9v0.9h-0.9zM254.5 180.8h0.9v0.9h-0.9zM245.4 191.8h0.9v0.9h-0.9zM248.6 189.5h0.9v0.9h-0.9zM262.6 171.6h0.9v0.9h-0.9zM255.6 193.8h0.9v0.9h-0.9zM246.8 233.0h0.9v0.9h-0.9zM260.7 183.4h0.9v0.9h-0.9zM255.2 187.8h0.9v0.9h-0.9zM251.3 185.4h0.9v0.9h-0.9zM253.0 229.0h0.9v0.9h-0.9zM245.9 211.2h0.9v0.9h-0.9zM244.5 215.7h0.9v0.9h-0.9zM250.3 179.0h0.9v0.9h-0.9zM238.5 201.4h0.9v0.9h-0.9zM234.9 212.6h0.9v0.9h-0.9zM265.6 185.0h0.9v0.9h-0.9zM247.1 178.4h0.9v0.9h-0.9zM249.7 178.0h0.9v0.9h-0.9zM248.4 208.2h0.9v0.9h-0.9zM250.3 202.1h0.9v0.9h-0.9zM250.3 147.7h0.9v0.9h-0.9zM250.8 196.7h0.9v0.9h-0.9zM240.3 231.9h0.9v0.9h-0.9zM261.2 171.5h0.9v0.9h-0.9zM241.7 207.6h0.9v0.9h-0.9zM262.4 152.2h0.9v0.9h-0.9zM227.0 233.2h0.9v0.9h-0.9zM237.3 180.8h0.9v0.9h-0.9zM261.9 157.2h0.9v0.9h-0.9zM248.2 189.6h0.9v0.9h-0.9zM254.5 177.8h0.9v0.9h-0.9zM237.5 177.4h0.9v0.9h-0.9zM250.9 204.9h0.9v0.9h-0.9zM223.4 222.6h0.9v0.9h-0.9zM244.6 237.1h0.9v0.9h-0.9zM242.2 173.3h0.9v0.9h-0.9zM256.5 154.1h0.9v0.9h-0.9zM260.5 179.5h0.9v0.9h-0.9zM239.7 212.4h0.9v0.9h-0.9zM269.3 187.2h0.9v0.9h-0.9zM242.9 225.6h0.9v0.9h-0.9zM268.5 177.0h0.9v0.9h-0.9zM248.9 215.0h0.9v0.9h-0.9zM242.2 212.5h0.9v0.9h-0.9zM241.0 193.3h0.9v0.9h-0.9zM236.9 183.3h0.9v0.9h-0.9zM266.2 201.6h0.9v0.9h-0.9zM249.0 217.5h0.9v0.9h-0.9zM271.5 238.4h0.9v0.9h-0.9zM247.6 193.3h0.9v0.9h-0.9zM260.1 159.7h0.9v0.9h-0.9zM245.6 186.8h0.9v0.9h-0.9zM247.2 182.5h0.9v0.9h-0.9zM268.8 169.2h0.9v0.9h-0.9zM246.8 178.3h0.9v0.9h-0.9zM263.9 171.5h0.9v0.9h-0.9zM249.9 194.1h0.9v0.9h-0.9zM241.0 192.7h0.9v0.9h-0.9zM256.1 205.1h0.9v0.9h-0.9zM242.8 199.4h0.9v0.9h-0.9zM264.7 183.0h0.9v0.9h-0.9zM261.5 218.8h0.9v0.9h-0.9zM250.8 201.8h0.9v0.9h-0.9zM257.3 192.7h0.9v0.9h-0.9zM256.8 189.2h0.9v0.9h-0.9zM246.7 199.5h0.9v0.9h-0.9zM260.7 199.2h0.9v0.9h-0.9zM247.3 179.6h0.9v0.9h-0.9zM257.4 214.9h0.9v0.9h-0.9zM238.6 240.1h0.9v0.9h-0.9zM251.2 220.2h0.9v0.9h-0.9zM255.0 180.1h0.9v0.9h-0.9zM240.5 167.5h0.9v0.9h-0.9zM245.0 189.7h0.9v0.9h-0.9zM243.6 204.1h0.9v0.9h-0.9zM258.8 206.6h0.9v0.9h-0.9zM241.4 198.4h0.9v0.9h-0.9zM255.3 184.1h0.9v0.9h-0.9zM268.3 214.2h0.9v0.9h-0.9zM254.3 176.7h0.9v0.9h-0.9zM230.7 235.3h0.9v0.9h-0.9zM251.6 214.3h0.9v0.9h-0.9zM262.6 155.0h0.9v0.9h-0.9zM246.6 204.4h0.9v0.9h-0.9zM263.4 171.7h0.9v0.9h-0.9zM257.5 167.8h0.9v0.9h-0.9zM255.1 149.5h0.9v0.9h-0.9zM247.0 162.7h0.9v0.9h-0.9zM243.9 209.7h0.9v0.9h-0.9zM247.0 189.1h0.9v0.9h-0.9zM250.9 200.7h0.9v0.9h-0.9zM256.4 166.2h0.9v0.9h-0.9zM255.2 183.8h0.9v0.9h-0.9zM246.5 192.1h0.9v0.9h-0.9zM250.9 159.9h0.9v0.9h-0.9zM254.8 154.0h0.9v0.9h-0.9zM230.6 221.4h0.9v0.9h-0.9zM240.9 206.2h0.9v0.9h-0.9zM240.6 182.3h0.9v0.9h-0.9zM247.7 195.0h0.9v0.9h-0.9zM246.8 212.8h0.9v0.9h-0.9zM247.1 238.9h0.9v0.9h-0.9zM239.7 184.0h0.9v0.9h-0.9zM258.2 202.3h0.9v0.9h-0.9zM253.5 240.0h0.9v0.9h-0.9zM230.5 213.1h0.9v0.9h-0.9zM250.3 228.0h0.9v0.9h-0.9zM236.7 148.4h0.9v0.9h-0.9zM270.6 210.7h0.9v0.9h-0.9zM244.7 199.5h0.9v0.9h-0.9zM245.5 157.0h0.9v0.9h-0.9zM251.2 211.8h0.9v0.9h-0.9zM247.8 220.7h0.9v0.9h-0.9zM249.5 222.9h0.9v0.9h-0.9zM268.8 206.6h0.9v0.9h-0.9zM252.9 192.2h0.9v0.9h-0.9zM260.2 170.0h0.9v0.9h-0.9zM263.7 173.5h0.9v0.9h-0.9zM238.5 204.1h0.9v0.9h-0.9zM270.5 187.4h0.9v0.9h-0.9zM258.5 177.5h0.9v0.9h-0.9zM261.7 186.7h0.9v0.9h-0.9zM239.8 223.5h0.9v0.9h-0.9zM260.0 194.3h0.9v0.9h-0.9zM255.2 242.6h0.9v0.9h-0.9zM277.6 146.5h0.9v0.9h-0.9zM257.0 176.7h0.9v0.9h-0.9zM247.3 168.1h0.9v0.9h-0.9zM252.5 167.0h0.9v0.9h-0.9zM261.1 198.3h0.9v0.9h-0.9zM263.8 161.5h0.9v0.9h-0.9zM257.2 165.8h0.9v0.9h-0.9zM264.8 176.9h0.9v0.9h-0.9zM267.9 198.4h0.9v0.9h-0.9zM235.4 199.5h0.9v0.9h-0.9zM244.4 192.0h0.9v0.9h-0.9zM239.0 225.2h0.9v0.9h-0.9zM251.4 204.8h0.9v0.9h-0.9zM267.6 191.0h0.9v0.9h-0.9zM258.1 209.9h0.9v0.9h-0.9zM237.7 182.8h0.9v0.9h-0.9zM246.7 202.9h0.9v0.9h-0.9zM262.6 170.6h0.9v0.9h-0.9zM243.9 223.5h0.9v0.9h-0.9zM249.1 214.5h0.9v0.9h-0.9zM253.9 168.6h0.9v0.9h-0.9zM259.6 161.0h0.9v0.9h-0.9zM254.3 218.0h0.9v0.9h-0.9zM257.1 194.1h0.9v0.9h-0.9zM238.5 185.3h0.9v0.9h-0.9zM241.0 177.6h0.9v0.9h-0.9zM243.1 194.2h0.9v0.9h-0.9zM253.2 192.1h0.9v0.9h-0.9zM251.1 178.4h0.9v0.9h-0.9zM251.8 206.5h0.9v0.9h-0.9zM271.7 145.7h0.9v0.9h-0.9zM265.9 181.9h0.9v0.9h-0.9zM241.6 202.3h0.9v0.9h-0.9zM242.4 159.5h0.9v0.9h-0.9zM270.8 184.9h0.9v0.9h-0.9zM246.4 169.8h0.9v0.9h-0.9zM269.4 165.3h0.9v0.9h-0.9zM243.7 195.4h0.9v0.9h-0.9zM247.0 218.2h0.9v0.9h-0.9zM251.2 183.3h0.9v0.9h-0.9zM239.9 237.0h0.9v0.9h-0.9zM238.5 237.3h0.9v0.9h-0.9zM245.4 223.8h0.9v0.9h-0.9zM260.5 216.4h0.9v0.9h-0.9zM244.9 207.5h0.9v0.9h-0.9zM247.8 184.6h0.9v0.9h-0.9zM244.7 214.4h0.9v0.9h-0.9zM233.9 230.6h0.9v0.9h-0.9zM268.1 185.7h0.9v0.9h-0.9zM242.4 166.3h0.9v0.9h-0.9zM256.9 204.8h0.9v0.9h-0.9zM233.5 217.0h0.9v0.9h-0.9zM257.5 159.7h0.9v0.9h-0.9zM265.3 184.8h0.9v0.9h-0.9zM239.9 220.0h0.9v0.9h-0.9zM252.7 190.6h0.9v0.9h-0.9zM236.9 223.9h0.9v0.9h-0.9zM256.3 207.1h0.9v0.9h-0.9zM251.3 160.9h0.9v0.9h-0.9zM252.8 186.2h0.9v0.9h-0.9zM266.6 192.4h0.9v0.9h-0.9zM255.9 211.1h0.9v0.9h-0.9zM266.4 213.5h0.9v0.9h-0.9zM257.8 145.4h0.9v0.9h-0.9zM235.8 205.6h0.9v0.9h-0.9zM253.4 208.7h0.9v0.9h-0.9zM256.1 217.9h0.9v0.9h-0.9zM266.2 160.6h0.9v0.9h-0.9zM251.0 186.0h0.9v0.9h-0.9zM254.6 167.6h0.9v0.9h-0.9zM239.5 222.6h0.9v0.9h-0.9zM251.1 164.4h0.9v0.9h-0.9zM253.8 218.9h0.9v0.9h-0.9zM246.3 219.6h0.9v0.9h-0.9zM251.2 205.3h0.9v0.9h-0.9zM266.6 166.2h0.9v0.9h-0.9zM236.9 223.2h0.9v0.9h-0.9zM238.7 199.3h0.9v0.9h-0.9zM240.2 201.1h0.9v0.9h-0.9zM256.8 209.8h0.9v0.9h-0.9zM239.3 210.6h0.9v0.9h-0.9zM253.6 198.5h0.9v0.9h-0.9zM238.7 194.7h0.9v0.9h-0.9zM276.7 173.2h0.9v0.9h-0.9zM256.8 186.6h0.9v0.9h-0.9zM273.7 192.0h0.9v0.9h-0.9zM238.0 201.2h0.9v0.9h-0.9zM258.2 211.9h0.9v0.9h-0.9zM238.7 166.2h0.9v0.9h-0.9zM257.2 216.5h0.9v0.9h-0.9zM258.3 184.5h0.9v0.9h-0.9zM231.1 236.6h0.9v0.9h-0.9zM236.6 208.4h0.9v0.9h-0.9zM236.2 226.1h0.9v0.9h-0.9zM241.4 189.9h0.9v0.9h-0.9zM238.7 206.5h0.9v0.9h-0.9zM232.8 205.7h0.9v0.9h-0.9zM251.4 198.9h0.9v0.9h-0.9zM256.7 153.0h0.9v0.9h-0.9zM234.4 204.4h0.9v0.9h-0.9zM243.5 195.1h0.9v0.9h-0.9zM250.3 177.2h0.9v0.9h-0.9zM247.4 193.0h0.9v0.9h-0.9zM241.8 167.2h0.9v0.9h-0.9zM259.9 218.7h0.9v0.9h-0.9zM260.3 196.8h0.9v0.9h-0.9zM258.3 231.0h0.9v0.9h-0.9zM247.7 177.4h0.9v0.9h-0.9zM274.0 148.8h0.9v0.9h-0.9zM271.0 184.1h0.9v0.9h-0.9zM245.3 161.4h0.9v0.9h-0.9zM248.7 201.4h0.9v0.9h-0.9zM264.4 167.3h0.9v0.9h-0.9zM240.5 195.6h0.9v0.9h-0.9zM254.9 196.9h0.9v0.9h-0.9zM250.7 195.7h0.9v0.9h-0.9zM247.3 211.7h0.9v0.9h-0.9zM231.3 181.6h0.9v0.9h-0.9zM243.6 222.7h0.9v0.9h-0.9zM277.5 174.3h0.9v0.9h-0.9zM268.2 151.8h0.9v0.9h-0.9zM264.9 164.1h0.9v0.9h-0.9zM253.7 221.8h0.9v0.9h-0.9zM262.1 172.5h0.9v0.9h-0.9zM265.4 167.8h0.9v0.9h-0.9zM262.3 172.2h0.9v0.9h-0.9zM261.1 178.8h0.9v0.9h-0.9zM239.1 236.9h0.9v0.9h-0.9zM255.2 164.1h0.9v0.9h-0.9zM243.7 172.4h0.9v0.9h-0.9zM235.9 220.0h0.9v0.9h-0.9zM236.4 170.4h0.9v0.9h-0.9zM255.2 182.5h0.9v0.9h-0.9zM262.7 210.2h0.9v0.9h-0.9zM233.7 208.8h0.9v0.9h-0.9zM271.0 166.7h0.9v0.9h-0.9zM267.7 164.3h0.9v0.9h-0.9zM245.5 178.1h0.9v0.9h-0.9zM244.5 186.3h0.9v0.9h-0.9zM249.2 198.8h0.9v0.9h-0.9zM261.8 213.4h0.9v0.9h-0.9zM245.4 220.7h0.9v0.9h-0.9zM236.8 193.3h0.9v0.9h-0.9zM254.2 175.0h0.9v0.9h-0.9zM225.2 231.4h0.9v0.9h-0.9zM251.7 152.5h0.9v0.9h-0.9zM263.9 173.4h0.9v0.9h-0.9zM253.7 184.5h0.9v0.9h-0.9zM259.4 162.0h0.9v0.9h-0.9zM255.9 167.5h0.9v0.9h-0.9zM258.7 195.5h0.9v0.9h-0.9zM251.7 156.0h0.9v0.9h-0.9zM240.1 182.5h0.9v0.9h-0.9zM247.3 182.4h0.9v0.9h-0.9zM249.1 197.4h0.9v0.9h-0.9zM265.1 151.2h0.9v0.9h-0.9zM269.5 203.1h0.9v0.9h-0.9zM255.0 183.6h0.9v0.9h-0.9zM241.0 196.4h0.9v0.9h-0.9zM241.2 193.8h0.9v0.9h-0.9zM247.7 181.4h0.9v0.9h-0.9zM266.7 158.6h0.9v0.9h-0.9zM254.0 217.3h0.9v0.9h-0.9zM249.3 199.8h0.9v0.9h-0.9zM240.8 199.8h0.9v0.9h-0.9zM260.6 208.3h0.9v0.9h-0.9zM253.5 175.6h0.9v0.9h-0.9zM249.4 209.3h0.9v0.9h-0.9zM251.2 194.0h0.9v0.9h-0.9zM270.2 157.6h0.9v0.9h-0.9zM248.1 213.3h0.9v0.9h-0.9zM270.3 143.8h0.9v0.9h-0.9zM264.9 196.8h0.9v0.9h-0.9zM250.6 174.0h0.9v0.9h-0.9zM260.6 194.9h0.9v0.9h-0.9zM248.5 226.9h0.9v0.9h-0.9zM240.1 215.5h0.9v0.9h-0.9zM246.8 183.5h0.9v0.9h-0.9zM239.1 202.8h0.9v0.9h-0.9zM256.1 181.0h0.9v0.9h-0.9zM250.2 167.7h0.9v0.9h-0.9zM256.8 163.7h0.9v0.9h-0.9zM259.9 187.0h0.9v0.9h-0.9zM253.7 151.3h0.9v0.9h-0.9zM252.0 204.0h0.9v0.9h-0.9zM239.5 205.5h0.9v0.9h-0.9zM251.3 170.5h0.9v0.9h-0.9zM266.4 203.9h0.9v0.9h-0.9zM229.5 183.8h0.9v0.9h-0.9zM252.3 206.8h0.9v0.9h-0.9zM249.1 231.0h0.9v0.9h-0.9zM257.8 193.4h0.9v0.9h-0.9zM250.4 200.8h0.9v0.9h-0.9zM243.9 204.2h0.9v0.9h-0.9zM241.3 184.0h0.9v0.9h-0.9zM288.6 154.9h0.9v0.9h-0.9zM245.3 166.5h0.9v0.9h-0.9zM238.8 215.4h0.9v0.9h-0.9zM245.6 182.7h0.9v0.9h-0.9zM245.4 177.0h0.9v0.9h-0.9zM249.1 184.1h0.9v0.9h-0.9zM237.4 204.2h0.9v0.9h-0.9zM256.5 189.9h0.9v0.9h-0.9zM244.2 196.4h0.9v0.9h-0.9zM233.7 209.1h0.9v0.9h-0.9zM240.2 172.6h0.9v0.9h-0.9zM260.2 199.3h0.9v0.9h-0.9zM255.8 221.0h0.9v0.9h-0.9zM245.9 165.4h0.9v0.9h-0.9zM250.2 178.7h0.9v0.9h-0.9zM252.6 198.4h0.9v0.9h-0.9zM274.5 194.9h0.9v0.9h-0.9zM242.6 214.6h0.9v0.9h-0.9zM255.6 217.9h0.9v0.9h-0.9zM258.7 185.3h0.9v0.9h-0.9zM238.6 212.6h0.9v0.9h-0.9zM252.3 201.2h0.9v0.9h-0.9zM252.0 182.5h0.9v0.9h-0.9zM244.4 225.5h0.9v0.9h-0.9zM256.8 202.1h0.9v0.9h-0.9zM262.3 205.5h0.9v0.9h-0.9zM263.6 173.7h0.9v0.9h-0.9zM247.7 218.8h0.9v0.9h-0.9zM252.3 168.2h0.9v0.9h-0.9zM278.2 179.1h0.9v0.9h-0.9zM236.8 146.1h0.9v0.9h-0.9zM252.7 168.9h0.9v0.9h-0.9zM260.7 201.4h0.9v0.9h-0.9zM251.8 182.1h0.9v0.9h-0.9zM257.9 191.1h0.9v0.9h-0.9zM252.1 155.6h0.9v0.9h-0.9zM259.0 220.9h0.9v0.9h-0.9zM265.4 194.3h0.9v0.9h-0.9zM247.3 195.4h0.9v0.9h-0.9zM252.4 201.1h0.9v0.9h-0.9zM249.3 201.6h0.9v0.9h-0.9zM245.2 229.5h0.9v0.9h-0.9zM249.8 198.7h0.9v0.9h-0.9zM236.4 172.0h0.9v0.9h-0.9zM258.9 180.5h0.9v0.9h-0.9zM270.4 205.5h0.9v0.9h-0.9zM270.5 189.4h0.9v0.9h-0.9zM265.3 171.5h0.9v0.9h-0.9zM238.4 217.0h0.9v0.9h-0.9zM268.2 181.1h0.9v0.9h-0.9zM241.4 214.5h0.9v0.9h-0.9zM249.4 158.7h0.9v0.9h-0.9zM272.2 155.1h0.9v0.9h-0.9zM237.1 219.4h0.9v0.9h-0.9zM260.1 180.3h0.9v0.9h-0.9zM253.4 198.8h0.9v0.9h-0.9zM248.2 239.1h0.9v0.9h-0.9zM239.5 195.5h0.9v0.9h-0.9zM255.1 194.9h0.9v0.9h-0.9zM244.4 185.9h0.9v0.9h-0.9zM262.5 169.3h0.9v0.9h-0.9zM264.7 179.8h0.9v0.9h-0.9zM233.4 175.0h0.9v0.9h-0.9zM243.9 151.6h0.9v0.9h-0.9zM246.2 227.5h0.9v0.9h-0.9zM235.8 203.2h0.9v0.9h-0.9zM236.6 230.1h0.9v0.9h-0.9zM251.1 195.6h0.9v0.9h-0.9zM247.5 199.1h0.9v0.9h-0.9zM230.2 225.3h0.9v0.9h-0.9zM243.5 215.2h0.9v0.9h-0.9zM256.2 161.6h0.9v0.9h-0.9zM235.5 232.8h0.9v0.9h-0.9zM238.9 181.2h0.9v0.9h-0.9zM269.1 182.4h0.9v0.9h-0.9zM265.8 237.8h0.9v0.9h-0.9zM230.5 211.7h0.9v0.9h-0.9zM254.5 182.2h0.9v0.9h-0.9zM235.7 219.4h0.9v0.9h-0.9zM247.0 197.4h0.9v0.9h-0.9zM244.6 207.6h0.9v0.9h-0.9zM256.7 169.0h0.9v0.9h-0.9zM223.6 223.3h0.9v0.9h-0.9zM235.3 171.0h0.9v0.9h-0.9zM262.2 164.7h0.9v0.9h-0.9zM248.1 209.6h0.9v0.9h-0.9zM229.5 197.1h0.9v0.9h-0.9zM255.9 168.9h0.9v0.9h-0.9zM258.5 161.9h0.9v0.9h-0.9zM247.0 199.5h0.9v0.9h-0.9zM246.0 188.9h0.9v0.9h-0.9zM255.3 192.7h0.9v0.9h-0.9zM264.5 177.4h0.9v0.9h-0.9zM251.8 233.6h0.9v0.9h-0.9zM256.4 178.7h0.9v0.9h-0.9zM249.4 150.4h0.9v0.9h-0.9zM245.4 200.2h0.9v0.9h-0.9zM239.0 203.0h0.9v0.9h-0.9zM253.1 194.7h0.9v0.9h-0.9zM246.4 160.9h0.9v0.9h-0.9zM247.1 221.5h0.9v0.9h-0.9zM261.2 183.8h0.9v0.9h-0.9zM255.9 187.9h0.9v0.9h-0.9zM260.4 149.7h0.9v0.9h-0.9zM231.1 220.1h0.9v0.9h-0.9zM256.7 186.7h0.9v0.9h-0.9zM242.9 229.8h0.9v0.9h-0.9zM240.3 192.6h0.9v0.9h-0.9zM239.8 174.7h0.9v0.9h-0.9zM264.5 184.5h0.9v0.9h-0.9zM259.9 165.1h0.9v0.9h-0.9zM241.4 210.2h0.9v0.9h-0.9zM236.3 181.0h0.9v0.9h-0.9zM250.2 190.7h0.9v0.9h-0.9zM244.5 193.3h0.9v0.9h-0.9zM269.9 176.4h0.9v0.9h-0.9zM232.5 196.9h0.9v0.9h-0.9zM246.9 195.0h0.9v0.9h-0.9zM250.1 180.7h0.9v0.9h-0.9zM251.6 195.8h0.9v0.9h-0.9zM259.0 180.2h0.9v0.9h-0.9zM245.9 195.8h0.9v0.9h-0.9zM243.5 230.1h0.9v0.9h-0.9zM228.9 218.1h0.9v0.9h-0.9zM252.9 204.7h0.9v0.9h-0.9zM260.2 195.4h0.9v0.9h-0.9zM246.9 185.9h0.9v0.9h-0.9zM264.2 152.3h0.9v0.9h-0.9zM250.4 211.5h0.9v0.9h-0.9zM268.2 202.1h0.9v0.9h-0.9zM254.0 203.0h0.9v0.9h-0.9zM237.3 213.8h0.9v0.9h-0.9zM242.4 208.9h0.9v0.9h-0.9zM231.6 208.5h0.9v0.9h-0.9zM229.2 217.2h0.9v0.9h-0.9zM253.2 191.4h0.9v0.9h-0.9zM260.4 192.3h0.9v0.9h-0.9zM273.5 153.3h0.9v0.9h-0.9zM249.3 180.4h0.9v0.9h-0.9zM247.2 208.7h0.9v0.9h-0.9zM236.7 197.4h0.9v0.9h-0.9zM254.7 192.6h0.9v0.9h-0.9zM242.9 149.1h0.9v0.9h-0.9zM258.3 229.2h0.9v0.9h-0.9zM256.7 204.1h0.9v0.9h-0.9zM227.6 227.4h0.9v0.9h-0.9zM258.9 171.7h0.9v0.9h-0.9zM251.6 167.5h0.9v0.9h-0.9zM245.3 193.0h0.9v0.9h-0.9zM245.0 198.4h0.9v0.9h-0.9zM271.0 159.3h0.9v0.9h-0.9zM268.4 182.0h0.9v0.9h-0.9zM271.9 190.7h0.9v0.9h-0.9zM236.2 218.6h0.9v0.9h-0.9zM242.1 177.5h0.9v0.9h-0.9zM235.5 206.0h0.9v0.9h-0.9zM241.4 186.6h0.9v0.9h-0.9zM228.3 221.8h0.9v0.9h-0.9zM272.2 211.5h0.9v0.9h-0.9zM262.8 219.4h0.9v0.9h-0.9zM255.5 195.6h0.9v0.9h-0.9zM252.6 216.1h0.9v0.9h-0.9zM245.0 234.2h0.9v0.9h-0.9zM245.2 198.9h0.9v0.9h-0.9zM257.4 193.8h0.9v0.9h-0.9zM241.5 219.8h0.9v0.9h-0.9zM264.7 180.9h0.9v0.9h-0.9zM244.1 187.9h0.9v0.9h-0.9zM239.5 186.3h0.9v0.9h-0.9zM265.6 181.2h0.9v0.9h-0.9zM248.3 181.8h0.9v0.9h-0.9zM256.7 206.0h0.9v0.9h-0.9zM245.0 190.9h0.9v0.9h-0.9zM256.6 215.2h0.9v0.9h-0.9zM233.8 180.4h0.9v0.9h-0.9zM263.0 207.0h0.9v0.9h-0.9zM231.4 200.8h0.9v0.9h-0.9zM253.7 202.3h0.9v0.9h-0.9zM255.1 188.9h0.9v0.9h-0.9zM251.3 207.8h0.9v0.9h-0.9zM235.4 194.1h0.9v0.9h-0.9zM260.7 192.5h0.9v0.9h-0.9zM232.4 217.3h0.9v0.9h-0.9zM244.4 195.7h0.9v0.9h-0.9zM240.5 210.6h0.9v0.9h-0.9zM245.5 176.2h0.9v0.9h-0.9zM260.2 197.9h0.9v0.9h-0.9zM242.4 174.2h0.9v0.9h-0.9zM256.8 202.3h0.9v0.9h-0.9zM258.3 197.7h0.9v0.9h-0.9zM229.5 226.9h0.9v0.9h-0.9zM236.0 193.9h0.9v0.9h-0.9zM242.9 195.4h0.9v0.9h-0.9zM253.7 194.7h0.9v0.9h-0.9zM258.6 218.5h0.9v0.9h-0.9zM258.9 176.8h0.9v0.9h-0.9zM248.0 217.9h0.9v0.9h-0.9zM233.4 187.8h0.9v0.9h-0.9zM250.1 201.3h0.9v0.9h-0.9zM243.6 191.9h0.9v0.9h-0.9zM256.8 209.2h0.9v0.9h-0.9zM249.0 189.1h0.9v0.9h-0.9zM258.7 168.6h0.9v0.9h-0.9zM244.8 208.8h0.9v0.9h-0.9zM267.3 154.3h0.9v0.9h-0.9zM237.8 221.6h0.9v0.9h-0.9zM255.9 149.1h0.9v0.9h-0.9zM231.9 226.4h0.9v0.9h-0.9zM258.8 178.7h0.9v0.9h-0.9zM235.4 187.0h0.9v0.9h-0.9zM251.1 199.2h0.9v0.9h-0.9zM239.0 217.7h0.9v0.9h-0.9zM244.7 186.5h0.9v0.9h-0.9zM252.1 189.3h0.9v0.9h-0.9zM248.7 213.3h0.9v0.9h-0.9zM245.4 215.1h0.9v0.9h-0.9zM275.8 172.3h0.9v0.9h-0.9zM250.1 178.1h0.9v0.9h-0.9zM238.4 184.1h0.9v0.9h-0.9zM261.1 172.8h0.9v0.9h-0.9zM259.8 201.5h0.9v0.9h-0.9zM264.7 195.3h0.9v0.9h-0.9zM271.4 183.7h0.9v0.9h-0.9zM238.7 234.6h0.9v0.9h-0.9zM262.7 178.0h0.9v0.9h-0.9zM263.7 175.5h0.9v0.9h-0.9zM250.0 186.8h0.9v0.9h-0.9zM252.9 234.1h0.9v0.9h-0.9zM243.1 207.2h0.9v0.9h-0.9zM271.5 187.0h0.9v0.9h-0.9zM253.5 217.7h0.9v0.9h-0.9zM256.9 206.2h0.9v0.9h-0.9zM269.6 159.5h0.9v0.9h-0.9zM228.8 223.7h0.9v0.9h-0.9zM250.5 186.8h0.9v0.9h-0.9zM260.3 187.7h0.9v0.9h-0.9zM234.2 212.8h0.9v0.9h-0.9zM249.5 185.4h0.9v0.9h-0.9zM272.6 190.2h0.9v0.9h-0.9zM265.8 217.5h0.9v0.9h-0.9zM256.5 212.4h0.9v0.9h-0.9zM248.4 155.0h0.9v0.9h-0.9zM254.6 215.1h0.9v0.9h-0.9zM246.3 221.9h0.9v0.9h-0.9zM249.2 192.0h0.9v0.9h-0.9zM287.0 154.4h0.9v0.9h-0.9zM247.4 211.9h0.9v0.9h-0.9zM238.4 187.8h0.9v0.9h-0.9zM252.9 210.3h0.9v0.9h-0.9zM246.2 175.5h0.9v0.9h-0.9zM246.3 178.9h0.9v0.9h-0.9zM249.0 196.9h0.9v0.9h-0.9zM259.3 156.5h0.9v0.9h-0.9zM252.9 193.3h0.9v0.9h-0.9zM235.6 219.2h0.9v0.9h-0.9zM248.4 168.7h0.9v0.9h-0.9zM255.7 210.9h0.9v0.9h-0.9zM244.4 188.3h0.9v0.9h-0.9zM263.8 196.0h0.9v0.9h-0.9zM259.3 192.6h0.9v0.9h-0.9zM238.1 195.8h0.9v0.9h-0.9zM253.8 181.3h0.9v0.9h-0.9zM268.7 165.2h0.9v0.9h-0.9zM249.3 179.7h0.9v0.9h-0.9zM260.8 222.2h0.9v0.9h-0.9zM241.9 224.4h0.9v0.9h-0.9zM232.6 180.8h0.9v0.9h-0.9zM256.7 207.5h0.9v0.9h-0.9zM253.0 198.1h0.9v0.9h-0.9zM256.2 182.5h0.9v0.9h-0.9zM249.7 206.0h0.9v0.9h-0.9zM253.9 209.6h0.9v0.9h-0.9zM243.8 188.7h0.9v0.9h-0.9zM255.7 185.2h0.9v0.9h-0.9zM260.0 191.1h0.9v0.9h-0.9zM249.3 175.3h0.9v0.9h-0.9zM259.8 191.7h0.9v0.9h-0.9zM240.6 189.1h0.9v0.9h-0.9zM267.3 163.4h0.9v0.9h-0.9zM271.1 184.8h0.9v0.9h-0.9zM253.0 212.2h0.9v0.9h-0.9zM248.8 204.0h0.9v0.9h-0.9zM234.8 190.2h0.9v0.9h-0.9zM254.4 208.3h0.9v0.9h-0.9zM259.3 191.8h0.9v0.9h-0.9zM232.2 223.4h0.9v0.9h-0.9zM256.7 215.3h0.9v0.9h-0.9zM255.9 171.6h0.9v0.9h-0.9zM255.3 188.5h0.9v0.9h-0.9zM236.5 194.4h0.9v0.9h-0.9zM256.5 171.8h0.9v0.9h-0.9zM267.9 201.2h0.9v0.9h-0.9zM251.6 156.7h0.9v0.9h-0.9zM236.0 216.7h0.9v0.9h-0.9zM266.1 170.6h0.9v0.9h-0.9zM263.8 209.0h0.9v0.9h-0.9zM242.2 204.2h0.9v0.9h-0.9zM276.4 170.2h0.9v0.9h-0.9zM238.0 209.0h0.9v0.9h-0.9zM253.8 201.0h0.9v0.9h-0.9zM264.2 184.8h0.9v0.9h-0.9zM262.0 183.0h0.9v0.9h-0.9zM249.2 207.6h0.9v0.9h-0.9zM249.8 171.9h0.9v0.9h-0.9zM237.1 206.7h0.9v0.9h-0.9zM254.0 190.1h0.9v0.9h-0.9zM236.7 196.7h0.9v0.9h-0.9zM238.4 221.4h0.9v0.9h-0.9zM244.6 172.8h0.9v0.9h-0.9zM235.3 200.4h0.9v0.9h-0.9zM268.9 162.0h0.9v0.9h-0.9zM234.1 220.9h0.9v0.9h-0.9zM240.9 193.5h0.9v0.9h-0.9zM246.2 200.2h0.9v0.9h-0.9zM250.0 204.2h0.9v0.9h-0.9zM259.5 153.9h0.9v0.9h-0.9zM259.8 197.5h0.9v0.9h-0.9zM246.4 183.0h0.9v0.9h-0.9zM245.4 194.4h0.9v0.9h-0.9zM250.4 193.2h0.9v0.9h-0.9zM259.9 205.1h0.9v0.9h-0.9zM258.4 204.8h0.9v0.9h-0.9zM243.8 238.9h0.9v0.9h-0.9zM225.3 220.4h0.9v0.9h-0.9zM275.7 164.4h0.9v0.9h-0.9zM261.4 175.7h0.9v0.9h-0.9zM253.2 207.3h0.9v0.9h-0.9zM254.1 226.9h0.9v0.9h-0.9zM243.7 208.5h0.9v0.9h-0.9zM238.0 193.7h0.9v0.9h-0.9zM246.0 205.2h0.9v0.9h-0.9zM247.3 203.7h0.9v0.9h-0.9zM242.5 202.9h0.9v0.9h-0.9zM232.5 194.7h0.9v0.9h-0.9zM246.2 144.8h0.9v0.9h-0.9zM256.9 178.7h0.9v0.9h-0.9zM244.1 223.5h0.9v0.9h-0.9zM250.3 200.3h0.9v0.9h-0.9zM247.5 198.2h0.9v0.9h-0.9zM248.5 157.7h0.9v0.9h-0.9zM229.2 217.4h0.9v0.9h-0.9zM254.9 166.1h0.9v0.9h-0.9zM240.3 221.2h0.9v0.9h-0.9zM255.9 174.4h0.9v0.9h-0.9zM245.0 212.2h0.9v0.9h-0.9zM257.5 190.2h0.9v0.9h-0.9zM245.9 174.1h0.9v0.9h-0.9zM231.9 225.3h0.9v0.9h-0.9zM249.0 168.2h0.9v0.9h-0.9zM246.1 228.0h0.9v0.9h-0.9zM257.9 190.7h0.9v0.9h-0.9zM244.6 178.5h0.9v0.9h-0.9zM245.3 161.1h0.9v0.9h-0.9zM260.3 222.0h0.9v0.9h-0.9zM264.0 215.4h0.9v0.9h-0.9zM259.1 161.5h0.9v0.9h-0.9zM262.5 220.9h0.9v0.9h-0.9zM255.5 195.0h0.9v0.9h-0.9zM259.2 183.6h0.9v0.9h-0.9zM260.5 185.4h0.9v0.9h-0.9zM254.8 186.2h0.9v0.9h-0.9zM250.8 226.0h0.9v0.9h-0.9zM251.7 197.8h0.9v0.9h-0.9zM250.2 240.7h0.9v0.9h-0.9zM247.2 217.2h0.9v0.9h-0.9zM245.6 176.3h0.9v0.9h-0.9zM249.6 188.7h0.9v0.9h-0.9zM252.9 174.2h0.9v0.9h-0.9zM236.4 208.3h0.9v0.9h-0.9zM226.2 224.2h0.9v0.9h-0.9zM253.5 198.1h0.9v0.9h-0.9zM230.7 199.3h0.9v0.9h-0.9zM253.1 176.3h0.9v0.9h-0.9zM251.7 212.7h0.9v0.9h-0.9zM263.8 182.3h0.9v0.9h-0.9zM270.0 227.5h0.9v0.9h-0.9zM254.4 175.1h0.9v0.9h-0.9zM243.4 218.4h0.9v0.9h-0.9zM235.9 208.8h0.9v0.9h-0.9zM240.5 187.7h0.9v0.9h-0.9zM250.5 224.8h0.9v0.9h-0.9zM225.2 219.3h0.9v0.9h-0.9zM250.9 176.1h0.9v0.9h-0.9zM249.9 189.3h0.9v0.9h-0.9zM257.7 211.3h0.9v0.9h-0.9zM246.0 173.1h0.9v0.9h-0.9zM251.2 224.5h0.9v0.9h-0.9zM241.2 218.0h0.9v0.9h-0.9zM244.4 194.7h0.9v0.9h-0.9zM251.5 232.2h0.9v0.9h-0.9zM268.6 193.3h0.9v0.9h-0.9zM252.0 198.0h0.9v0.9h-0.9zM254.4 231.9h0.9v0.9h-0.9zM238.2 237.8h0.9v0.9h-0.9zM267.2 161.8h0.9v0.9h-0.9zM240.8 199.2h0.9v0.9h-0.9zM259.6 183.4h0.9v0.9h-0.9zM251.3 186.1h0.9v0.9h-0.9zM238.5 173.5h0.9v0.9h-0.9zM262.3 205.1h0.9v0.9h-0.9zM250.2 197.6h0.9v0.9h-0.9zM252.1 196.3h0.9v0.9h-0.9zM255.4 221.7h0.9v0.9h-0.9zM249.7 184.1h0.9v0.9h-0.9zM245.5 198.6h0.9v0.9h-0.9zM255.6 197.2h0.9v0.9h-0.9zM245.1 190.8h0.9v0.9h-0.9zM250.8 193.0h0.9v0.9h-0.9zM242.0 219.1h0.9v0.9h-0.9zM232.1 210.7h0.9v0.9h-0.9zM241.9 231.3h0.9v0.9h-0.9zM244.1 184.8h0.9v0.9h-0.9zM250.2 200.2h0.9v0.9h-0.9zM264.2 153.5h0.9v0.9h-0.9zM229.7 210.4h0.9v0.9h-0.9zM251.5 179.6h0.9v0.9h-0.9zM237.4 222.5h0.9v0.9h-0.9zM243.9 212.0h0.9v0.9h-0.9zM251.8 209.9h0.9v0.9h-0.9zM250.9 180.4h0.9v0.9h-0.9zM248.6 166.0h0.9v0.9h-0.9zM240.4 203.4h0.9v0.9h-0.9zM275.9 166.8h0.9v0.9h-0.9zM248.1 183.7h0.9v0.9h-0.9zM239.7 198.4h0.9v0.9h-0.9zM257.4 222.0h0.9v0.9h-0.9zM245.5 175.1h0.9v0.9h-0.9zM264.3 169.6h0.9v0.9h-0.9zM251.9 206.7h0.9v0.9h-0.9zM257.7 154.4h0.9v0.9h-0.9zM252.8 213.5h0.9v0.9h-0.9zM237.7 226.5h0.9v0.9h-0.9zM261.7 179.5h0.9v0.9h-0.9zM251.9 171.1h0.9v0.9h-0.9zM237.9 195.9h0.9v0.9h-0.9zM240.8 163.6h0.9v0.9h-0.9zM261.5 216.4h0.9v0.9h-0.9zM245.6 200.9h0.9v0.9h-0.9zM250.6 179.6h0.9v0.9h-0.9zM257.9 169.8h0.9v0.9h-0.9zM251.5 207.1h0.9v0.9h-0.9zM257.6 162.1h0.9v0.9h-0.9zM261.3 174.2h0.9v0.9h-0.9zM260.4 149.3h0.9v0.9h-0.9zM269.4 194.5h0.9v0.9h-0.9zM254.4 195.7h0.9v0.9h-0.9zM259.3 237.2h0.9v0.9h-0.9zM269.1 177.5h0.9v0.9h-0.9zM246.5 189.5h0.9v0.9h-0.9zM270.8 163.3h0.9v0.9h-0.9zM270.8 197.1h0.9v0.9h-0.9zM259.4 152.9h0.9v0.9h-0.9zM272.1 193.9h0.9v0.9h-0.9zM260.2 192.8h0.9v0.9h-0.9zM239.4 193.8h0.9v0.9h-0.9zM263.6 165.1h0.9v0.9h-0.9zM253.9 215.6h0.9v0.9h-0.9zM255.0 232.3h0.9v0.9h-0.9zM251.9 184.8h0.9v0.9h-0.9zM266.3 193.9h0.9v0.9h-0.9zM256.6 228.3h0.9v0.9h-0.9zM241.7 189.5h0.9v0.9h-0.9zM255.8 185.7h0.9v0.9h-0.9zM258.8 162.2h0.9v0.9h-0.9zM241.3 200.0h0.9v0.9h-0.9zM244.8 198.6h0.9v0.9h-0.9zM245.4 190.7h0.9v0.9h-0.9zM242.7 186.0h0.9v0.9h-0.9zM254.2 158.1h0.9v0.9h-0.9zM262.2 156.6h0.9v0.9h-0.9zM272.7 155.8h0.9v0.9h-0.9zM264.3 198.0h0.9v0.9h-0.9zM262.3 174.7h0.9v0.9h-0.9zM263.7 166.0h0.9v0.9h-0.9zM266.0 196.9h0.9v0.9h-0.9zM245.5 212.0h0.9v0.9h-0.9zM258.3 172.6h0.9v0.9h-0.9zM253.9 179.1h0.9v0.9h-0.9zM248.4 211.7h0.9v0.9h-0.9zM244.5 208.5h0.9v0.9h-0.9zM243.9 182.8h0.9v0.9h-0.9zM246.8 203.9h0.9v0.9h-0.9zM235.2 207.7h0.9v0.9h-0.9zM256.3 215.1h0.9v0.9h-0.9zM249.7 177.3h0.9v0.9h-0.9zM251.3 214.2h0.9v0.9h-0.9zM254.1 202.0h0.9v0.9h-0.9zM258.7 166.7h0.9v0.9h-0.9zM242.9 224.9h0.9v0.9h-0.9zM248.7 216.9h0.9v0.9h-0.9zM230.7 183.3h0.9v0.9h-0.9zM268.4 160.6h0.9v0.9h-0.9zM255.7 208.1h0.9v0.9h-0.9zM267.7 194.0h0.9v0.9h-0.9zM244.5 198.5h0.9v0.9h-0.9zM269.6 209.6h0.9v0.9h-0.9zM272.2 186.4h0.9v0.9h-0.9zM261.3 217.1h0.9v0.9h-0.9zM278.5 234.0h0.9v0.9h-0.9zM257.5 194.0h0.9v0.9h-0.9zM241.3 146.8h0.9v0.9h-0.9zM256.3 180.8h0.9v0.9h-0.9zM244.7 176.8h0.9v0.9h-0.9zM234.4 211.0h0.9v0.9h-0.9zM234.7 210.9h0.9v0.9h-0.9zM277.8 145.9h0.9v0.9h-0.9zM243.6 176.0h0.9v0.9h-0.9zM249.8 190.4h0.9v0.9h-0.9zM242.1 198.2h0.9v0.9h-0.9zM247.2 219.7h0.9v0.9h-0.9zM245.2 200.7h0.9v0.9h-0.9zM235.6 207.8h0.9v0.9h-0.9zM233.2 216.6h0.9v0.9h-0.9zM241.2 180.7h0.9v0.9h-0.9zM253.7 191.8h0.9v0.9h-0.9zM275.1 198.0h0.9v0.9h-0.9zM262.8 209.1h0.9v0.9h-0.9zM272.0 187.8h0.9v0.9h-0.9zM256.0 184.8h0.9v0.9h-0.9zM249.1 178.5h0.9v0.9h-0.9zM234.3 238.3h0.9v0.9h-0.9zM250.2 207.4h0.9v0.9h-0.9zM246.6 150.7h0.9v0.9h-0.9zM269.7 160.2h0.9v0.9h-0.9zM254.2 149.7h0.9v0.9h-0.9zM263.8 212.2h0.9v0.9h-0.9zM245.6 203.8h0.9v0.9h-0.9zM233.7 193.0h0.9v0.9h-0.9zM244.5 194.4h0.9v0.9h-0.9zM264.7 210.8h0.9v0.9h-0.9zM274.0 146.0h0.9v0.9h-0.9zM241.4 200.3h0.9v0.9h-0.9zM246.0 171.9h0.9v0.9h-0.9zM248.5 158.7h0.9v0.9h-0.9zM246.1 203.2h0.9v0.9h-0.9zM251.4 229.8h0.9v0.9h-0.9zM254.6 193.1h0.9v0.9h-0.9zM254.9 183.5h0.9v0.9h-0.9zM235.8 212.3h0.9v0.9h-0.9zM248.9 220.1h0.9v0.9h-0.9zM229.4 180.4h0.9v0.9h-0.9zM261.3 144.6h0.9v0.9h-0.9zM247.0 204.8h0.9v0.9h-0.9zM244.9 236.3h0.9v0.9h-0.9zM243.3 206.9h0.9v0.9h-0.9zM237.6 239.6h0.9v0.9h-0.9zM229.1 199.6h0.9v0.9h-0.9zM271.1 189.6h0.9v0.9h-0.9zM253.4 228.1h0.9v0.9h-0.9zM253.5 216.1h0.9v0.9h-0.9zM275.5 164.3h0.9v0.9h-0.9zM249.1 216.9h0.9v0.9h-0.9zM257.0 175.2h0.9v0.9h-0.9zM250.6 163.3h0.9v0.9h-0.9zM264.6 195.7h0.9v0.9h-0.9zM256.4 222.3h0.9v0.9h-0.9zM254.1 211.8h0.9v0.9h-0.9zM247.3 169.8h0.9v0.9h-0.9zM253.7 212.6h0.9v0.9h-0.9zM264.3 199.4h0.9v0.9h-0.9zM245.4 222.9h0.9v0.9h-0.9zM246.8 218.8h0.9v0.9h-0.9zM226.7 226.7h0.9v0.9h-0.9zM259.2 149.1h0.9v0.9h-0.9zM240.2 170.3h0.9v0.9h-0.9zM247.7 220.9h0.9v0.9h-0.9zM244.3 218.9h0.9v0.9h-0.9zM230.4 223.6h0.9v0.9h-0.9zM245.0 194.5h0.9v0.9h-0.9zM228.3 223.0h0.9v0.9h-0.9zM239.1 192.8h0.9v0.9h-0.9zM246.6 191.7h0.9v0.9h-0.9zM250.3 176.0h0.9v0.9h-0.9zM251.1 201.0h0.9v0.9h-0.9zM248.7 187.5h0.9v0.9h-0.9zM276.0 196.0h0.9v0.9h-0.9zM255.6 207.7h0.9v0.9h-0.9zM235.7 189.4h0.9v0.9h-0.9zM242.5 176.7h0.9v0.9h-0.9zM248.3 207.7h0.9v0.9h-0.9zM243.2 226.4h0.9v0.9h-0.9zM240.1 233.4h0.9v0.9h-0.9zM250.9 218.1h0.9v0.9h-0.9zM246.4 226.9h0.9v0.9h-0.9zM247.4 231.0h0.9v0.9h-0.9zM247.8 147.0h0.9v0.9h-0.9zM267.1 166.3h0.9v0.9h-0.9zM256.1 188.6h0.9v0.9h-0.9zM263.9 174.2h0.9v0.9h-0.9zM254.3 176.9h0.9v0.9h-0.9zM263.1 213.2h0.9v0.9h-0.9zM274.1 188.8h0.9v0.9h-0.9zM250.8 162.1h0.9v0.9h-0.9zM229.8 190.1h0.9v0.9h-0.9zM257.5 179.0h0.9v0.9h-0.9zM243.2 203.9h0.9v0.9h-0.9zM228.9 236.3h0.9v0.9h-0.9zM243.0 197.7h0.9v0.9h-0.9zM263.1 205.9h0.9v0.9h-0.9zM264.8 147.6h0.9v0.9h-0.9zM237.9 198.4h0.9v0.9h-0.9zM280.6 181.0h0.9v0.9h-0.9zM236.4 199.1h0.9v0.9h-0.9zM249.5 173.3h0.9v0.9h-0.9zM233.1 219.8h0.9v0.9h-0.9zM266.2 226.7h0.9v0.9h-0.9zM255.8 188.8h0.9v0.9h-0.9zM261.1 170.1h0.9v0.9h-0.9zM251.5 175.3h0.9v0.9h-0.9zM249.6 241.3h0.9v0.9h-0.9zM252.6 192.9h0.9v0.9h-0.9zM227.8 228.5h0.9v0.9h-0.9zM262.4 213.6h0.9v0.9h-0.9zM261.4 211.2h0.9v0.9h-0.9zM245.8 178.4h0.9v0.9h-0.9zM250.3 217.6h0.9v0.9h-0.9zM254.1 211.9h0.9v0.9h-0.9zM269.3 191.1h0.9v0.9h-0.9zM255.7 214.4h0.9v0.9h-0.9zM251.0 182.3h0.9v0.9h-0.9zM244.4 199.0h0.9v0.9h-0.9zM232.5 198.6h0.9v0.9h-0.9zM243.3 218.9h0.9v0.9h-0.9zM251.4 179.9h0.9v0.9h-0.9zM247.5 207.1h0.9v0.9h-0.9zM251.4 169.7h0.9v0.9h-0.9zM259.5 185.3h0.9v0.9h-0.9zM255.8 182.9h0.9v0.9h-0.9zM253.8 190.2h0.9v0.9h-0.9zM258.4 192.0h0.9v0.9h-0.9zM252.8 189.5h0.9v0.9h-0.9zM250.2 190.8h0.9v0.9h-0.9zM229.8 238.1h0.9v0.9h-0.9zM265.6 168.7h0.9v0.9h-0.9zM235.1 202.8h0.9v0.9h-0.9zM260.6 168.2h0.9v0.9h-0.9zM250.7 218.3h0.9v0.9h-0.9zM263.9 163.7h0.9v0.9h-0.9zM251.0 206.7h0.9v0.9h-0.9zM239.2 232.0h0.9v0.9h-0.9zM263.5 222.5h0.9v0.9h-0.9zM252.8 220.9h0.9v0.9h-0.9zM252.0 208.5h0.9v0.9h-0.9zM251.6 167.3h0.9v0.9h-0.9zM262.6 215.1h0.9v0.9h-0.9zM260.4 214.6h0.9v0.9h-0.9zM253.4 212.4h0.9v0.9h-0.9zM232.0 229.4h0.9v0.9h-0.9zM245.8 201.3h0.9v0.9h-0.9zM251.9 182.7h0.9v0.9h-0.9zM272.2 202.4h0.9v0.9h-0.9zM255.2 220.9h0.9v0.9h-0.9zM249.5 172.8h0.9v0.9h-0.9zM265.0 204.6h0.9v0.9h-0.9zM249.3 202.4h0.9v0.9h-0.9zM250.3 216.2h0.9v0.9h-0.9zM252.5 200.3h0.9v0.9h-0.9zM232.7 236.0h0.9v0.9h-0.9zM262.1 209.5h0.9v0.9h-0.9zM255.8 211.7h0.9v0.9h-0.9zM247.3 167.0h0.9v0.9h-0.9zM236.9 225.9h0.9v0.9h-0.9zM253.2 194.7h0.9v0.9h-0.9zM267.5 156.0h0.9v0.9h-0.9zM243.0 218.3h0.9v0.9h-0.9zM237.9 175.2h0.9v0.9h-0.9zM255.7 212.0h0.9v0.9h-0.9zM245.3 221.2h0.9v0.9h-0.9zM242.4 213.0h0.9v0.9h-0.9zM247.3 213.4h0.9v0.9h-0.9zM244.1 170.6h0.9v0.9h-0.9zM254.7 206.4h0.9v0.9h-0.9zM248.0 201.1h0.9v0.9h-0.9zM243.5 218.7h0.9v0.9h-0.9zM245.2 200.7h0.9v0.9h-0.9zM258.3 214.5h0.9v0.9h-0.9zM262.2 192.6h0.9v0.9h-0.9zM261.5 202.4h0.9v0.9h-0.9zM259.1 220.1h0.9v0.9h-0.9zM238.7 228.6h0.9v0.9h-0.9zM246.9 204.3h0.9v0.9h-0.9zM253.2 205.8h0.9v0.9h-0.9zM231.3 200.2h0.9v0.9h-0.9zM267.8 199.4h0.9v0.9h-0.9zM254.3 220.8h0.9v0.9h-0.9zM243.3 200.4h0.9v0.9h-0.9zM252.7 212.4h0.9v0.9h-0.9zM246.6 209.2h0.9v0.9h-0.9zM241.6 178.6h0.9v0.9h-0.9zM256.8 199.0h0.9v0.9h-0.9zM245.3 230.5h0.9v0.9h-0.9zM233.8 199.2h0.9v0.9h-0.9zM243.1 162.2h0.9v0.9h-0.9zM249.3 201.9h0.9v0.9h-0.9zM237.8 192.4h0.9v0.9h-0.9zM265.9 226.4h0.9v0.9h-0.9zM237.7 206.1h0.9v0.9h-0.9zM271.8 178.5h0.9v0.9h-0.9zM261.5 173.0h0.9v0.9h-0.9zM239.4 211.2h0.9v0.9h-0.9zM252.3 182.1h0.9v0.9h-0.9zM264.9 164.0h0.9v0.9h-0.9zM248.5 196.7h0.9v0.9h-0.9zM236.4 189.8h0.9v0.9h-0.9zM252.1 224.8h0.9v0.9h-0.9zM274.6 150.0h0.9v0.9h-0.9zM232.9 209.4h0.9v0.9h-0.9zM257.4 175.1h0.9v0.9h-0.9zM250.9 165.0h0.9v0.9h-0.9zM249.4 234.8h0.9v0.9h-0.9zM246.1 152.7h0.9v0.9h-0.9zM247.0 232.1h0.9v0.9h-0.9zM263.2 154.0h0.9v0.9h-0.9zM258.0 192.2h0.9v0.9h-0.9zM235.2 178.2h0.9v0.9h-0.9zM258.8 219.0h0.9v0.9h-0.9zM253.0 198.2h0.9v0.9h-0.9zM265.2 171.9h0.9v0.9h-0.9zM255.1 191.8h0.9v0.9h-0.9zM263.5 163.9h0.9v0.9h-0.9zM250.5 199.1h0.9v0.9h-0.9zM262.5 220.0h0.9v0.9h-0.9zM255.0 184.1h0.9v0.9h-0.9zM276.6 177.7h0.9v0.9h-0.9zM242.5 230.1h0.9v0.9h-0.9zM265.2 228.8h0.9v0.9h-0.9zM256.4 178.2h0.9v0.9h-0.9zM253.0 201.1h0.9v0.9h-0.9zM244.1 189.1h0.9v0.9h-0.9zM256.2 177.1h0.9v0.9h-0.9zM233.2 201.8h0.9v0.9h-0.9zM234.4 195.6h0.9v0.9h-0.9zM259.4 150.1h0.9v0.9h-0.9zM232.2 166.9h0.9v0.9h-0.9zM268.1 165.3h0.9v0.9h-0.9zM247.6 201.8h0.9v0.9h-0.9zM253.9 220.8h0.9v0.9h-0.9zM251.8 183.4h0.9v0.9h-0.9zM255.9 188.1h0.9v0.9h-0.9zM247.5 213.7h0.9v0.9h-0.9zM246.5 216.4h0.9v0.9h-0.9zM249.4 194.7h0.9v0.9h-0.9zM263.5 184.4h0.9v0.9h-0.9zM264.5 226.8h0.9v0.9h-0.9zM266.2 175.8h0.9v0.9h-0.9zM255.3 181.4h0.9v0.9h-0.9zM248.5 161.6h0.9v0.9h-0.9zM230.8 222.6h0.9v0.9h-0.9zM258.6 183.7h0.9v0.9h-0.9zM261.0 230.5h0.9v0.9h-0.9zM246.1 192.6h0.9v0.9h-0.9zM260.6 206.2h0.9v0.9h-0.9zM266.4 204.1h0.9v0.9h-0.9zM252.0 232.1h0.9v0.9h-0.9zM263.6 156.1h0.9v0.9h-0.9zM254.6 228.1h0.9v0.9h-0.9zM230.1 213.7h0.9v0.9h-0.9zM245.2 198.4h0.9v0.9h-0.9zM246.0 193.2h0.9v0.9h-0.9zM257.3 181.9h0.9v0.9h-0.9zM240.6 197.0h0.9v0.9h-0.9zM245.7 148.1h0.9v0.9h-0.9zM239.4 217.1h0.9v0.9h-0.9zM250.5 197.8h0.9v0.9h-0.9zM251.8 174.0h0.9v0.9h-0.9zM262.6 184.9h0.9v0.9h-0.9zM260.5 239.6h0.9v0.9h-0.9zM252.9 202.9h0.9v0.9h-0.9zM253.8 184.9h0.9v0.9h-0.9zM252.2 233.3h0.9v0.9h-0.9zM252.3 177.1h0.9v0.9h-0.9zM269.5 177.1h0.9v0.9h-0.9zM248.8 192.5h0.9v0.9h-0.9zM254.7 209.3h0.9v0.9h-0.9zM264.5 197.7h0.9v0.9h-0.9zM237.8 190.6h0.9v0.9h-0.9zM255.1 189.7h0.9v0.9h-0.9zM261.3 189.3h0.9v0.9h-0.9zM245.6 191.3h0.9v0.9h-0.9zM246.6 183.5h0.9v0.9h-0.9zM236.5 191.6h0.9v0.9h-0.9zM258.7 190.5h0.9v0.9h-0.9zM240.7 181.4h0.9v0.9h-0.9zM272.3 187.5h0.9v0.9h-0.9zM252.6 190.2h0.9v0.9h-0.9zM241.3 183.4h0.9v0.9h-0.9zM244.9 187.3h0.9v0.9h-0.9zM237.8 196.2h0.9v0.9h-0.9zM255.6 188.5h0.9v0.9h-0.9zM268.8 183.6h0.9v0.9h-0.9zM248.3 193.5h0.9v0.9h-0.9zM262.0 167.3h0.9v0.9h-0.9zM239.6 237.3h0.9v0.9h-0.9zM254.6 213.0h0.9v0.9h-0.9zM278.6 175.4h0.9v0.9h-0.9zM234.1 231.2h0.9v0.9h-0.9zM265.7 190.9h0.9v0.9h-0.9zM265.0 178.4h0.9v0.9h-0.9zM239.2 227.8h0.9v0.9h-0.9zM262.5 209.4h0.9v0.9h-0.9zM245.8 191.4h0.9v0.9h-0.9zM248.9 211.0h0.9v0.9h-0.9zM259.4 239.1h0.9v0.9h-0.9zM252.3 204.2h0.9v0.9h-0.9zM253.6 217.5h0.9v0.9h-0.9zM247.1 227.1h0.9v0.9h-0.9zM264.4 199.0h0.9v0.9h-0.9zM241.6 238.7h0.9v0.9h-0.9zM271.0 184.3h0.9v0.9h-0.9zM246.9 210.3h0.9v0.9h-0.9zM241.3 189.9h0.9v0.9h-0.9zM256.3 198.2h0.9v0.9h-0.9zM227.1 218.2h0.9v0.9h-0.9zM253.6 224.6h0.9v0.9h-0.9zM234.7 198.6h0.9v0.9h-0.9zM240.9 204.1h0.9v0.9h-0.9zM260.3 170.7h0.9v0.9h-0.9zM240.5 205.0h0.9v0.9h-0.9zM255.2 183.7h0.9v0.9h-0.9zM246.3 211.8h0.9v0.9h-0.9zM274.1 173.8h0.9v0.9h-0.9zM249.7 183.6h0.9v0.9h-0.9zM236.8 201.1h0.9v0.9h-0.9zM237.6 204.3h0.9v0.9h-0.9zM240.0 193.6h0.9v0.9h-0.9zM252.4 215.5h0.9v0.9h-0.9zM250.8 210.9h0.9v0.9h-0.9zM262.5 189.5h0.9v0.9h-0.9zM252.8 167.9h0.9v0.9h-0.9zM252.4 206.1h0.9v0.9h-0.9zM254.7 164.4h0.9v0.9h-0.9zM249.3 201.3h0.9v0.9h-0.9zM254.3 194.1h0.9v0.9h-0.9zM260.2 175.1h0.9v0.9h-0.9zM260.2 169.7h0.9v0.9h-0.9zM244.3 186.0h0.9v0.9h-0.9zM241.1 198.2h0.9v0.9h-0.9zM254.2 188.6h0.9v0.9h-0.9zM245.1 210.0h0.9v0.9h-0.9zM256.2 214.9h0.9v0.9h-0.9zM244.0 174.5h0.9v0.9h-0.9zM237.3 183.1h0.9v0.9h-0.9zM267.4 181.2h0.9v0.9h-0.9zM247.6 192.2h0.9v0.9h-0.9zM266.6 186.3h0.9v0.9h-0.9zM266.3 205.0h0.9v0.9h-0.9zM237.2 181.0h0.9v0.9h-0.9zM282.9 175.5h0.9v0.9h-0.9zM239.5 204.8h0.9v0.9h-0.9zM247.6 213.5h0.9v0.9h-0.9zM237.6 210.8h0.9v0.9h-0.9zM251.6 183.5h0.9v0.9h-0.9zM234.9 190.0h0.9v0.9h-0.9zM263.7 206.9h0.9v0.9h-0.9zM253.2 161.5h0.9v0.9h-0.9zM247.5 189.8h0.9v0.9h-0.9zM269.2 217.3h0.9v0.9h-0.9zM239.9 195.8h0.9v0.9h-0.9zM262.3 199.9h0.9v0.9h-0.9zM247.0 194.4h0.9v0.9h-0.9zM253.2 209.3h0.9v0.9h-0.9zM251.0 196.4h0.9v0.9h-0.9zM252.2 183.6h0.9v0.9h-0.9zM250.0 226.4h0.9v0.9h-0.9zM241.2 198.0h0.9v0.9h-0.9zM243.8 172.2h0.9v0.9h-0.9zM255.9 184.4h0.9v0.9h-0.9zM249.3 209.1h0.9v0.9h-0.9zM236.6 183.2h0.9v0.9h-0.9zM242.1 220.5h0.9v0.9h-0.9zM242.3 219.9h0.9v0.9h-0.9zM252.7 180.2h0.9v0.9h-0.9zM251.6 209.8h0.9v0.9h-0.9zM242.7 165.9h0.9v0.9h-0.9zM250.7 186.8h0.9v0.9h-0.9zM234.1 212.2h0.9v0.9h-0.9zM249.8 195.5h0.9v0.9h-0.9zM230.6 210.7h0.9v0.9h-0.9zM239.1 192.2h0.9v0.9h-0.9zM236.0 198.5h0.9v0.9h-0.9zM258.0 196.7h0.9v0.9h-0.9zM235.9 220.6h0.9v0.9h-0.9zM253.7 207.6h0.9v0.9h-0.9zM244.5 223.0h0.9v0.9h-0.9zM235.6 234.8h0.9v0.9h-0.9zM231.5 172.4h0.9v0.9h-0.9zM255.9 180.2h0.9v0.9h-0.9zM255.0 188.9h0.9v0.9h-0.9zM259.6 174.4h0.9v0.9h-0.9zM272.3 201.0h0.9v0.9h-0.9zM253.6 210.1h0.9v0.9h-0.9zM253.7 191.2h0.9v0.9h-0.9zM248.8 200.2h0.9v0.9h-0.9zM251.5 223.1h0.9v0.9h-0.9zM246.1 192.2h0.9v0.9h-0.9zM239.5 198.4h0.9v0.9h-0.9zM274.2 196.4h0.9v0.9h-0.9zM227.9 225.3h0.9v0.9h-0.9zM253.3 225.1h0.9v0.9h-0.9zM255.5 200.1h0.9v0.9h-0.9zM252.0 211.4h0.9v0.9h-0.9zM238.6 194.1h0.9v0.9h-0.9zM247.9 177.7h0.9v0.9h-0.9zM244.6 200.9h0.9v0.9h-0.9zM237.3 148.9h0.9v0.9h-0.9zM249.6 205.9h0.9v0.9h-0.9zM245.2 221.9h0.9v0.9h-0.9zM243.5 203.7h0.9v0.9h-0.9zM258.3 184.8h0.9v0.9h-0.9zM237.4 231.0h0.9v0.9h-0.9zM255.3 191.2h0.9v0.9h-0.9zM242.7 224.2h0.9v0.9h-0.9zM255.2 240.4h0.9v0.9h-0.9zM250.9 211.8h0.9v0.9h-0.9zM252.9 214.8h0.9v0.9h-0.9zM238.3 217.2h0.9v0.9h-0.9zM240.7 209.9h0.9v0.9h-0.9zM239.7 211.2h0.9v0.9h-0.9zM252.1 196.4h0.9v0.9h-0.9zM258.9 212.9h0.9v0.9h-0.9zM262.9 150.5h0.9v0.9h-0.9zM244.0 195.8h0.9v0.9h-0.9zM251.0 210.2h0.9v0.9h-0.9zM230.6 194.3h0.9v0.9h-0.9zM239.5 190.1h0.9v0.9h-0.9zM241.9 213.0h0.9v0.9h-0.9zM231.3 231.1h0.9v0.9h-0.9zM256.3 202.4h0.9v0.9h-0.9zM240.3 189.0h0.9v0.9h-0.9zM229.7 219.0h0.9v0.9h-0.9zM277.7 186.0h0.9v0.9h-0.9zM251.9 225.9h0.9v0.9h-0.9zM246.0 152.9h0.9v0.9h-0.9zM257.9 198.1h0.9v0.9h-0.9zM240.7 164.3h0.9v0.9h-0.9zM268.8 196.6h0.9v0.9h-0.9zM231.4 221.9h0.9v0.9h-0.9zM234.1 220.8h0.9v0.9h-0.9zM248.1 217.6h0.9v0.9h-0.9zM240.6 212.9h0.9v0.9h-0.9zM266.6 168.6h0.9v0.9h-0.9zM230.6 220.5h0.9v0.9h-0.9zM241.0 230.4h0.9v0.9h-0.9zM252.6 191.9h0.9v0.9h-0.9zM256.4 191.9h0.9v0.9h-0.9zM261.7 160.3h0.9v0.9h-0.9zM253.8 218.9h0.9v0.9h-0.9zM276.0 163.9h0.9v0.9h-0.9zM244.0 185.4h0.9v0.9h-0.9zM251.7 185.4h0.9v0.9h-0.9zM259.9 169.5h0.9v0.9h-0.9zM245.8 194.6h0.9v0.9h-0.9zM246.1 227.8h0.9v0.9h-0.9zM244.1 218.9h0.9v0.9h-0.9zM241.9 234.5h0.9v0.9h-0.9zM236.1 240.7h0.9v0.9h-0.9zM242.9 182.9h0.9v0.9h-0.9zM231.0 222.9h0.9v0.9h-0.9zM254.1 226.0h0.9v0.9h-0.9zM274.2 145.5h0.9v0.9h-0.9zM269.9 148.9h0.9v0.9h-0.9zM262.7 196.2h0.9v0.9h-0.9zM247.0 191.8h0.9v0.9h-0.9zM242.5 181.1h0.9v0.9h-0.9zM264.1 193.1h0.9v0.9h-0.9zM251.7 178.0h0.9v0.9h-0.9zM240.9 203.7h0.9v0.9h-0.9zM262.2 189.1h0.9v0.9h-0.9zM239.9 218.9h0.9v0.9h-0.9zM250.7 216.5h0.9v0.9h-0.9zM228.8 218.2h0.9v0.9h-0.9zM241.6 198.4h0.9v0.9h-0.9zM255.4 177.5h0.9v0.9h-0.9zM244.0 165.5h0.9v0.9h-0.9zM244.1 191.9h0.9v0.9h-0.9zM258.9 211.0h0.9v0.9h-0.9zM248.5 212.0h0.9v0.9h-0.9zM264.3 229.5h0.9v0.9h-0.9zM256.2 152.3h0.9v0.9h-0.9zM255.5 210.1h0.9v0.9h-0.9zM230.9 235.1h0.9v0.9h-0.9zM233.9 184.4h0.9v0.9h-0.9zM259.9 153.0h0.9v0.9h-0.9zM236.6 211.0h0.9v0.9h-0.9zM241.8 218.9h0.9v0.9h-0.9zM256.5 166.5h0.9v0.9h-0.9zM245.4 192.9h0.9v0.9h-0.9zM255.1 175.3h0.9v0.9h-0.9zM239.0 179.8h0.9v0.9h-0.9zM252.9 165.2h0.9v0.9h-0.9zM262.3 189.3h0.9v0.9h-0.9zM253.3 185.6h0.9v0.9h-0.9zM250.1 234.6h0.9v0.9h-0.9zM238.5 185.3h0.9v0.9h-0.9zM266.0 180.1h0.9v0.9h-0.9zM271.8 186.6h0.9v0.9h-0.9zM241.8 170.2h0.9v0.9h-0.9zM268.2 183.3h0.9v0.9h-0.9zM248.8 193.2h0.9v0.9h-0.9zM233.5 230.2h0.9v0.9h-0.9zM250.5 172.0h0.9v0.9h-0.9zM253.3 179.4h0.9v0.9h-0.9zM255.8 186.3h0.9v0.9h-0.9zM262.0 232.1h0.9v0.9h-0.9zM238.6 173.6h0.9v0.9h-0.9zM255.2 198.3h0.9v0.9h-0.9zM258.2 175.2h0.9v0.9h-0.9zM246.1 206.4h0.9v0.9h-0.9zM238.2 220.5h0.9v0.9h-0.9zM237.9 209.4h0.9v0.9h-0.9zM258.3 195.1h0.9v0.9h-0.9zM258.9 195.0h0.9v0.9h-0.9zM239.4 192.2h0.9v0.9h-0.9zM233.3 205.4h0.9v0.9h-0.9zM264.1 148.2h0.9v0.9h-0.9zM230.8 204.5h0.9v0.9h-0.9zM251.2 178.4h0.9v0.9h-0.9zM239.7 199.2h0.9v0.9h-0.9zM228.4 230.4h0.9v0.9h-0.9zM250.8 203.9h0.9v0.9h-0.9zM247.1 209.0h0.9v0.9h-0.9zM266.5 206.6h0.9v0.9h-0.9zM247.1 208.0h0.9v0.9h-0.9zM261.6 186.0h0.9v0.9h-0.9zM261.8 184.2h0.9v0.9h-0.9zM243.1 173.4h0.9v0.9h-0.9zM239.0 217.4h0.9v0.9h-0.9zM268.6 205.8h0.9v0.9h-0.9zM245.0 222.8h0.9v0.9h-0.9zM249.0 195.1h0.9v0.9h-0.9zM245.9 213.6h0.9v0.9h-0.9zM247.7 218.2h0.9v0.9h-0.9zM242.1 242.6h0.9v0.9h-0.9zM258.3 216.1h0.9v0.9h-0.9zM264.3 187.3h0.9v0.9h-0.9zM244.9 202.5h0.9v0.9h-0.9zM232.8 214.1h0.9v0.9h-0.9zM249.9 201.2h0.9v0.9h-0.9zM231.6 200.6h0.9v0.9h-0.9zM241.7 219.9h0.9v0.9h-0.9zM264.0 169.3h0.9v0.9h-0.9zM277.0 156.1h0.9v0.9h-0.9zM253.8 200.7h0.9v0.9h-0.9zM236.6 194.7h0.9v0.9h-0.9zM258.6 183.6h0.9v0.9h-0.9zM241.0 220.9h0.9v0.9h-0.9zM267.5 181.4h0.9v0.9h-0.9zM258.2 186.5h0.9v0.9h-0.9zM232.8 220.5h0.9v0.9h-0.9zM229.5 217.8h0.9v0.9h-0.9zM259.5 172.8h0.9v0.9h-0.9zM248.8 241.0h0.9v0.9h-0.9zM242.2 192.7h0.9v0.9h-0.9zM254.3 213.8h0.9v0.9h-0.9zM242.5 242.4h0.9v0.9h-0.9zM259.0 190.6h0.9v0.9h-0.9zM241.6 185.2h0.9v0.9h-0.9zM237.3 229.6h0.9v0.9h-0.9zM233.4 202.6h0.9v0.9h-0.9zM252.3 170.1h0.9v0.9h-0.9zM239.7 233.4h0.9v0.9h-0.9zM256.8 210.5h0.9v0.9h-0.9zM246.1 179.9h0.9v0.9h-0.9zM262.2 211.7h0.9v0.9h-0.9zM244.7 204.7h0.9v0.9h-0.9zM236.2 195.4h0.9v0.9h-0.9zM257.9 183.6h0.9v0.9h-0.9zM285.8 147.0h0.9v0.9h-0.9zM234.4 212.0h0.9v0.9h-0.9zM236.9 208.0h0.9v0.9h-0.9zM253.4 209.3h0.9v0.9h-0.9zM255.0 193.7h0.9v0.9h-0.9zM241.2 171.2h0.9v0.9h-0.9zM250.3 178.1h0.9v0.9h-0.9zM245.8 224.8h0.9v0.9h-0.9zM260.1 184.1h0.9v0.9h-0.9zM268.8 177.3h0.9v0.9h-0.9zM247.3 194.6h0.9v0.9h-0.9zM246.2 199.6h0.9v0.9h-0.9zM254.7 155.4h0.9v0.9h-0.9zM262.6 205.1h0.9v0.9h-0.9zM255.2 177.3h0.9v0.9h-0.9zM240.4 207.2h0.9v0.9h-0.9zM260.9 192.0h0.9v0.9h-0.9zM240.8 232.9h0.9v0.9h-0.9zM233.4 161.0h0.9v0.9h-0.9zM255.4 224.7h0.9v0.9h-0.9zM253.7 203.2h0.9v0.9h-0.9zM260.9 170.9h0.9v0.9h-0.9zM250.4 161.0h0.9v0.9h-0.9zM241.7 228.4h0.9v0.9h-0.9zM244.1 206.6h0.9v0.9h-0.9zM237.1 219.7h0.9v0.9h-0.9zM238.1 200.0h0.9v0.9h-0.9zM242.7 184.7h0.9v0.9h-0.9zM243.6 220.4h0.9v0.9h-0.9zM262.7 164.6h0.9v0.9h-0.9zM234.7 228.4h0.9v0.9h-0.9zM248.8 160.4h0.9v0.9h-0.9zM242.3 182.1h0.9v0.9h-0.9zM267.1 149.9h0.9v0.9h-0.9zM252.5 222.6h0.9v0.9h-0.9zM244.9 161.9h0.9v0.9h-0.9zM259.1 163.5h0.9v0.9h-0.9zM250.2 210.3h0.9v0.9h-0.9zM243.7 206.2h0.9v0.9h-0.9zM267.7 229.2h0.9v0.9h-0.9zM257.9 229.7h0.9v0.9h-0.9zM270.1 192.8h0.9v0.9h-0.9zM263.2 200.1h0.9v0.9h-0.9zM258.7 148.8h0.9v0.9h-0.9zM251.0 175.9h0.9v0.9h-0.9zM236.5 200.1h0.9v0.9h-0.9zM257.9 185.5h0.9v0.9h-0.9zM250.3 165.6h0.9v0.9h-0.9zM257.5 169.3h0.9v0.9h-0.9zM249.3 178.0h0.9v0.9h-0.9zM241.2 226.6h0.9v0.9h-0.9zM237.4 215.8h0.9v0.9h-0.9zM257.8 182.2h0.9v0.9h-0.9zM264.9 177.6h0.9v0.9h-0.9zM246.0 205.7h0.9v0.9h-0.9zM254.9 176.6h0.9v0.9h-0.9zM266.0 176.9h0.9v0.9h-0.9zM239.5 167.0h0.9v0.9h-0.9zM245.4 214.5h0.9v0.9h-0.9zM236.1 228.6h0.9v0.9h-0.9zM263.5 192.6h0.9v0.9h-0.9zM245.7 197.1h0.9v0.9h-0.9zM244.8 232.2h0.9v0.9h-0.9zM257.6 206.8h0.9v0.9h-0.9zM243.6 182.2h0.9v0.9h-0.9zM231.9 226.4h0.9v0.9h-0.9zM234.0 236.6h0.9v0.9h-0.9zM247.4 224.0h0.9v0.9h-0.9zM250.2 238.2h0.9v0.9h-0.9zM247.9 218.5h0.9v0.9h-0.9zM248.4 226.4h0.9v0.9h-0.9zM243.4 210.6h0.9v0.9h-0.9zM230.6 229.5h0.9v0.9h-0.9zM236.6 242.2h0.9v0.9h-0.9zM228.1 234.4h0.9v0.9h-0.9zM239.0 225.7h0.9v0.9h-0.9zM231.5 205.0h0.9v0.9h-0.9zM242.7 218.0h0.9v0.9h-0.9zM240.7 208.6h0.9v0.9h-0.9zM227.0 238.0h0.9v0.9h-0.9zM247.6 211.7h0.9v0.9h-0.9zM247.8 224.0h0.9v0.9h-0.9zM231.3 216.1h0.9v0.9h-0.9zM247.5 206.9h0.9v0.9h-0.9zM239.7 225.1h0.9v0.9h-0.9zM243.4 224.3h0.9v0.9h-0.9zM250.2 209.0h0.9v0.9h-0.9zM243.4 228.8h0.9v0.9h-0.9zM240.7 234.3h0.9v0.9h-0.9zM245.9 230.6h0.9v0.9h-0.9zM248.0 197.7h0.9v0.9h-0.9zM243.9 224.1h0.9v0.9h-0.9zM238.5 200.1h0.9v0.9h-0.9zM239.1 224.7h0.9v0.9h-0.9zM237.5 219.4h0.9v0.9h-0.9zM243.5 229.5h0.9v0.9h-0.9zM243.2 227.5h0.9v0.9h-0.9zM241.3 209.5h0.9v0.9h-0.9zM241.9 240.9h0.9v0.9h-0.9zM243.2 219.3h0.9v0.9h-0.9zM254.0 197.3h0.9v0.9h-0.9zM251.2 234.2h0.9v0.9h-0.9zM237.5 241.9h0.9v0.9h-0.9zM245.1 235.3h0.9v0.9h-0.9zM239.4 229.9h0.9v0.9h-0.9zM241.1 212.9h0.9v0.9h-0.9zM240.0 234.0h0.9v0.9h-0.9zM231.4 236.5h0.9v0.9h-0.9zM243.4 213.2h0.9v0.9h-0.9zM251.0 230.1h0.9v0.9h-0.9zM234.9 236.4h0.9v0.9h-0.9zM245.8 204.0h0.9v0.9h-0.9zM238.9 205.6h0.9v0.9h-0.9zM244.0 213.5h0.9v0.9h-0.9zM235.6 226.4h0.9v0.9h-0.9zM240.1 228.6h0.9v0.9h-0.9zM241.0 220.5h0.9v0.9h-0.9zM223.5 230.2h0.9v0.9h-0.9zM243.5 220.6h0.9v0.9h-0.9zM240.8 224.1h0.9v0.9h-0.9zM222.7 237.9h0.9v0.9h-0.9zM246.9 226.0h0.9v0.9h-0.9zM241.6 222.2h0.9v0.9h-0.9zM243.4 224.9h0.9v0.9h-0.9zM244.6 216.3h0.9v0.9h-0.9zM238.6 233.2h0.9v0.9h-0.9zM233.5 220.7h0.9v0.9h-0.9zM238.5 223.9h0.9v0.9h-0.9zM259.0 218.1h0.9v0.9h-0.9zM256.1 207.6h0.9v0.9h-0.9zM238.1 220.5h0.9v0.9h-0.9zM238.6 226.0h0.9v0.9h-0.9zM244.3 221.8h0.9v0.9h-0.9zM246.2 213.7h0.9v0.9h-0.9zM236.5 211.9h0.9v0.9h-0.9zM234.1 226.6h0.9v0.9h-0.9zM256.8 217.7h0.9v0.9h-0.9zM250.0 225.3h0.9v0.9h-0.9zM229.8 242.3h0.9v0.9h-0.9zM228.1 225.3h0.9v0.9h-0.9zM235.4 202.9h0.9v0.9h-0.9zM243.5 220.3h0.9v0.9h-0.9zM246.0 199.8h0.9v0.9h-0.9zM239.1 209.3h0.9v0.9h-0.9zM229.3 240.1h0.9v0.9h-0.9zM243.5 228.4h0.9v0.9h-0.9zM246.5 213.3h0.9v0.9h-0.9zM241.8 215.5h0.9v0.9h-0.9zM237.9 223.4h0.9v0.9h-0.9zM246.2 200.8h0.9v0.9h-0.9zM241.3 228.4h0.9v0.9h-0.9zM233.1 222.7h0.9v0.9h-0.9zM231.7 215.2h0.9v0.9h-0.9zM249.3 230.8h0.9v0.9h-0.9zM245.4 213.3h0.9v0.9h-0.9zM234.0 237.8h0.9v0.9h-0.9zM243.4 210.9h0.9v0.9h-0.9zM251.5 226.7h0.9v0.9h-0.9zM225.1 225.2h0.9v0.9h-0.9zM240.7 213.8h0.9v0.9h-0.9zM254.6 215.3h0.9v0.9h-0.9zM229.7 233.6h0.9v0.9h-0.9zM240.5 227.9h0.9v0.9h-0.9zM241.2 232.3h0.9v0.9h-0.9zM229.1 223.9h0.9v0.9h-0.9zM237.6 201.9h0.9v0.9h-0.9zM242.8 217.9h0.9v0.9h-0.9zM244.7 228.5h0.9v0.9h-0.9zM245.1 206.0h0.9v0.9h-0.9zM250.7 205.3h0.9v0.9h-0.9zM247.2 221.9h0.9v0.9h-0.9zM247.5 216.9h0.9v0.9h-0.9zM240.5 227.0h0.9v0.9h-0.9zM266.6 217.6h0.9v0.9h-0.9zM259.5 234.7h0.9v0.9h-0.9zM248.2 214.1h0.9v0.9h-0.9zM247.5 220.1h0.9v0.9h-0.9zM249.5 208.0h0.9v0.9h-0.9zM238.6 227.1h0.9v0.9h-0.9zM257.1 227.7h0.9v0.9h-0.9zM238.8 239.7h0.9v0.9h-0.9zM241.1 222.6h0.9v0.9h-0.9zM258.8 207.0h0.9v0.9h-0.9zM225.5 221.4h0.9v0.9h-0.9zM244.6 205.6h0.9v0.9h-0.9zM228.2 230.2h0.9v0.9h-0.9zM236.6 240.6h0.9v0.9h-0.9zM241.0 196.0h0.9v0.9h-0.9zM239.0 199.2h0.9v0.9h-0.9zM243.1 238.2h0.9v0.9h-0.9zM235.7 207.1h0.9v0.9h-0.9zM240.9 226.9h0.9v0.9h-0.9zM232.4 212.6h0.9v0.9h-0.9zM238.7 233.1h0.9v0.9h-0.9zM230.8 236.6h0.9v0.9h-0.9zM246.9 222.4h0.9v0.9h-0.9zM231.6 236.8h0.9v0.9h-0.9zM247.2 220.9h0.9v0.9h-0.9zM238.5 230.7h0.9v0.9h-0.9zM251.1 231.2h0.9v0.9h-0.9zM242.6 214.9h0.9v0.9h-0.9zM226.8 220.4h0.9v0.9h-0.9zM245.7 218.3h0.9v0.9h-0.9zM243.9 222.7h0.9v0.9h-0.9zM238.6 217.4h0.9v0.9h-0.9zM230.7 235.3h0.9v0.9h-0.9zM242.4 223.0h0.9v0.9h-0.9zM239.3 228.1h0.9v0.9h-0.9zM257.6 215.8h0.9v0.9h-0.9zM238.3 231.5h0.9v0.9h-0.9zM257.1 202.3h0.9v0.9h-0.9zM252.7 236.0h0.9v0.9h-0.9zM236.9 229.0h0.9v0.9h-0.9zM235.3 230.9h0.9v0.9h-0.9zM252.2 225.2h0.9v0.9h-0.9zM240.7 235.8h0.9v0.9h-0.9zM243.0 230.8h0.9v0.9h-0.9zM239.7 226.5h0.9v0.9h-0.9zM232.2 225.2h0.9v0.9h-0.9zM238.8 205.4h0.9v0.9h-0.9zM234.2 228.8h0.9v0.9h-0.9zM229.6 224.8h0.9v0.9h-0.9zM239.4 220.4h0.9v0.9h-0.9zM254.6 195.9h0.9v0.9h-0.9zM241.3 223.8h0.9v0.9h-0.9zM242.8 236.3h0.9v0.9h-0.9zM245.8 232.1h0.9v0.9h-0.9zM252.6 232.3h0.9v0.9h-0.9zM244.3 207.3h0.9v0.9h-0.9zM238.0 213.7h0.9v0.9h-0.9zM238.7 231.5h0.9v0.9h-0.9zM250.8 215.5h0.9v0.9h-0.9zM262.5 233.3h0.9v0.9h-0.9zM236.8 227.8h0.9v0.9h-0.9zM225.5 232.6h0.9v0.9h-0.9zM248.2 225.1h0.9v0.9h-0.9zM241.2 220.2h0.9v0.9h-0.9zM242.9 223.9h0.9v0.9h-0.9zM251.6 210.9h0.9v0.9h-0.9zM242.3 222.4h0.9v0.9h-0.9zM231.2 222.2h0.9v0.9h-0.9zM226.1 233.0h0.9v0.9h-0.9zM241.4 207.0h0.9v0.9h-0.9zM232.5 210.1h0.9v0.9h-0.9zM244.1 227.3h0.9v0.9h-0.9zM231.6 230.2h0.9v0.9h-0.9zM239.0 213.3h0.9v0.9h-0.9zM230.1 225.7h0.9v0.9h-0.9zM238.9 212.4h0.9v0.9h-0.9zM246.5 203.0h0.9v0.9h-0.9zM252.5 237.9h0.9v0.9h-0.9zM240.3 214.3h0.9v0.9h-0.9zM234.9 231.0h0.9v0.9h-0.9zM257.4 213.1h0.9v0.9h-0.9zM244.7 217.4h0.9v0.9h-0.9zM246.6 231.6h0.9v0.9h-0.9zM246.6 230.2h0.9v0.9h-0.9zM253.4 214.6h0.9v0.9h-0.9zM249.8 209.1h0.9v0.9h-0.9zM247.9 236.4h0.9v0.9h-0.9zM234.9 227.8h0.9v0.9h-0.9zM236.9 221.9h0.9v0.9h-0.9zM240.9 226.8h0.9v0.9h-0.9zM242.5 223.7h0.9v0.9h-0.9zM241.9 236.7h0.9v0.9h-0.9zM244.3 210.9h0.9v0.9h-0.9zM242.0 223.3h0.9v0.9h-0.9zM238.4 215.7h0.9v0.9h-0.9zM248.5 240.7h0.9v0.9h-0.9zM246.5 220.0h0.9v0.9h-0.9zM234.8 232.4h0.9v0.9h-0.9zM245.8 237.4h0.9v0.9h-0.9zM244.9 218.3h0.9v0.9h-0.9zM242.4 212.2h0.9v0.9h-0.9zM227.1 241.6h0.9v0.9h-0.9zM232.2 233.2h0.9v0.9h-0.9zM237.0 222.9h0.9v0.9h-0.9zM254.7 234.0h0.9v0.9h-0.9zM234.9 228.9h0.9v0.9h-0.9zM239.0 204.0h0.9v0.9h-0.9zM232.9 231.1h0.9v0.9h-0.9zM237.9 224.2h0.9v0.9h-0.9zM225.2 230.4h0.9v0.9h-0.9zM247.1 225.8h0.9v0.9h-0.9zM242.1 225.8h0.9v0.9h-0.9zM237.0 209.2h0.9v0.9h-0.9zM249.5 221.0h0.9v0.9h-0.9zM249.5 215.9h0.9v0.9h-0.9zM250.6 206.4h0.9v0.9h-0.9zM236.4 214.5h0.9v0.9h-0.9zM239.3 214.6h0.9v0.9h-0.9zM249.4 212.2h0.9v0.9h-0.9zM239.7 216.2h0.9v0.9h-0.9zM232.2 228.1h0.9v0.9h-0.9zM236.3 238.1h0.9v0.9h-0.9zM231.2 213.0h0.9v0.9h-0.9zM246.2 203.5h0.9v0.9h-0.9zM249.8 232.2h0.9v0.9h-0.9zM242.2 205.4h0.9v0.9h-0.9zM230.1 209.8h0.9v0.9h-0.9zM239.3 225.8h0.9v0.9h-0.9zM250.0 232.0h0.9v0.9h-0.9zM250.8 230.7h0.9v0.9h-0.9zM252.2 220.7h0.9v0.9h-0.9zM241.1 231.3h0.9v0.9h-0.9zM242.6 226.5h0.9v0.9h-0.9zM243.6 216.0h0.9v0.9h-0.9zM238.6 224.6h0.9v0.9h-0.9zM250.6 206.5h0.9v0.9h-0.9zM244.4 216.6h0.9v0.9h-0.9zM250.9 201.4h0.9v0.9h-0.9zM245.6 221.6h0.9v0.9h-0.9zM247.2 233.3h0.9v0.9h-0.9zM236.0 211.3h0.9v0.9h-0.9zM238.5 237.6h0.9v0.9h-0.9zM239.4 228.6h0.9v0.9h-0.9zM240.4 210.6h0.9v0.9h-0.9zM248.5 210.4h0.9v0.9h-0.9zM231.7 223.9h0.9v0.9h-0.9zM267.7 196.9h0.9v0.9h-0.9zM240.8 209.3h0.9v0.9h-0.9zM251.9 215.7h0.9v0.9h-0.9zM250.1 217.4h0.9v0.9h-0.9zM221.6 239.2h0.9v0.9h-0.9zM239.7 210.4h0.9v0.9h-0.9zM253.6 239.3h0.9v0.9h-0.9zM247.9 230.6h0.9v0.9h-0.9zM234.5 219.0h0.9v0.9h-0.9zM243.6 218.4h0.9v0.9h-0.9zM243.3 234.7h0.9v0.9h-0.9zM236.6 215.2h0.9v0.9h-0.9zM235.8 220.7h0.9v0.9h-0.9zM247.4 242.1h0.9v0.9h-0.9zM269.8 222.0h0.9v0.9h-0.9zM244.5 220.2h0.9v0.9h-0.9zM246.2 223.5h0.9v0.9h-0.9zM241.4 225.6h0.9v0.9h-0.9zM236.0 216.9h0.9v0.9h-0.9zM243.8 220.0h0.9v0.9h-0.9zM253.9 210.2h0.9v0.9h-0.9zM243.3 217.6h0.9v0.9h-0.9zM248.9 225.3h0.9v0.9h-0.9zM240.0 213.0h0.9v0.9h-0.9zM261.9 222.4h0.9v0.9h-0.9zM228.6 230.4h0.9v0.9h-0.9zM246.4 229.8h0.9v0.9h-0.9zM246.1 231.4h0.9v0.9h-0.9zM243.9 236.5h0.9v0.9h-0.9zM232.8 234.4h0.9v0.9h-0.9zM232.7 235.4h0.9v0.9h-0.9zM239.9 222.0h0.9v0.9h-0.9zM242.5 229.4h0.9v0.9h-0.9zM232.0 217.2h0.9v0.9h-0.9zM233.2 224.2h0.9v0.9h-0.9zM246.2 229.8h0.9v0.9h-0.9zM250.0 218.9h0.9v0.9h-0.9zM237.2 230.3h0.9v0.9h-0.9zM236.1 213.6h0.9v0.9h-0.9zM235.9 241.5h0.9v0.9h-0.9zM261.6 207.7h0.9v0.9h-0.9zM245.6 226.0h0.9v0.9h-0.9zM241.2 223.2h0.9v0.9h-0.9zM249.8 230.3h0.9v0.9h-0.9zM260.1 210.6h0.9v0.9h-0.9zM251.1 207.5h0.9v0.9h-0.9zM230.3 206.6h0.9v0.9h-0.9zM241.0 220.0h0.9v0.9h-0.9zM238.5 211.0h0.9v0.9h-0.9zM239.0 230.6h0.9v0.9h-0.9zM238.6 199.1h0.9v0.9h-0.9zM233.0 212.3h0.9v0.9h-0.9zM244.4 225.5h0.9v0.9h-0.9zM242.1 237.2h0.9v0.9h-0.9zM230.4 231.8h0.9v0.9h-0.9zM228.0 233.1h0.9v0.9h-0.9zM237.8 230.8h0.9v0.9h-0.9zM246.9 227.5h0.9v0.9h-0.9zM245.7 240.3h0.9v0.9h-0.9zM241.2 230.5h0.9v0.9h-0.9zM237.7 219.6h0.9v0.9h-0.9zM235.8 228.3h0.9v0.9h-0.9zM239.0 215.1h0.9v0.9h-0.9zM231.9 224.6h0.9v0.9h-0.9zM238.2 218.7h0.9v0.9h-0.9zM236.4 217.6h0.9v0.9h-0.9zM263.5 221.4h0.9v0.9h-0.9zM247.3 216.2h0.9v0.9h-0.9zM240.1 211.4h0.9v0.9h-0.9zM241.3 215.2h0.9v0.9h-0.9zM240.7 224.1h0.9v0.9h-0.9zM238.4 227.7h0.9v0.9h-0.9zM241.5 240.4h0.9v0.9h-0.9zM249.9 225.2h0.9v0.9h-0.9zM248.3 195.5h0.9v0.9h-0.9zM244.2 226.5h0.9v0.9h-0.9zM252.4 208.6h0.9v0.9h-0.9zM243.5 206.8h0.9v0.9h-0.9zM233.8 214.4h0.9v0.9h-0.9zM236.1 207.6h0.9v0.9h-0.9zM241.2 216.3h0.9v0.9h-0.9zM244.9 235.1h0.9v0.9h-0.9zM250.3 227.0h0.9v0.9h-0.9zM237.1 205.6h0.9v0.9h-0.9zM235.2 224.8h0.9v0.9h-0.9zM247.9 214.5h0.9v0.9h-0.9zM251.1 216.7h0.9v0.9h-0.9zM237.8 233.6h0.9v0.9h-0.9zM244.4 215.4h0.9v0.9h-0.9zM252.7 214.6h0.9v0.9h-0.9zM244.3 238.9h0.9v0.9h-0.9zM241.2 202.2h0.9v0.9h-0.9zM225.0 226.4h0.9v0.9h-0.9zM252.3 223.8h0.9v0.9h-0.9zM246.8 206.5h0.9v0.9h-0.9zM242.7 215.5h0.9v0.9h-0.9zM237.9 209.7h0.9v0.9h-0.9zM231.7 229.5h0.9v0.9h-0.9zM240.9 216.4h0.9v0.9h-0.9zM240.8 232.7h0.9v0.9h-0.9zM250.5 231.0h0.9v0.9h-0.9zM232.0 228.1h0.9v0.9h-0.9zM253.2 213.6h0.9v0.9h-0.9zM242.0 226.1h0.9v0.9h-0.9zM251.2 219.6h0.9v0.9h-0.9zM233.9 212.7h0.9v0.9h-0.9zM244.5 234.3h0.9v0.9h-0.9zM251.5 221.4h0.9v0.9h-0.9zM242.6 231.9h0.9v0.9h-0.9zM229.9 212.8h0.9v0.9h-0.9zM239.0 234.5h0.9v0.9h-0.9zM230.5 235.3h0.9v0.9h-0.9zM230.1 211.7h0.9v0.9h-0.9zM243.6 222.8h0.9v0.9h-0.9zM234.1 225.9h0.9v0.9h-0.9zM247.1 223.2h0.9v0.9h-0.9zM232.3 224.7h0.9v0.9h-0.9zM227.0 235.5h0.9v0.9h-0.9zM235.5 220.6h0.9v0.9h-0.9zM253.6 220.4h0.9v0.9h-0.9zM234.8 218.3h0.9v0.9h-0.9zM241.6 224.3h0.9v0.9h-0.9zM243.7 233.8h0.9v0.9h-0.9zM234.1 220.9h0.9v0.9h-0.9zM250.4 226.9h0.9v0.9h-0.9zM243.1 212.3h0.9v0.9h-0.9zM245.3 217.2h0.9v0.9h-0.9zM228.2 226.5h0.9v0.9h-0.9zM240.2 237.9h0.9v0.9h-0.9zM239.9 207.0h0.9v0.9h-0.9zM247.5 218.7h0.9v0.9h-0.9zM253.6 228.3h0.9v0.9h-0.9zM239.7 232.1h0.9v0.9h-0.9zM239.5 212.4h0.9v0.9h-0.9zM245.3 207.4h0.9v0.9h-0.9zM253.9 227.8h0.9v0.9h-0.9zM235.1 211.5h0.9v0.9h-0.9zM246.7 227.6h0.9v0.9h-0.9zM239.7 218.0h0.9v0.9h-0.9zM239.0 224.2h0.9v0.9h-0.9zM233.1 236.7h0.9v0.9h-0.9zM247.0 204.8h0.9v0.9h-0.9zM241.5 226.9h0.9v0.9h-0.9zM239.6 224.7h0.9v0.9h-0.9zM240.6 222.4h0.9v0.9h-0.9zM245.7 236.8h0.9v0.9h-0.9zM238.7 204.5h0.9v0.9h-0.9zM247.8 224.0h0.9v0.9h-0.9zM245.0 223.1h0.9v0.9h-0.9zM253.6 209.1h0.9v0.9h-0.9zM251.8 238.5h0.9v0.9h-0.9zM248.6 205.3h0.9v0.9h-0.9zM240.1 224.1h0.9v0.9h-0.9zM242.7 223.6h0.9v0.9h-0.9zM237.0 199.8h0.9v0.9h-0.9zM264.5 196.2h0.9v0.9h-0.9zM239.9 212.6h0.9v0.9h-0.9zM246.2 230.2h0.9v0.9h-0.9zM252.6 229.1h0.9v0.9h-0.9zM230.8 234.9h0.9v0.9h-0.9zM235.1 228.8h0.9v0.9h-0.9zM238.6 199.0h0.9v0.9h-0.9zM233.8 229.1h0.9v0.9h-0.9zM231.6 221.7h0.9v0.9h-0.9zM237.6 238.5h0.9v0.9h-0.9zM252.1 234.0h0.9v0.9h-0.9zM242.0 231.1h0.9v0.9h-0.9zM242.0 232.4h0.9v0.9h-0.9zM247.3 221.4h0.9v0.9h-0.9zM245.2 207.2h0.9v0.9h-0.9zM233.1 237.3h0.9v0.9h-0.9zM243.4 208.4h0.9v0.9h-0.9zM240.2 221.2h0.9v0.9h-0.9zM237.6 215.4h0.9v0.9h-0.9zM233.8 221.1h0.9v0.9h-0.9zM236.3 230.7h0.9v0.9h-0.9zM234.2 219.9h0.9v0.9h-0.9zM245.4 223.9h0.9v0.9h-0.9zM244.7 210.1h0.9v0.9h-0.9zM244.3 238.0h0.9v0.9h-0.9zM240.3 216.2h0.9v0.9h-0.9zM238.5 236.2h0.9v0.9h-0.9zM258.1 240.4h0.9v0.9h-0.9zM251.3 207.2h0.9v0.9h-0.9zM244.6 219.3h0.9v0.9h-0.9zM242.3 236.3h0.9v0.9h-0.9zM237.7 219.2h0.9v0.9h-0.9zM240.0 228.2h0.9v0.9h-0.9zM232.3 218.8h0.9v0.9h-0.9zM230.7 234.5h0.9v0.9h-0.9zM240.9 209.3h0.9v0.9h-0.9zM228.5 238.6h0.9v0.9h-0.9zM248.5 185.2h0.9v0.9h-0.9zM250.7 197.0h0.9v0.9h-0.9zM229.3 230.5h0.9v0.9h-0.9zM243.9 211.6h0.9v0.9h-0.9zM242.7 234.8h0.9v0.9h-0.9zM245.1 234.6h0.9v0.9h-0.9zM247.7 215.3h0.9v0.9h-0.9zM248.7 227.1h0.9v0.9h-0.9zM256.1 222.4h0.9v0.9h-0.9zM242.0 203.5h0.9v0.9h-0.9zM248.7 226.7h0.9v0.9h-0.9zM228.8 226.6h0.9v0.9h-0.9zM240.7 238.4h0.9v0.9h-0.9zM232.0 242.5h0.9v0.9h-0.9zM252.9 210.4h0.9v0.9h-0.9zM260.5 207.5h0.9v0.9h-0.9zM246.1 223.2h0.9v0.9h-0.9zM231.4 235.2h0.9v0.9h-0.9zM240.9 218.5h0.9v0.9h-0.9zM242.0 221.5h0.9v0.9h-0.9zM243.4 229.3h0.9v0.9h-0.9zM250.5 223.9h0.9v0.9h-0.9zM249.4 233.0h0.9v0.9h-0.9zM252.7 207.6h0.9v0.9h-0.9zM237.8 204.1h0.9v0.9h-0.9zM237.3 234.4h0.9v0.9h-0.9zM253.1 213.9h0.9v0.9h-0.9zM239.7 219.8h0.9v0.9h-0.9zM230.8 224.4h0.9v0.9h-0.9zM231.2 209.3h0.9v0.9h-0.9zM242.3 218.1h0.9v0.9h-0.9zM249.1 189.2h0.9v0.9h-0.9zM253.8 212.8h0.9v0.9h-0.9zM240.4 213.0h0.9v0.9h-0.9zM254.8 222.3h0.9v0.9h-0.9zM238.2 222.0h0.9v0.9h-0.9zM253.5 219.5h0.9v0.9h-0.9zM243.7 230.6h0.9v0.9h-0.9zM243.7 213.1h0.9v0.9h-0.9zM239.9 221.0h0.9v0.9h-0.9zM244.2 217.6h0.9v0.9h-0.9zM236.4 226.1h0.9v0.9h-0.9zM240.7 200.3h0.9v0.9h-0.9zM236.6 234.5h0.9v0.9h-0.9zM242.5 211.3h0.9v0.9h-0.9zM240.2 222.8h0.9v0.9h-0.9zM240.0 235.4h0.9v0.9h-0.9zM255.7 210.0h0.9v0.9h-0.9zM241.7 219.7h0.9v0.9h-0.9zM237.1 210.5h0.9v0.9h-0.9zM239.5 211.5h0.9v0.9h-0.9zM247.1 195.2h0.9v0.9h-0.9zM240.2 237.0h0.9v0.9h-0.9zM240.6 209.9h0.9v0.9h-0.9zM239.8 228.1h0.9v0.9h-0.9zM243.1 226.1h0.9v0.9h-0.9zM244.9 213.8h0.9v0.9h-0.9zM245.4 221.8h0.9v0.9h-0.9zM228.7 227.6h0.9v0.9h-0.9zM233.3 220.8h0.9v0.9h-0.9zM248.2 220.5h0.9v0.9h-0.9zM250.7 206.8h0.9v0.9h-0.9zM252.2 202.9h0.9v0.9h-0.9zM243.0 212.3h0.9v0.9h-0.9zM251.0 220.1h0.9v0.9h-0.9zM241.5 239.2h0.9v0.9h-0.9zM240.8 240.6h0.9v0.9h-0.9zM229.5 232.0h0.9v0.9h-0.9zM235.6 236.8h0.9v0.9h-0.9zM237.1 226.4h0.9v0.9h-0.9zM249.2 232.5h0.9v0.9h-0.9zM255.1 218.3h0.9v0.9h-0.9zM238.1 229.1h0.9v0.9h-0.9zM244.8 218.1h0.9v0.9h-0.9zM244.0 221.7h0.9v0.9h-0.9zM235.8 225.5h0.9v0.9h-0.9zM230.3 220.9h0.9v0.9h-0.9zM239.3 235.2h0.9v0.9h-0.9zM240.4 219.7h0.9v0.9h-0.9zM240.5 190.6h0.9v0.9h-0.9zM245.7 228.3h0.9v0.9h-0.9zM234.4 233.4h0.9v0.9h-0.9zM248.9 199.6h0.9v0.9h-0.9zM228.4 225.9h0.9v0.9h-0.9zM242.3 221.7h0.9v0.9h-0.9zM244.9 194.0h0.9v0.9h-0.9zM235.5 233.6h0.9v0.9h-0.9zM229.0 233.7h0.9v0.9h-0.9zM246.9 223.3h0.9v0.9h-0.9zM236.4 212.6h0.9v0.9h-0.9zM248.0 211.5h0.9v0.9h-0.9zM247.9 212.5h0.9v0.9h-0.9zM241.7 228.4h0.9v0.9h-0.9zM241.8 211.1h0.9v0.9h-0.9zM249.7 236.5h0.9v0.9h-0.9zM244.8 225.8h0.9v0.9h-0.9zM234.3 200.2h0.9v0.9h-0.9zM243.1 242.1h0.9v0.9h-0.9zM246.2 222.6h0.9v0.9h-0.9zM243.4 215.5h0.9v0.9h-0.9zM243.3 223.2h0.9v0.9h-0.9zM240.6 201.6h0.9v0.9h-0.9zM240.8 225.4h0.9v0.9h-0.9zM234.3 196.9h0.9v0.9h-0.9zM230.4 215.7h0.9v0.9h-0.9zM250.8 234.7h0.9v0.9h-0.9zM236.7 240.0h0.9v0.9h-0.9zM243.6 217.8h0.9v0.9h-0.9zM229.8 216.6h0.9v0.9h-0.9zM243.0 233.2h0.9v0.9h-0.9zM235.2 225.0h0.9v0.9h-0.9zM265.4 214.5h0.9v0.9h-0.9zM233.7 233.8h0.9v0.9h-0.9zM234.1 213.3h0.9v0.9h-0.9zM249.3 228.7h0.9v0.9h-0.9zM250.8 193.4h0.9v0.9h-0.9zM243.8 203.0h0.9v0.9h-0.9zM248.8 212.0h0.9v0.9h-0.9zM232.0 219.0h0.9v0.9h-0.9zM247.2 228.8h0.9v0.9h-0.9zM237.6 233.4h0.9v0.9h-0.9zM233.8 230.5h0.9v0.9h-0.9zM239.0 230.3h0.9v0.9h-0.9zM238.1 229.8h0.9v0.9h-0.9zM230.7 226.7h0.9v0.9h-0.9zM259.6 191.8h0.9v0.9h-0.9zM238.2 196.7h0.9v0.9h-0.9zM235.8 197.8h0.9v0.9h-0.9zM248.6 219.0h0.9v0.9h-0.9zM241.2 220.1h0.9v0.9h-0.9zM252.4 216.1h0.9v0.9h-0.9zM239.6 226.2h0.9v0.9h-0.9zM244.6 218.5h0.9v0.9h-0.9zM242.5 210.3h0.9v0.9h-0.9zM243.1 204.0h0.9v0.9h-0.9zM240.1 200.7h0.9v0.9h-0.9zM240.9 237.4h0.9v0.9h-0.9zM255.1 227.4h0.9v0.9h-0.9zM236.4 208.8h0.9v0.9h-0.9zM237.4 221.2h0.9v0.9h-0.9zM239.0 229.0h0.9v0.9h-0.9zM246.3 239.5h0.9v0.9h-0.9zM245.0 213.9h0.9v0.9h-0.9zM249.2 221.3h0.9v0.9h-0.9zM231.1 241.1h0.9v0.9h-0.9zM243.8 200.8h0.9v0.9h-0.9zM240.4 214.4h0.9v0.9h-0.9zM239.5 223.1h0.9v0.9h-0.9zM243.1 213.3h0.9v0.9h-0.9zM243.9 231.9h0.9v0.9h-0.9zM242.9 224.3h0.9v0.9h-0.9zM230.4 216.1h0.9v0.9h-0.9zM241.0 233.2h0.9v0.9h-0.9zM254.1 224.5h0.9v0.9h-0.9zM238.7 217.7h0.9v0.9h-0.9zM246.5 215.2h0.9v0.9h-0.9zM240.0 205.8h0.9v0.9h-0.9zM235.3 224.4h0.9v0.9h-0.9zM234.5 236.1h0.9v0.9h-0.9zM238.6 235.8h0.9v0.9h-0.9zM252.1 224.8h0.9v0.9h-0.9zM248.2 229.4h0.9v0.9h-0.9zM236.2 217.9h0.9v0.9h-0.9zM249.7 213.3h0.9v0.9h-0.9zM240.8 237.3h0.9v0.9h-0.9zM236.3 230.3h0.9v0.9h-0.9zM245.2 211.4h0.9v0.9h-0.9zM234.5 231.7h0.9v0.9h-0.9zM229.3 238.0h0.9v0.9h-0.9zM252.0 226.3h0.9v0.9h-0.9zM227.3 230.2h0.9v0.9h-0.9zM246.1 214.3h0.9v0.9h-0.9zM229.7 232.6h0.9v0.9h-0.9zM240.2 224.9h0.9v0.9h-0.9zM238.3 216.0h0.9v0.9h-0.9zM224.5 234.3h0.9v0.9h-0.9zM240.9 208.1h0.9v0.9h-0.9zM241.5 225.3h0.9v0.9h-0.9zM234.7 222.0h0.9v0.9h-0.9zM241.2 234.1h0.9v0.9h-0.9zM249.6 220.1h0.9v0.9h-0.9zM236.1 237.5h0.9v0.9h-0.9zM232.7 223.9h0.9v0.9h-0.9zM244.8 211.1h0.9v0.9h-0.9zM246.8 225.6h0.9v0.9h-0.9zM261.4 212.5h0.9v0.9h-0.9zM248.9 220.9h0.9v0.9h-0.9zM245.2 213.7h0.9v0.9h-0.9zM252.9 224.0h0.9v0.9h-0.9zM233.9 226.7h0.9v0.9h-0.9zM250.3 192.8h0.9v0.9h-0.9zM237.5 221.5h0.9v0.9h-0.9zM236.9 228.5h0.9v0.9h-0.9zM250.5 232.5h0.9v0.9h-0.9zM243.7 214.6h0.9v0.9h-0.9zM252.3 208.1h0.9v0.9h-0.9zM230.4 241.2h0.9v0.9h-0.9zM244.0 214.1h0.9v0.9h-0.9zM237.7 225.5h0.9v0.9h-0.9zM239.7 228.9h0.9v0.9h-0.9zM226.8 237.9h0.9v0.9h-0.9zM249.2 219.1h0.9v0.9h-0.9zM243.5 208.3h0.9v0.9h-0.9zM234.1 237.9h0.9v0.9h-0.9zM231.2 221.9h0.9v0.9h-0.9zM235.0 219.2h0.9v0.9h-0.9zM252.8 241.3h0.9v0.9h-0.9zM241.0 233.1h0.9v0.9h-0.9zM239.2 210.9h0.9v0.9h-0.9zM245.7 214.8h0.9v0.9h-0.9zM241.9 219.3h0.9v0.9h-0.9zM243.7 212.6h0.9v0.9h-0.9zM247.7 196.9h0.9v0.9h-0.9zM244.5 230.7h0.9v0.9h-0.9zM248.8 228.4h0.9v0.9h-0.9zM232.5 229.4h0.9v0.9h-0.9zM242.4 217.3h0.9v0.9h-0.9zM239.1 226.1h0.9v0.9h-0.9zM242.7 229.5h0.9v0.9h-0.9zM241.6 210.0h0.9v0.9h-0.9zM236.9 220.6h0.9v0.9h-0.9zM239.2 216.9h0.9v0.9h-0.9zM249.3 227.2h0.9v0.9h-0.9zM237.6 227.3h0.9v0.9h-0.9zM232.1 211.2h0.9v0.9h-0.9zM246.6 212.8h0.9v0.9h-0.9zM249.6 239.8h0.9v0.9h-0.9zM239.8 211.7h0.9v0.9h-0.9zM242.9 223.6h0.9v0.9h-0.9zM235.4 217.7h0.9v0.9h-0.9zM240.3 237.8h0.9v0.9h-0.9zM250.6 217.6h0.9v0.9h-0.9zM248.2 214.2h0.9v0.9h-0.9zM243.1 207.8h0.9v0.9h-0.9zM239.8 220.3h0.9v0.9h-0.9zM229.2 237.8h0.9v0.9h-0.9zM244.4 229.1h0.9v0.9h-0.9zM245.6 204.9h0.9v0.9h-0.9zM250.2 237.0h0.9v0.9h-0.9zM257.8 212.2h0.9v0.9h-0.9zM244.9 208.4h0.9v0.9h-0.9zM249.5 220.3h0.9v0.9h-0.9zM233.2 218.7h0.9v0.9h-0.9zM251.4 211.1h0.9v0.9h-0.9zM248.8 211.6h0.9v0.9h-0.9zM252.7 216.3h0.9v0.9h-0.9zM247.3 213.9h0.9v0.9h-0.9zM245.5 200.3h0.9v0.9h-0.9zM253.6 223.1h0.9v0.9h-0.9zM236.8 218.3h0.9v0.9h-0.9zM247.0 234.1h0.9v0.9h-0.9zM250.5 224.7h0.9v0.9h-0.9zM235.9 232.2h0.9v0.9h-0.9zM233.0 228.3h0.9v0.9h-0.9zM245.4 236.0h0.9v0.9h-0.9zM243.0 217.8h0.9v0.9h-0.9zM246.8 208.2h0.9v0.9h-0.9zM247.1 223.9h0.9v0.9h-0.9zM236.1 192.6h0.9v0.9h-0.9zM244.7 216.6h0.9v0.9h-0.9zM250.9 220.7h0.9v0.9h-0.9zM239.3 218.4h0.9v0.9h-0.9zM239.8 238.0h0.9v0.9h-0.9zM233.3 234.4h0.9v0.9h-0.9zM248.4 220.6h0.9v0.9h-0.9zM257.3 210.5h0.9v0.9h-0.9zM231.4 239.9h0.9v0.9h-0.9zM248.0 211.4h0.9v0.9h-0.9zM249.1 214.0h0.9v0.9h-0.9zM237.7 232.9h0.9v0.9h-0.9zM239.2 230.4h0.9v0.9h-0.9zM236.0 222.2h0.9v0.9h-0.9zM243.4 199.2h0.9v0.9h-0.9zM247.2 227.6h0.9v0.9h-0.9zM243.0 236.5h0.9v0.9h-0.9zM248.8 217.1h0.9v0.9h-0.9zM243.7 239.8h0.9v0.9h-0.9zM253.4 209.1h0.9v0.9h-0.9zM251.4 212.2h0.9v0.9h-0.9zM236.6 209.7h0.9v0.9h-0.9zM256.0 222.2h0.9v0.9h-0.9zM245.8 228.9h0.9v0.9h-0.9zM243.2 228.7h0.9v0.9h-0.9zM257.1 200.7h0.9v0.9h-0.9zM222.7 221.7h0.9v0.9h-0.9zM229.6 210.7h0.9v0.9h-0.9zM247.7 200.5h0.9v0.9h-0.9zM240.2 206.9h0.9v0.9h-0.9zM234.8 206.6h0.9v0.9h-0.9zM253.9 214.5h0.9v0.9h-0.9zM246.0 225.3h0.9v0.9h-0.9zM232.2 233.8h0.9v0.9h-0.9zM237.0 224.0h0.9v0.9h-0.9zM248.8 211.1h0.9v0.9h-0.9zM256.1 215.6h0.9v0.9h-0.9zM226.6 235.7h0.9v0.9h-0.9zM244.1 217.6h0.9v0.9h-0.9zM239.2 223.9h0.9v0.9h-0.9zM228.6 224.5h0.9v0.9h-0.9zM240.9 216.3h0.9v0.9h-0.9zM229.7 228.0h0.9v0.9h-0.9zM238.0 210.6h0.9v0.9h-0.9zM254.8 228.7h0.9v0.9h-0.9zM246.2 201.7h0.9v0.9h-0.9zM248.3 224.6h0.9v0.9h-0.9zM246.9 203.7h0.9v0.9h-0.9zM245.0 238.5h0.9v0.9h-0.9zM249.8 228.7h0.9v0.9h-0.9zM233.1 216.4h0.9v0.9h-0.9zM239.4 217.9h0.9v0.9h-0.9zM248.9 205.6h0.9v0.9h-0.9zM236.6 223.8h0.9v0.9h-0.9zM238.8 228.3h0.9v0.9h-0.9zM254.2 200.4h0.9v0.9h-0.9zM237.5 238.6h0.9v0.9h-0.9zM235.9 217.9h0.9v0.9h-0.9zM246.8 223.1h0.9v0.9h-0.9zM244.4 231.3h0.9v0.9h-0.9zM237.0 230.6h0.9v0.9h-0.9zM246.9 224.8h0.9v0.9h-0.9zM246.6 217.6h0.9v0.9h-0.9zM242.9 221.5h0.9v0.9h-0.9zM265.2 213.3h0.9v0.9h-0.9zM252.9 231.2h0.9v0.9h-0.9zM248.7 201.7h0.9v0.9h-0.9zM250.3 212.5h0.9v0.9h-0.9zM265.4 196.8h0.9v0.9h-0.9zM250.9 206.6h0.9v0.9h-0.9zM236.7 215.0h0.9v0.9h-0.9zM244.8 233.7h0.9v0.9h-0.9zM237.9 239.8h0.9v0.9h-0.9zM244.4 207.0h0.9v0.9h-0.9zM244.3 221.9h0.9v0.9h-0.9zM241.9 208.7h0.9v0.9h-0.9zM238.5 228.8h0.9v0.9h-0.9zM248.8 233.9h0.9v0.9h-0.9zM229.9 234.4h0.9v0.9h-0.9zM248.8 229.2h0.9v0.9h-0.9zM242.4 220.1h0.9v0.9h-0.9zM244.5 197.7h0.9v0.9h-0.9zM255.5 214.8h0.9v0.9h-0.9zM228.8 234.7h0.9v0.9h-0.9zM235.6 239.8h0.9v0.9h-0.9zM247.4 215.5h0.9v0.9h-0.9zM237.6 224.9h0.9v0.9h-0.9zM239.2 226.3h0.9v0.9h-0.9zM224.9 242.2h0.9v0.9h-0.9zM238.9 222.6h0.9v0.9h-0.9zM244.0 208.2h0.9v0.9h-0.9zM247.7 232.2h0.9v0.9h-0.9zM240.1 227.7h0.9v0.9h-0.9zM244.1 225.6h0.9v0.9h-0.9zM245.8 205.3h0.9v0.9h-0.9zM237.1 224.1h0.9v0.9h-0.9zM236.5 204.3h0.9v0.9h-0.9zM257.7 191.3h0.9v0.9h-0.9zM235.7 222.0h0.9v0.9h-0.9zM252.0 212.4h0.9v0.9h-0.9zM242.9 228.3h0.9v0.9h-0.9zM253.9 233.6h0.9v0.9h-0.9zM237.4 223.7h0.9v0.9h-0.9zM246.4 241.0h0.9v0.9h-0.9zM244.9 213.8h0.9v0.9h-0.9zM240.6 231.6h0.9v0.9h-0.9zM244.8 205.8h0.9v0.9h-0.9zM236.3 226.0h0.9v0.9h-0.9zM241.7 218.4h0.9v0.9h-0.9zM239.2 220.8h0.9v0.9h-0.9zM248.3 226.1h0.9v0.9h-0.9zM241.6 200.0h0.9v0.9h-0.9zM231.4 228.1h0.9v0.9h-0.9zM239.4 213.6h0.9v0.9h-0.9zM241.6 223.6h0.9v0.9h-0.9zM235.3 229.6h0.9v0.9h-0.9zM252.8 212.8h0.9v0.9h-0.9zM245.5 216.0h0.9v0.9h-0.9zM249.0 205.3h0.9v0.9h-0.9zM236.4 231.0h0.9v0.9h-0.9zM239.2 215.3h0.9v0.9h-0.9zM250.3 223.5h0.9v0.9h-0.9zM231.1 210.1h0.9v0.9h-0.9zM245.2 236.6h0.9v0.9h-0.9zM243.1 209.5h0.9v0.9h-0.9zM238.4 237.2h0.9v0.9h-0.9zM243.1 216.2h0.9v0.9h-0.9zM233.9 232.0h0.9v0.9h-0.9zM244.1 219.4h0.9v0.9h-0.9zM232.8 234.1h0.9v0.9h-0.9zM232.3 226.4h0.9v0.9h-0.9zM253.3 231.8h0.9v0.9h-0.9zM236.9 232.2h0.9v0.9h-0.9zM257.4 154.7h0.9v0.9h-0.9zM233.5 154.1h0.9v0.9h-0.9zM236.4 150.9h0.9v0.9h-0.9zM253.4 157.6h0.9v0.9h-0.9zM290.6 183.7h0.9v0.9h-0.9zM273.8 238.4h0.9v0.9h-0.9zM243.7 174.7h0.9v0.9h-0.9zM275.9 205.9h0.9v0.9h-0.9zM268.0 237.1h0.9v0.9h-0.9zM252.8 238.0h0.9v0.9h-0.9zM229.2 176.9h0.9v0.9h-0.9zM276.9 150.2h0.9v0.9h-0.9zM265.6 235.6h0.9v0.9h-0.9zM235.3 184.0h0.9v0.9h-0.9zM245.2 177.2h0.9v0.9h-0.9zM278.2 216.8h0.9v0.9h-0.9zM279.2 161.8h0.9v0.9h-0.9zM250.0 206.9h0.9v0.9h-0.9zM260.1 224.1h0.9v0.9h-0.9zM254.4 234.7h0.9v0.9h-0.9zM242.1 208.7h0.9v0.9h-0.9zM279.2 242.6h0.9v0.9h-0.9zM252.2 232.0h0.9v0.9h-0.9zM266.5 207.4h0.9v0.9h-0.9zM244.4 231.4h0.9v0.9h-0.9zM264.3 201.4h0.9v0.9h-0.9zM239.2 210.9h0.9v0.9h-0.9zM237.9 227.0h0.9v0.9h-0.9zM275.8 159.7h0.9v0.9h-0.9zM278.5 206.6h0.9v0.9h-0.9zM247.0 209.7h0.9v0.9h-0.9zM272.5 193.1h0.9v0.9h-0.9zM272.4 222.6h0.9v0.9h-0.9zM285.1 226.6h0.9v0.9h-0.9zM234.9 229.7h0.9v0.9h-0.9zM288.8 191.4h0.9v0.9h-0.9zM286.0 165.3h0.9v0.9h-0.9zM230.6 187.7h0.9v0.9h-0.9zM235.7 155.8h0.9v0.9h-0.9zM256.4 241.1h0.9v0.9h-0.9zM261.3 242.5h0.9v0.9h-0.9zM260.6 189.4h0.9v0.9h-0.9zM229.3 151.0h0.9v0.9h-0.9zM283.9 212.1h0.9v0.9h-0.9zM264.1 232.7h0.9v0.9h-0.9zM269.6 171.1h0.9v0.9h-0.9zM283.4 216.3h0.9v0.9h-0.9zM233.1 226.7h0.9v0.9h-0.9zM251.3 228.1h0.9v0.9h-0.9zM280.9 234.4h0.9v0.9h-0.9zM235.3 217.0h0.9v0.9h-0.9zM248.0 229.3h0.9v0.9h-0.9zM235.4 231.2h0.9v0.9h-0.9zM290.3 194.8h0.9v0.9h-0.9zM263.1 204.4h0.9v0.9h-0.9zM285.4 151.5h0.9v0.9h-0.9zM282.5 177.9h0.9v0.9h-0.9zM254.0 230.9h0.9v0.9h-0.9zM235.8 157.1h0.9v0.9h-0.9zM271.6 216.4h0.9v0.9h-0.9zM242.4 212.7h0.9v0.9h-0.9zM250.8 145.4h0.9v0.9h-0.9zM244.8 158.9h0.9v0.9h-0.9zM256.9 188.4h0.9v0.9h-0.9zM252.6 234.6h0.9v0.9h-0.9zM252.6 161.9h0.9v0.9h-0.9zM288.6 207.3h0.9v0.9h-0.9zM288.9 188.2h0.9v0.9h-0.9zM266.7 175.8h0.9v0.9h-0.9zM289.6 170.5h0.9v0.9h-0.9zM287.6 177.1h0.9v0.9h-0.9zM277.1 208.0h0.9v0.9h-0.9zM277.8 163.2h0.9v0.9h-0.9zM291.9 192.8h0.9v0.9h-0.9zM232.8 211.6h0.9v0.9h-0.9zM233.0 208.1h0.9v0.9h-0.9zM273.9 163.2h0.9v0.9h-0.9zM235.4 156.2h0.9v0.9h-0.9zM270.0 218.1h0.9v0.9h-0.9zM286.9 175.5h0.9v0.9h-0.9zM234.3 206.3h0.9v0.9h-0.9zM281.5 216.0h0.9v0.9h-0.9zM259.4 169.8h0.9v0.9h-0.9zM274.7 229.2h0.9v0.9h-0.9zM242.0 214.4h0.9v0.9h-0.9zM252.0 182.3h0.9v0.9h-0.9zM230.8 158.8h0.9v0.9h-0.9zM275.6 170.1h0.9v0.9h-0.9zM286.3 174.8h0.9v0.9h-0.9zM279.0 179.0h0.9v0.9h-0.9zM276.4 186.9h0.9v0.9h-0.9zM241.5 163.4h0.9v0.9h-0.9zM246.3 154.6h0.9v0.9h-0.9zM283.5 235.8h0.9v0.9h-0.9zM284.5 222.9h0.9v0.9h-0.9zM281.9 206.4h0.9v0.9h-0.9zM241.3 172.7h0.9v0.9h-0.9zM252.9 161.3h0.9v0.9h-0.9zM229.8 239.0h0.9v0.9h-0.9zM252.9 204.1h0.9v0.9h-0.9zM234.9 229.3h0.9v0.9h-0.9zM276.1 146.7h0.9v0.9h-0.9zM240.9 217.8h0.9v0.9h-0.9zM231.6 145.0h0.9v0.9h-0.9zM235.6 157.0h0.9v0.9h-0.9zM277.5 221.7h0.9v0.9h-0.9zM264.6 173.5h0.9v0.9h-0.9zM278.2 206.7h0.9v0.9h-0.9zM231.9 161.7h0.9v0.9h-0.9zM272.5 199.8h0.9v0.9h-0.9zM253.2 196.2h0.9v0.9h-0.9zM243.5 201.9h0.9v0.9h-0.9zM236.8 242.4h0.9v0.9h-0.9zM280.7 192.9h0.9v0.9h-0.9zM290.6 211.1h0.9v0.9h-0.9zM265.0 208.0h0.9v0.9h-0.9zM272.9 242.7h0.9v0.9h-0.9zM278.2 166.6h0.9v0.9h-0.9zM231.8 235.6h0.9v0.9h-0.9zM275.2 201.5h0.9v0.9h-0.9zM259.3 238.6h0.9v0.9h-0.9zM230.7 158.3h0.9v0.9h-0.9zM272.5 203.3h0.9v0.9h-0.9zM249.9 158.6h0.9v0.9h-0.9zM229.1 156.9h0.9v0.9h-0.9zM239.1 194.3h0.9v0.9h-0.9zM251.4 241.5h0.9v0.9h-0.9zM287.0 198.7h0.9v0.9h-0.9zM238.6 174.7h0.9v0.9h-0.9zM229.7 209.5h0.9v0.9h-0.9zM252.6 236.3h0.9v0.9h-0.9zM248.3 228.7h0.9v0.9h-0.9zM253.2 208.7h0.9v0.9h-0.9zM250.7 224.4h0.9v0.9h-0.9zM242.3 158.8h0.9v0.9h-0.9zM231.3 181.2h0.9v0.9h-0.9zM275.0 189.4h0.9v0.9h-0.9zM282.0 201.9h0.9v0.9h-0.9zM262.2 193.0h0.9v0.9h-0.9zM230.6 202.3h0.9v0.9h-0.9zM240.2 150.9h0.9v0.9h-0.9zM234.5 159.3h0.9v0.9h-0.9zM267.7 171.5h0.9v0.9h-0.9zM246.9 184.4h0.9v0.9h-0.9zM289.2 168.7h0.9v0.9h-0.9zM247.3 168.0h0.9v0.9h-0.9zM248.1 172.7h0.9v0.9h-0.9zM281.2 241.6h0.9v0.9h-0.9zM253.2 230.3h0.9v0.9h-0.9zM234.8 191.3h0.9v0.9h-0.9zM280.6 151.7h0.9v0.9h-0.9zM291.9 183.0h0.9v0.9h-0.9zM260.0 238.2h0.9v0.9h-0.9zM286.9 163.7h0.9v0.9h-0.9zM257.2 216.9h0.9v0.9h-0.9zM257.4 237.6h0.9v0.9h-0.9zM240.8 241.2h0.9v0.9h-0.9zM267.8 204.6h0.9v0.9h-0.9zM271.7 169.4h0.9v0.9h-0.9zM256.4 164.7h0.9v0.9h-0.9zM279.6 176.1h0.9v0.9h-0.9zM237.2 232.5h0.9v0.9h-0.9zM250.0 238.7h0.9v0.9h-0.9zM256.5 208.4h0.9v0.9h-0.9zM278.3 194.8h0.9v0.9h-0.9zM288.4 224.4h0.9v0.9h-0.9zM285.1 196.4h0.9v0.9h-0.9zM236.3 160.1h0.9v0.9h-0.9zM237.4 196.6h0.9v0.9h-0.9zM288.8 198.5h0.9v0.9h-0.9zM255.5 154.0h0.9v0.9h-0.9zM252.0 161.2h0.9v0.9h-0.9zM257.2 189.0h0.9v0.9h-0.9zM287.8 182.6h0.9v0.9h-0.9zM284.5 146.8h0.9v0.9h-0.9zM250.1 215.6h0.9v0.9h-0.9zM256.6 150.6h0.9v0.9h-0.9zM250.8 198.6h0.9v0.9h-0.9zM289.2 166.6h0.9v0.9h-0.9zM233.7 219.2h0.9v0.9h-0.9zM267.4 177.9h0.9v0.9h-0.9zM253.0 175.8h0.9v0.9h-0.9zM270.4 230.1h0.9v0.9h-0.9zM247.2 234.6h0.9v0.9h-0.9zM254.8 192.3h0.9v0.9h-0.9zM244.4 151.4h0.9v0.9h-0.9zM240.9 168.0h0.9v0.9h-0.9zM256.0 192.5h0.9v0.9h-0.9zM282.1 178.9h0.9v0.9h-0.9zM277.0 168.3h0.9v0.9h-0.9zM258.6 150.3h0.9v0.9h-0.9zM285.1 178.2h0.9v0.9h-0.9z" fill="#000" fill-opacity="0.17" filter="url(#bs)"/>
<polygon points="242.2,216.6 266.4,194.2 277.9,207.2 271.8,228.1 243.6,238.8" fill="#a4a4a4" stroke="#222" stroke-width="0.8"/>
<ellipse cx="263.1" cy="212.4" rx="6.2" ry="6" fill="#202020" transform="rotate(0 263.1 212.4)"/>
<ellipse cx="263.6" cy="212" rx="3.5" ry="3.3" fill="#333" transform="rotate(0 263.6 212)"/>
<path d="M228.2 231.5 C231.5 228 237.5 225.2 243.5 223.6 L249 223 L247 229.5 C242.5 232 238.5 236 235 239.5 L229.5 240.2 Z" fill="#1c1c1c"/>
<ellipse cx="252.4" cy="228.8" rx="9.8" ry="6" fill="#1a1a1a" transform="rotate(-14 252.4 228.8)"/>
<ellipse cx="252" cy="229.1" rx="6.8" ry="3.8" fill="#d4d4d4" transform="rotate(-14 252 229.1)"/>
<ellipse cx="251.8" cy="229.3" rx="5.4" ry="2.8" fill="#383838" transform="rotate(-14 251.8 229.3)"/>
<ellipse cx="231.7" cy="236.7" rx="5.3" ry="3.5" fill="#1a1a1a" transform="rotate(-35 231.7 236.7)"/>
<ellipse cx="231.5" cy="236.9" rx="3.4" ry="2.1" fill="#dedede" transform="rotate(-35 231.5 236.9)"/>
<ellipse cx="231.4" cy="237" rx="2" ry="1.2" fill="#8a8a8a" transform="rotate(-35 231.4 237)"/>
</g>
<line x1="217.5" y1="142.6" x2="340.8" y2="142.6" stroke="#333" stroke-width="1"/>
<line x1="340.8" y1="142.6" x2="340.8" y2="246.2" stroke="#555" stroke-width="1"/>
<line x1="220.1" y1="142.1" x2="220.1" y2="244.5" stroke="#000" stroke-width="1.6"/>
<line x1="219.3" y1="243.7" x2="340.8" y2="243.7" stroke="#000" stroke-width="1.6"/>
<line x1="217.1" y1="142.6" x2="220.1" y2="142.6" stroke="#000" stroke-width="1.1"/>
<text x="189.23" y="145.4" font-size="7.9" textLength="26.63" lengthAdjust="spacingAndGlyphs" fill="#000" stroke-width="0.12">262144</text>
<line x1="217.1" y1="167.85" x2="220.1" y2="167.85" stroke="#000" stroke-width="1.1"/>
<text x="189.31" y="170.65" font-size="7.9" textLength="26.63" lengthAdjust="spacingAndGlyphs" fill="#000" stroke-width="0.12">196608</text>
<line x1="217.1" y1="193.1" x2="220.1" y2="193.1" stroke="#000" stroke-width="1.1"/>
<text x="189.39" y="195.9" font-size="7.9" textLength="26.63" lengthAdjust="spacingAndGlyphs" fill="#000" stroke-width="0.12">131072</text>
<line x1="217.1" y1="218.35" x2="220.1" y2="218.35" stroke="#000" stroke-width="1.1"/>
<text x="193.74" y="221.15" font-size="7.9" textLength="22.19" lengthAdjust="spacingAndGlyphs" fill="#000" stroke-width="0.12">65536</text>
<line x1="217.1" y1="243.6" x2="220.1" y2="243.6" stroke="#000" stroke-width="1.1"/>
<text x="211.45" y="246.4" font-size="7.9" textLength="4.44" lengthAdjust="spacingAndGlyphs" fill="#000" stroke-width="0.12">0</text>
<line x1="218.5" y1="148.91" x2="220.1" y2="148.91" stroke="#000" stroke-width="0.8"/>
<line x1="218.5" y1="155.22" x2="220.1" y2="155.22" stroke="#000" stroke-width="0.8"/>
<line x1="218.5" y1="161.54" x2="220.1" y2="161.54" stroke="#000" stroke-width="0.8"/>
<line x1="218.5" y1="174.16" x2="220.1" y2="174.16" stroke="#000" stroke-width="0.8"/>
<line x1="218.5" y1="180.47" x2="220.1" y2="180.47" stroke="#000" stroke-width="0.8"/>
<line x1="218.5" y1="186.79" x2="220.1" y2="186.79" stroke="#000" stroke-width="0.8"/>
<line x1="218.5" y1="199.41" x2="220.1" y2="199.41" stroke="#000" stroke-width="0.8"/>
<line x1="218.5" y1="205.72" x2="220.1" y2="205.72" stroke="#000" stroke-width="0.8"/>
<line x1="218.5" y1="212.04" x2="220.1" y2="212.04" stroke="#000" stroke-width="0.8"/>
<line x1="218.5" y1="224.66" x2="220.1" y2="224.66" stroke="#000" stroke-width="0.8"/>
<line x1="218.5" y1="230.97" x2="220.1" y2="230.97" stroke="#000" stroke-width="0.8"/>
<line x1="218.5" y1="237.29" x2="220.1" y2="237.29" stroke="#000" stroke-width="0.8"/>
<line x1="220.1" y1="243.7" x2="220.1" y2="246.2" stroke="#000" stroke-width="0.9"/>
<line x1="223.88" y1="243.7" x2="223.88" y2="245.2" stroke="#000" stroke-width="0.9"/>
<line x1="227.65" y1="243.7" x2="227.65" y2="245.2" stroke="#000" stroke-width="0.9"/>
<line x1="231.42" y1="243.7" x2="231.42" y2="245.2" stroke="#000" stroke-width="0.9"/>
<line x1="235.2" y1="243.7" x2="235.2" y2="245.2" stroke="#000" stroke-width="0.9"/>
<line x1="238.97" y1="243.7" x2="238.97" y2="245.2" stroke="#000" stroke-width="0.9"/>
<line x1="242.75" y1="243.7" x2="242.75" y2="245.2" stroke="#000" stroke-width="0.9"/>
<line x1="246.53" y1="243.7" x2="246.53" y2="245.2" stroke="#000" stroke-width="0.9"/>
<line x1="250.3" y1="243.7" x2="250.3" y2="246.2" stroke="#000" stroke-width="0.9"/>
<line x1="254.07" y1="243.7" x2="254.07" y2="245.2" stroke="#000" stroke-width="0.9"/>
<line x1="257.85" y1="243.7" x2="257.85" y2="245.2" stroke="#000" stroke-width="0.9"/>
<line x1="261.62" y1="243.7" x2="261.62" y2="245.2" stroke="#000" stroke-width="0.9"/>
<line x1="265.4" y1="243.7" x2="265.4" y2="245.2" stroke="#000" stroke-width="0.9"/>
<line x1="269.18" y1="243.7" x2="269.18" y2="245.2" stroke="#000" stroke-width="0.9"/>
<line x1="272.95" y1="243.7" x2="272.95" y2="245.2" stroke="#000" stroke-width="0.9"/>
<line x1="276.73" y1="243.7" x2="276.73" y2="245.2" stroke="#000" stroke-width="0.9"/>
<line x1="280.5" y1="243.7" x2="280.5" y2="246.2" stroke="#000" stroke-width="0.9"/>
<line x1="284.27" y1="243.7" x2="284.27" y2="245.2" stroke="#000" stroke-width="0.9"/>
<line x1="288.05" y1="243.7" x2="288.05" y2="245.2" stroke="#000" stroke-width="0.9"/>
<line x1="291.82" y1="243.7" x2="291.82" y2="245.2" stroke="#000" stroke-width="0.9"/>
<line x1="295.6" y1="243.7" x2="295.6" y2="245.2" stroke="#000" stroke-width="0.9"/>
<line x1="299.38" y1="243.7" x2="299.38" y2="245.2" stroke="#000" stroke-width="0.9"/>
<line x1="303.15" y1="243.7" x2="303.15" y2="245.2" stroke="#000" stroke-width="0.9"/>
<line x1="306.93" y1="243.7" x2="306.93" y2="245.2" stroke="#000" stroke-width="0.9"/>
<line x1="310.7" y1="243.7" x2="310.7" y2="246.2" stroke="#000" stroke-width="0.9"/>
<line x1="314.48" y1="243.7" x2="314.48" y2="245.2" stroke="#000" stroke-width="0.9"/>
<line x1="318.25" y1="243.7" x2="318.25" y2="245.2" stroke="#000" stroke-width="0.9"/>
<line x1="322.02" y1="243.7" x2="322.02" y2="245.2" stroke="#000" stroke-width="0.9"/>
<line x1="325.8" y1="243.7" x2="325.8" y2="245.2" stroke="#000" stroke-width="0.9"/>
<line x1="329.57" y1="243.7" x2="329.57" y2="245.2" stroke="#000" stroke-width="0.9"/>
<line x1="333.35" y1="243.7" x2="333.35" y2="245.2" stroke="#000" stroke-width="0.9"/>
<line x1="337.12" y1="243.7" x2="337.12" y2="245.2" stroke="#000" stroke-width="0.9"/>
<line x1="340.9" y1="243.7" x2="340.9" y2="246.2" stroke="#000" stroke-width="0.9"/>
<text x="217.97" y="255.6" font-size="7.9" textLength="4.44" lengthAdjust="spacingAndGlyphs" fill="#000" stroke-width="0.12">0</text>
<text x="239.37" y="255.6" font-size="7.9" textLength="22.19" lengthAdjust="spacingAndGlyphs" fill="#000" stroke-width="0.12">40000</text>
<text x="269.47" y="255.6" font-size="7.9" textLength="22.19" lengthAdjust="spacingAndGlyphs" fill="#000" stroke-width="0.12">80000</text>
<text x="297.34" y="255.6" font-size="7.9" textLength="26.63" lengthAdjust="spacingAndGlyphs" fill="#000" stroke-width="0.12">120000</text>
<text x="327.54" y="255.6" font-size="7.9" textLength="26.63" lengthAdjust="spacingAndGlyphs" fill="#000" stroke-width="0.12">160000</text>
<text x="256.35" y="263.4" font-size="9.3" textLength="46.67" lengthAdjust="spacingAndGlyphs" fill="#000" stroke-width="0.18">Size (FSc)</text>
<text transform="translate(186.8 230.5) rotate(-90)" x="-0.5" y="0" font-size="9.5" textLength="76.64" lengthAdjust="spacingAndGlyphs" stroke-width="0.15">Granularity (SSc)</text>
<text x="260.9" y="133.7" font-size="10.2" textLength="28.89" lengthAdjust="spacingAndGlyphs" fill="#000" stroke-width="0.18">PBMC</text>
</g>
<g clip-path="url(#cF)">
<g filter="url(#bl3)"><ellipse cx="425" cy="166" rx="22" ry="13" fill="#d6d6d6"/></g>
<g filter="url(#bl4)"><ellipse cx="426" cy="195" rx="13" ry="16" fill="#ececec"/></g>
<g filter="url(#bl4)"><ellipse cx="427" cy="216" rx="21" ry="16" fill="#d0d0d0"/></g>
<g filter="url(#bl2)"><ellipse cx="482" cy="212" rx="6" ry="11" fill="#d4d4d4"/></g>
<path d="M421.8 154.2h0.9v0.9h-0.9zM432.8 164.6h0.9v0.9h-0.9zM439.4 172.3h0.9v0.9h-0.9zM409.8 160.3h0.9v0.9h-0.9zM435.8 169.9h0.9v0.9h-0.9zM435.2 162.7h0.9v0.9h-0.9zM424.0 166.6h0.9v0.9h-0.9zM455.9 171.3h0.9v0.9h-0.9zM425.5 161.1h0.9v0.9h-0.9zM414.6 186.0h0.9v0.9h-0.9zM430.8 167.1h0.9v0.9h-0.9zM402.5 168.4h0.9v0.9h-0.9zM444.8 160.8h0.9v0.9h-0.9zM437.7 166.4h0.9v0.9h-0.9zM420.6 164.1h0.9v0.9h-0.9zM433.1 155.8h0.9v0.9h-0.9zM432.1 155.3h0.9v0.9h-0.9zM449.4 168.0h0.9v0.9h-0.9zM417.9 165.4h0.9v0.9h-0.9zM409.6 147.6h0.9v0.9h-0.9zM400.4 151.0h0.9v0.9h-0.9zM421.9 163.8h0.9v0.9h-0.9zM406.1 165.5h0.9v0.9h-0.9zM423.4 170.2h0.9v0.9h-0.9zM430.6 157.3h0.9v0.9h-0.9zM420.0 170.1h0.9v0.9h-0.9zM413.8 163.8h0.9v0.9h-0.9zM440.2 162.5h0.9v0.9h-0.9zM423.0 165.0h0.9v0.9h-0.9zM428.4 172.9h0.9v0.9h-0.9zM437.3 169.9h0.9v0.9h-0.9zM409.4 172.2h0.9v0.9h-0.9zM414.1 161.2h0.9v0.9h-0.9zM456.4 164.0h0.9v0.9h-0.9zM423.5 157.9h0.9v0.9h-0.9zM412.6 162.1h0.9v0.9h-0.9zM422.3 163.2h0.9v0.9h-0.9zM418.4 162.7h0.9v0.9h-0.9zM410.3 171.0h0.9v0.9h-0.9zM420.4 169.0h0.9v0.9h-0.9zM425.2 171.3h0.9v0.9h-0.9zM425.3 166.9h0.9v0.9h-0.9zM432.1 173.5h0.9v0.9h-0.9zM404.1 166.8h0.9v0.9h-0.9zM407.0 172.8h0.9v0.9h-0.9zM435.2 169.5h0.9v0.9h-0.9zM420.0 171.1h0.9v0.9h-0.9zM440.5 165.5h0.9v0.9h-0.9zM429.2 157.3h0.9v0.9h-0.9zM408.1 155.9h0.9v0.9h-0.9zM432.1 179.7h0.9v0.9h-0.9zM413.0 168.7h0.9v0.9h-0.9zM428.7 169.1h0.9v0.9h-0.9zM440.7 164.8h0.9v0.9h-0.9zM451.6 162.8h0.9v0.9h-0.9zM424.6 186.1h0.9v0.9h-0.9zM434.1 158.2h0.9v0.9h-0.9zM429.2 165.6h0.9v0.9h-0.9zM435.3 165.6h0.9v0.9h-0.9zM420.7 157.1h0.9v0.9h-0.9zM429.1 161.1h0.9v0.9h-0.9zM431.3 163.6h0.9v0.9h-0.9zM416.2 162.6h0.9v0.9h-0.9zM435.7 171.7h0.9v0.9h-0.9zM439.1 157.7h0.9v0.9h-0.9zM426.4 168.8h0.9v0.9h-0.9zM422.7 176.3h0.9v0.9h-0.9zM421.1 172.3h0.9v0.9h-0.9zM427.2 158.0h0.9v0.9h-0.9zM440.1 145.3h0.9v0.9h-0.9zM444.0 171.9h0.9v0.9h-0.9zM419.7 169.5h0.9v0.9h-0.9zM414.0 161.9h0.9v0.9h-0.9zM415.7 175.0h0.9v0.9h-0.9zM437.6 163.2h0.9v0.9h-0.9zM428.2 166.8h0.9v0.9h-0.9zM429.2 158.7h0.9v0.9h-0.9zM431.4 168.2h0.9v0.9h-0.9zM430.1 163.0h0.9v0.9h-0.9zM424.0 162.5h0.9v0.9h-0.9zM412.7 173.6h0.9v0.9h-0.9zM417.9 167.5h0.9v0.9h-0.9zM427.0 155.5h0.9v0.9h-0.9zM430.3 170.8h0.9v0.9h-0.9zM420.9 171.9h0.9v0.9h-0.9zM420.4 160.2h0.9v0.9h-0.9zM442.4 163.2h0.9v0.9h-0.9zM419.8 166.4h0.9v0.9h-0.9zM428.2 164.3h0.9v0.9h-0.9zM421.6 166.9h0.9v0.9h-0.9zM414.9 170.5h0.9v0.9h-0.9zM406.8 162.6h0.9v0.9h-0.9zM418.9 180.6h0.9v0.9h-0.9zM415.4 161.0h0.9v0.9h-0.9zM435.9 162.2h0.9v0.9h-0.9zM411.4 179.8h0.9v0.9h-0.9zM420.4 182.7h0.9v0.9h-0.9zM433.6 166.3h0.9v0.9h-0.9zM424.1 164.7h0.9v0.9h-0.9zM431.6 158.5h0.9v0.9h-0.9zM435.8 174.0h0.9v0.9h-0.9zM405.1 167.2h0.9v0.9h-0.9zM420.4 160.1h0.9v0.9h-0.9zM413.7 168.8h0.9v0.9h-0.9zM442.1 175.6h0.9v0.9h-0.9zM424.1 170.8h0.9v0.9h-0.9zM431.6 181.5h0.9v0.9h-0.9zM446.3 174.1h0.9v0.9h-0.9zM421.1 169.1h0.9v0.9h-0.9zM426.4 165.8h0.9v0.9h-0.9zM430.5 169.9h0.9v0.9h-0.9zM422.2 174.5h0.9v0.9h-0.9zM440.9 172.0h0.9v0.9h-0.9zM435.5 173.4h0.9v0.9h-0.9zM437.8 167.6h0.9v0.9h-0.9zM426.1 171.4h0.9v0.9h-0.9zM421.3 174.5h0.9v0.9h-0.9zM421.1 164.8h0.9v0.9h-0.9zM421.0 156.9h0.9v0.9h-0.9zM405.4 178.1h0.9v0.9h-0.9zM429.9 170.1h0.9v0.9h-0.9zM435.4 162.9h0.9v0.9h-0.9zM425.4 167.6h0.9v0.9h-0.9zM419.4 164.3h0.9v0.9h-0.9zM425.9 154.1h0.9v0.9h-0.9zM428.2 164.7h0.9v0.9h-0.9zM429.5 156.0h0.9v0.9h-0.9zM447.5 167.4h0.9v0.9h-0.9zM415.0 165.2h0.9v0.9h-0.9zM429.9 173.9h0.9v0.9h-0.9zM433.9 165.2h0.9v0.9h-0.9zM426.4 168.6h0.9v0.9h-0.9zM422.6 163.9h0.9v0.9h-0.9zM413.0 163.3h0.9v0.9h-0.9zM418.2 156.2h0.9v0.9h-0.9zM434.1 172.9h0.9v0.9h-0.9zM443.2 167.2h0.9v0.9h-0.9zM417.5 161.9h0.9v0.9h-0.9zM431.2 167.5h0.9v0.9h-0.9zM431.8 163.1h0.9v0.9h-0.9zM437.8 160.9h0.9v0.9h-0.9zM428.4 167.7h0.9v0.9h-0.9zM430.9 174.5h0.9v0.9h-0.9zM436.4 164.1h0.9v0.9h-0.9zM411.3 156.0h0.9v0.9h-0.9zM426.0 161.7h0.9v0.9h-0.9zM404.0 178.6h0.9v0.9h-0.9zM401.5 160.3h0.9v0.9h-0.9zM415.4 174.3h0.9v0.9h-0.9zM406.7 164.3h0.9v0.9h-0.9zM431.6 171.2h0.9v0.9h-0.9zM437.5 165.3h0.9v0.9h-0.9zM421.7 155.0h0.9v0.9h-0.9zM423.8 163.1h0.9v0.9h-0.9zM422.6 180.8h0.9v0.9h-0.9zM422.3 165.1h0.9v0.9h-0.9zM427.1 170.0h0.9v0.9h-0.9zM429.7 163.6h0.9v0.9h-0.9zM419.8 165.1h0.9v0.9h-0.9zM415.9 168.3h0.9v0.9h-0.9zM419.1 169.3h0.9v0.9h-0.9zM435.2 181.5h0.9v0.9h-0.9zM420.3 165.9h0.9v0.9h-0.9zM443.0 164.7h0.9v0.9h-0.9zM422.5 161.4h0.9v0.9h-0.9zM442.0 156.8h0.9v0.9h-0.9zM411.0 154.7h0.9v0.9h-0.9zM417.0 170.6h0.9v0.9h-0.9zM431.2 153.0h0.9v0.9h-0.9zM431.3 175.9h0.9v0.9h-0.9zM423.5 172.0h0.9v0.9h-0.9zM450.1 163.9h0.9v0.9h-0.9zM426.3 157.9h0.9v0.9h-0.9zM428.9 166.2h0.9v0.9h-0.9zM418.5 166.2h0.9v0.9h-0.9zM445.5 173.9h0.9v0.9h-0.9zM435.8 160.8h0.9v0.9h-0.9zM430.4 163.4h0.9v0.9h-0.9zM405.6 165.6h0.9v0.9h-0.9zM429.8 164.1h0.9v0.9h-0.9zM419.8 161.6h0.9v0.9h-0.9zM430.2 154.0h0.9v0.9h-0.9zM436.4 154.5h0.9v0.9h-0.9zM416.4 161.3h0.9v0.9h-0.9zM428.0 164.4h0.9v0.9h-0.9zM436.0 173.0h0.9v0.9h-0.9zM427.4 182.2h0.9v0.9h-0.9zM421.4 178.0h0.9v0.9h-0.9zM412.6 168.8h0.9v0.9h-0.9zM417.3 179.2h0.9v0.9h-0.9zM410.1 165.2h0.9v0.9h-0.9zM437.3 162.3h0.9v0.9h-0.9zM426.7 182.2h0.9v0.9h-0.9zM410.7 158.6h0.9v0.9h-0.9zM425.3 163.1h0.9v0.9h-0.9zM409.8 164.2h0.9v0.9h-0.9zM440.0 161.9h0.9v0.9h-0.9zM439.5 171.5h0.9v0.9h-0.9zM407.6 163.2h0.9v0.9h-0.9zM416.7 157.5h0.9v0.9h-0.9zM427.9 167.7h0.9v0.9h-0.9zM420.8 167.2h0.9v0.9h-0.9zM415.1 157.9h0.9v0.9h-0.9zM419.2 160.0h0.9v0.9h-0.9zM422.5 160.5h0.9v0.9h-0.9zM418.7 172.8h0.9v0.9h-0.9zM427.9 169.3h0.9v0.9h-0.9zM422.6 167.7h0.9v0.9h-0.9zM416.2 169.5h0.9v0.9h-0.9zM425.7 162.7h0.9v0.9h-0.9zM405.4 169.4h0.9v0.9h-0.9zM442.8 161.8h0.9v0.9h-0.9zM404.4 156.7h0.9v0.9h-0.9zM424.4 161.1h0.9v0.9h-0.9zM429.4 167.5h0.9v0.9h-0.9zM430.3 166.7h0.9v0.9h-0.9zM428.5 173.4h0.9v0.9h-0.9zM440.6 154.2h0.9v0.9h-0.9zM411.8 164.5h0.9v0.9h-0.9zM424.5 168.8h0.9v0.9h-0.9zM427.1 159.3h0.9v0.9h-0.9zM419.4 167.8h0.9v0.9h-0.9zM418.2 163.2h0.9v0.9h-0.9zM440.8 158.1h0.9v0.9h-0.9zM416.8 173.9h0.9v0.9h-0.9zM419.6 156.3h0.9v0.9h-0.9zM422.0 173.0h0.9v0.9h-0.9zM422.8 163.1h0.9v0.9h-0.9zM427.3 159.5h0.9v0.9h-0.9zM422.8 159.9h0.9v0.9h-0.9zM429.8 160.9h0.9v0.9h-0.9zM427.0 160.1h0.9v0.9h-0.9zM431.1 167.9h0.9v0.9h-0.9zM441.8 153.0h0.9v0.9h-0.9zM415.2 174.7h0.9v0.9h-0.9zM445.1 171.9h0.9v0.9h-0.9zM419.9 175.8h0.9v0.9h-0.9zM433.3 159.2h0.9v0.9h-0.9zM427.2 149.8h0.9v0.9h-0.9zM421.8 161.7h0.9v0.9h-0.9zM401.8 164.9h0.9v0.9h-0.9zM444.6 168.2h0.9v0.9h-0.9zM416.2 162.4h0.9v0.9h-0.9zM415.9 165.5h0.9v0.9h-0.9zM438.0 167.1h0.9v0.9h-0.9zM426.2 155.2h0.9v0.9h-0.9zM448.1 178.7h0.9v0.9h-0.9zM445.4 158.2h0.9v0.9h-0.9zM433.8 167.9h0.9v0.9h-0.9zM428.3 173.6h0.9v0.9h-0.9zM434.4 160.6h0.9v0.9h-0.9zM409.5 166.1h0.9v0.9h-0.9zM427.3 177.5h0.9v0.9h-0.9zM427.0 164.1h0.9v0.9h-0.9zM419.6 173.4h0.9v0.9h-0.9zM428.3 168.1h0.9v0.9h-0.9zM407.8 167.7h0.9v0.9h-0.9zM436.1 171.1h0.9v0.9h-0.9zM440.7 164.5h0.9v0.9h-0.9zM409.8 164.6h0.9v0.9h-0.9zM427.0 172.8h0.9v0.9h-0.9zM443.7 167.9h0.9v0.9h-0.9zM430.3 169.6h0.9v0.9h-0.9zM412.9 157.7h0.9v0.9h-0.9zM413.5 166.2h0.9v0.9h-0.9zM435.5 174.6h0.9v0.9h-0.9zM447.2 172.4h0.9v0.9h-0.9zM412.3 168.5h0.9v0.9h-0.9zM425.7 162.5h0.9v0.9h-0.9zM416.0 161.8h0.9v0.9h-0.9zM421.9 169.2h0.9v0.9h-0.9zM428.9 176.0h0.9v0.9h-0.9zM424.8 166.4h0.9v0.9h-0.9zM417.1 175.2h0.9v0.9h-0.9zM450.4 164.0h0.9v0.9h-0.9zM423.4 174.5h0.9v0.9h-0.9zM423.1 159.1h0.9v0.9h-0.9zM438.5 167.4h0.9v0.9h-0.9zM425.4 158.6h0.9v0.9h-0.9zM422.8 170.7h0.9v0.9h-0.9zM436.6 170.1h0.9v0.9h-0.9zM412.9 159.5h0.9v0.9h-0.9zM434.2 160.9h0.9v0.9h-0.9zM437.5 163.0h0.9v0.9h-0.9zM433.1 155.7h0.9v0.9h-0.9zM423.1 159.6h0.9v0.9h-0.9zM425.1 160.1h0.9v0.9h-0.9zM404.8 171.6h0.9v0.9h-0.9zM423.7 175.8h0.9v0.9h-0.9zM428.7 163.0h0.9v0.9h-0.9zM435.6 164.1h0.9v0.9h-0.9zM426.9 167.6h0.9v0.9h-0.9zM420.6 162.5h0.9v0.9h-0.9zM415.3 164.2h0.9v0.9h-0.9zM424.7 172.0h0.9v0.9h-0.9zM426.8 167.7h0.9v0.9h-0.9zM439.6 165.5h0.9v0.9h-0.9zM425.3 162.1h0.9v0.9h-0.9zM419.3 176.4h0.9v0.9h-0.9zM424.0 161.8h0.9v0.9h-0.9zM419.5 167.0h0.9v0.9h-0.9zM422.4 158.9h0.9v0.9h-0.9zM399.0 161.9h0.9v0.9h-0.9zM406.3 166.8h0.9v0.9h-0.9zM411.0 163.3h0.9v0.9h-0.9zM430.8 169.8h0.9v0.9h-0.9zM424.3 166.6h0.9v0.9h-0.9zM427.0 156.4h0.9v0.9h-0.9zM439.0 150.0h0.9v0.9h-0.9zM412.8 173.1h0.9v0.9h-0.9zM438.8 162.0h0.9v0.9h-0.9zM429.8 176.4h0.9v0.9h-0.9zM416.7 166.2h0.9v0.9h-0.9zM442.9 160.8h0.9v0.9h-0.9zM408.3 170.0h0.9v0.9h-0.9zM411.8 164.2h0.9v0.9h-0.9zM422.7 166.2h0.9v0.9h-0.9zM430.0 159.6h0.9v0.9h-0.9zM422.9 170.6h0.9v0.9h-0.9zM399.9 173.8h0.9v0.9h-0.9zM421.7 162.4h0.9v0.9h-0.9zM424.2 178.6h0.9v0.9h-0.9zM455.4 162.1h0.9v0.9h-0.9zM441.5 167.8h0.9v0.9h-0.9zM426.7 154.7h0.9v0.9h-0.9zM412.3 152.7h0.9v0.9h-0.9zM429.3 180.8h0.9v0.9h-0.9zM411.4 176.1h0.9v0.9h-0.9zM427.6 174.1h0.9v0.9h-0.9zM429.5 154.2h0.9v0.9h-0.9zM420.5 167.7h0.9v0.9h-0.9zM428.2 169.0h0.9v0.9h-0.9zM421.3 166.6h0.9v0.9h-0.9zM418.4 168.2h0.9v0.9h-0.9zM443.4 159.7h0.9v0.9h-0.9zM432.1 165.0h0.9v0.9h-0.9zM421.6 158.1h0.9v0.9h-0.9zM416.1 163.6h0.9v0.9h-0.9zM427.3 168.7h0.9v0.9h-0.9zM431.9 160.6h0.9v0.9h-0.9zM435.3 164.2h0.9v0.9h-0.9zM442.7 163.1h0.9v0.9h-0.9zM430.7 166.2h0.9v0.9h-0.9zM411.9 172.5h0.9v0.9h-0.9zM449.2 167.7h0.9v0.9h-0.9zM438.9 168.8h0.9v0.9h-0.9zM435.0 156.0h0.9v0.9h-0.9zM441.0 163.5h0.9v0.9h-0.9zM407.5 171.8h0.9v0.9h-0.9zM420.8 160.1h0.9v0.9h-0.9zM419.1 163.0h0.9v0.9h-0.9zM439.3 159.3h0.9v0.9h-0.9zM411.2 175.4h0.9v0.9h-0.9zM421.4 162.9h0.9v0.9h-0.9zM443.2 161.0h0.9v0.9h-0.9zM432.8 170.4h0.9v0.9h-0.9zM420.6 173.8h0.9v0.9h-0.9zM447.4 169.5h0.9v0.9h-0.9zM409.4 172.9h0.9v0.9h-0.9zM430.5 167.5h0.9v0.9h-0.9zM422.5 165.2h0.9v0.9h-0.9zM431.2 163.0h0.9v0.9h-0.9zM421.9 162.5h0.9v0.9h-0.9zM415.3 161.9h0.9v0.9h-0.9zM427.7 168.6h0.9v0.9h-0.9zM409.6 165.3h0.9v0.9h-0.9zM431.4 166.7h0.9v0.9h-0.9zM421.4 170.3h0.9v0.9h-0.9zM436.1 165.7h0.9v0.9h-0.9zM419.9 156.5h0.9v0.9h-0.9zM417.2 160.5h0.9v0.9h-0.9zM429.9 158.2h0.9v0.9h-0.9zM439.8 152.7h0.9v0.9h-0.9zM400.6 166.8h0.9v0.9h-0.9zM426.6 157.7h0.9v0.9h-0.9zM432.6 157.1h0.9v0.9h-0.9zM408.3 158.5h0.9v0.9h-0.9zM414.7 172.2h0.9v0.9h-0.9zM432.7 163.9h0.9v0.9h-0.9zM415.4 173.0h0.9v0.9h-0.9zM417.6 165.4h0.9v0.9h-0.9zM445.5 163.0h0.9v0.9h-0.9zM414.0 170.0h0.9v0.9h-0.9zM414.9 170.2h0.9v0.9h-0.9zM397.8 166.8h0.9v0.9h-0.9zM412.2 158.8h0.9v0.9h-0.9zM410.6 162.8h0.9v0.9h-0.9zM445.4 157.8h0.9v0.9h-0.9zM439.5 164.2h0.9v0.9h-0.9zM410.2 166.7h0.9v0.9h-0.9zM448.4 176.4h0.9v0.9h-0.9zM434.2 175.9h0.9v0.9h-0.9zM423.0 170.8h0.9v0.9h-0.9zM434.7 172.7h0.9v0.9h-0.9zM429.6 167.6h0.9v0.9h-0.9zM416.1 185.4h0.9v0.9h-0.9zM404.3 176.7h0.9v0.9h-0.9zM414.4 184.5h0.9v0.9h-0.9zM425.1 168.7h0.9v0.9h-0.9zM420.9 168.9h0.9v0.9h-0.9zM416.4 173.4h0.9v0.9h-0.9zM436.6 167.3h0.9v0.9h-0.9zM412.5 168.2h0.9v0.9h-0.9zM435.6 159.1h0.9v0.9h-0.9zM419.4 172.6h0.9v0.9h-0.9zM426.4 167.0h0.9v0.9h-0.9zM411.8 171.7h0.9v0.9h-0.9zM425.0 164.5h0.9v0.9h-0.9zM415.8 153.6h0.9v0.9h-0.9zM404.5 169.5h0.9v0.9h-0.9zM424.9 174.2h0.9v0.9h-0.9zM424.5 157.1h0.9v0.9h-0.9zM434.9 159.2h0.9v0.9h-0.9zM428.5 163.9h0.9v0.9h-0.9zM413.1 164.3h0.9v0.9h-0.9zM417.8 154.1h0.9v0.9h-0.9zM411.8 173.1h0.9v0.9h-0.9zM440.4 161.7h0.9v0.9h-0.9zM443.0 153.3h0.9v0.9h-0.9zM434.1 168.5h0.9v0.9h-0.9zM428.7 179.9h0.9v0.9h-0.9zM432.0 171.8h0.9v0.9h-0.9zM430.8 174.1h0.9v0.9h-0.9zM404.6 159.4h0.9v0.9h-0.9zM414.8 167.6h0.9v0.9h-0.9zM439.1 155.5h0.9v0.9h-0.9zM439.0 179.9h0.9v0.9h-0.9zM427.9 170.0h0.9v0.9h-0.9zM421.4 151.3h0.9v0.9h-0.9zM420.5 153.1h0.9v0.9h-0.9zM418.6 169.4h0.9v0.9h-0.9zM414.1 167.0h0.9v0.9h-0.9zM402.3 163.8h0.9v0.9h-0.9zM426.8 170.3h0.9v0.9h-0.9zM419.7 180.0h0.9v0.9h-0.9zM422.5 168.6h0.9v0.9h-0.9zM445.4 153.4h0.9v0.9h-0.9zM432.1 164.9h0.9v0.9h-0.9zM416.8 156.8h0.9v0.9h-0.9zM431.9 160.4h0.9v0.9h-0.9zM407.2 168.3h0.9v0.9h-0.9zM437.5 164.8h0.9v0.9h-0.9zM428.2 158.5h0.9v0.9h-0.9zM422.8 165.8h0.9v0.9h-0.9zM431.8 160.3h0.9v0.9h-0.9zM442.3 169.7h0.9v0.9h-0.9zM419.6 164.3h0.9v0.9h-0.9zM413.4 168.7h0.9v0.9h-0.9zM450.1 164.1h0.9v0.9h-0.9zM425.2 171.2h0.9v0.9h-0.9zM442.8 165.0h0.9v0.9h-0.9zM417.0 165.9h0.9v0.9h-0.9zM429.5 162.0h0.9v0.9h-0.9zM417.5 166.9h0.9v0.9h-0.9zM432.6 153.5h0.9v0.9h-0.9zM421.8 184.6h0.9v0.9h-0.9zM417.1 161.2h0.9v0.9h-0.9zM443.5 166.6h0.9v0.9h-0.9zM429.1 162.6h0.9v0.9h-0.9zM401.0 162.5h0.9v0.9h-0.9zM422.3 168.7h0.9v0.9h-0.9zM414.2 162.4h0.9v0.9h-0.9zM410.6 162.9h0.9v0.9h-0.9zM418.1 156.3h0.9v0.9h-0.9zM419.4 159.5h0.9v0.9h-0.9zM425.4 157.7h0.9v0.9h-0.9zM415.6 178.5h0.9v0.9h-0.9zM402.9 156.6h0.9v0.9h-0.9zM418.7 158.4h0.9v0.9h-0.9zM435.5 167.3h0.9v0.9h-0.9zM408.8 175.9h0.9v0.9h-0.9zM432.4 154.1h0.9v0.9h-0.9zM430.5 155.1h0.9v0.9h-0.9zM419.7 166.8h0.9v0.9h-0.9zM428.7 168.3h0.9v0.9h-0.9zM416.1 156.0h0.9v0.9h-0.9zM420.3 153.3h0.9v0.9h-0.9zM412.9 159.2h0.9v0.9h-0.9zM430.6 171.1h0.9v0.9h-0.9zM441.3 165.6h0.9v0.9h-0.9zM416.9 171.1h0.9v0.9h-0.9zM439.3 165.1h0.9v0.9h-0.9zM399.6 165.7h0.9v0.9h-0.9zM414.5 170.2h0.9v0.9h-0.9zM413.0 165.0h0.9v0.9h-0.9zM445.5 167.5h0.9v0.9h-0.9zM418.0 159.5h0.9v0.9h-0.9zM434.3 161.7h0.9v0.9h-0.9zM400.6 169.2h0.9v0.9h-0.9zM426.4 164.2h0.9v0.9h-0.9zM431.8 160.6h0.9v0.9h-0.9zM424.6 170.5h0.9v0.9h-0.9zM427.1 165.8h0.9v0.9h-0.9zM434.7 160.5h0.9v0.9h-0.9zM440.8 172.1h0.9v0.9h-0.9zM429.8 183.3h0.9v0.9h-0.9zM416.1 211.0h0.9v0.9h-0.9zM406.7 220.9h0.9v0.9h-0.9zM416.6 205.7h0.9v0.9h-0.9zM414.6 219.0h0.9v0.9h-0.9zM410.3 206.4h0.9v0.9h-0.9zM411.3 204.5h0.9v0.9h-0.9zM437.7 215.3h0.9v0.9h-0.9zM437.9 214.6h0.9v0.9h-0.9zM446.0 230.6h0.9v0.9h-0.9zM436.4 195.7h0.9v0.9h-0.9zM420.5 219.7h0.9v0.9h-0.9zM440.8 232.2h0.9v0.9h-0.9zM418.7 229.4h0.9v0.9h-0.9zM422.2 209.7h0.9v0.9h-0.9zM411.4 206.3h0.9v0.9h-0.9zM442.6 208.4h0.9v0.9h-0.9zM439.8 217.4h0.9v0.9h-0.9zM420.7 216.1h0.9v0.9h-0.9zM422.6 217.9h0.9v0.9h-0.9zM427.1 220.8h0.9v0.9h-0.9zM429.3 201.9h0.9v0.9h-0.9zM437.6 201.3h0.9v0.9h-0.9zM427.5 200.2h0.9v0.9h-0.9zM431.9 198.9h0.9v0.9h-0.9zM407.2 212.9h0.9v0.9h-0.9zM422.7 217.5h0.9v0.9h-0.9zM403.3 242.6h0.9v0.9h-0.9zM449.8 220.0h0.9v0.9h-0.9zM444.8 214.2h0.9v0.9h-0.9zM435.9 230.0h0.9v0.9h-0.9zM441.1 205.7h0.9v0.9h-0.9zM452.7 217.8h0.9v0.9h-0.9zM438.8 225.0h0.9v0.9h-0.9zM405.9 222.9h0.9v0.9h-0.9zM423.9 218.6h0.9v0.9h-0.9zM416.0 200.0h0.9v0.9h-0.9zM410.4 212.3h0.9v0.9h-0.9zM426.5 207.3h0.9v0.9h-0.9zM431.7 221.8h0.9v0.9h-0.9zM414.5 212.5h0.9v0.9h-0.9zM422.9 220.3h0.9v0.9h-0.9zM430.2 195.8h0.9v0.9h-0.9zM424.5 225.0h0.9v0.9h-0.9zM424.3 204.4h0.9v0.9h-0.9zM420.8 198.5h0.9v0.9h-0.9zM436.9 206.9h0.9v0.9h-0.9zM429.9 226.7h0.9v0.9h-0.9zM407.3 222.0h0.9v0.9h-0.9zM423.0 200.8h0.9v0.9h-0.9zM430.0 215.0h0.9v0.9h-0.9zM413.9 212.8h0.9v0.9h-0.9zM435.3 196.3h0.9v0.9h-0.9zM416.1 202.8h0.9v0.9h-0.9zM422.2 191.0h0.9v0.9h-0.9zM425.1 204.2h0.9v0.9h-0.9zM455.5 184.1h0.9v0.9h-0.9zM422.4 205.0h0.9v0.9h-0.9zM419.1 203.4h0.9v0.9h-0.9zM435.8 205.0h0.9v0.9h-0.9zM420.4 204.7h0.9v0.9h-0.9zM429.0 227.0h0.9v0.9h-0.9zM397.2 210.1h0.9v0.9h-0.9zM430.4 216.7h0.9v0.9h-0.9zM426.3 222.5h0.9v0.9h-0.9zM409.8 224.2h0.9v0.9h-0.9zM444.2 221.7h0.9v0.9h-0.9zM423.4 207.8h0.9v0.9h-0.9zM424.0 201.6h0.9v0.9h-0.9zM409.4 205.2h0.9v0.9h-0.9zM405.4 208.7h0.9v0.9h-0.9zM419.1 214.1h0.9v0.9h-0.9zM406.7 213.0h0.9v0.9h-0.9zM432.9 226.3h0.9v0.9h-0.9zM437.8 212.8h0.9v0.9h-0.9zM418.3 234.2h0.9v0.9h-0.9zM405.6 225.6h0.9v0.9h-0.9zM421.4 208.6h0.9v0.9h-0.9zM412.7 223.7h0.9v0.9h-0.9zM428.7 181.6h0.9v0.9h-0.9zM428.8 229.5h0.9v0.9h-0.9zM421.0 218.6h0.9v0.9h-0.9zM427.4 218.5h0.9v0.9h-0.9zM440.0 195.0h0.9v0.9h-0.9zM448.6 242.4h0.9v0.9h-0.9zM419.7 211.1h0.9v0.9h-0.9zM435.9 212.4h0.9v0.9h-0.9zM423.4 226.7h0.9v0.9h-0.9zM412.7 211.8h0.9v0.9h-0.9zM443.1 204.4h0.9v0.9h-0.9zM431.6 221.4h0.9v0.9h-0.9zM428.3 202.6h0.9v0.9h-0.9zM431.1 222.4h0.9v0.9h-0.9zM424.4 215.5h0.9v0.9h-0.9zM412.8 226.7h0.9v0.9h-0.9zM449.5 200.4h0.9v0.9h-0.9zM438.2 228.0h0.9v0.9h-0.9zM429.9 217.3h0.9v0.9h-0.9zM439.0 236.2h0.9v0.9h-0.9zM443.2 206.7h0.9v0.9h-0.9zM423.9 234.9h0.9v0.9h-0.9zM434.1 221.9h0.9v0.9h-0.9zM422.2 222.9h0.9v0.9h-0.9zM434.8 205.8h0.9v0.9h-0.9zM423.2 220.3h0.9v0.9h-0.9zM458.1 221.5h0.9v0.9h-0.9zM421.8 204.7h0.9v0.9h-0.9zM433.2 201.0h0.9v0.9h-0.9zM432.5 205.3h0.9v0.9h-0.9zM422.1 230.4h0.9v0.9h-0.9zM438.6 215.8h0.9v0.9h-0.9zM425.4 224.5h0.9v0.9h-0.9zM421.1 217.2h0.9v0.9h-0.9zM426.5 215.3h0.9v0.9h-0.9zM416.7 216.5h0.9v0.9h-0.9zM442.0 209.4h0.9v0.9h-0.9zM434.6 227.7h0.9v0.9h-0.9zM439.2 215.9h0.9v0.9h-0.9zM408.9 216.5h0.9v0.9h-0.9zM430.0 198.4h0.9v0.9h-0.9zM416.5 217.5h0.9v0.9h-0.9zM427.6 206.4h0.9v0.9h-0.9zM443.0 208.4h0.9v0.9h-0.9zM429.8 225.7h0.9v0.9h-0.9zM424.2 201.7h0.9v0.9h-0.9zM441.0 211.7h0.9v0.9h-0.9zM439.6 221.1h0.9v0.9h-0.9zM450.5 227.0h0.9v0.9h-0.9zM402.3 208.2h0.9v0.9h-0.9zM430.7 217.6h0.9v0.9h-0.9zM421.0 217.2h0.9v0.9h-0.9zM415.1 201.3h0.9v0.9h-0.9zM428.0 189.9h0.9v0.9h-0.9zM411.3 192.3h0.9v0.9h-0.9zM397.4 220.7h0.9v0.9h-0.9zM414.7 215.1h0.9v0.9h-0.9zM423.1 198.9h0.9v0.9h-0.9zM450.7 206.8h0.9v0.9h-0.9zM417.1 209.5h0.9v0.9h-0.9zM411.3 210.0h0.9v0.9h-0.9zM400.8 213.7h0.9v0.9h-0.9zM421.9 238.8h0.9v0.9h-0.9zM423.3 205.2h0.9v0.9h-0.9zM428.4 215.6h0.9v0.9h-0.9zM407.7 205.3h0.9v0.9h-0.9zM416.6 206.9h0.9v0.9h-0.9zM428.6 211.4h0.9v0.9h-0.9zM406.1 207.8h0.9v0.9h-0.9zM441.5 216.4h0.9v0.9h-0.9zM433.0 204.0h0.9v0.9h-0.9zM431.0 235.5h0.9v0.9h-0.9zM431.0 200.8h0.9v0.9h-0.9zM413.0 218.0h0.9v0.9h-0.9zM440.4 238.4h0.9v0.9h-0.9zM412.8 206.0h0.9v0.9h-0.9zM451.3 228.9h0.9v0.9h-0.9zM429.4 229.9h0.9v0.9h-0.9zM402.5 217.8h0.9v0.9h-0.9zM437.8 193.2h0.9v0.9h-0.9zM452.1 230.0h0.9v0.9h-0.9zM423.2 215.0h0.9v0.9h-0.9zM440.3 207.8h0.9v0.9h-0.9zM423.7 228.3h0.9v0.9h-0.9zM418.3 205.8h0.9v0.9h-0.9zM442.5 207.8h0.9v0.9h-0.9zM420.7 220.0h0.9v0.9h-0.9zM431.4 201.9h0.9v0.9h-0.9zM411.7 209.5h0.9v0.9h-0.9zM414.7 203.7h0.9v0.9h-0.9zM441.0 206.0h0.9v0.9h-0.9zM421.5 216.1h0.9v0.9h-0.9zM421.3 212.1h0.9v0.9h-0.9zM410.1 216.1h0.9v0.9h-0.9zM429.2 228.4h0.9v0.9h-0.9zM436.6 212.7h0.9v0.9h-0.9zM420.5 193.1h0.9v0.9h-0.9zM424.1 210.8h0.9v0.9h-0.9zM410.6 214.9h0.9v0.9h-0.9zM444.7 225.4h0.9v0.9h-0.9zM418.5 225.6h0.9v0.9h-0.9zM424.5 224.7h0.9v0.9h-0.9zM448.4 211.4h0.9v0.9h-0.9zM423.6 221.2h0.9v0.9h-0.9zM406.3 197.8h0.9v0.9h-0.9zM414.5 228.5h0.9v0.9h-0.9zM421.8 218.9h0.9v0.9h-0.9zM449.7 219.7h0.9v0.9h-0.9zM429.4 209.7h0.9v0.9h-0.9zM423.6 214.6h0.9v0.9h-0.9zM437.3 206.5h0.9v0.9h-0.9zM443.5 220.4h0.9v0.9h-0.9zM416.7 199.1h0.9v0.9h-0.9zM445.3 224.9h0.9v0.9h-0.9zM437.8 220.1h0.9v0.9h-0.9zM432.4 236.7h0.9v0.9h-0.9zM429.1 212.9h0.9v0.9h-0.9zM444.8 216.2h0.9v0.9h-0.9zM423.0 214.4h0.9v0.9h-0.9zM456.8 212.8h0.9v0.9h-0.9zM427.6 201.6h0.9v0.9h-0.9zM413.3 201.6h0.9v0.9h-0.9zM434.4 207.6h0.9v0.9h-0.9zM430.5 210.7h0.9v0.9h-0.9zM437.5 200.7h0.9v0.9h-0.9zM423.7 201.0h0.9v0.9h-0.9zM443.7 210.8h0.9v0.9h-0.9zM419.4 222.3h0.9v0.9h-0.9zM428.4 211.9h0.9v0.9h-0.9zM410.3 221.6h0.9v0.9h-0.9zM416.2 224.9h0.9v0.9h-0.9zM429.3 222.6h0.9v0.9h-0.9zM418.1 209.3h0.9v0.9h-0.9zM420.8 209.5h0.9v0.9h-0.9zM424.0 193.0h0.9v0.9h-0.9zM430.0 206.3h0.9v0.9h-0.9zM436.7 219.3h0.9v0.9h-0.9zM436.7 201.8h0.9v0.9h-0.9zM440.1 229.2h0.9v0.9h-0.9zM429.4 230.1h0.9v0.9h-0.9zM419.5 209.9h0.9v0.9h-0.9zM405.9 224.4h0.9v0.9h-0.9zM422.1 198.1h0.9v0.9h-0.9zM416.2 202.2h0.9v0.9h-0.9zM402.9 209.8h0.9v0.9h-0.9zM448.3 214.1h0.9v0.9h-0.9zM402.6 211.9h0.9v0.9h-0.9zM431.4 204.3h0.9v0.9h-0.9zM434.0 236.1h0.9v0.9h-0.9zM423.6 217.3h0.9v0.9h-0.9zM460.7 217.2h0.9v0.9h-0.9zM427.0 221.6h0.9v0.9h-0.9zM416.6 216.0h0.9v0.9h-0.9zM449.8 211.4h0.9v0.9h-0.9zM416.2 207.7h0.9v0.9h-0.9zM407.8 195.6h0.9v0.9h-0.9zM413.5 230.8h0.9v0.9h-0.9zM418.3 203.7h0.9v0.9h-0.9zM427.3 195.3h0.9v0.9h-0.9zM431.1 204.9h0.9v0.9h-0.9zM406.7 196.0h0.9v0.9h-0.9zM431.3 236.4h0.9v0.9h-0.9zM456.1 218.1h0.9v0.9h-0.9zM417.3 229.8h0.9v0.9h-0.9zM425.0 230.3h0.9v0.9h-0.9zM435.9 220.4h0.9v0.9h-0.9zM442.6 220.4h0.9v0.9h-0.9zM417.9 205.9h0.9v0.9h-0.9zM414.0 213.1h0.9v0.9h-0.9zM413.4 207.2h0.9v0.9h-0.9zM441.2 214.5h0.9v0.9h-0.9zM438.6 206.1h0.9v0.9h-0.9zM398.2 228.2h0.9v0.9h-0.9zM398.5 222.6h0.9v0.9h-0.9zM410.4 212.8h0.9v0.9h-0.9zM406.9 195.2h0.9v0.9h-0.9zM432.1 221.7h0.9v0.9h-0.9zM429.6 223.9h0.9v0.9h-0.9zM452.5 213.2h0.9v0.9h-0.9zM437.2 199.8h0.9v0.9h-0.9zM428.3 218.9h0.9v0.9h-0.9zM442.3 225.8h0.9v0.9h-0.9zM414.9 192.5h0.9v0.9h-0.9zM408.3 220.4h0.9v0.9h-0.9zM427.1 193.6h0.9v0.9h-0.9zM439.1 214.9h0.9v0.9h-0.9zM405.3 233.6h0.9v0.9h-0.9zM438.5 215.0h0.9v0.9h-0.9zM438.1 219.4h0.9v0.9h-0.9zM420.1 210.4h0.9v0.9h-0.9zM428.9 213.9h0.9v0.9h-0.9zM423.1 240.4h0.9v0.9h-0.9zM427.8 229.0h0.9v0.9h-0.9zM437.4 210.5h0.9v0.9h-0.9zM416.1 209.7h0.9v0.9h-0.9zM440.4 214.2h0.9v0.9h-0.9zM438.2 238.6h0.9v0.9h-0.9zM438.7 216.3h0.9v0.9h-0.9zM400.7 226.5h0.9v0.9h-0.9zM402.1 209.9h0.9v0.9h-0.9zM435.9 199.7h0.9v0.9h-0.9zM419.0 228.8h0.9v0.9h-0.9zM417.6 213.1h0.9v0.9h-0.9zM416.6 205.2h0.9v0.9h-0.9zM409.0 206.2h0.9v0.9h-0.9zM422.9 206.5h0.9v0.9h-0.9zM417.2 207.2h0.9v0.9h-0.9zM418.1 196.7h0.9v0.9h-0.9zM433.0 227.5h0.9v0.9h-0.9zM411.1 218.3h0.9v0.9h-0.9zM441.6 224.9h0.9v0.9h-0.9zM397.3 210.1h0.9v0.9h-0.9zM459.8 217.9h0.9v0.9h-0.9zM408.7 215.9h0.9v0.9h-0.9zM434.4 227.2h0.9v0.9h-0.9zM438.8 223.1h0.9v0.9h-0.9zM426.7 218.0h0.9v0.9h-0.9zM436.5 206.7h0.9v0.9h-0.9zM425.3 200.5h0.9v0.9h-0.9zM403.4 205.0h0.9v0.9h-0.9zM431.3 206.9h0.9v0.9h-0.9zM441.8 208.0h0.9v0.9h-0.9zM419.4 200.2h0.9v0.9h-0.9zM404.3 232.6h0.9v0.9h-0.9zM418.7 217.0h0.9v0.9h-0.9zM431.0 191.4h0.9v0.9h-0.9zM430.7 201.8h0.9v0.9h-0.9zM441.3 199.0h0.9v0.9h-0.9zM434.1 216.7h0.9v0.9h-0.9zM433.4 225.9h0.9v0.9h-0.9zM400.2 203.0h0.9v0.9h-0.9zM456.2 220.9h0.9v0.9h-0.9zM427.4 210.9h0.9v0.9h-0.9zM438.1 226.9h0.9v0.9h-0.9zM422.1 229.3h0.9v0.9h-0.9zM424.7 217.5h0.9v0.9h-0.9zM427.5 222.0h0.9v0.9h-0.9zM447.6 214.0h0.9v0.9h-0.9zM446.8 209.8h0.9v0.9h-0.9zM434.9 201.0h0.9v0.9h-0.9zM453.0 217.7h0.9v0.9h-0.9zM421.5 213.2h0.9v0.9h-0.9zM433.6 209.7h0.9v0.9h-0.9zM420.7 213.1h0.9v0.9h-0.9zM443.9 211.9h0.9v0.9h-0.9zM427.2 202.4h0.9v0.9h-0.9zM439.7 208.1h0.9v0.9h-0.9zM449.6 226.8h0.9v0.9h-0.9zM399.3 211.4h0.9v0.9h-0.9zM455.6 229.6h0.9v0.9h-0.9zM431.0 201.1h0.9v0.9h-0.9zM422.6 198.9h0.9v0.9h-0.9zM401.4 215.4h0.9v0.9h-0.9zM422.8 222.7h0.9v0.9h-0.9zM428.0 221.0h0.9v0.9h-0.9zM424.5 224.4h0.9v0.9h-0.9zM451.0 226.0h0.9v0.9h-0.9zM422.5 212.8h0.9v0.9h-0.9zM441.1 213.4h0.9v0.9h-0.9zM442.3 195.6h0.9v0.9h-0.9zM454.2 214.3h0.9v0.9h-0.9zM423.5 217.1h0.9v0.9h-0.9zM436.9 229.7h0.9v0.9h-0.9zM406.6 199.8h0.9v0.9h-0.9zM412.1 204.6h0.9v0.9h-0.9zM423.2 202.8h0.9v0.9h-0.9zM426.5 224.0h0.9v0.9h-0.9zM410.7 185.8h0.9v0.9h-0.9zM421.4 201.9h0.9v0.9h-0.9zM436.2 237.0h0.9v0.9h-0.9zM420.8 221.3h0.9v0.9h-0.9zM424.8 199.2h0.9v0.9h-0.9zM415.0 213.3h0.9v0.9h-0.9zM445.3 223.4h0.9v0.9h-0.9zM450.6 220.1h0.9v0.9h-0.9zM429.6 211.5h0.9v0.9h-0.9zM425.4 205.2h0.9v0.9h-0.9zM449.1 223.3h0.9v0.9h-0.9zM433.3 213.9h0.9v0.9h-0.9zM418.0 223.0h0.9v0.9h-0.9zM408.9 218.4h0.9v0.9h-0.9zM419.1 208.8h0.9v0.9h-0.9zM456.2 230.0h0.9v0.9h-0.9zM419.0 208.5h0.9v0.9h-0.9zM465.4 218.8h0.9v0.9h-0.9zM426.9 207.0h0.9v0.9h-0.9zM424.0 211.4h0.9v0.9h-0.9zM444.6 211.2h0.9v0.9h-0.9zM423.7 206.7h0.9v0.9h-0.9zM432.0 216.6h0.9v0.9h-0.9zM413.1 228.6h0.9v0.9h-0.9zM410.3 234.7h0.9v0.9h-0.9zM417.1 230.0h0.9v0.9h-0.9zM429.9 212.1h0.9v0.9h-0.9zM418.1 230.2h0.9v0.9h-0.9zM400.8 218.7h0.9v0.9h-0.9zM433.3 234.0h0.9v0.9h-0.9zM424.7 200.0h0.9v0.9h-0.9zM423.2 230.5h0.9v0.9h-0.9zM418.8 207.4h0.9v0.9h-0.9zM448.1 208.8h0.9v0.9h-0.9zM420.5 224.1h0.9v0.9h-0.9zM434.0 210.9h0.9v0.9h-0.9zM445.5 193.1h0.9v0.9h-0.9zM442.0 203.3h0.9v0.9h-0.9zM429.7 211.3h0.9v0.9h-0.9zM427.1 214.3h0.9v0.9h-0.9zM431.1 189.2h0.9v0.9h-0.9zM439.1 200.7h0.9v0.9h-0.9zM434.7 205.9h0.9v0.9h-0.9zM421.0 211.7h0.9v0.9h-0.9zM433.0 216.4h0.9v0.9h-0.9zM432.0 204.9h0.9v0.9h-0.9zM436.2 197.2h0.9v0.9h-0.9zM429.7 217.4h0.9v0.9h-0.9zM445.3 210.3h0.9v0.9h-0.9zM429.7 223.8h0.9v0.9h-0.9zM438.8 208.2h0.9v0.9h-0.9zM427.6 221.2h0.9v0.9h-0.9zM419.3 204.1h0.9v0.9h-0.9zM414.4 217.0h0.9v0.9h-0.9zM424.9 215.0h0.9v0.9h-0.9zM434.1 219.0h0.9v0.9h-0.9zM443.9 203.7h0.9v0.9h-0.9zM425.8 212.7h0.9v0.9h-0.9zM420.0 204.6h0.9v0.9h-0.9zM420.2 212.2h0.9v0.9h-0.9zM444.2 220.9h0.9v0.9h-0.9zM420.3 214.4h0.9v0.9h-0.9zM436.9 221.9h0.9v0.9h-0.9zM409.4 215.3h0.9v0.9h-0.9zM428.5 226.6h0.9v0.9h-0.9zM426.4 219.1h0.9v0.9h-0.9zM425.2 225.6h0.9v0.9h-0.9zM411.6 217.9h0.9v0.9h-0.9zM440.1 240.6h0.9v0.9h-0.9zM449.4 229.3h0.9v0.9h-0.9zM409.3 195.2h0.9v0.9h-0.9zM428.6 217.3h0.9v0.9h-0.9zM435.6 214.9h0.9v0.9h-0.9zM457.1 189.6h0.9v0.9h-0.9zM421.4 204.5h0.9v0.9h-0.9zM414.3 208.9h0.9v0.9h-0.9zM426.9 205.9h0.9v0.9h-0.9zM453.8 215.5h0.9v0.9h-0.9zM427.9 194.2h0.9v0.9h-0.9zM430.5 222.3h0.9v0.9h-0.9zM450.7 222.6h0.9v0.9h-0.9zM398.5 217.9h0.9v0.9h-0.9zM398.1 210.4h0.9v0.9h-0.9zM439.1 214.1h0.9v0.9h-0.9zM437.3 208.9h0.9v0.9h-0.9zM408.5 226.7h0.9v0.9h-0.9zM433.9 219.6h0.9v0.9h-0.9zM427.5 236.1h0.9v0.9h-0.9zM429.9 210.0h0.9v0.9h-0.9zM416.3 230.1h0.9v0.9h-0.9zM421.0 207.7h0.9v0.9h-0.9zM415.3 212.2h0.9v0.9h-0.9zM427.7 202.5h0.9v0.9h-0.9zM423.9 219.8h0.9v0.9h-0.9zM449.4 213.4h0.9v0.9h-0.9zM435.4 220.9h0.9v0.9h-0.9zM406.0 230.5h0.9v0.9h-0.9zM432.5 213.4h0.9v0.9h-0.9zM446.1 218.3h0.9v0.9h-0.9zM430.8 224.0h0.9v0.9h-0.9zM441.5 213.4h0.9v0.9h-0.9zM426.5 208.0h0.9v0.9h-0.9zM436.4 218.0h0.9v0.9h-0.9zM414.5 219.6h0.9v0.9h-0.9zM437.5 222.7h0.9v0.9h-0.9zM408.6 223.3h0.9v0.9h-0.9zM444.2 206.7h0.9v0.9h-0.9zM406.8 219.0h0.9v0.9h-0.9zM398.8 227.7h0.9v0.9h-0.9zM434.1 208.9h0.9v0.9h-0.9zM424.7 218.1h0.9v0.9h-0.9zM428.5 207.2h0.9v0.9h-0.9zM432.7 215.9h0.9v0.9h-0.9zM426.6 233.2h0.9v0.9h-0.9zM415.2 216.0h0.9v0.9h-0.9zM429.8 203.4h0.9v0.9h-0.9zM431.6 217.9h0.9v0.9h-0.9zM433.6 216.5h0.9v0.9h-0.9zM453.5 226.4h0.9v0.9h-0.9zM417.2 198.9h0.9v0.9h-0.9zM427.9 204.0h0.9v0.9h-0.9zM434.5 213.2h0.9v0.9h-0.9zM421.0 196.9h0.9v0.9h-0.9zM411.0 226.6h0.9v0.9h-0.9zM419.4 191.7h0.9v0.9h-0.9zM441.2 204.9h0.9v0.9h-0.9zM414.2 198.9h0.9v0.9h-0.9zM420.8 191.4h0.9v0.9h-0.9zM432.5 178.5h0.9v0.9h-0.9zM430.9 200.5h0.9v0.9h-0.9zM433.5 190.1h0.9v0.9h-0.9zM430.9 204.2h0.9v0.9h-0.9zM409.8 195.2h0.9v0.9h-0.9zM428.5 202.2h0.9v0.9h-0.9zM411.3 200.5h0.9v0.9h-0.9zM422.0 201.0h0.9v0.9h-0.9zM422.9 187.1h0.9v0.9h-0.9zM421.7 202.5h0.9v0.9h-0.9zM430.0 194.2h0.9v0.9h-0.9zM419.6 179.7h0.9v0.9h-0.9zM440.0 188.2h0.9v0.9h-0.9zM430.9 188.8h0.9v0.9h-0.9zM435.5 196.9h0.9v0.9h-0.9zM432.1 199.0h0.9v0.9h-0.9zM433.2 181.1h0.9v0.9h-0.9zM425.7 199.4h0.9v0.9h-0.9zM441.8 191.6h0.9v0.9h-0.9zM417.6 181.7h0.9v0.9h-0.9zM429.8 200.5h0.9v0.9h-0.9zM426.1 184.6h0.9v0.9h-0.9zM424.3 180.3h0.9v0.9h-0.9zM428.6 199.8h0.9v0.9h-0.9zM420.1 201.2h0.9v0.9h-0.9zM433.0 185.6h0.9v0.9h-0.9zM432.4 202.8h0.9v0.9h-0.9zM426.8 202.2h0.9v0.9h-0.9zM432.0 187.1h0.9v0.9h-0.9zM417.7 212.2h0.9v0.9h-0.9zM411.6 191.7h0.9v0.9h-0.9zM421.4 194.5h0.9v0.9h-0.9zM424.2 168.4h0.9v0.9h-0.9zM446.1 198.6h0.9v0.9h-0.9zM424.2 186.1h0.9v0.9h-0.9zM434.3 196.7h0.9v0.9h-0.9zM432.8 175.2h0.9v0.9h-0.9zM443.0 203.8h0.9v0.9h-0.9zM427.0 206.8h0.9v0.9h-0.9zM431.3 211.1h0.9v0.9h-0.9zM424.5 162.8h0.9v0.9h-0.9zM419.1 198.1h0.9v0.9h-0.9zM418.0 195.7h0.9v0.9h-0.9zM419.8 162.1h0.9v0.9h-0.9zM437.5 185.0h0.9v0.9h-0.9zM428.4 191.5h0.9v0.9h-0.9zM424.8 206.5h0.9v0.9h-0.9zM426.2 184.0h0.9v0.9h-0.9zM421.6 194.4h0.9v0.9h-0.9zM425.8 191.8h0.9v0.9h-0.9zM425.7 196.0h0.9v0.9h-0.9zM431.3 188.4h0.9v0.9h-0.9zM433.4 201.3h0.9v0.9h-0.9zM413.0 202.1h0.9v0.9h-0.9zM427.9 178.8h0.9v0.9h-0.9zM437.1 203.6h0.9v0.9h-0.9zM417.9 184.9h0.9v0.9h-0.9zM424.1 189.6h0.9v0.9h-0.9zM427.4 203.6h0.9v0.9h-0.9zM434.9 193.4h0.9v0.9h-0.9zM430.9 198.1h0.9v0.9h-0.9zM424.3 200.3h0.9v0.9h-0.9zM430.1 198.4h0.9v0.9h-0.9zM434.4 187.0h0.9v0.9h-0.9zM429.2 182.9h0.9v0.9h-0.9zM441.0 199.2h0.9v0.9h-0.9zM429.5 200.0h0.9v0.9h-0.9zM417.7 196.0h0.9v0.9h-0.9zM419.8 190.6h0.9v0.9h-0.9zM425.0 201.0h0.9v0.9h-0.9zM424.4 192.2h0.9v0.9h-0.9zM431.1 178.8h0.9v0.9h-0.9zM428.9 195.3h0.9v0.9h-0.9zM439.8 197.5h0.9v0.9h-0.9zM432.6 200.2h0.9v0.9h-0.9zM438.0 183.6h0.9v0.9h-0.9zM420.0 185.0h0.9v0.9h-0.9zM422.7 195.8h0.9v0.9h-0.9zM431.6 188.0h0.9v0.9h-0.9zM426.8 191.8h0.9v0.9h-0.9zM431.1 201.9h0.9v0.9h-0.9zM428.1 196.5h0.9v0.9h-0.9zM421.1 210.7h0.9v0.9h-0.9zM439.7 195.5h0.9v0.9h-0.9zM435.3 209.6h0.9v0.9h-0.9zM413.7 203.2h0.9v0.9h-0.9zM421.2 218.0h0.9v0.9h-0.9zM426.3 192.8h0.9v0.9h-0.9zM481.9 213.5h0.9v0.9h-0.9zM486.8 215.1h0.9v0.9h-0.9zM480.4 207.5h0.9v0.9h-0.9zM480.6 207.9h0.9v0.9h-0.9zM483.1 217.4h0.9v0.9h-0.9zM483.6 210.1h0.9v0.9h-0.9zM477.4 200.6h0.9v0.9h-0.9zM483.1 204.0h0.9v0.9h-0.9zM481.2 218.0h0.9v0.9h-0.9zM482.2 206.8h0.9v0.9h-0.9zM482.9 219.8h0.9v0.9h-0.9zM481.6 220.2h0.9v0.9h-0.9zM486.0 210.8h0.9v0.9h-0.9zM484.0 215.3h0.9v0.9h-0.9zM481.6 207.1h0.9v0.9h-0.9zM482.6 209.6h0.9v0.9h-0.9zM485.9 207.8h0.9v0.9h-0.9zM485.0 215.5h0.9v0.9h-0.9zM486.7 204.3h0.9v0.9h-0.9zM481.8 211.2h0.9v0.9h-0.9zM482.8 212.3h0.9v0.9h-0.9zM489.3 215.1h0.9v0.9h-0.9zM482.2 199.3h0.9v0.9h-0.9zM488.2 201.3h0.9v0.9h-0.9zM485.3 206.7h0.9v0.9h-0.9zM480.8 210.6h0.9v0.9h-0.9zM477.5 212.8h0.9v0.9h-0.9zM484.6 213.1h0.9v0.9h-0.9zM479.9 224.0h0.9v0.9h-0.9zM479.9 215.9h0.9v0.9h-0.9zM476.3 215.5h0.9v0.9h-0.9zM486.5 209.0h0.9v0.9h-0.9zM482.7 216.6h0.9v0.9h-0.9zM482.4 216.1h0.9v0.9h-0.9zM483.7 215.9h0.9v0.9h-0.9zM483.2 211.3h0.9v0.9h-0.9zM482.7 215.7h0.9v0.9h-0.9zM484.2 221.0h0.9v0.9h-0.9zM481.4 207.2h0.9v0.9h-0.9zM473.4 199.1h0.9v0.9h-0.9zM484.9 216.8h0.9v0.9h-0.9zM483.8 216.3h0.9v0.9h-0.9zM482.4 210.5h0.9v0.9h-0.9zM487.9 209.3h0.9v0.9h-0.9zM477.5 228.4h0.9v0.9h-0.9zM472.3 209.2h0.9v0.9h-0.9zM487.5 204.7h0.9v0.9h-0.9zM483.8 209.1h0.9v0.9h-0.9zM476.7 214.9h0.9v0.9h-0.9zM480.9 208.3h0.9v0.9h-0.9zM484.5 209.6h0.9v0.9h-0.9zM478.1 213.7h0.9v0.9h-0.9zM484.3 209.4h0.9v0.9h-0.9zM489.7 212.7h0.9v0.9h-0.9zM487.2 211.7h0.9v0.9h-0.9zM482.3 205.6h0.9v0.9h-0.9zM483.5 212.3h0.9v0.9h-0.9zM479.1 205.0h0.9v0.9h-0.9zM482.8 217.5h0.9v0.9h-0.9zM481.2 206.3h0.9v0.9h-0.9zM478.9 210.5h0.9v0.9h-0.9zM477.7 201.1h0.9v0.9h-0.9zM489.1 209.2h0.9v0.9h-0.9zM482.7 204.5h0.9v0.9h-0.9zM478.8 220.8h0.9v0.9h-0.9zM480.9 211.2h0.9v0.9h-0.9zM487.5 215.0h0.9v0.9h-0.9zM488.0 201.5h0.9v0.9h-0.9zM480.2 204.5h0.9v0.9h-0.9zM483.0 210.9h0.9v0.9h-0.9zM485.5 203.8h0.9v0.9h-0.9zM481.2 218.7h0.9v0.9h-0.9zM478.3 209.5h0.9v0.9h-0.9zM479.0 212.8h0.9v0.9h-0.9zM482.4 213.7h0.9v0.9h-0.9zM479.7 211.0h0.9v0.9h-0.9zM477.9 216.5h0.9v0.9h-0.9zM481.5 207.9h0.9v0.9h-0.9zM485.6 214.0h0.9v0.9h-0.9zM484.7 219.0h0.9v0.9h-0.9zM481.6 213.1h0.9v0.9h-0.9zM489.0 212.6h0.9v0.9h-0.9zM479.6 209.9h0.9v0.9h-0.9zM482.1 212.2h0.9v0.9h-0.9zM477.6 215.9h0.9v0.9h-0.9zM485.1 210.4h0.9v0.9h-0.9zM481.9 201.9h0.9v0.9h-0.9zM476.5 212.8h0.9v0.9h-0.9zM479.5 211.0h0.9v0.9h-0.9zM488.6 214.6h0.9v0.9h-0.9zM484.9 212.1h0.9v0.9h-0.9zM482.7 221.2h0.9v0.9h-0.9zM485.4 204.7h0.9v0.9h-0.9zM476.8 206.1h0.9v0.9h-0.9zM479.5 215.7h0.9v0.9h-0.9zM477.7 205.8h0.9v0.9h-0.9zM479.5 213.8h0.9v0.9h-0.9zM481.0 211.7h0.9v0.9h-0.9zM484.2 200.2h0.9v0.9h-0.9zM485.8 215.8h0.9v0.9h-0.9zM485.7 219.9h0.9v0.9h-0.9zM491.7 213.1h0.9v0.9h-0.9zM480.6 203.6h0.9v0.9h-0.9zM482.3 216.5h0.9v0.9h-0.9zM484.1 205.7h0.9v0.9h-0.9zM479.5 211.1h0.9v0.9h-0.9zM481.3 214.3h0.9v0.9h-0.9zM483.8 207.2h0.9v0.9h-0.9zM479.3 201.8h0.9v0.9h-0.9zM484.0 211.0h0.9v0.9h-0.9zM486.6 211.6h0.9v0.9h-0.9zM478.5 206.8h0.9v0.9h-0.9zM474.4 207.2h0.9v0.9h-0.9zM482.6 216.2h0.9v0.9h-0.9zM478.7 211.3h0.9v0.9h-0.9zM482.9 209.1h0.9v0.9h-0.9zM480.8 208.3h0.9v0.9h-0.9zM483.4 212.8h0.9v0.9h-0.9zM486.3 212.4h0.9v0.9h-0.9zM485.2 210.8h0.9v0.9h-0.9zM481.1 203.6h0.9v0.9h-0.9zM478.3 209.6h0.9v0.9h-0.9zM473.7 208.1h0.9v0.9h-0.9zM474.8 212.2h0.9v0.9h-0.9zM479.5 218.6h0.9v0.9h-0.9zM482.6 217.4h0.9v0.9h-0.9zM479.9 215.6h0.9v0.9h-0.9zM480.2 212.5h0.9v0.9h-0.9zM476.7 209.9h0.9v0.9h-0.9zM476.5 213.8h0.9v0.9h-0.9zM476.3 209.0h0.9v0.9h-0.9zM484.4 209.8h0.9v0.9h-0.9zM475.4 206.9h0.9v0.9h-0.9zM484.6 211.5h0.9v0.9h-0.9zM479.1 211.3h0.9v0.9h-0.9zM484.1 222.6h0.9v0.9h-0.9zM483.0 215.0h0.9v0.9h-0.9zM484.8 209.6h0.9v0.9h-0.9zM486.3 216.3h0.9v0.9h-0.9zM479.4 209.0h0.9v0.9h-0.9zM478.8 217.7h0.9v0.9h-0.9zM480.6 216.3h0.9v0.9h-0.9zM479.4 228.7h0.9v0.9h-0.9zM484.4 205.5h0.9v0.9h-0.9zM481.7 211.4h0.9v0.9h-0.9zM482.1 211.1h0.9v0.9h-0.9zM483.5 213.5h0.9v0.9h-0.9zM480.4 215.9h0.9v0.9h-0.9zM485.9 206.1h0.9v0.9h-0.9zM475.7 207.6h0.9v0.9h-0.9zM414.1 200.8h0.9v0.9h-0.9zM439.1 188.2h0.9v0.9h-0.9zM410.1 176.3h0.9v0.9h-0.9zM418.9 210.9h0.9v0.9h-0.9zM490.2 222.1h0.9v0.9h-0.9zM506.9 180.8h0.9v0.9h-0.9zM473.7 239.6h0.9v0.9h-0.9zM456.7 194.9h0.9v0.9h-0.9zM475.7 144.7h0.9v0.9h-0.9zM499.2 184.3h0.9v0.9h-0.9zM487.7 155.2h0.9v0.9h-0.9zM455.8 199.9h0.9v0.9h-0.9zM489.9 202.8h0.9v0.9h-0.9zM471.6 236.4h0.9v0.9h-0.9zM428.9 187.6h0.9v0.9h-0.9zM503.0 188.4h0.9v0.9h-0.9zM467.9 193.4h0.9v0.9h-0.9zM514.3 211.2h0.9v0.9h-0.9zM489.9 144.9h0.9v0.9h-0.9zM444.0 218.2h0.9v0.9h-0.9zM416.4 221.5h0.9v0.9h-0.9zM507.9 219.6h0.9v0.9h-0.9zM483.9 169.8h0.9v0.9h-0.9zM410.7 237.8h0.9v0.9h-0.9zM447.2 234.0h0.9v0.9h-0.9zM477.1 237.1h0.9v0.9h-0.9zM399.1 223.6h0.9v0.9h-0.9zM485.8 199.3h0.9v0.9h-0.9zM415.8 162.5h0.9v0.9h-0.9zM508.9 181.6h0.9v0.9h-0.9zM487.4 241.6h0.9v0.9h-0.9zM423.7 148.4h0.9v0.9h-0.9zM400.3 185.8h0.9v0.9h-0.9zM496.2 223.6h0.9v0.9h-0.9zM425.9 156.8h0.9v0.9h-0.9zM415.0 155.2h0.9v0.9h-0.9zM400.2 193.3h0.9v0.9h-0.9zM437.5 177.7h0.9v0.9h-0.9zM429.5 222.7h0.9v0.9h-0.9zM431.2 157.7h0.9v0.9h-0.9zM430.3 167.1h0.9v0.9h-0.9zM438.1 180.5h0.9v0.9h-0.9zM423.6 206.0h0.9v0.9h-0.9zM414.8 234.8h0.9v0.9h-0.9zM503.3 192.2h0.9v0.9h-0.9zM484.7 163.5h0.9v0.9h-0.9zM431.4 234.7h0.9v0.9h-0.9zM453.6 217.5h0.9v0.9h-0.9zM494.7 213.5h0.9v0.9h-0.9zM451.0 180.5h0.9v0.9h-0.9zM403.3 230.2h0.9v0.9h-0.9zM480.2 148.0h0.9v0.9h-0.9zM497.3 170.8h0.9v0.9h-0.9zM499.4 156.9h0.9v0.9h-0.9zM398.7 229.6h0.9v0.9h-0.9zM504.1 192.2h0.9v0.9h-0.9zM507.0 150.8h0.9v0.9h-0.9zM414.2 241.1h0.9v0.9h-0.9zM510.2 212.8h0.9v0.9h-0.9zM436.7 214.8h0.9v0.9h-0.9zM499.5 165.0h0.9v0.9h-0.9zM411.6 192.0h0.9v0.9h-0.9zM477.9 173.5h0.9v0.9h-0.9zM495.4 234.6h0.9v0.9h-0.9zM422.3 181.1h0.9v0.9h-0.9zM497.5 193.1h0.9v0.9h-0.9zM486.7 173.7h0.9v0.9h-0.9zM495.4 227.2h0.9v0.9h-0.9zM490.2 231.7h0.9v0.9h-0.9zM443.5 194.5h0.9v0.9h-0.9zM494.0 215.7h0.9v0.9h-0.9zM461.2 145.2h0.9v0.9h-0.9zM422.4 188.1h0.9v0.9h-0.9zM487.5 234.3h0.9v0.9h-0.9zM515.9 181.0h0.9v0.9h-0.9zM513.4 180.7h0.9v0.9h-0.9zM418.1 236.8h0.9v0.9h-0.9zM408.8 190.4h0.9v0.9h-0.9zM490.2 205.8h0.9v0.9h-0.9zM499.4 196.0h0.9v0.9h-0.9zM450.1 176.2h0.9v0.9h-0.9zM471.8 199.5h0.9v0.9h-0.9zM457.8 211.3h0.9v0.9h-0.9zM457.5 212.7h0.9v0.9h-0.9zM456.7 221.1h0.9v0.9h-0.9zM420.7 178.5h0.9v0.9h-0.9zM433.1 231.7h0.9v0.9h-0.9zM466.6 238.1h0.9v0.9h-0.9zM463.7 237.5h0.9v0.9h-0.9zM485.8 233.2h0.9v0.9h-0.9zM432.5 218.4h0.9v0.9h-0.9zM471.3 178.0h0.9v0.9h-0.9zM408.6 146.2h0.9v0.9h-0.9zM397.3 198.1h0.9v0.9h-0.9zM464.2 152.7h0.9v0.9h-0.9zM400.7 143.6h0.9v0.9h-0.9zM466.4 218.9h0.9v0.9h-0.9zM505.2 189.7h0.9v0.9h-0.9zM486.2 166.0h0.9v0.9h-0.9zM401.9 200.6h0.9v0.9h-0.9zM435.6 182.7h0.9v0.9h-0.9zM409.9 212.5h0.9v0.9h-0.9zM503.3 217.7h0.9v0.9h-0.9zM412.5 169.5h0.9v0.9h-0.9zM443.3 156.7h0.9v0.9h-0.9zM494.9 163.4h0.9v0.9h-0.9zM405.6 179.7h0.9v0.9h-0.9zM400.5 188.6h0.9v0.9h-0.9zM448.9 173.6h0.9v0.9h-0.9zM463.6 222.4h0.9v0.9h-0.9zM437.5 169.4h0.9v0.9h-0.9zM473.4 184.7h0.9v0.9h-0.9zM427.5 238.5h0.9v0.9h-0.9zM421.5 182.5h0.9v0.9h-0.9zM431.4 224.5h0.9v0.9h-0.9zM476.7 234.8h0.9v0.9h-0.9z" fill="#000" fill-opacity="0.26" filter="url(#bs)"/>
<path d="M409 164 C409 158 416 156.3 426 156.4 C436 156.5 441 158.5 440.8 165 C440.6 171.5 434 175.8 425 175.8 C416 175.8 409 171 409 164 Z" fill="#181818"/>
<ellipse cx="426.2" cy="165.6" rx="12.6" ry="7.3" fill="url(#gT)" transform="rotate(0 426.2 165.6)"/>
<ellipse cx="427.4" cy="214.6" rx="12.9" ry="9" fill="#141414" transform="rotate(-6 427.4 214.6)"/>
<ellipse cx="428" cy="214.4" rx="10.8" ry="7" fill="url(#gN)" transform="rotate(-6 428 214.4)"/>
<ellipse cx="482.1" cy="211.9" rx="2.6" ry="6.8" fill="#222" transform="rotate(0 482.1 211.9)"/>
</g>
<line x1="393.4" y1="141.6" x2="517.5" y2="141.6" stroke="#333" stroke-width="1"/>
<line x1="517.5" y1="141.6" x2="517.5" y2="246.6" stroke="#555" stroke-width="1"/>
<line x1="396" y1="141.1" x2="396" y2="244.9" stroke="#000" stroke-width="1.6"/>
<line x1="395.2" y1="244.1" x2="517.5" y2="244.1" stroke="#000" stroke-width="1.6"/>
<rect x="405.4" y="154" width="45.2" height="25.1" fill="none" stroke="#333" stroke-width="0.8"/>
<rect x="475.7" y="199.8" width="13.9" height="25.5" fill="none" stroke="#333" stroke-width="0.8"/>
<text x="458.8" y="170.4" font-size="10.6" textLength="28.25" lengthAdjust="spacingAndGlyphs" fill="#000" stroke-width="0.18">T cells</text>
<text x="474.99" y="239.4" font-size="10" textLength="28.48" lengthAdjust="spacingAndGlyphs" fill="#000" stroke-width="0.18">Mono</text>
<text x="443.5" y="267.8" font-size="9.6" textLength="25.41" lengthAdjust="spacingAndGlyphs" fill="#000" stroke-width="0.18">CD14</text>
<text transform="translate(368.7 203.4) rotate(-90)" x="-0.52" y="0" font-size="9.8" textLength="20.63" lengthAdjust="spacingAndGlyphs" stroke-width="0.15">CD3</text>
<text x="439.79" y="133.5" font-size="10.2" textLength="29.31" lengthAdjust="spacingAndGlyphs" fill="#000" stroke-width="0.18">PBMC</text>
<line x1="393" y1="152.3" x2="396" y2="152.3" stroke="#000" stroke-width="1.1"/>
<text x="379.05" y="156.1" font-size="7.5" textLength="8.23" lengthAdjust="spacingAndGlyphs" fill="#000" stroke-width="0.12">10</text>
<text x="387.41" y="151.1" font-size="4.8" textLength="2.67" lengthAdjust="spacingAndGlyphs" fill="#000" stroke-width="0.06">5</text>
<line x1="393" y1="177" x2="396" y2="177" stroke="#000" stroke-width="1.1"/>
<text x="379.05" y="182.5" font-size="7.5" textLength="8.23" lengthAdjust="spacingAndGlyphs" fill="#000" stroke-width="0.12">10</text>
<text x="387.5" y="177.5" font-size="4.8" textLength="2.67" lengthAdjust="spacingAndGlyphs" fill="#000" stroke-width="0.06">4</text>
<line x1="393" y1="205.8" x2="396" y2="205.8" stroke="#000" stroke-width="1.1"/>
<text x="379.05" y="211.6" font-size="7.5" textLength="8.23" lengthAdjust="spacingAndGlyphs" fill="#000" stroke-width="0.12">10</text>
<text x="387.41" y="206.6" font-size="4.8" textLength="2.67" lengthAdjust="spacingAndGlyphs" fill="#000" stroke-width="0.06">3</text>
<line x1="393" y1="216.1" x2="396" y2="216.1" stroke="#000" stroke-width="1.1"/>
<text x="376.67" y="222.9" font-size="7.5" textLength="10.59" lengthAdjust="spacingAndGlyphs" fill="#000" stroke-width="0.12">-10</text>
<text x="387.36" y="217.9" font-size="4.8" textLength="2.67" lengthAdjust="spacingAndGlyphs" fill="#000" stroke-width="0.06">2</text>
<line x1="393" y1="226.4" x2="396" y2="226.4" stroke="#000" stroke-width="1.1"/>
<text x="376.67" y="231.8" font-size="7.5" textLength="10.59" lengthAdjust="spacingAndGlyphs" fill="#000" stroke-width="0.12">-10</text>
<text x="387.41" y="226.8" font-size="4.8" textLength="2.67" lengthAdjust="spacingAndGlyphs" fill="#000" stroke-width="0.06">3</text>
<line x1="412.5" y1="244.1" x2="412.5" y2="246.1" stroke="#000" stroke-width="0.8"/>
<line x1="413.6" y1="244.1" x2="413.6" y2="246.1" stroke="#000" stroke-width="0.8"/>
<line x1="414.7" y1="244.1" x2="414.7" y2="246.1" stroke="#000" stroke-width="0.8"/>
<line x1="415.8" y1="244.1" x2="415.8" y2="246.1" stroke="#000" stroke-width="0.8"/>
<line x1="416.9" y1="244.1" x2="416.9" y2="246.1" stroke="#000" stroke-width="0.8"/>
<line x1="418" y1="244.1" x2="418" y2="246.1" stroke="#000" stroke-width="0.8"/>
<line x1="419.1" y1="244.1" x2="419.1" y2="246.1" stroke="#000" stroke-width="0.8"/>
<line x1="420.2" y1="244.1" x2="420.2" y2="246.1" stroke="#000" stroke-width="0.8"/>
<line x1="421.3" y1="244.1" x2="421.3" y2="246.1" stroke="#000" stroke-width="0.8"/>
<line x1="428.4" y1="244.1" x2="428.4" y2="245.7" stroke="#000" stroke-width="0.8"/>
<line x1="433.49" y1="244.1" x2="433.49" y2="245.7" stroke="#000" stroke-width="0.8"/>
<line x1="437.1" y1="244.1" x2="437.1" y2="245.7" stroke="#000" stroke-width="0.8"/>
<line x1="439.9" y1="244.1" x2="439.9" y2="245.7" stroke="#000" stroke-width="0.8"/>
<line x1="442.19" y1="244.1" x2="442.19" y2="245.7" stroke="#000" stroke-width="0.8"/>
<line x1="444.12" y1="244.1" x2="444.12" y2="245.7" stroke="#000" stroke-width="0.8"/>
<line x1="445.8" y1="244.1" x2="445.8" y2="245.7" stroke="#000" stroke-width="0.8"/>
<line x1="447.28" y1="244.1" x2="447.28" y2="245.7" stroke="#000" stroke-width="0.8"/>
<line x1="457.3" y1="244.1" x2="457.3" y2="245.7" stroke="#000" stroke-width="0.8"/>
<line x1="462.39" y1="244.1" x2="462.39" y2="245.7" stroke="#000" stroke-width="0.8"/>
<line x1="466" y1="244.1" x2="466" y2="245.7" stroke="#000" stroke-width="0.8"/>
<line x1="468.8" y1="244.1" x2="468.8" y2="245.7" stroke="#000" stroke-width="0.8"/>
<line x1="471.09" y1="244.1" x2="471.09" y2="245.7" stroke="#000" stroke-width="0.8"/>
<line x1="473.02" y1="244.1" x2="473.02" y2="245.7" stroke="#000" stroke-width="0.8"/>
<line x1="474.7" y1="244.1" x2="474.7" y2="245.7" stroke="#000" stroke-width="0.8"/>
<line x1="476.18" y1="244.1" x2="476.18" y2="245.7" stroke="#000" stroke-width="0.8"/>
<line x1="486.2" y1="244.1" x2="486.2" y2="245.7" stroke="#000" stroke-width="0.8"/>
<line x1="491.29" y1="244.1" x2="491.29" y2="245.7" stroke="#000" stroke-width="0.8"/>
<line x1="494.9" y1="244.1" x2="494.9" y2="245.7" stroke="#000" stroke-width="0.8"/>
<line x1="497.7" y1="244.1" x2="497.7" y2="245.7" stroke="#000" stroke-width="0.8"/>
<line x1="499.99" y1="244.1" x2="499.99" y2="245.7" stroke="#000" stroke-width="0.8"/>
<line x1="501.92" y1="244.1" x2="501.92" y2="245.7" stroke="#000" stroke-width="0.8"/>
<line x1="503.6" y1="244.1" x2="503.6" y2="245.7" stroke="#000" stroke-width="0.8"/>
<line x1="505.08" y1="244.1" x2="505.08" y2="245.7" stroke="#000" stroke-width="0.8"/>
<line x1="515.1" y1="244.1" x2="515.1" y2="245.7" stroke="#000" stroke-width="0.8"/>
<line x1="394.4" y1="169.56" x2="396" y2="169.56" stroke="#000" stroke-width="0.8"/>
<line x1="394.4" y1="165.22" x2="396" y2="165.22" stroke="#000" stroke-width="0.8"/>
<line x1="394.4" y1="162.13" x2="396" y2="162.13" stroke="#000" stroke-width="0.8"/>
<line x1="394.4" y1="159.74" x2="396" y2="159.74" stroke="#000" stroke-width="0.8"/>
<line x1="394.4" y1="157.78" x2="396" y2="157.78" stroke="#000" stroke-width="0.8"/>
<line x1="394.4" y1="156.13" x2="396" y2="156.13" stroke="#000" stroke-width="0.8"/>
<line x1="394.4" y1="154.69" x2="396" y2="154.69" stroke="#000" stroke-width="0.8"/>
<line x1="394.4" y1="153.43" x2="396" y2="153.43" stroke="#000" stroke-width="0.8"/>
<line x1="394.4" y1="197.13" x2="396" y2="197.13" stroke="#000" stroke-width="0.8"/>
<line x1="394.4" y1="192.06" x2="396" y2="192.06" stroke="#000" stroke-width="0.8"/>
<line x1="394.4" y1="188.46" x2="396" y2="188.46" stroke="#000" stroke-width="0.8"/>
<line x1="394.4" y1="185.67" x2="396" y2="185.67" stroke="#000" stroke-width="0.8"/>
<line x1="394.4" y1="183.39" x2="396" y2="183.39" stroke="#000" stroke-width="0.8"/>
<line x1="394.4" y1="181.46" x2="396" y2="181.46" stroke="#000" stroke-width="0.8"/>
<line x1="394.4" y1="179.79" x2="396" y2="179.79" stroke="#000" stroke-width="0.8"/>
<line x1="394.4" y1="178.32" x2="396" y2="178.32" stroke="#000" stroke-width="0.8"/>
<line x1="394.4" y1="144.9" x2="396" y2="144.9" stroke="#000" stroke-width="0.8"/>
<line x1="394.4" y1="208.5" x2="396" y2="208.5" stroke="#000" stroke-width="0.8"/>
<line x1="394.4" y1="211" x2="396" y2="211" stroke="#000" stroke-width="0.8"/>
<line x1="394.4" y1="213.5" x2="396" y2="213.5" stroke="#000" stroke-width="0.8"/>
<line x1="394.4" y1="219" x2="396" y2="219" stroke="#000" stroke-width="0.8"/>
<line x1="394.4" y1="221.5" x2="396" y2="221.5" stroke="#000" stroke-width="0.8"/>
<line x1="394.4" y1="224" x2="396" y2="224" stroke="#000" stroke-width="0.8"/>
<line x1="394.4" y1="229" x2="396" y2="229" stroke="#000" stroke-width="0.8"/>
<line x1="394.4" y1="232" x2="396" y2="232" stroke="#000" stroke-width="0.8"/>
<line x1="393.4" y1="216.1" x2="396" y2="216.1" stroke="#000" stroke-width="2.2"/>
<line x1="413.5" y1="244.1" x2="413.5" y2="246.6" stroke="#000" stroke-width="1"/>
<text x="405.04" y="259.2" font-size="7.5" textLength="11.44" lengthAdjust="spacingAndGlyphs" fill="#000" stroke-width="0.12">-10</text>
<text x="416.56" y="253" font-size="4.8" textLength="2.67" lengthAdjust="spacingAndGlyphs" fill="#000" stroke-width="0.06">2</text>
<line x1="448.6" y1="244.1" x2="448.6" y2="246.6" stroke="#000" stroke-width="1"/>
<text x="442.52" y="259.2" font-size="7.5" textLength="8.57" lengthAdjust="spacingAndGlyphs" fill="#000" stroke-width="0.12">10</text>
<text x="451.21" y="253" font-size="4.8" textLength="2.67" lengthAdjust="spacingAndGlyphs" fill="#000" stroke-width="0.06">3</text>
<line x1="477.5" y1="244.1" x2="477.5" y2="246.6" stroke="#000" stroke-width="1"/>
<text x="472.28" y="259.2" font-size="7.5" textLength="9.12" lengthAdjust="spacingAndGlyphs" fill="#000" stroke-width="0.12">10</text>
<text x="481.6" y="253" font-size="4.8" textLength="2.67" lengthAdjust="spacingAndGlyphs" fill="#000" stroke-width="0.06">4</text>
<line x1="505.8" y1="244.1" x2="505.8" y2="246.6" stroke="#000" stroke-width="1"/>
<text x="500.44" y="259.2" font-size="7.5" textLength="8.34" lengthAdjust="spacingAndGlyphs" fill="#000" stroke-width="0.12">10</text>
<text x="508.91" y="253" font-size="4.8" textLength="2.67" lengthAdjust="spacingAndGlyphs" fill="#000" stroke-width="0.06">5</text>
<g clip-path="url(#c3)">
<path d="M41.5 404.3L42.2 402.5L42.9 403.6L43.6 403.2L44.3 403.2L45.0 403.3L45.7 402.5L46.4 403.2L47.1 402.9L47.8 404.5L48.5 403.2L49.2 402.7L49.9 402.4L50.6 401.9L51.3 401.5L52.0 401.4L52.7 401.4L53.4 400.9L54.1 401.0L54.8 400.8L55.5 401.2L56.2 402.2L56.9 401.5L57.6 400.3L58.3 399.6L59.0 399.5L59.7 399.7L60.4 398.5L61.1 398.2L61.8 399.1L62.5 398.7L63.2 399.4L63.9 400.2L64.6 400.3L65.3 399.6L66.0 399.2L66.7 397.4L67.4 399.0L68.1 398.3L68.8 398.1L69.5 398.8L70.2 398.7L70.9 398.1L71.6 397.6L72.3 397.8L73.0 397.6L73.7 398.0L74.4 397.6L75.1 397.3L75.8 397.5L76.5 396.8L77.2 396.4L77.9 396.8L78.6 396.7L79.3 396.4L80.0 396.2L80.7 396.6L81.4 395.4L82.1 396.4L82.8 396.1L83.5 395.0L84.2 395.4L84.9 394.8L85.6 395.2L86.3 393.8L87.0 394.0L87.7 394.4L88.4 394.0L89.1 391.6L89.8 391.7L90.5 391.5L91.2 390.2L91.9 390.9L92.6 388.6L93.3 389.3L94.0 388.0L94.7 388.9L95.4 385.5L96.1 382.9L96.8 379.2L97.5 382.1L98.2 380.4L98.9 379.7L99.6 379.5L100.3 377.9L101.0 376.0L101.7 375.0L102.4 374.3L103.1 376.4L103.8 371.1L104.5 370.7L105.2 369.5L105.9 368.8L106.6 367.4L107.3 361.6L108.0 358.2L108.7 358.6L109.4 357.8L110.1 352.1L110.8 346.1L111.5 341.2L112.2 340.9L112.9 338.6L113.6 338.9L114.3 334.4L115.0 334.3L115.7 332.8L116.4 333.8L117.1 333.0L117.8 338.1L118.5 338.3L119.2 340.3L119.9 334.9L120.6 338.2L121.3 338.1L122.0 338.9L122.7 332.6L123.4 337.3L124.1 339.4L124.8 337.6L125.5 340.5L126.2 342.7L126.9 346.1L127.6 349.0L128.3 353.4L129.0 351.6L129.7 355.7L130.4 357.0L131.1 362.2L131.8 362.4L132.5 365.2L133.2 362.5L133.9 365.8L134.6 366.5L135.3 372.6L136.0 373.8L136.7 375.0L137.4 377.4L138.1 380.8L138.8 382.0L139.5 384.2L140.2 387.7L140.9 391.0L141.6 390.8L142.3 392.3L143.0 393.6L143.7 395.2L144.4 397.5L145.1 398.5L145.8 398.7L146.5 399.4L147.2 399.9L147.9 400.4L148.6 400.3L149.3 401.3L150.0 401.9L150.7 401.8L151.4 402.1L152.1 402.2L152.8 402.5L153.5 403.2L154.2 402.9L154.9 403.1L155.6 403.5L156.3 403.5L157.0 403.9L157.7 402.5L158.4 403.7L159.1 403.2L159.8 403.4L160.5 403.7L161.2 403.8L161.9 403.9L162.6 403.5L163.3 404.1L164.0 403.4L164.7 403.5L165.4 403.9L166.0 403.6L166.0 404.5L41.5 404.5Z" fill="#141414"/>
<path d="M44.9 403.8L47.0 391.0L50.6 371.0L52.5 345.2L54.1 329.0L56.5 312.9L58.6 304.3L60.2 306.5L61.4 311.3L62.2 329.0L63.8 346.8L66.2 371.0L68.0 388.0L69.2 396.5L70.3 400.5L72.0 402.5" fill="none" stroke="#505050" stroke-width="1.8" stroke-linejoin="round" clip-path="url(#hc3)"/>
<path d="M44.9 403.8L47.0 391.0L50.6 371.0L52.5 345.2L54.1 329.0L56.5 312.9L58.6 304.3L60.2 306.5L61.4 311.3L62.2 329.0L63.8 346.8L66.2 371.0L68.0 388.0L69.2 396.5L70.3 400.5L72.0 402.5" fill="none" stroke="#000" stroke-width="1.7" stroke-dasharray="3.6 1.9" stroke-linejoin="round"/>
<line x1="38.2" y1="303.5" x2="166.8" y2="303.5" stroke="#333" stroke-width="1"/>
<line x1="166.8" y1="303.5" x2="166.8" y2="406.9" stroke="#555" stroke-width="1"/>
<line x1="40.8" y1="303" x2="40.8" y2="405.2" stroke="#000" stroke-width="1.6"/>
<line x1="40" y1="404.4" x2="166.8" y2="404.4" stroke="#000" stroke-width="1.6"/>
<line x1="37.6" y1="303.5" x2="40.8" y2="303.5" stroke="#000" stroke-width="1.1"/>
<text x="23.64" y="305.8" font-size="6.4" textLength="11.53" lengthAdjust="spacingAndGlyphs" fill="#000" stroke-width="0.06">107</text>
<line x1="37.6" y1="328.73" x2="40.8" y2="328.73" stroke="#000" stroke-width="1.1"/>
<text x="27.44" y="331.03" font-size="6.4" textLength="7.69" lengthAdjust="spacingAndGlyphs" fill="#000" stroke-width="0.06">81</text>
<line x1="37.6" y1="353.95" x2="40.8" y2="353.95" stroke="#000" stroke-width="1.1"/>
<text x="27.34" y="356.25" font-size="6.4" textLength="7.69" lengthAdjust="spacingAndGlyphs" fill="#000" stroke-width="0.06">54</text>
<line x1="37.6" y1="379.17" x2="40.8" y2="379.17" stroke="#000" stroke-width="1.1"/>
<text x="27.47" y="381.47" font-size="6.4" textLength="7.69" lengthAdjust="spacingAndGlyphs" fill="#000" stroke-width="0.06">27</text>
<line x1="37.6" y1="404.4" x2="40.8" y2="404.4" stroke="#000" stroke-width="1.1"/>
<text x="31.21" y="406.7" font-size="6.4" textLength="3.84" lengthAdjust="spacingAndGlyphs" fill="#000" stroke-width="0.06">0</text>
<line x1="39.2" y1="309.81" x2="40.8" y2="309.81" stroke="#000" stroke-width="0.7"/>
<line x1="39.2" y1="316.11" x2="40.8" y2="316.11" stroke="#000" stroke-width="0.7"/>
<line x1="39.2" y1="322.42" x2="40.8" y2="322.42" stroke="#000" stroke-width="0.7"/>
<line x1="39.2" y1="335.03" x2="40.8" y2="335.03" stroke="#000" stroke-width="0.7"/>
<line x1="39.2" y1="341.34" x2="40.8" y2="341.34" stroke="#000" stroke-width="0.7"/>
<line x1="39.2" y1="347.64" x2="40.8" y2="347.64" stroke="#000" stroke-width="0.7"/>
<line x1="39.2" y1="360.26" x2="40.8" y2="360.26" stroke="#000" stroke-width="0.7"/>
<line x1="39.2" y1="366.56" x2="40.8" y2="366.56" stroke="#000" stroke-width="0.7"/>
<line x1="39.2" y1="372.87" x2="40.8" y2="372.87" stroke="#000" stroke-width="0.7"/>
<line x1="39.2" y1="385.48" x2="40.8" y2="385.48" stroke="#000" stroke-width="0.7"/>
<line x1="39.2" y1="391.79" x2="40.8" y2="391.79" stroke="#000" stroke-width="0.7"/>
<line x1="39.2" y1="398.09" x2="40.8" y2="398.09" stroke="#000" stroke-width="0.7"/>
<line x1="47.5" y1="404.4" x2="47.5" y2="407" stroke="#000" stroke-width="1"/>
<line x1="61.5" y1="404.4" x2="61.5" y2="407" stroke="#000" stroke-width="1"/>
<line x1="95" y1="404.4" x2="95" y2="407" stroke="#000" stroke-width="1"/>
<line x1="132.3" y1="404.4" x2="132.3" y2="407" stroke="#000" stroke-width="1"/>
<line x1="68.93" y1="404.4" x2="68.93" y2="406" stroke="#000" stroke-width="0.8"/>
<line x1="75.5" y1="404.4" x2="75.5" y2="406" stroke="#000" stroke-width="0.8"/>
<line x1="80.16" y1="404.4" x2="80.16" y2="406" stroke="#000" stroke-width="0.8"/>
<line x1="83.77" y1="404.4" x2="83.77" y2="406" stroke="#000" stroke-width="0.8"/>
<line x1="86.73" y1="404.4" x2="86.73" y2="406" stroke="#000" stroke-width="0.8"/>
<line x1="89.22" y1="404.4" x2="89.22" y2="406" stroke="#000" stroke-width="0.8"/>
<line x1="91.39" y1="404.4" x2="91.39" y2="406" stroke="#000" stroke-width="0.8"/>
<line x1="93.29" y1="404.4" x2="93.29" y2="406" stroke="#000" stroke-width="0.8"/>
<line x1="106.23" y1="404.4" x2="106.23" y2="406" stroke="#000" stroke-width="0.8"/>
<line x1="112.8" y1="404.4" x2="112.8" y2="406" stroke="#000" stroke-width="0.8"/>
<line x1="117.46" y1="404.4" x2="117.46" y2="406" stroke="#000" stroke-width="0.8"/>
<line x1="121.07" y1="404.4" x2="121.07" y2="406" stroke="#000" stroke-width="0.8"/>
<line x1="124.03" y1="404.4" x2="124.03" y2="406" stroke="#000" stroke-width="0.8"/>
<line x1="126.52" y1="404.4" x2="126.52" y2="406" stroke="#000" stroke-width="0.8"/>
<line x1="128.69" y1="404.4" x2="128.69" y2="406" stroke="#000" stroke-width="0.8"/>
<line x1="130.59" y1="404.4" x2="130.59" y2="406" stroke="#000" stroke-width="0.8"/>
<line x1="143.53" y1="404.4" x2="143.53" y2="406" stroke="#000" stroke-width="0.8"/>
<line x1="150.1" y1="404.4" x2="150.1" y2="406" stroke="#000" stroke-width="0.8"/>
<line x1="154.76" y1="404.4" x2="154.76" y2="406" stroke="#000" stroke-width="0.8"/>
<line x1="158.37" y1="404.4" x2="158.37" y2="406" stroke="#000" stroke-width="0.8"/>
<line x1="161.33" y1="404.4" x2="161.33" y2="406" stroke="#000" stroke-width="0.8"/>
<line x1="163.82" y1="404.4" x2="163.82" y2="406" stroke="#000" stroke-width="0.8"/>
<line x1="165.99" y1="404.4" x2="165.99" y2="406" stroke="#000" stroke-width="0.8"/>
<line x1="50" y1="404.4" x2="50" y2="406" stroke="#000" stroke-width="0.8"/>
<line x1="52.5" y1="404.4" x2="52.5" y2="406" stroke="#000" stroke-width="0.8"/>
<line x1="55" y1="404.4" x2="55" y2="406" stroke="#000" stroke-width="0.8"/>
<line x1="57.5" y1="404.4" x2="57.5" y2="406" stroke="#000" stroke-width="0.8"/>
<line x1="64.5" y1="404.4" x2="64.5" y2="406" stroke="#000" stroke-width="0.8"/>
<line x1="68" y1="404.4" x2="68" y2="406" stroke="#000" stroke-width="0.8"/>
<line x1="72" y1="404.4" x2="72" y2="406" stroke="#000" stroke-width="0.8"/>
<text x="40.07" y="421.3" font-size="7.6" textLength="10.69" lengthAdjust="spacingAndGlyphs" fill="#000" stroke-width="0.12">-10</text>
<text x="50.85" y="417.1" font-size="5" textLength="2.78" lengthAdjust="spacingAndGlyphs" fill="#000" stroke-width="0.06">2</text>
<text x="55.91" y="421.3" font-size="7.6" textLength="8.68" lengthAdjust="spacingAndGlyphs" fill="#000" stroke-width="0.12">10</text>
<text x="64.65" y="417.1" font-size="5" textLength="2.78" lengthAdjust="spacingAndGlyphs" fill="#000" stroke-width="0.06">2</text>
<text x="89.65" y="421.3" font-size="7.6" textLength="8.23" lengthAdjust="spacingAndGlyphs" fill="#000" stroke-width="0.12">10</text>
<text x="98" y="417.1" font-size="5" textLength="2.78" lengthAdjust="spacingAndGlyphs" fill="#000" stroke-width="0.06">3</text>
<text x="127.07" y="421.3" font-size="7.6" textLength="7.9" lengthAdjust="spacingAndGlyphs" fill="#000" stroke-width="0.12">10</text>
<text x="135.2" y="417.1" font-size="5" textLength="2.78" lengthAdjust="spacingAndGlyphs" fill="#000" stroke-width="0.06">4</text>
<text x="161.62" y="421.3" font-size="7.6" textLength="8.57" lengthAdjust="spacingAndGlyphs" fill="#000" stroke-width="0.12">10</text>
<text x="170.3" y="417.1" font-size="5" textLength="2.78" lengthAdjust="spacingAndGlyphs" fill="#000" stroke-width="0.06">5</text>
<text x="81.23" y="295.5" font-size="10.4" textLength="23.35" lengthAdjust="spacingAndGlyphs" fill="#000" stroke-width="0.18">mDC</text>
<text transform="translate(21.9 394.5) rotate(-90)" x="-0.77" y="0" font-size="8.8" textLength="82.47" lengthAdjust="spacingAndGlyphs" stroke-width="0.15">Relative Frequency</text>
<rect x="96.1" y="306.1" width="6.9" height="4.9" rx="0.8" fill="#111"/>
<text x="105.9" y="311" font-size="7.2" textLength="32.21" lengthAdjust="spacingAndGlyphs" fill="#000" stroke-width="0.12">Anti-IL36R</text>
<rect x="96.6" y="314.6" width="5.9" height="4.2" rx="0.6" fill="none" stroke="#000" stroke-width="0.9" stroke-dasharray="1.5 0.8"/>
<text x="105.24" y="319.2" font-size="7.2" textLength="47.87" lengthAdjust="spacingAndGlyphs" fill="#000" stroke-width="0.12">Isotype control</text>
</g>
<g clip-path="url(#c4)">
<path d="M243.5 402.1L244.2 401.3L244.9 401.0L245.6 399.7L246.3 398.0L247.0 397.7L247.7 396.3L248.4 395.4L249.1 393.6L249.8 393.2L250.5 392.0L251.2 390.7L251.9 386.8L252.6 383.7L253.3 378.6L254.0 379.3L254.7 371.4L255.4 373.8L256.1 370.4L256.8 368.2L257.5 366.7L258.2 364.8L258.9 364.6L259.6 361.9L260.3 362.6L261.0 355.5L261.7 356.5L262.4 353.2L263.1 354.0L263.8 347.5L264.5 348.4L265.2 347.1L265.9 342.2L266.6 344.8L267.3 344.1L268.0 347.4L268.7 349.5L269.4 348.7L270.1 351.1L270.8 354.2L271.5 357.9L272.2 360.2L272.9 359.9L273.6 362.3L274.3 364.3L275.0 367.1L275.7 369.9L276.4 372.4L277.1 377.7L277.8 378.1L278.5 381.6L279.2 385.5L279.9 387.8L280.6 391.2L281.3 392.8L282.0 394.5L282.7 395.1L283.4 397.5L284.1 398.3L284.8 399.0L285.5 399.6L286.2 399.9L286.9 400.3L287.6 400.4L288.3 400.7L289.0 401.2L289.7 400.8L290.4 401.7L291.1 401.1L291.8 401.0L292.5 402.3L293.2 401.6L293.9 401.3L294.6 402.5L295.3 401.8L296.0 402.4L296.7 401.8L297.4 402.1L298.1 401.7L298.8 401.7L299.5 402.1L300.2 402.5L300.9 402.8L301.6 403.4L302.3 402.2L303.0 402.9L303.7 402.3L304.4 402.5L305.1 402.1L305.8 402.1L306.5 402.3L307.2 402.2L307.9 402.6L308.6 402.4L309.3 403.1L310.0 402.7L310.7 402.7L311.4 403.1L312.1 402.9L312.8 402.7L313.5 402.7L314.2 402.7L314.9 403.1L315.6 403.0L316.3 402.9L317.0 403.0L317.7 402.6L318.4 403.0L319.1 402.3L319.8 403.3L320.5 402.8L321.2 402.9L321.9 403.0L322.6 402.8L323.3 402.7L324.0 403.2L324.7 402.8L325.4 402.5L326.1 403.0L326.8 402.2L327.5 403.4L328.2 402.7L328.9 402.8L329.6 403.6L330.3 403.6L331.0 402.8L331.7 403.0L332.4 403.2L333.1 403.4L333.8 402.8L334.5 402.8L335.2 403.2L335.9 402.9L336.6 402.8L337.3 402.5L338.0 401.6L338.7 401.4L339.4 400.8L340.1 402.0L340.8 402.8L341.5 402.3L342.2 403.3L342.9 403.3L343.6 402.9L344.3 402.9L345.0 403.0L345.7 402.7L346.4 402.9L347.1 403.0L347.8 403.2L348.0 403.0L348.0 404.5L243.5 404.5Z" fill="#141414"/>
<path d="M228.7 402.8L231.2 396.1L233.6 381.3L237.3 369.0L241.0 351.8L243.5 334.5L246.0 314.8L247.7 306.2L249.2 309.9L250.9 311.1L252.6 324.6L254.6 341.9L257.0 359.2L259.5 373.9L263.2 388.7L266.9 398.6L271.8 401.6L276.0 402.8" fill="none" stroke="#505050" stroke-width="1.8" stroke-linejoin="round" clip-path="url(#hc4)"/>
<path d="M228.7 402.8L231.2 396.1L233.6 381.3L237.3 369.0L241.0 351.8L243.5 334.5L246.0 314.8L247.7 306.2L249.2 309.9L250.9 311.1L252.6 324.6L254.6 341.9L257.0 359.2L259.5 373.9L263.2 388.7L266.9 398.6L271.8 401.6L276.0 402.8" fill="none" stroke="#000" stroke-width="1.7" stroke-dasharray="3.6 1.9" stroke-linejoin="round"/>
<line x1="218.6" y1="303.6" x2="349" y2="303.6" stroke="#333" stroke-width="1"/>
<line x1="349" y1="303.6" x2="349" y2="407.3" stroke="#555" stroke-width="1"/>
<line x1="221.2" y1="303.1" x2="221.2" y2="405.6" stroke="#000" stroke-width="1.6"/>
<line x1="220.4" y1="404.8" x2="349" y2="404.8" stroke="#000" stroke-width="1.6"/>
<line x1="218" y1="303.6" x2="221.2" y2="303.6" stroke="#000" stroke-width="1.1"/>
<text x="208.54" y="305.9" font-size="6.4" textLength="7.69" lengthAdjust="spacingAndGlyphs" fill="#000" stroke-width="0.06">89</text>
<line x1="218" y1="328.9" x2="221.2" y2="328.9" stroke="#000" stroke-width="1.1"/>
<text x="208.57" y="331.2" font-size="6.4" textLength="7.69" lengthAdjust="spacingAndGlyphs" fill="#000" stroke-width="0.06">67</text>
<line x1="218" y1="354.2" x2="221.2" y2="354.2" stroke="#000" stroke-width="1.1"/>
<text x="208.5" y="356.5" font-size="6.4" textLength="7.69" lengthAdjust="spacingAndGlyphs" fill="#000" stroke-width="0.06">45</text>
<line x1="218" y1="379.5" x2="221.2" y2="379.5" stroke="#000" stroke-width="1.1"/>
<text x="208.57" y="381.8" font-size="6.4" textLength="7.69" lengthAdjust="spacingAndGlyphs" fill="#000" stroke-width="0.06">22</text>
<line x1="218" y1="404.8" x2="221.2" y2="404.8" stroke="#000" stroke-width="1.1"/>
<text x="212.31" y="407.1" font-size="6.4" textLength="3.84" lengthAdjust="spacingAndGlyphs" fill="#000" stroke-width="0.06">0</text>
<line x1="219.6" y1="309.93" x2="221.2" y2="309.93" stroke="#000" stroke-width="0.7"/>
<line x1="219.6" y1="316.25" x2="221.2" y2="316.25" stroke="#000" stroke-width="0.7"/>
<line x1="219.6" y1="322.58" x2="221.2" y2="322.58" stroke="#000" stroke-width="0.7"/>
<line x1="219.6" y1="335.23" x2="221.2" y2="335.23" stroke="#000" stroke-width="0.7"/>
<line x1="219.6" y1="341.55" x2="221.2" y2="341.55" stroke="#000" stroke-width="0.7"/>
<line x1="219.6" y1="347.88" x2="221.2" y2="347.88" stroke="#000" stroke-width="0.7"/>
<line x1="219.6" y1="360.53" x2="221.2" y2="360.53" stroke="#000" stroke-width="0.7"/>
<line x1="219.6" y1="366.85" x2="221.2" y2="366.85" stroke="#000" stroke-width="0.7"/>
<line x1="219.6" y1="373.18" x2="221.2" y2="373.18" stroke="#000" stroke-width="0.7"/>
<line x1="219.6" y1="385.83" x2="221.2" y2="385.83" stroke="#000" stroke-width="0.7"/>
<line x1="219.6" y1="392.15" x2="221.2" y2="392.15" stroke="#000" stroke-width="0.7"/>
<line x1="219.6" y1="398.48" x2="221.2" y2="398.48" stroke="#000" stroke-width="0.7"/>
<line x1="231.5" y1="404.8" x2="231.5" y2="407.4" stroke="#000" stroke-width="1"/>
<line x1="252" y1="404.8" x2="252" y2="407.4" stroke="#000" stroke-width="1"/>
<line x1="293.5" y1="404.8" x2="293.5" y2="407.4" stroke="#000" stroke-width="1"/>
<line x1="337" y1="404.8" x2="337" y2="407.4" stroke="#000" stroke-width="1"/>
<line x1="263.09" y1="404.8" x2="263.09" y2="406.4" stroke="#000" stroke-width="0.8"/>
<line x1="270.75" y1="404.8" x2="270.75" y2="406.4" stroke="#000" stroke-width="0.8"/>
<line x1="276.19" y1="404.8" x2="276.19" y2="406.4" stroke="#000" stroke-width="0.8"/>
<line x1="280.41" y1="404.8" x2="280.41" y2="406.4" stroke="#000" stroke-width="0.8"/>
<line x1="283.85" y1="404.8" x2="283.85" y2="406.4" stroke="#000" stroke-width="0.8"/>
<line x1="286.76" y1="404.8" x2="286.76" y2="406.4" stroke="#000" stroke-width="0.8"/>
<line x1="289.28" y1="404.8" x2="289.28" y2="406.4" stroke="#000" stroke-width="0.8"/>
<line x1="291.51" y1="404.8" x2="291.51" y2="406.4" stroke="#000" stroke-width="0.8"/>
<line x1="306.59" y1="404.8" x2="306.59" y2="406.4" stroke="#000" stroke-width="0.8"/>
<line x1="314.25" y1="404.8" x2="314.25" y2="406.4" stroke="#000" stroke-width="0.8"/>
<line x1="319.69" y1="404.8" x2="319.69" y2="406.4" stroke="#000" stroke-width="0.8"/>
<line x1="323.91" y1="404.8" x2="323.91" y2="406.4" stroke="#000" stroke-width="0.8"/>
<line x1="327.35" y1="404.8" x2="327.35" y2="406.4" stroke="#000" stroke-width="0.8"/>
<line x1="330.26" y1="404.8" x2="330.26" y2="406.4" stroke="#000" stroke-width="0.8"/>
<line x1="332.78" y1="404.8" x2="332.78" y2="406.4" stroke="#000" stroke-width="0.8"/>
<line x1="335.01" y1="404.8" x2="335.01" y2="406.4" stroke="#000" stroke-width="0.8"/>
<line x1="234" y1="404.8" x2="234" y2="406.4" stroke="#000" stroke-width="0.8"/>
<line x1="236.5" y1="404.8" x2="236.5" y2="406.4" stroke="#000" stroke-width="0.8"/>
<line x1="239" y1="404.8" x2="239" y2="406.4" stroke="#000" stroke-width="0.8"/>
<line x1="241.5" y1="404.8" x2="241.5" y2="406.4" stroke="#000" stroke-width="0.8"/>
<line x1="244" y1="404.8" x2="244" y2="406.4" stroke="#000" stroke-width="0.8"/>
<line x1="246.5" y1="404.8" x2="246.5" y2="406.4" stroke="#000" stroke-width="0.8"/>
<line x1="249" y1="404.8" x2="249" y2="406.4" stroke="#000" stroke-width="0.8"/>
<text x="223.61" y="421.3" font-size="7.6" textLength="12.6" lengthAdjust="spacingAndGlyphs" fill="#000" stroke-width="0.12">-10</text>
<text x="236.25" y="417.1" font-size="5" textLength="2.78" lengthAdjust="spacingAndGlyphs" fill="#000" stroke-width="0.06">2</text>
<text x="246.99" y="421.3" font-size="7.6" textLength="9.01" lengthAdjust="spacingAndGlyphs" fill="#000" stroke-width="0.12">10</text>
<text x="256.05" y="417.1" font-size="5" textLength="2.78" lengthAdjust="spacingAndGlyphs" fill="#000" stroke-width="0.06">2</text>
<text x="287.66" y="421.3" font-size="7.6" textLength="9.45" lengthAdjust="spacingAndGlyphs" fill="#000" stroke-width="0.12">10</text>
<text x="297.2" y="417.1" font-size="5" textLength="2.78" lengthAdjust="spacingAndGlyphs" fill="#000" stroke-width="0.06">3</text>
<text x="331.19" y="421.3" font-size="7.6" textLength="9.01" lengthAdjust="spacingAndGlyphs" fill="#000" stroke-width="0.12">10</text>
<text x="340.4" y="417.1" font-size="5" textLength="2.78" lengthAdjust="spacingAndGlyphs" fill="#000" stroke-width="0.06">4</text>
<text x="249.22" y="295.9" font-size="10.4" textLength="53.38" lengthAdjust="spacingAndGlyphs" fill="#000" stroke-width="0.18">Monocytes</text>
<text transform="translate(203.9 395) rotate(-90)" x="-0.77" y="0" font-size="8.8" textLength="83.28" lengthAdjust="spacingAndGlyphs" stroke-width="0.15">Relative Frequency</text>
<rect x="278.4" y="306.9" width="6.9" height="4.9" rx="0.8" fill="#111"/>
<text x="288.2" y="311.8" font-size="7.2" textLength="32.21" lengthAdjust="spacingAndGlyphs" fill="#000" stroke-width="0.12">Anti-IL36R</text>
<rect x="278.9" y="315.4" width="5.9" height="4.2" rx="0.6" fill="none" stroke="#000" stroke-width="0.9" stroke-dasharray="1.5 0.8"/>
<text x="287.55" y="320" font-size="7.2" textLength="47.15" lengthAdjust="spacingAndGlyphs" fill="#000" stroke-width="0.12">Isotype control</text>
</g>
<path d="M400.6 402.5L401.3 401.1L402.0 400.4L402.7 399.5L403.4 398.6L404.1 397.0L404.8 395.1L405.5 392.5L406.2 391.0L406.9 389.3L407.6 385.8L408.3 381.8L409.0 378.9L409.7 378.0L410.4 371.8L411.1 364.0L411.8 362.7L412.5 356.1L413.2 352.5L413.9 348.2L414.6 343.2L415.3 341.0L416.0 335.3L416.7 329.8L417.4 327.2L418.1 323.0L418.8 313.3L419.5 312.4L420.2 309.4L420.9 309.3L421.6 308.6L422.3 309.0L423.0 306.1L423.7 305.9L424.4 310.5L425.1 317.8L425.8 322.5L426.5 328.9L427.2 338.9L427.9 343.2L428.6 354.3L429.3 359.9L430.0 361.2L430.7 371.9L431.4 374.1L432.1 379.8L432.8 384.0L433.5 385.8L434.2 390.1L434.9 392.8L435.6 396.1L436.3 396.2L437.0 397.7L437.7 397.7L438.4 398.7L439.1 399.2L439.8 400.9L440.5 401.2L441.2 402.2L441.9 401.5L442.6 401.7L443.3 401.8L444.0 401.2L444.7 401.5L445.4 402.2L446.1 401.6L446.8 401.9L447.5 401.9L448.2 402.2L448.9 401.9L449.6 402.0L450.3 402.3L451.0 402.3L451.7 402.0L452.4 402.8L453.1 401.9L453.8 402.0L454.5 402.1L455.2 403.1L455.9 402.6L456.6 402.4L457.3 402.4L458.0 403.2L458.7 402.6L459.4 402.6L460.1 403.5L460.8 402.7L461.5 403.1L462.2 403.2L462.9 403.0L463.6 403.2L464.3 403.8L465.0 403.0L465.7 402.7L466.4 402.5L467.1 403.2L467.8 403.1L468.5 403.4L469.2 403.1L469.9 403.1L470.6 403.0L471.3 403.0L472.0 403.3L472.7 403.1L473.4 403.3L474.1 404.1L474.8 403.5L475.5 402.6L476.2 404.0L476.9 403.4L477.6 402.9L478.3 403.7L479.0 403.3L479.7 403.0L480.4 403.0L481.1 402.9L481.8 403.3L482.5 403.8L483.2 403.2L483.9 403.5L484.6 404.1L485.3 402.8L486.0 403.4L486.7 403.2L487.4 402.9L488.1 402.9L488.8 403.3L489.5 403.5L490.2 403.1L490.9 403.4L491.6 403.7L492.3 403.5L493.0 403.7L493.7 403.6L494.4 403.6L495.1 404.2L495.8 403.7L496.5 403.4L497.2 403.7L497.9 403.0L498.6 403.3L499.3 403.7L500.0 403.7L500.7 404.1L501.4 403.4L502.1 402.8L502.8 404.2L503.5 403.9L504.2 403.0L504.9 404.0L505.6 403.5L506.3 402.7L507.0 403.3L507.7 403.2L508.4 404.1L509.1 403.1L509.8 403.4L510.5 403.3L511.2 403.3L511.9 403.1L512.6 403.6L513.3 403.9L514.0 403.7L514.7 403.1L515.4 403.0L516.1 403.5L516.8 403.2L517.0 403.5L517.0 404.8L399.9 404.8Z" fill="#141414"/>
<path d="M402.8 402.8L406.4 382.0L409.8 361.6L412.3 345.0L414.6 329.6L416.2 318.0L417.6 312.5L419.5 310.6L420.9 306.5L421.2 303.8L421.6 306.0L423.3 309.0L424.5 322.0L426.5 345.0L428.8 366.0L431.0 384.0L433.5 395.5L437.5 401.5L441.0 403.0" fill="none" stroke="#505050" stroke-width="1.8" stroke-linejoin="round" clip-path="url(#hc5)"/>
<path d="M402.8 402.8L406.4 382.0L409.8 361.6L412.3 345.0L414.6 329.6L416.2 318.0L417.6 312.5L419.5 310.6L420.9 306.5L421.2 303.8L421.6 306.0L423.3 309.0L424.5 322.0L426.5 345.0L428.8 366.0L431.0 384.0L433.5 395.5L437.5 401.5L441.0 403.0" fill="none" stroke="#000" stroke-width="1.7" stroke-dasharray="3.6 1.9" stroke-linejoin="round"/>
<line x1="393" y1="303.5" x2="518.2" y2="303.5" stroke="#333" stroke-width="1"/>
<line x1="518.2" y1="303.5" x2="518.2" y2="407.3" stroke="#555" stroke-width="1"/>
<line x1="395.6" y1="303" x2="395.6" y2="405.6" stroke="#000" stroke-width="1.6"/>
<line x1="394.8" y1="404.8" x2="518.2" y2="404.8" stroke="#000" stroke-width="1.6"/>
<line x1="392.4" y1="303.5" x2="395.6" y2="303.5" stroke="#000" stroke-width="1.1"/>
<text x="379.7" y="305.8" font-size="6.4" textLength="11.53" lengthAdjust="spacingAndGlyphs" fill="#000" stroke-width="0.06">434</text>
<line x1="392.4" y1="328.82" x2="395.6" y2="328.82" stroke="#000" stroke-width="1.1"/>
<text x="379.77" y="331.12" font-size="6.4" textLength="11.53" lengthAdjust="spacingAndGlyphs" fill="#000" stroke-width="0.06">326</text>
<line x1="392.4" y1="354.15" x2="395.6" y2="354.15" stroke="#000" stroke-width="1.1"/>
<text x="379.84" y="356.45" font-size="6.4" textLength="11.53" lengthAdjust="spacingAndGlyphs" fill="#000" stroke-width="0.06">217</text>
<line x1="392.4" y1="379.48" x2="395.6" y2="379.48" stroke="#000" stroke-width="1.1"/>
<text x="379.8" y="381.78" font-size="6.4" textLength="11.53" lengthAdjust="spacingAndGlyphs" fill="#000" stroke-width="0.06">109</text>
<line x1="392.4" y1="404.8" x2="395.6" y2="404.8" stroke="#000" stroke-width="1.1"/>
<text x="387.41" y="407.1" font-size="6.4" textLength="3.84" lengthAdjust="spacingAndGlyphs" fill="#000" stroke-width="0.06">0</text>
<line x1="394" y1="309.83" x2="395.6" y2="309.83" stroke="#000" stroke-width="0.7"/>
<line x1="394" y1="316.16" x2="395.6" y2="316.16" stroke="#000" stroke-width="0.7"/>
<line x1="394" y1="322.49" x2="395.6" y2="322.49" stroke="#000" stroke-width="0.7"/>
<line x1="394" y1="335.16" x2="395.6" y2="335.16" stroke="#000" stroke-width="0.7"/>
<line x1="394" y1="341.49" x2="395.6" y2="341.49" stroke="#000" stroke-width="0.7"/>
<line x1="394" y1="347.82" x2="395.6" y2="347.82" stroke="#000" stroke-width="0.7"/>
<line x1="394" y1="360.48" x2="395.6" y2="360.48" stroke="#000" stroke-width="0.7"/>
<line x1="394" y1="366.81" x2="395.6" y2="366.81" stroke="#000" stroke-width="0.7"/>
<line x1="394" y1="373.14" x2="395.6" y2="373.14" stroke="#000" stroke-width="0.7"/>
<line x1="394" y1="385.81" x2="395.6" y2="385.81" stroke="#000" stroke-width="0.7"/>
<line x1="394" y1="392.14" x2="395.6" y2="392.14" stroke="#000" stroke-width="0.7"/>
<line x1="394" y1="398.47" x2="395.6" y2="398.47" stroke="#000" stroke-width="0.7"/>
<line x1="406" y1="404.8" x2="406" y2="407.4" stroke="#000" stroke-width="1"/>
<line x1="425.5" y1="404.8" x2="425.5" y2="407.4" stroke="#000" stroke-width="1"/>
<line x1="466" y1="404.8" x2="466" y2="407.4" stroke="#000" stroke-width="1"/>
<line x1="507" y1="404.8" x2="507" y2="407.4" stroke="#000" stroke-width="1"/>
<line x1="437.34" y1="404.8" x2="437.34" y2="406.4" stroke="#000" stroke-width="0.8"/>
<line x1="444.56" y1="404.8" x2="444.56" y2="406.4" stroke="#000" stroke-width="0.8"/>
<line x1="449.68" y1="404.8" x2="449.68" y2="406.4" stroke="#000" stroke-width="0.8"/>
<line x1="453.66" y1="404.8" x2="453.66" y2="406.4" stroke="#000" stroke-width="0.8"/>
<line x1="456.9" y1="404.8" x2="456.9" y2="406.4" stroke="#000" stroke-width="0.8"/>
<line x1="459.65" y1="404.8" x2="459.65" y2="406.4" stroke="#000" stroke-width="0.8"/>
<line x1="462.03" y1="404.8" x2="462.03" y2="406.4" stroke="#000" stroke-width="0.8"/>
<line x1="464.12" y1="404.8" x2="464.12" y2="406.4" stroke="#000" stroke-width="0.8"/>
<line x1="478.34" y1="404.8" x2="478.34" y2="406.4" stroke="#000" stroke-width="0.8"/>
<line x1="485.56" y1="404.8" x2="485.56" y2="406.4" stroke="#000" stroke-width="0.8"/>
<line x1="490.68" y1="404.8" x2="490.68" y2="406.4" stroke="#000" stroke-width="0.8"/>
<line x1="494.66" y1="404.8" x2="494.66" y2="406.4" stroke="#000" stroke-width="0.8"/>
<line x1="497.9" y1="404.8" x2="497.9" y2="406.4" stroke="#000" stroke-width="0.8"/>
<line x1="500.65" y1="404.8" x2="500.65" y2="406.4" stroke="#000" stroke-width="0.8"/>
<line x1="503.03" y1="404.8" x2="503.03" y2="406.4" stroke="#000" stroke-width="0.8"/>
<line x1="505.12" y1="404.8" x2="505.12" y2="406.4" stroke="#000" stroke-width="0.8"/>
<line x1="408.5" y1="404.8" x2="408.5" y2="406.4" stroke="#000" stroke-width="0.8"/>
<line x1="411" y1="404.8" x2="411" y2="406.4" stroke="#000" stroke-width="0.8"/>
<line x1="413.5" y1="404.8" x2="413.5" y2="406.4" stroke="#000" stroke-width="0.8"/>
<line x1="416" y1="404.8" x2="416" y2="406.4" stroke="#000" stroke-width="0.8"/>
<line x1="418.5" y1="404.8" x2="418.5" y2="406.4" stroke="#000" stroke-width="0.8"/>
<line x1="421" y1="404.8" x2="421" y2="406.4" stroke="#000" stroke-width="0.8"/>
<line x1="423" y1="404.8" x2="423" y2="406.4" stroke="#000" stroke-width="0.8"/>
<text x="397.63" y="421.3" font-size="7.6" textLength="11.75" lengthAdjust="spacingAndGlyphs" fill="#000" stroke-width="0.12">-10</text>
<text x="409.45" y="417.1" font-size="5" textLength="2.78" lengthAdjust="spacingAndGlyphs" fill="#000" stroke-width="0.06">2</text>
<text x="420.05" y="421.3" font-size="7.6" textLength="8.23" lengthAdjust="spacingAndGlyphs" fill="#000" stroke-width="0.12">10</text>
<text x="428.35" y="417.1" font-size="5" textLength="2.78" lengthAdjust="spacingAndGlyphs" fill="#000" stroke-width="0.06">2</text>
<text x="459.92" y="421.3" font-size="7.6" textLength="8.57" lengthAdjust="spacingAndGlyphs" fill="#000" stroke-width="0.12">10</text>
<text x="468.6" y="417.1" font-size="5" textLength="2.78" lengthAdjust="spacingAndGlyphs" fill="#000" stroke-width="0.06">3</text>
<text x="501.19" y="421.3" font-size="7.6" textLength="9.01" lengthAdjust="spacingAndGlyphs" fill="#000" stroke-width="0.12">10</text>
<text x="510.4" y="417.1" font-size="5" textLength="2.78" lengthAdjust="spacingAndGlyphs" fill="#000" stroke-width="0.06">4</text>
<text x="439.9" y="295.4" font-size="10.4" textLength="29.37" lengthAdjust="spacingAndGlyphs" fill="#000" stroke-width="0.18">T cells</text>
<text transform="translate(378 394.2) rotate(-90)" x="-0.76" y="0" font-size="8.8" textLength="81.76" lengthAdjust="spacingAndGlyphs" stroke-width="0.15">Relative Frequency</text>
<rect x="453.1" y="307.2" width="6.9" height="4.9" rx="0.8" fill="#111"/>
<text x="462.9" y="312.1" font-size="7.2" textLength="32.21" lengthAdjust="spacingAndGlyphs" fill="#000" stroke-width="0.12">Anti-IL36R</text>
<rect x="453.6" y="315.6" width="5.9" height="4.2" rx="0.6" fill="none" stroke="#000" stroke-width="0.9" stroke-dasharray="1.5 0.8"/>
<text x="462.26" y="320.2" font-size="7.2" textLength="46.53" lengthAdjust="spacingAndGlyphs" fill="#000" stroke-width="0.12">Isotype control</text>
<text x="145.86" y="443.2" font-size="9.6" textLength="210.15" lengthAdjust="spacingAndGlyphs" fill="#000" stroke-width="0.18">Surface IL-36 receptor expression (fluorescence)</text>
</svg>
</body></html>
